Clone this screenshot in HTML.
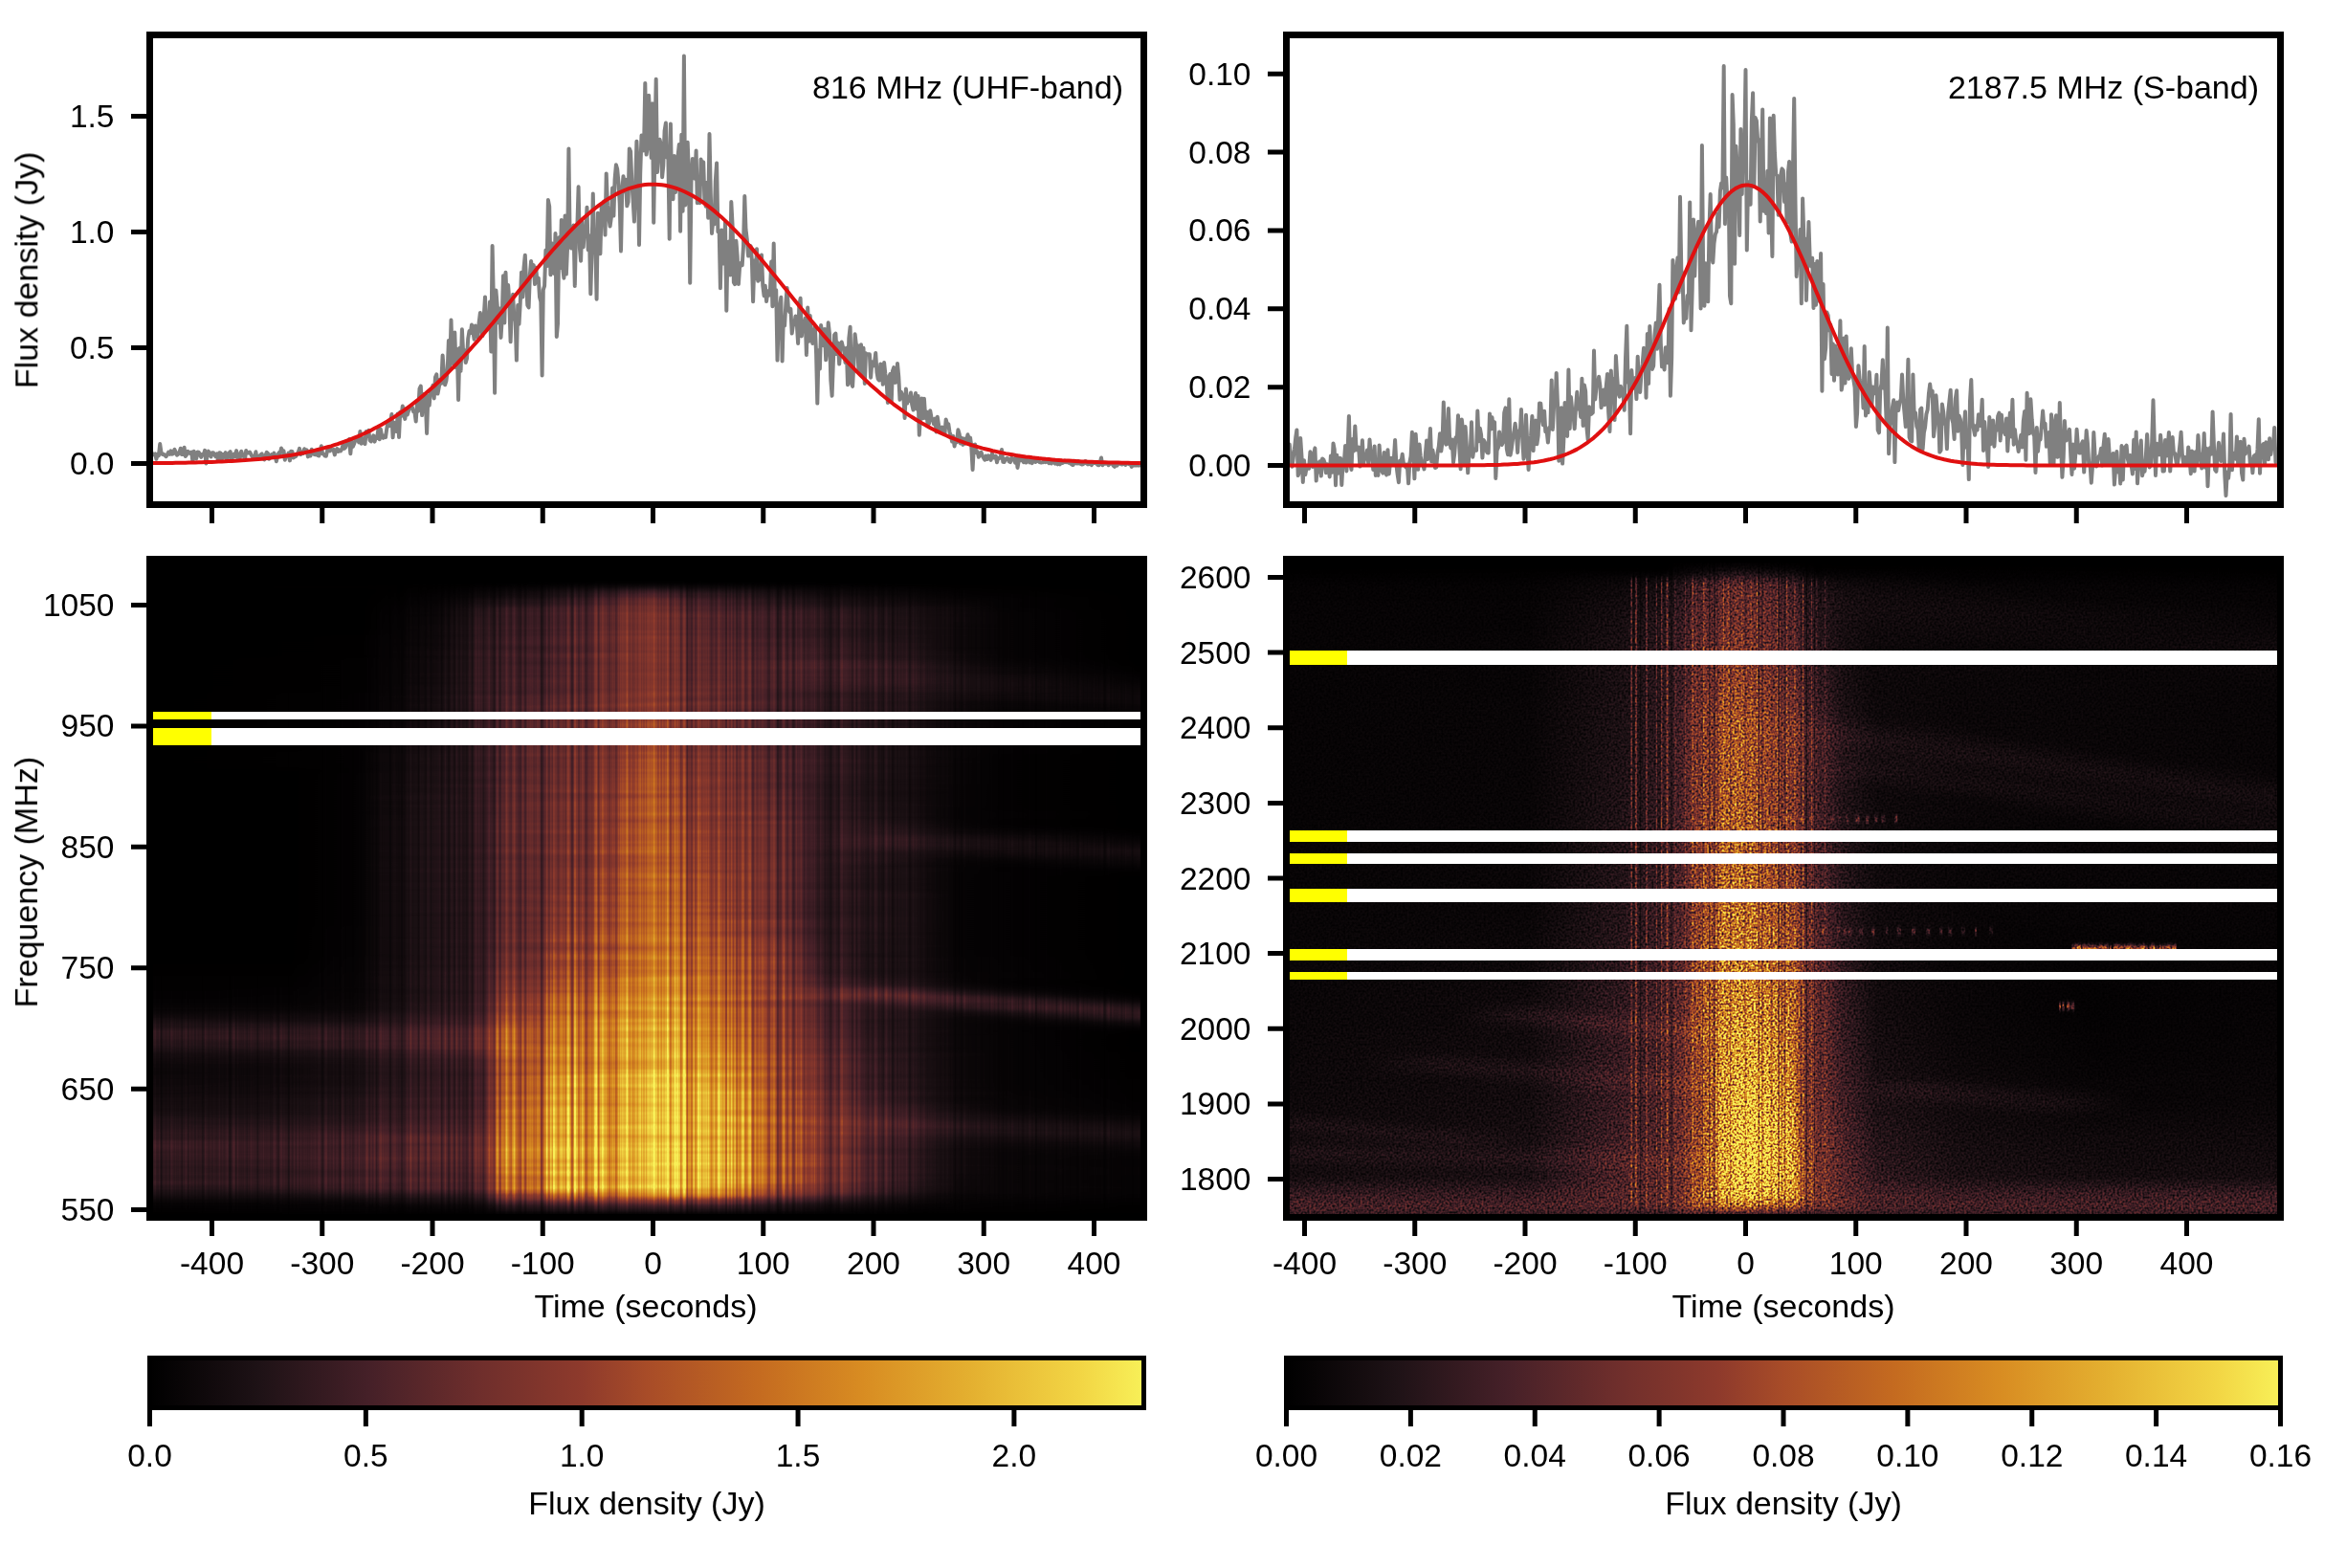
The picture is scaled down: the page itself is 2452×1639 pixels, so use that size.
<!DOCTYPE html><html><head><meta charset="utf-8"><style>html,body{margin:0;padding:0;background:#fff;overflow:hidden}svg{display:block}</style></head><body><svg width="2452" height="1639" viewBox="0 0 2452 1639"><defs><clipPath id="cTL"><rect x="156.5" y="36.5" width="1039" height="491"/></clipPath><clipPath id="cTR"><rect x="1344.5" y="36.5" width="1039" height="491"/></clipPath><clipPath id="cBL"><rect x="156.5" y="584.5" width="1039" height="688"/></clipPath><clipPath id="cBR"><rect x="1344.5" y="584.5" width="1039" height="688"/></clipPath><filter id="fl" x="0" y="0" width="1" height="1" color-interpolation-filters="sRGB"><feGaussianBlur in="SourceGraphic" stdDeviation="1.2 2.5" result="b"/><feTurbulence type="fractalNoise" baseFrequency="0.28 0" numOctaves="2" seed="4"/><feColorMatrix type="matrix" values="1 0 0 0 0 1 0 0 0 0 1 0 0 0 0 0 0 0 0 1" result="n1"/><feComposite in="b" in2="n1" operator="arithmetic" k1="1.25" k2="0.375" k3="0" k4="0" result="m1"/><feTurbulence type="fractalNoise" baseFrequency="0.004 0.15" numOctaves="2" seed="8"/><feColorMatrix type="matrix" values="1 0 0 0 0 1 0 0 0 0 1 0 0 0 0 0 0 0 0 1" result="n2"/><feComposite in="m1" in2="n2" operator="arithmetic" k1="0.3" k2="0.85" k3="0" k4="0"/><feComponentTransfer><feFuncR type="table" tableValues="0.000 0.027 0.053 0.080 0.107 0.139 0.173 0.208 0.243 0.278 0.314 0.351 0.388 0.424 0.455 0.485 0.515 0.545 0.580 0.620 0.659 0.684 0.709 0.734 0.759 0.780 0.798 0.816 0.835 0.851 0.861 0.872 0.883 0.894 0.906 0.919 0.931 0.944 0.954 0.963 0.973"/><feFuncG type="table" tableValues="0.000 0.016 0.032 0.048 0.064 0.078 0.091 0.103 0.116 0.128 0.140 0.153 0.165 0.178 0.189 0.201 0.212 0.223 0.244 0.271 0.298 0.325 0.352 0.378 0.405 0.434 0.466 0.497 0.528 0.559 0.592 0.624 0.657 0.689 0.722 0.755 0.789 0.822 0.860 0.900 0.941"/><feFuncB type="table" tableValues="0.000 0.020 0.039 0.059 0.078 0.096 0.112 0.128 0.144 0.158 0.161 0.165 0.168 0.172 0.173 0.173 0.173 0.173 0.169 0.163 0.157 0.150 0.143 0.135 0.128 0.127 0.128 0.130 0.132 0.137 0.150 0.163 0.175 0.188 0.206 0.223 0.241 0.259 0.285 0.315 0.345"/></feComponentTransfer></filter><filter id="fr" x="0" y="0" width="1" height="1" color-interpolation-filters="sRGB"><feGaussianBlur in="SourceGraphic" stdDeviation="0.6 2.5" result="b"/><feTurbulence type="fractalNoise" baseFrequency="0.45" numOctaves="1" seed="9"/><feColorMatrix type="matrix" values="1 0 0 0 0 1 0 0 0 0 1 0 0 0 0 0 0 0 0 1" result="n1"/><feComposite in="b" in2="n1" operator="arithmetic" k1="2.8" k2="-0.4" k3="0" k4="0"/><feComponentTransfer><feFuncR type="table" tableValues="0.000 0.027 0.053 0.080 0.107 0.139 0.173 0.208 0.243 0.278 0.314 0.351 0.388 0.424 0.455 0.485 0.515 0.545 0.580 0.620 0.659 0.684 0.709 0.734 0.759 0.780 0.798 0.816 0.835 0.851 0.861 0.872 0.883 0.894 0.906 0.919 0.931 0.944 0.954 0.963 0.973"/><feFuncG type="table" tableValues="0.000 0.016 0.032 0.048 0.064 0.078 0.091 0.103 0.116 0.128 0.140 0.153 0.165 0.178 0.189 0.201 0.212 0.223 0.244 0.271 0.298 0.325 0.352 0.378 0.405 0.434 0.466 0.497 0.528 0.559 0.592 0.624 0.657 0.689 0.722 0.755 0.789 0.822 0.860 0.900 0.941"/><feFuncB type="table" tableValues="0.000 0.020 0.039 0.059 0.078 0.096 0.112 0.128 0.144 0.158 0.161 0.165 0.168 0.172 0.173 0.173 0.173 0.173 0.169 0.163 0.157 0.150 0.143 0.135 0.128 0.127 0.128 0.130 0.132 0.137 0.150 0.163 0.175 0.188 0.206 0.223 0.241 0.259 0.285 0.315 0.345"/></feComponentTransfer></filter><linearGradient id="gl7"><stop offset=".002" stop-color="#000000"/><stop offset=".294" stop-color="#020202"/><stop offset=".390" stop-color="#070707"/><stop offset=".502" stop-color="#181818"/><stop offset=".537" stop-color="#111111"/><stop offset=".671" stop-color="#070707"/><stop offset=".813" stop-color="#010101"/><stop offset=".998" stop-color="#000000"/></linearGradient><linearGradient id="gl8"><stop offset=".002" stop-color="#000000"/><stop offset=".213" stop-color="#000000"/><stop offset=".294" stop-color="#030303"/><stop offset=".390" stop-color="#0f0f0f"/><stop offset=".437" stop-color="#1a1a1a"/><stop offset=".502" stop-color="#303030"/><stop offset=".537" stop-color="#212121"/><stop offset=".671" stop-color="#0d0d0d"/><stop offset=".813" stop-color="#030303"/><stop offset=".998" stop-color="#000000"/></linearGradient><linearGradient id="gl9"><stop offset=".002" stop-color="#000000"/><stop offset=".213" stop-color="#000000"/><stop offset=".294" stop-color="#050505"/><stop offset=".390" stop-color="#161616"/><stop offset=".437" stop-color="#272727"/><stop offset=".502" stop-color="#484848"/><stop offset=".537" stop-color="#323232"/><stop offset=".671" stop-color="#141414"/><stop offset=".813" stop-color="#040404"/><stop offset=".998" stop-color="#000000"/></linearGradient><linearGradient id="gl10"><stop offset=".002" stop-color="#000000"/><stop offset=".213" stop-color="#000000"/><stop offset=".290" stop-color="#060606"/><stop offset=".348" stop-color="#161616"/><stop offset=".390" stop-color="#1c1c1c"/><stop offset=".437" stop-color="#2d2d2d"/><stop offset=".502" stop-color="#4f4f4f"/><stop offset=".537" stop-color="#383838"/><stop offset=".671" stop-color="#191919"/><stop offset=".813" stop-color="#060606"/><stop offset=".998" stop-color="#000000"/></linearGradient><linearGradient id="gl11"><stop offset=".002" stop-color="#000000"/><stop offset=".213" stop-color="#000000"/><stop offset=".290" stop-color="#070707"/><stop offset=".337" stop-color="#191919"/><stop offset=".390" stop-color="#222222"/><stop offset=".437" stop-color="#333333"/><stop offset=".502" stop-color="#555555"/><stop offset=".537" stop-color="#3e3e3e"/><stop offset=".583" stop-color="#303030"/><stop offset=".671" stop-color="#1e1e1e"/><stop offset=".860" stop-color="#040404"/><stop offset=".998" stop-color="#000000"/></linearGradient><linearGradient id="gl12"><stop offset=".002" stop-color="#000000"/><stop offset=".213" stop-color="#000000"/><stop offset=".290" stop-color="#090909"/><stop offset=".348" stop-color="#222222"/><stop offset=".390" stop-color="#292929"/><stop offset=".437" stop-color="#393939"/><stop offset=".502" stop-color="#5c5c5c"/><stop offset=".537" stop-color="#444444"/><stop offset=".583" stop-color="#353535"/><stop offset=".667" stop-color="#232323"/><stop offset=".860" stop-color="#040404"/><stop offset=".998" stop-color="#000000"/></linearGradient><linearGradient id="gl13"><stop offset=".002" stop-color="#000000"/><stop offset=".213" stop-color="#000000"/><stop offset=".290" stop-color="#0a0a0a"/><stop offset=".348" stop-color="#292929"/><stop offset=".390" stop-color="#2f2f2f"/><stop offset=".437" stop-color="#3f3f3f"/><stop offset=".502" stop-color="#636363"/><stop offset=".537" stop-color="#4b4b4b"/><stop offset=".583" stop-color="#3a3a3a"/><stop offset=".633" stop-color="#2f2f2f"/><stop offset=".860" stop-color="#050505"/><stop offset=".998" stop-color="#000000"/></linearGradient><linearGradient id="gl14"><stop offset=".002" stop-color="#000000"/><stop offset=".213" stop-color="#000000"/><stop offset=".290" stop-color="#0b0b0b"/><stop offset=".337" stop-color="#272727"/><stop offset=".352" stop-color="#2d2d2d"/><stop offset=".390" stop-color="#323232"/><stop offset=".437" stop-color="#434343"/><stop offset=".502" stop-color="#666666"/><stop offset=".537" stop-color="#4e4e4e"/><stop offset=".583" stop-color="#3d3d3d"/><stop offset=".633" stop-color="#323232"/><stop offset=".860" stop-color="#060606"/><stop offset=".998" stop-color="#000000"/></linearGradient><linearGradient id="gl15"><stop offset=".002" stop-color="#000000"/><stop offset=".213" stop-color="#000000"/><stop offset=".290" stop-color="#0c0c0c"/><stop offset=".337" stop-color="#282828"/><stop offset=".390" stop-color="#333333"/><stop offset=".437" stop-color="#434343"/><stop offset=".502" stop-color="#666666"/><stop offset=".537" stop-color="#4e4e4e"/><stop offset=".579" stop-color="#3f3f3f"/><stop offset=".667" stop-color="#2b2b2b"/><stop offset=".860" stop-color="#060606"/><stop offset=".998" stop-color="#000000"/></linearGradient><linearGradient id="gl16"><stop offset=".002" stop-color="#000000"/><stop offset=".213" stop-color="#000000"/><stop offset=".290" stop-color="#0c0c0c"/><stop offset=".337" stop-color="#292929"/><stop offset=".390" stop-color="#333333"/><stop offset=".437" stop-color="#444444"/><stop offset=".502" stop-color="#676767"/><stop offset=".537" stop-color="#4f4f4f"/><stop offset=".579" stop-color="#3f3f3f"/><stop offset=".667" stop-color="#2b2b2b"/><stop offset=".860" stop-color="#060606"/><stop offset=".998" stop-color="#000000"/></linearGradient><linearGradient id="gl17"><stop offset=".002" stop-color="#000000"/><stop offset=".213" stop-color="#000000"/><stop offset=".290" stop-color="#0d0d0d"/><stop offset=".337" stop-color="#292929"/><stop offset=".390" stop-color="#333333"/><stop offset=".437" stop-color="#444444"/><stop offset=".502" stop-color="#676767"/><stop offset=".537" stop-color="#4f4f4f"/><stop offset=".583" stop-color="#3f3f3f"/><stop offset=".671" stop-color="#2b2b2b"/><stop offset=".767" stop-color="#1a1a1a"/><stop offset=".813" stop-color="#0d0d0d"/><stop offset=".860" stop-color="#060606"/><stop offset=".998" stop-color="#000000"/></linearGradient><linearGradient id="gl18"><stop offset=".002" stop-color="#000000"/><stop offset=".213" stop-color="#000000"/><stop offset=".290" stop-color="#0d0d0d"/><stop offset=".337" stop-color="#2a2a2a"/><stop offset=".390" stop-color="#343434"/><stop offset=".437" stop-color="#454545"/><stop offset=".502" stop-color="#676767"/><stop offset=".537" stop-color="#505050"/><stop offset=".583" stop-color="#3f3f3f"/><stop offset=".671" stop-color="#2b2b2b"/><stop offset=".767" stop-color="#1a1a1a"/><stop offset=".813" stop-color="#0d0d0d"/><stop offset=".860" stop-color="#060606"/><stop offset=".998" stop-color="#000000"/></linearGradient><linearGradient id="gl19"><stop offset=".002" stop-color="#000000"/><stop offset=".213" stop-color="#000000"/><stop offset=".290" stop-color="#0e0e0e"/><stop offset=".337" stop-color="#2b2b2b"/><stop offset=".390" stop-color="#343434"/><stop offset=".437" stop-color="#454545"/><stop offset=".502" stop-color="#676767"/><stop offset=".537" stop-color="#505050"/><stop offset=".583" stop-color="#404040"/><stop offset=".671" stop-color="#2b2b2b"/><stop offset=".767" stop-color="#1a1a1a"/><stop offset=".813" stop-color="#0d0d0d"/><stop offset=".860" stop-color="#060606"/><stop offset=".998" stop-color="#000000"/></linearGradient><linearGradient id="gl20"><stop offset=".002" stop-color="#000000"/><stop offset=".213" stop-color="#010101"/><stop offset=".290" stop-color="#0e0e0e"/><stop offset=".337" stop-color="#2b2b2b"/><stop offset=".390" stop-color="#353535"/><stop offset=".437" stop-color="#454545"/><stop offset=".502" stop-color="#686868"/><stop offset=".537" stop-color="#505050"/><stop offset=".583" stop-color="#414141"/><stop offset=".671" stop-color="#2b2b2b"/><stop offset=".767" stop-color="#1b1b1b"/><stop offset=".813" stop-color="#0d0d0d"/><stop offset=".860" stop-color="#060606"/><stop offset=".998" stop-color="#000000"/></linearGradient><linearGradient id="gl21"><stop offset=".002" stop-color="#000000"/><stop offset=".213" stop-color="#010101"/><stop offset=".290" stop-color="#0f0f0f"/><stop offset=".337" stop-color="#2c2c2c"/><stop offset=".390" stop-color="#353535"/><stop offset=".437" stop-color="#464646"/><stop offset=".502" stop-color="#686868"/><stop offset=".537" stop-color="#515151"/><stop offset=".579" stop-color="#424242"/><stop offset=".671" stop-color="#2c2c2c"/><stop offset=".767" stop-color="#1b1b1b"/><stop offset=".813" stop-color="#0d0d0d"/><stop offset=".860" stop-color="#060606"/><stop offset=".998" stop-color="#000000"/></linearGradient><linearGradient id="gl22"><stop offset=".002" stop-color="#000000"/><stop offset=".213" stop-color="#010101"/><stop offset=".290" stop-color="#0f0f0f"/><stop offset=".337" stop-color="#2c2c2c"/><stop offset=".390" stop-color="#363636"/><stop offset=".437" stop-color="#464646"/><stop offset=".502" stop-color="#686868"/><stop offset=".537" stop-color="#515151"/><stop offset=".579" stop-color="#434343"/><stop offset=".671" stop-color="#2d2d2d"/><stop offset=".767" stop-color="#1c1c1c"/><stop offset=".813" stop-color="#0d0d0d"/><stop offset=".860" stop-color="#060606"/><stop offset=".998" stop-color="#000000"/></linearGradient><linearGradient id="gl23"><stop offset=".002" stop-color="#000000"/><stop offset=".213" stop-color="#010101"/><stop offset=".290" stop-color="#101010"/><stop offset=".337" stop-color="#2d2d2d"/><stop offset=".390" stop-color="#363636"/><stop offset=".437" stop-color="#474747"/><stop offset=".502" stop-color="#696969"/><stop offset=".537" stop-color="#525252"/><stop offset=".579" stop-color="#444444"/><stop offset=".671" stop-color="#2e2e2e"/><stop offset=".767" stop-color="#1c1c1c"/><stop offset=".813" stop-color="#0d0d0d"/><stop offset=".860" stop-color="#060606"/><stop offset=".998" stop-color="#000000"/></linearGradient><linearGradient id="gl24"><stop offset=".002" stop-color="#000000"/><stop offset=".213" stop-color="#010101"/><stop offset=".290" stop-color="#101010"/><stop offset=".337" stop-color="#2e2e2e"/><stop offset=".390" stop-color="#373737"/><stop offset=".437" stop-color="#474747"/><stop offset=".502" stop-color="#696969"/><stop offset=".537" stop-color="#525252"/><stop offset=".579" stop-color="#454545"/><stop offset=".767" stop-color="#1e1e1e"/><stop offset=".813" stop-color="#0e0e0e"/><stop offset=".860" stop-color="#060606"/><stop offset=".998" stop-color="#000000"/></linearGradient><linearGradient id="gl25"><stop offset=".002" stop-color="#000000"/><stop offset=".217" stop-color="#010101"/><stop offset=".290" stop-color="#111111"/><stop offset=".337" stop-color="#2e2e2e"/><stop offset=".390" stop-color="#373737"/><stop offset=".437" stop-color="#484848"/><stop offset=".502" stop-color="#696969"/><stop offset=".537" stop-color="#535353"/><stop offset=".563" stop-color="#4a4a4a"/><stop offset=".767" stop-color="#1f1f1f"/><stop offset=".813" stop-color="#0f0f0f"/><stop offset=".860" stop-color="#060606"/><stop offset=".998" stop-color="#000000"/></linearGradient><linearGradient id="gl26"><stop offset=".002" stop-color="#000000"/><stop offset=".217" stop-color="#020202"/><stop offset=".290" stop-color="#111111"/><stop offset=".337" stop-color="#2f2f2f"/><stop offset=".390" stop-color="#373737"/><stop offset=".437" stop-color="#484848"/><stop offset=".502" stop-color="#696969"/><stop offset=".537" stop-color="#535353"/><stop offset=".563" stop-color="#4b4b4b"/><stop offset=".725" stop-color="#2c2c2c"/><stop offset=".767" stop-color="#222222"/><stop offset=".813" stop-color="#101010"/><stop offset=".860" stop-color="#070707"/><stop offset=".998" stop-color="#000000"/></linearGradient><linearGradient id="gl27"><stop offset=".002" stop-color="#000000"/><stop offset=".217" stop-color="#020202"/><stop offset=".290" stop-color="#121212"/><stop offset=".337" stop-color="#2f2f2f"/><stop offset=".390" stop-color="#383838"/><stop offset=".437" stop-color="#494949"/><stop offset=".502" stop-color="#6a6a6a"/><stop offset=".537" stop-color="#545454"/><stop offset=".563" stop-color="#4b4b4b"/><stop offset=".725" stop-color="#2e2e2e"/><stop offset=".767" stop-color="#242424"/><stop offset=".825" stop-color="#101010"/><stop offset=".860" stop-color="#090909"/><stop offset=".998" stop-color="#000000"/></linearGradient><linearGradient id="gl28"><stop offset=".002" stop-color="#000000"/><stop offset=".217" stop-color="#020202"/><stop offset=".290" stop-color="#121212"/><stop offset=".337" stop-color="#2f2f2f"/><stop offset=".390" stop-color="#393939"/><stop offset=".437" stop-color="#494949"/><stop offset=".502" stop-color="#6a6a6a"/><stop offset=".537" stop-color="#545454"/><stop offset=".563" stop-color="#4c4c4c"/><stop offset=".737" stop-color="#2e2e2e"/><stop offset=".771" stop-color="#252525"/><stop offset=".813" stop-color="#151515"/><stop offset=".860" stop-color="#0b0b0b"/><stop offset=".998" stop-color="#010101"/></linearGradient><linearGradient id="gl29"><stop offset=".002" stop-color="#000000"/><stop offset=".217" stop-color="#020202"/><stop offset=".290" stop-color="#121212"/><stop offset=".337" stop-color="#303030"/><stop offset=".390" stop-color="#3a3a3a"/><stop offset=".437" stop-color="#4a4a4a"/><stop offset=".502" stop-color="#6b6b6b"/><stop offset=".537" stop-color="#555555"/><stop offset=".563" stop-color="#4c4c4c"/><stop offset=".767" stop-color="#282828"/><stop offset=".813" stop-color="#171717"/><stop offset=".860" stop-color="#0d0d0d"/><stop offset=".998" stop-color="#010101"/></linearGradient><linearGradient id="gl30"><stop offset=".002" stop-color="#000000"/><stop offset=".217" stop-color="#020202"/><stop offset=".290" stop-color="#131313"/><stop offset=".337" stop-color="#303030"/><stop offset=".390" stop-color="#3b3b3b"/><stop offset=".437" stop-color="#4b4b4b"/><stop offset=".502" stop-color="#6b6b6b"/><stop offset=".537" stop-color="#565656"/><stop offset=".583" stop-color="#484848"/><stop offset=".671" stop-color="#373737"/><stop offset=".767" stop-color="#292929"/><stop offset=".813" stop-color="#191919"/><stop offset=".860" stop-color="#0f0f0f"/><stop offset=".998" stop-color="#030303"/></linearGradient><linearGradient id="gl31"><stop offset=".002" stop-color="#000000"/><stop offset=".217" stop-color="#020202"/><stop offset=".290" stop-color="#131313"/><stop offset=".337" stop-color="#303030"/><stop offset=".390" stop-color="#3c3c3c"/><stop offset=".402" stop-color="#424242"/><stop offset=".437" stop-color="#4b4b4b"/><stop offset=".502" stop-color="#6c6c6c"/><stop offset=".537" stop-color="#565656"/><stop offset=".560" stop-color="#4f4f4f"/><stop offset=".667" stop-color="#363636"/><stop offset=".767" stop-color="#292929"/><stop offset=".813" stop-color="#1a1a1a"/><stop offset=".860" stop-color="#121212"/><stop offset=".998" stop-color="#040404"/></linearGradient><linearGradient id="gl32"><stop offset=".002" stop-color="#000000"/><stop offset=".217" stop-color="#020202"/><stop offset=".290" stop-color="#131313"/><stop offset=".337" stop-color="#303030"/><stop offset=".390" stop-color="#3d3d3d"/><stop offset=".402" stop-color="#434343"/><stop offset=".437" stop-color="#4c4c4c"/><stop offset=".502" stop-color="#6c6c6c"/><stop offset=".537" stop-color="#575757"/><stop offset=".560" stop-color="#4f4f4f"/><stop offset=".671" stop-color="#333333"/><stop offset=".767" stop-color="#282828"/><stop offset=".813" stop-color="#1a1a1a"/><stop offset=".860" stop-color="#131313"/><stop offset=".998" stop-color="#060606"/></linearGradient><linearGradient id="gl33"><stop offset=".002" stop-color="#000000"/><stop offset=".217" stop-color="#020202"/><stop offset=".290" stop-color="#141414"/><stop offset=".337" stop-color="#313131"/><stop offset=".437" stop-color="#4c4c4c"/><stop offset=".502" stop-color="#6c6c6c"/><stop offset=".537" stop-color="#575757"/><stop offset=".671" stop-color="#323232"/><stop offset=".767" stop-color="#252525"/><stop offset=".813" stop-color="#191919"/><stop offset=".860" stop-color="#131313"/><stop offset=".998" stop-color="#090909"/></linearGradient><linearGradient id="gl34"><stop offset=".002" stop-color="#000000"/><stop offset=".217" stop-color="#020202"/><stop offset=".290" stop-color="#141414"/><stop offset=".337" stop-color="#313131"/><stop offset=".437" stop-color="#4d4d4d"/><stop offset=".502" stop-color="#6d6d6d"/><stop offset=".537" stop-color="#585858"/><stop offset=".671" stop-color="#303030"/><stop offset=".767" stop-color="#232323"/><stop offset=".813" stop-color="#171717"/><stop offset=".860" stop-color="#111111"/><stop offset=".998" stop-color="#0b0b0b"/></linearGradient><linearGradient id="gl35"><stop offset=".002" stop-color="#000000"/><stop offset=".217" stop-color="#030303"/><stop offset=".290" stop-color="#141414"/><stop offset=".337" stop-color="#313131"/><stop offset=".437" stop-color="#4e4e4e"/><stop offset=".502" stop-color="#6d6d6d"/><stop offset=".537" stop-color="#595959"/><stop offset=".671" stop-color="#2f2f2f"/><stop offset=".767" stop-color="#212121"/><stop offset=".813" stop-color="#141414"/><stop offset=".860" stop-color="#0f0f0f"/><stop offset=".998" stop-color="#0d0d0d"/></linearGradient><linearGradient id="gl36"><stop offset=".002" stop-color="#000000"/><stop offset=".217" stop-color="#030303"/><stop offset=".290" stop-color="#151515"/><stop offset=".337" stop-color="#323232"/><stop offset=".437" stop-color="#4e4e4e"/><stop offset=".502" stop-color="#6e6e6e"/><stop offset=".537" stop-color="#595959"/><stop offset=".671" stop-color="#2f2f2f"/><stop offset=".767" stop-color="#1f1f1f"/><stop offset=".813" stop-color="#121212"/><stop offset=".860" stop-color="#0d0d0d"/><stop offset=".998" stop-color="#0d0d0d"/></linearGradient><linearGradient id="gl37"><stop offset=".002" stop-color="#000000"/><stop offset=".217" stop-color="#030303"/><stop offset=".290" stop-color="#151515"/><stop offset=".337" stop-color="#323232"/><stop offset=".390" stop-color="#414141"/><stop offset=".402" stop-color="#474747"/><stop offset=".437" stop-color="#4f4f4f"/><stop offset=".502" stop-color="#6e6e6e"/><stop offset=".537" stop-color="#5a5a5a"/><stop offset=".671" stop-color="#2e2e2e"/><stop offset=".767" stop-color="#1e1e1e"/><stop offset=".813" stop-color="#101010"/><stop offset=".860" stop-color="#0b0b0b"/><stop offset=".998" stop-color="#0c0c0c"/></linearGradient><linearGradient id="gl38"><stop offset=".002" stop-color="#000000"/><stop offset=".217" stop-color="#030303"/><stop offset=".290" stop-color="#161616"/><stop offset=".337" stop-color="#323232"/><stop offset=".402" stop-color="#484848"/><stop offset=".437" stop-color="#505050"/><stop offset=".502" stop-color="#6f6f6f"/><stop offset=".537" stop-color="#5b5b5b"/><stop offset=".671" stop-color="#2e2e2e"/><stop offset=".767" stop-color="#1d1d1d"/><stop offset=".813" stop-color="#0f0f0f"/><stop offset=".860" stop-color="#090909"/><stop offset=".998" stop-color="#0b0b0b"/></linearGradient><linearGradient id="gl39"><stop offset=".002" stop-color="#000000"/><stop offset=".217" stop-color="#030303"/><stop offset=".290" stop-color="#161616"/><stop offset=".337" stop-color="#323232"/><stop offset=".402" stop-color="#494949"/><stop offset=".437" stop-color="#505050"/><stop offset=".502" stop-color="#707070"/><stop offset=".537" stop-color="#5b5b5b"/><stop offset=".671" stop-color="#2e2e2e"/><stop offset=".767" stop-color="#1c1c1c"/><stop offset=".813" stop-color="#0e0e0e"/><stop offset=".860" stop-color="#070707"/><stop offset=".998" stop-color="#080808"/></linearGradient><linearGradient id="gl40"><stop offset=".002" stop-color="#000000"/><stop offset=".217" stop-color="#030303"/><stop offset=".290" stop-color="#161616"/><stop offset=".348" stop-color="#373737"/><stop offset=".402" stop-color="#494949"/><stop offset=".437" stop-color="#515151"/><stop offset=".502" stop-color="#727272"/><stop offset=".537" stop-color="#5d5d5d"/><stop offset=".671" stop-color="#2e2e2e"/><stop offset=".767" stop-color="#1b1b1b"/><stop offset=".813" stop-color="#0d0d0d"/><stop offset=".860" stop-color="#060606"/><stop offset=".998" stop-color="#060606"/></linearGradient><linearGradient id="gl41"><stop offset=".002" stop-color="#000000"/><stop offset=".217" stop-color="#030303"/><stop offset=".290" stop-color="#171717"/><stop offset=".348" stop-color="#383838"/><stop offset=".402" stop-color="#4a4a4a"/><stop offset=".437" stop-color="#525252"/><stop offset=".467" stop-color="#5f5f5f"/><stop offset=".502" stop-color="#747474"/><stop offset=".537" stop-color="#5e5e5e"/><stop offset=".671" stop-color="#2e2e2e"/><stop offset=".767" stop-color="#1b1b1b"/><stop offset=".813" stop-color="#0c0c0c"/><stop offset=".860" stop-color="#060606"/><stop offset=".998" stop-color="#040404"/></linearGradient><linearGradient id="gl42"><stop offset=".002" stop-color="#000000"/><stop offset=".217" stop-color="#030303"/><stop offset=".290" stop-color="#171717"/><stop offset=".352" stop-color="#3a3a3a"/><stop offset=".402" stop-color="#4b4b4b"/><stop offset=".437" stop-color="#525252"/><stop offset=".467" stop-color="#606060"/><stop offset=".502" stop-color="#777777"/><stop offset=".537" stop-color="#5f5f5f"/><stop offset=".671" stop-color="#2e2e2e"/><stop offset=".767" stop-color="#1a1a1a"/><stop offset=".810" stop-color="#0d0d0d"/><stop offset=".860" stop-color="#050505"/><stop offset=".998" stop-color="#020202"/></linearGradient><linearGradient id="gl43"><stop offset=".002" stop-color="#000000"/><stop offset=".217" stop-color="#030303"/><stop offset=".290" stop-color="#181818"/><stop offset=".352" stop-color="#3a3a3a"/><stop offset=".402" stop-color="#4b4b4b"/><stop offset=".437" stop-color="#535353"/><stop offset=".467" stop-color="#606060"/><stop offset=".502" stop-color="#797979"/><stop offset=".537" stop-color="#606060"/><stop offset=".671" stop-color="#2e2e2e"/><stop offset=".767" stop-color="#191919"/><stop offset=".810" stop-color="#0c0c0c"/><stop offset=".860" stop-color="#050505"/><stop offset=".998" stop-color="#010101"/></linearGradient><linearGradient id="gl44"><stop offset=".002" stop-color="#000000"/><stop offset=".217" stop-color="#040404"/><stop offset=".237" stop-color="#0b0b0b"/><stop offset=".290" stop-color="#181818"/><stop offset=".352" stop-color="#3b3b3b"/><stop offset=".402" stop-color="#4c4c4c"/><stop offset=".437" stop-color="#545454"/><stop offset=".467" stop-color="#616161"/><stop offset=".502" stop-color="#7b7b7b"/><stop offset=".537" stop-color="#616161"/><stop offset=".671" stop-color="#2e2e2e"/><stop offset=".767" stop-color="#191919"/><stop offset=".810" stop-color="#0c0c0c"/><stop offset=".860" stop-color="#050505"/><stop offset=".998" stop-color="#010101"/></linearGradient><linearGradient id="gl45"><stop offset=".002" stop-color="#000000"/><stop offset=".137" stop-color="#000000"/><stop offset=".217" stop-color="#040404"/><stop offset=".237" stop-color="#0c0c0c"/><stop offset=".290" stop-color="#191919"/><stop offset=".333" stop-color="#2e2e2e"/><stop offset=".352" stop-color="#3b3b3b"/><stop offset=".402" stop-color="#4d4d4d"/><stop offset=".437" stop-color="#545454"/><stop offset=".467" stop-color="#616161"/><stop offset=".502" stop-color="#7d7d7d"/><stop offset=".537" stop-color="#626262"/><stop offset=".671" stop-color="#2e2e2e"/><stop offset=".813" stop-color="#0b0b0b"/><stop offset=".860" stop-color="#040404"/><stop offset=".998" stop-color="#000000"/></linearGradient><linearGradient id="gl46"><stop offset=".002" stop-color="#000000"/><stop offset=".137" stop-color="#000000"/><stop offset=".217" stop-color="#040404"/><stop offset=".237" stop-color="#0c0c0c"/><stop offset=".294" stop-color="#1a1a1a"/><stop offset=".333" stop-color="#2d2d2d"/><stop offset=".352" stop-color="#3b3b3b"/><stop offset=".398" stop-color="#4c4c4c"/><stop offset=".437" stop-color="#555555"/><stop offset=".467" stop-color="#626262"/><stop offset=".502" stop-color="#808080"/><stop offset=".537" stop-color="#646464"/><stop offset=".671" stop-color="#2e2e2e"/><stop offset=".813" stop-color="#0a0a0a"/><stop offset=".860" stop-color="#040404"/><stop offset=".998" stop-color="#000000"/></linearGradient><linearGradient id="gl47"><stop offset=".002" stop-color="#000000"/><stop offset=".137" stop-color="#000000"/><stop offset=".217" stop-color="#040404"/><stop offset=".237" stop-color="#0c0c0c"/><stop offset=".294" stop-color="#1b1b1b"/><stop offset=".333" stop-color="#2d2d2d"/><stop offset=".352" stop-color="#3c3c3c"/><stop offset=".467" stop-color="#626262"/><stop offset=".502" stop-color="#828282"/><stop offset=".537" stop-color="#656565"/><stop offset=".671" stop-color="#2e2e2e"/><stop offset=".813" stop-color="#0a0a0a"/><stop offset=".860" stop-color="#040404"/><stop offset=".998" stop-color="#000000"/></linearGradient><linearGradient id="gl48"><stop offset=".002" stop-color="#000000"/><stop offset=".137" stop-color="#000000"/><stop offset=".217" stop-color="#040404"/><stop offset=".237" stop-color="#0d0d0d"/><stop offset=".294" stop-color="#1b1b1b"/><stop offset=".333" stop-color="#2c2c2c"/><stop offset=".352" stop-color="#3c3c3c"/><stop offset=".467" stop-color="#626262"/><stop offset=".502" stop-color="#848484"/><stop offset=".537" stop-color="#666666"/><stop offset=".671" stop-color="#2e2e2e"/><stop offset=".813" stop-color="#0a0a0a"/><stop offset=".860" stop-color="#040404"/><stop offset=".998" stop-color="#000000"/></linearGradient><linearGradient id="gl49"><stop offset=".002" stop-color="#000000"/><stop offset=".137" stop-color="#000000"/><stop offset=".217" stop-color="#040404"/><stop offset=".237" stop-color="#0d0d0d"/><stop offset=".294" stop-color="#1c1c1c"/><stop offset=".333" stop-color="#2c2c2c"/><stop offset=".352" stop-color="#3d3d3d"/><stop offset=".390" stop-color="#4c4c4c"/><stop offset=".437" stop-color="#575757"/><stop offset=".467" stop-color="#636363"/><stop offset=".502" stop-color="#868686"/><stop offset=".537" stop-color="#676767"/><stop offset=".629" stop-color="#424242"/><stop offset=".671" stop-color="#2e2e2e"/><stop offset=".813" stop-color="#090909"/><stop offset=".860" stop-color="#040404"/><stop offset=".998" stop-color="#000000"/></linearGradient><linearGradient id="gl50"><stop offset=".002" stop-color="#000000"/><stop offset=".213" stop-color="#030303"/><stop offset=".237" stop-color="#0d0d0d"/><stop offset=".294" stop-color="#1c1c1c"/><stop offset=".333" stop-color="#2c2c2c"/><stop offset=".352" stop-color="#3d3d3d"/><stop offset=".390" stop-color="#4d4d4d"/><stop offset=".437" stop-color="#585858"/><stop offset=".467" stop-color="#636363"/><stop offset=".502" stop-color="#888888"/><stop offset=".537" stop-color="#686868"/><stop offset=".583" stop-color="#575757"/><stop offset=".671" stop-color="#2e2e2e"/><stop offset=".813" stop-color="#090909"/><stop offset=".860" stop-color="#040404"/><stop offset=".998" stop-color="#000000"/></linearGradient><linearGradient id="gl51"><stop offset=".002" stop-color="#000000"/><stop offset=".213" stop-color="#030303"/><stop offset=".237" stop-color="#0e0e0e"/><stop offset=".290" stop-color="#1b1b1b"/><stop offset=".333" stop-color="#2b2b2b"/><stop offset=".352" stop-color="#3e3e3e"/><stop offset=".390" stop-color="#4e4e4e"/><stop offset=".437" stop-color="#595959"/><stop offset=".467" stop-color="#646464"/><stop offset=".502" stop-color="#8b8b8b"/><stop offset=".537" stop-color="#696969"/><stop offset=".583" stop-color="#585858"/><stop offset=".671" stop-color="#2e2e2e"/><stop offset=".813" stop-color="#090909"/><stop offset=".860" stop-color="#030303"/><stop offset=".998" stop-color="#000000"/></linearGradient><linearGradient id="gl52"><stop offset=".002" stop-color="#000000"/><stop offset=".213" stop-color="#030303"/><stop offset=".237" stop-color="#0e0e0e"/><stop offset=".290" stop-color="#1b1b1b"/><stop offset=".333" stop-color="#2b2b2b"/><stop offset=".352" stop-color="#3e3e3e"/><stop offset=".390" stop-color="#4e4e4e"/><stop offset=".437" stop-color="#595959"/><stop offset=".467" stop-color="#656565"/><stop offset=".502" stop-color="#8b8b8b"/><stop offset=".537" stop-color="#6a6a6a"/><stop offset=".629" stop-color="#444444"/><stop offset=".671" stop-color="#2e2e2e"/><stop offset=".813" stop-color="#080808"/><stop offset=".860" stop-color="#030303"/><stop offset=".998" stop-color="#000000"/></linearGradient><linearGradient id="gl53"><stop offset=".002" stop-color="#000000"/><stop offset=".213" stop-color="#030303"/><stop offset=".237" stop-color="#0e0e0e"/><stop offset=".290" stop-color="#1c1c1c"/><stop offset=".333" stop-color="#2b2b2b"/><stop offset=".352" stop-color="#3f3f3f"/><stop offset=".467" stop-color="#656565"/><stop offset=".502" stop-color="#8c8c8c"/><stop offset=".537" stop-color="#6c6c6c"/><stop offset=".629" stop-color="#464646"/><stop offset=".671" stop-color="#2e2e2e"/><stop offset=".813" stop-color="#080808"/><stop offset=".860" stop-color="#030303"/><stop offset=".998" stop-color="#000000"/></linearGradient><linearGradient id="gl54"><stop offset=".002" stop-color="#000000"/><stop offset=".213" stop-color="#030303"/><stop offset=".237" stop-color="#0e0e0e"/><stop offset=".290" stop-color="#1c1c1c"/><stop offset=".333" stop-color="#2b2b2b"/><stop offset=".352" stop-color="#3f3f3f"/><stop offset=".398" stop-color="#515151"/><stop offset=".437" stop-color="#5a5a5a"/><stop offset=".467" stop-color="#666666"/><stop offset=".502" stop-color="#8c8c8c"/><stop offset=".537" stop-color="#6d6d6d"/><stop offset=".629" stop-color="#474747"/><stop offset=".671" stop-color="#2e2e2e"/><stop offset=".813" stop-color="#080808"/><stop offset=".860" stop-color="#030303"/><stop offset=".998" stop-color="#000000"/></linearGradient><linearGradient id="gl55"><stop offset=".002" stop-color="#000000"/><stop offset=".137" stop-color="#000000"/><stop offset=".213" stop-color="#030303"/><stop offset=".237" stop-color="#0e0e0e"/><stop offset=".290" stop-color="#1c1c1c"/><stop offset=".333" stop-color="#2b2b2b"/><stop offset=".352" stop-color="#404040"/><stop offset=".398" stop-color="#515151"/><stop offset=".437" stop-color="#5a5a5a"/><stop offset=".467" stop-color="#676767"/><stop offset=".502" stop-color="#8d8d8d"/><stop offset=".537" stop-color="#6e6e6e"/><stop offset=".629" stop-color="#484848"/><stop offset=".671" stop-color="#2e2e2e"/><stop offset=".813" stop-color="#080808"/><stop offset=".860" stop-color="#030303"/><stop offset=".998" stop-color="#000000"/></linearGradient><linearGradient id="gl56"><stop offset=".002" stop-color="#000000"/><stop offset=".137" stop-color="#000000"/><stop offset=".213" stop-color="#040404"/><stop offset=".237" stop-color="#0f0f0f"/><stop offset=".290" stop-color="#1c1c1c"/><stop offset=".333" stop-color="#2b2b2b"/><stop offset=".352" stop-color="#404040"/><stop offset=".402" stop-color="#525252"/><stop offset=".437" stop-color="#5a5a5a"/><stop offset=".467" stop-color="#686868"/><stop offset=".502" stop-color="#8d8d8d"/><stop offset=".537" stop-color="#6f6f6f"/><stop offset=".629" stop-color="#494949"/><stop offset=".671" stop-color="#2e2e2e"/><stop offset=".813" stop-color="#080808"/><stop offset=".860" stop-color="#030303"/><stop offset=".998" stop-color="#000000"/></linearGradient><linearGradient id="gl57"><stop offset=".002" stop-color="#000000"/><stop offset=".137" stop-color="#000000"/><stop offset=".213" stop-color="#040404"/><stop offset=".237" stop-color="#0f0f0f"/><stop offset=".290" stop-color="#1c1c1c"/><stop offset=".333" stop-color="#2b2b2b"/><stop offset=".352" stop-color="#414141"/><stop offset=".402" stop-color="#535353"/><stop offset=".437" stop-color="#5a5a5a"/><stop offset=".467" stop-color="#696969"/><stop offset=".502" stop-color="#8e8e8e"/><stop offset=".537" stop-color="#707070"/><stop offset=".629" stop-color="#4a4a4a"/><stop offset=".671" stop-color="#2e2e2e"/><stop offset=".813" stop-color="#080808"/><stop offset=".860" stop-color="#030303"/><stop offset=".998" stop-color="#000000"/></linearGradient><linearGradient id="gl58"><stop offset=".002" stop-color="#000000"/><stop offset=".137" stop-color="#000000"/><stop offset=".213" stop-color="#040404"/><stop offset=".237" stop-color="#0f0f0f"/><stop offset=".290" stop-color="#1c1c1c"/><stop offset=".333" stop-color="#2b2b2b"/><stop offset=".352" stop-color="#424242"/><stop offset=".402" stop-color="#535353"/><stop offset=".437" stop-color="#5b5b5b"/><stop offset=".467" stop-color="#6a6a6a"/><stop offset=".502" stop-color="#8e8e8e"/><stop offset=".537" stop-color="#717171"/><stop offset=".629" stop-color="#4b4b4b"/><stop offset=".671" stop-color="#2e2e2e"/><stop offset=".813" stop-color="#080808"/><stop offset=".860" stop-color="#030303"/><stop offset=".998" stop-color="#000000"/></linearGradient><linearGradient id="gl59"><stop offset=".002" stop-color="#000000"/><stop offset=".137" stop-color="#000000"/><stop offset=".213" stop-color="#040404"/><stop offset=".237" stop-color="#0f0f0f"/><stop offset=".290" stop-color="#1d1d1d"/><stop offset=".333" stop-color="#2b2b2b"/><stop offset=".352" stop-color="#424242"/><stop offset=".402" stop-color="#545454"/><stop offset=".437" stop-color="#5b5b5b"/><stop offset=".467" stop-color="#6a6a6a"/><stop offset=".502" stop-color="#8f8f8f"/><stop offset=".537" stop-color="#727272"/><stop offset=".583" stop-color="#5c5c5c"/><stop offset=".629" stop-color="#4c4c4c"/><stop offset=".671" stop-color="#2d2d2d"/><stop offset=".813" stop-color="#070707"/><stop offset=".860" stop-color="#030303"/><stop offset=".998" stop-color="#000000"/></linearGradient><linearGradient id="gl60"><stop offset=".002" stop-color="#000000"/><stop offset=".137" stop-color="#000000"/><stop offset=".213" stop-color="#040404"/><stop offset=".237" stop-color="#0f0f0f"/><stop offset=".290" stop-color="#1d1d1d"/><stop offset=".333" stop-color="#2b2b2b"/><stop offset=".352" stop-color="#434343"/><stop offset=".402" stop-color="#545454"/><stop offset=".437" stop-color="#5b5b5b"/><stop offset=".467" stop-color="#6b6b6b"/><stop offset=".502" stop-color="#909090"/><stop offset=".537" stop-color="#737373"/><stop offset=".583" stop-color="#5d5d5d"/><stop offset=".629" stop-color="#4d4d4d"/><stop offset=".671" stop-color="#2d2d2d"/><stop offset=".813" stop-color="#070707"/><stop offset=".860" stop-color="#030303"/><stop offset=".998" stop-color="#000000"/></linearGradient><linearGradient id="gl61"><stop offset=".002" stop-color="#000000"/><stop offset=".137" stop-color="#000000"/><stop offset=".213" stop-color="#040404"/><stop offset=".237" stop-color="#0f0f0f"/><stop offset=".333" stop-color="#2b2b2b"/><stop offset=".337" stop-color="#2e2e2e"/><stop offset=".352" stop-color="#434343"/><stop offset=".402" stop-color="#555555"/><stop offset=".437" stop-color="#5b5b5b"/><stop offset=".467" stop-color="#6c6c6c"/><stop offset=".502" stop-color="#909090"/><stop offset=".537" stop-color="#747474"/><stop offset=".579" stop-color="#5f5f5f"/><stop offset=".633" stop-color="#4c4c4c"/><stop offset=".671" stop-color="#2d2d2d"/><stop offset=".813" stop-color="#070707"/><stop offset=".860" stop-color="#030303"/><stop offset=".998" stop-color="#000000"/></linearGradient><linearGradient id="gl62"><stop offset=".002" stop-color="#000000"/><stop offset=".137" stop-color="#000000"/><stop offset=".213" stop-color="#040404"/><stop offset=".237" stop-color="#101010"/><stop offset=".333" stop-color="#2b2b2b"/><stop offset=".337" stop-color="#2e2e2e"/><stop offset=".352" stop-color="#444444"/><stop offset=".390" stop-color="#4f4f4f"/><stop offset=".402" stop-color="#555555"/><stop offset=".437" stop-color="#5c5c5c"/><stop offset=".467" stop-color="#6d6d6d"/><stop offset=".502" stop-color="#919191"/><stop offset=".537" stop-color="#767676"/><stop offset=".579" stop-color="#606060"/><stop offset=".633" stop-color="#4d4d4d"/><stop offset=".671" stop-color="#2d2d2d"/><stop offset=".813" stop-color="#070707"/><stop offset=".860" stop-color="#030303"/><stop offset=".998" stop-color="#000000"/></linearGradient><linearGradient id="gl63"><stop offset=".002" stop-color="#000000"/><stop offset=".137" stop-color="#000000"/><stop offset=".213" stop-color="#040404"/><stop offset=".237" stop-color="#101010"/><stop offset=".333" stop-color="#2b2b2b"/><stop offset=".337" stop-color="#2e2e2e"/><stop offset=".352" stop-color="#444444"/><stop offset=".390" stop-color="#4f4f4f"/><stop offset=".402" stop-color="#565656"/><stop offset=".437" stop-color="#5c5c5c"/><stop offset=".467" stop-color="#6e6e6e"/><stop offset=".502" stop-color="#919191"/><stop offset=".537" stop-color="#777777"/><stop offset=".579" stop-color="#606060"/><stop offset=".629" stop-color="#505050"/><stop offset=".671" stop-color="#2d2d2d"/><stop offset=".813" stop-color="#070707"/><stop offset=".860" stop-color="#030303"/><stop offset=".998" stop-color="#000000"/></linearGradient><linearGradient id="gl64"><stop offset=".002" stop-color="#000000"/><stop offset=".137" stop-color="#000000"/><stop offset=".213" stop-color="#040404"/><stop offset=".237" stop-color="#101010"/><stop offset=".333" stop-color="#2b2b2b"/><stop offset=".337" stop-color="#2e2e2e"/><stop offset=".352" stop-color="#454545"/><stop offset=".390" stop-color="#4f4f4f"/><stop offset=".402" stop-color="#565656"/><stop offset=".437" stop-color="#5c5c5c"/><stop offset=".467" stop-color="#6f6f6f"/><stop offset=".502" stop-color="#929292"/><stop offset=".537" stop-color="#787878"/><stop offset=".579" stop-color="#616161"/><stop offset=".629" stop-color="#525252"/><stop offset=".671" stop-color="#2d2d2d"/><stop offset=".725" stop-color="#212121"/><stop offset=".813" stop-color="#070707"/><stop offset=".860" stop-color="#030303"/><stop offset=".998" stop-color="#000000"/></linearGradient><linearGradient id="gl65"><stop offset=".002" stop-color="#000000"/><stop offset=".137" stop-color="#000000"/><stop offset=".213" stop-color="#040404"/><stop offset=".237" stop-color="#101010"/><stop offset=".333" stop-color="#2b2b2b"/><stop offset=".337" stop-color="#2e2e2e"/><stop offset=".352" stop-color="#454545"/><stop offset=".390" stop-color="#4f4f4f"/><stop offset=".402" stop-color="#565656"/><stop offset=".437" stop-color="#5d5d5d"/><stop offset=".467" stop-color="#6f6f6f"/><stop offset=".502" stop-color="#929292"/><stop offset=".537" stop-color="#797979"/><stop offset=".579" stop-color="#626262"/><stop offset=".629" stop-color="#535353"/><stop offset=".671" stop-color="#2d2d2d"/><stop offset=".725" stop-color="#212121"/><stop offset=".813" stop-color="#060606"/><stop offset=".860" stop-color="#030303"/><stop offset=".998" stop-color="#000000"/></linearGradient><linearGradient id="gl66"><stop offset=".002" stop-color="#000000"/><stop offset=".137" stop-color="#000000"/><stop offset=".213" stop-color="#040404"/><stop offset=".237" stop-color="#101010"/><stop offset=".333" stop-color="#2b2b2b"/><stop offset=".337" stop-color="#2e2e2e"/><stop offset=".352" stop-color="#464646"/><stop offset=".390" stop-color="#4f4f4f"/><stop offset=".402" stop-color="#575757"/><stop offset=".437" stop-color="#5d5d5d"/><stop offset=".467" stop-color="#707070"/><stop offset=".502" stop-color="#939393"/><stop offset=".537" stop-color="#7a7a7a"/><stop offset=".579" stop-color="#626262"/><stop offset=".629" stop-color="#545454"/><stop offset=".671" stop-color="#2d2d2d"/><stop offset=".725" stop-color="#212121"/><stop offset=".813" stop-color="#060606"/><stop offset=".998" stop-color="#000000"/></linearGradient><linearGradient id="gl67"><stop offset=".002" stop-color="#000000"/><stop offset=".137" stop-color="#000000"/><stop offset=".213" stop-color="#040404"/><stop offset=".237" stop-color="#101010"/><stop offset=".333" stop-color="#2b2b2b"/><stop offset=".337" stop-color="#2e2e2e"/><stop offset=".348" stop-color="#424242"/><stop offset=".352" stop-color="#464646"/><stop offset=".390" stop-color="#4f4f4f"/><stop offset=".402" stop-color="#575757"/><stop offset=".437" stop-color="#5d5d5d"/><stop offset=".467" stop-color="#717171"/><stop offset=".502" stop-color="#939393"/><stop offset=".537" stop-color="#7b7b7b"/><stop offset=".579" stop-color="#636363"/><stop offset=".629" stop-color="#555555"/><stop offset=".671" stop-color="#2d2d2d"/><stop offset=".725" stop-color="#212121"/><stop offset=".813" stop-color="#060606"/><stop offset=".998" stop-color="#000000"/></linearGradient><linearGradient id="gl68"><stop offset=".002" stop-color="#000000"/><stop offset=".137" stop-color="#000000"/><stop offset=".213" stop-color="#040404"/><stop offset=".237" stop-color="#111111"/><stop offset=".333" stop-color="#2b2b2b"/><stop offset=".337" stop-color="#2e2e2e"/><stop offset=".348" stop-color="#434343"/><stop offset=".352" stop-color="#474747"/><stop offset=".390" stop-color="#4f4f4f"/><stop offset=".402" stop-color="#585858"/><stop offset=".437" stop-color="#5d5d5d"/><stop offset=".467" stop-color="#727272"/><stop offset=".502" stop-color="#949494"/><stop offset=".579" stop-color="#636363"/><stop offset=".629" stop-color="#565656"/><stop offset=".671" stop-color="#2d2d2d"/><stop offset=".729" stop-color="#212121"/><stop offset=".813" stop-color="#070707"/><stop offset=".860" stop-color="#030303"/><stop offset=".998" stop-color="#000000"/></linearGradient><linearGradient id="gl69"><stop offset=".002" stop-color="#000000"/><stop offset=".137" stop-color="#000000"/><stop offset=".213" stop-color="#040404"/><stop offset=".237" stop-color="#111111"/><stop offset=".333" stop-color="#2b2b2b"/><stop offset=".337" stop-color="#2e2e2e"/><stop offset=".348" stop-color="#434343"/><stop offset=".352" stop-color="#474747"/><stop offset=".390" stop-color="#505050"/><stop offset=".402" stop-color="#585858"/><stop offset=".437" stop-color="#5e5e5e"/><stop offset=".467" stop-color="#737373"/><stop offset=".502" stop-color="#959595"/><stop offset=".579" stop-color="#646464"/><stop offset=".629" stop-color="#575757"/><stop offset=".671" stop-color="#2d2d2d"/><stop offset=".744" stop-color="#202020"/><stop offset=".813" stop-color="#080808"/><stop offset=".860" stop-color="#030303"/><stop offset=".998" stop-color="#000000"/></linearGradient><linearGradient id="gl70"><stop offset=".002" stop-color="#000000"/><stop offset=".137" stop-color="#000000"/><stop offset=".213" stop-color="#040404"/><stop offset=".237" stop-color="#111111"/><stop offset=".333" stop-color="#2b2b2b"/><stop offset=".337" stop-color="#2e2e2e"/><stop offset=".348" stop-color="#444444"/><stop offset=".352" stop-color="#484848"/><stop offset=".390" stop-color="#505050"/><stop offset=".402" stop-color="#595959"/><stop offset=".437" stop-color="#5e5e5e"/><stop offset=".467" stop-color="#747474"/><stop offset=".502" stop-color="#959595"/><stop offset=".579" stop-color="#646464"/><stop offset=".629" stop-color="#585858"/><stop offset=".671" stop-color="#2e2e2e"/><stop offset=".744" stop-color="#242424"/><stop offset=".813" stop-color="#0a0a0a"/><stop offset=".860" stop-color="#050505"/><stop offset=".998" stop-color="#000000"/></linearGradient><linearGradient id="gl71"><stop offset=".002" stop-color="#000000"/><stop offset=".137" stop-color="#000000"/><stop offset=".213" stop-color="#040404"/><stop offset=".237" stop-color="#111111"/><stop offset=".333" stop-color="#2b2b2b"/><stop offset=".337" stop-color="#2e2e2e"/><stop offset=".348" stop-color="#444444"/><stop offset=".352" stop-color="#484848"/><stop offset=".390" stop-color="#505050"/><stop offset=".402" stop-color="#595959"/><stop offset=".437" stop-color="#5e5e5e"/><stop offset=".467" stop-color="#747474"/><stop offset=".502" stop-color="#969696"/><stop offset=".579" stop-color="#656565"/><stop offset=".629" stop-color="#595959"/><stop offset=".671" stop-color="#2f2f2f"/><stop offset=".744" stop-color="#292929"/><stop offset=".813" stop-color="#0e0e0e"/><stop offset=".863" stop-color="#080808"/><stop offset=".998" stop-color="#010101"/></linearGradient><linearGradient id="gl72"><stop offset=".002" stop-color="#000000"/><stop offset=".137" stop-color="#000000"/><stop offset=".213" stop-color="#040404"/><stop offset=".237" stop-color="#111111"/><stop offset=".333" stop-color="#2b2b2b"/><stop offset=".337" stop-color="#2e2e2e"/><stop offset=".348" stop-color="#444444"/><stop offset=".352" stop-color="#484848"/><stop offset=".390" stop-color="#505050"/><stop offset=".402" stop-color="#595959"/><stop offset=".437" stop-color="#5f5f5f"/><stop offset=".467" stop-color="#757575"/><stop offset=".502" stop-color="#969696"/><stop offset=".579" stop-color="#666666"/><stop offset=".629" stop-color="#595959"/><stop offset=".671" stop-color="#303030"/><stop offset=".744" stop-color="#2e2e2e"/><stop offset=".810" stop-color="#141414"/><stop offset=".860" stop-color="#0d0d0d"/><stop offset=".998" stop-color="#030303"/></linearGradient><linearGradient id="gl73"><stop offset=".002" stop-color="#000000"/><stop offset=".137" stop-color="#000000"/><stop offset=".213" stop-color="#040404"/><stop offset=".237" stop-color="#111111"/><stop offset=".333" stop-color="#2b2b2b"/><stop offset=".337" stop-color="#2e2e2e"/><stop offset=".348" stop-color="#444444"/><stop offset=".352" stop-color="#484848"/><stop offset=".390" stop-color="#505050"/><stop offset=".402" stop-color="#5a5a5a"/><stop offset=".437" stop-color="#606060"/><stop offset=".467" stop-color="#767676"/><stop offset=".502" stop-color="#979797"/><stop offset=".579" stop-color="#666666"/><stop offset=".629" stop-color="#5a5a5a"/><stop offset=".671" stop-color="#313131"/><stop offset=".744" stop-color="#303030"/><stop offset=".813" stop-color="#181818"/><stop offset=".998" stop-color="#060606"/></linearGradient><linearGradient id="gl74"><stop offset=".002" stop-color="#000000"/><stop offset=".137" stop-color="#000000"/><stop offset=".213" stop-color="#040404"/><stop offset=".237" stop-color="#111111"/><stop offset=".333" stop-color="#2b2b2b"/><stop offset=".337" stop-color="#2e2e2e"/><stop offset=".348" stop-color="#444444"/><stop offset=".352" stop-color="#484848"/><stop offset=".390" stop-color="#505050"/><stop offset=".402" stop-color="#5b5b5b"/><stop offset=".437" stop-color="#606060"/><stop offset=".467" stop-color="#777777"/><stop offset=".502" stop-color="#979797"/><stop offset=".579" stop-color="#676767"/><stop offset=".629" stop-color="#5a5a5a"/><stop offset=".671" stop-color="#303030"/><stop offset=".744" stop-color="#2e2e2e"/><stop offset=".813" stop-color="#191919"/><stop offset=".998" stop-color="#0b0b0b"/></linearGradient><linearGradient id="gl75"><stop offset=".002" stop-color="#000000"/><stop offset=".137" stop-color="#000000"/><stop offset=".213" stop-color="#040404"/><stop offset=".237" stop-color="#111111"/><stop offset=".333" stop-color="#2b2b2b"/><stop offset=".337" stop-color="#2e2e2e"/><stop offset=".348" stop-color="#444444"/><stop offset=".352" stop-color="#484848"/><stop offset=".390" stop-color="#505050"/><stop offset=".402" stop-color="#5b5b5b"/><stop offset=".437" stop-color="#616161"/><stop offset=".467" stop-color="#777777"/><stop offset=".502" stop-color="#989898"/><stop offset=".579" stop-color="#686868"/><stop offset=".629" stop-color="#5a5a5a"/><stop offset=".671" stop-color="#2f2f2f"/><stop offset=".744" stop-color="#292929"/><stop offset=".813" stop-color="#171717"/><stop offset=".998" stop-color="#101010"/></linearGradient><linearGradient id="gl76"><stop offset=".002" stop-color="#000000"/><stop offset=".137" stop-color="#000000"/><stop offset=".213" stop-color="#040404"/><stop offset=".237" stop-color="#111111"/><stop offset=".333" stop-color="#2b2b2b"/><stop offset=".337" stop-color="#2e2e2e"/><stop offset=".348" stop-color="#444444"/><stop offset=".352" stop-color="#484848"/><stop offset=".390" stop-color="#505050"/><stop offset=".402" stop-color="#5c5c5c"/><stop offset=".437" stop-color="#626262"/><stop offset=".467" stop-color="#787878"/><stop offset=".502" stop-color="#989898"/><stop offset=".579" stop-color="#696969"/><stop offset=".629" stop-color="#5a5a5a"/><stop offset=".671" stop-color="#2e2e2e"/><stop offset=".729" stop-color="#272727"/><stop offset=".813" stop-color="#121212"/><stop offset=".998" stop-color="#141414"/></linearGradient><linearGradient id="gl77"><stop offset=".002" stop-color="#000000"/><stop offset=".137" stop-color="#000000"/><stop offset=".213" stop-color="#040404"/><stop offset=".237" stop-color="#111111"/><stop offset=".333" stop-color="#2b2b2b"/><stop offset=".337" stop-color="#2e2e2e"/><stop offset=".348" stop-color="#444444"/><stop offset=".352" stop-color="#484848"/><stop offset=".390" stop-color="#505050"/><stop offset=".402" stop-color="#5c5c5c"/><stop offset=".437" stop-color="#636363"/><stop offset=".467" stop-color="#797979"/><stop offset=".502" stop-color="#999999"/><stop offset=".579" stop-color="#696969"/><stop offset=".629" stop-color="#5b5b5b"/><stop offset=".671" stop-color="#2d2d2d"/><stop offset=".729" stop-color="#242424"/><stop offset=".813" stop-color="#0d0d0d"/><stop offset=".998" stop-color="#131313"/></linearGradient><linearGradient id="gl78"><stop offset=".002" stop-color="#000000"/><stop offset=".137" stop-color="#000000"/><stop offset=".213" stop-color="#040404"/><stop offset=".237" stop-color="#111111"/><stop offset=".333" stop-color="#2b2b2b"/><stop offset=".337" stop-color="#2e2e2e"/><stop offset=".348" stop-color="#444444"/><stop offset=".352" stop-color="#484848"/><stop offset=".390" stop-color="#505050"/><stop offset=".402" stop-color="#5d5d5d"/><stop offset=".437" stop-color="#636363"/><stop offset=".467" stop-color="#7a7a7a"/><stop offset=".502" stop-color="#999999"/><stop offset=".537" stop-color="#868686"/><stop offset=".579" stop-color="#6a6a6a"/><stop offset=".629" stop-color="#5b5b5b"/><stop offset=".671" stop-color="#2d2d2d"/><stop offset=".729" stop-color="#222222"/><stop offset=".813" stop-color="#090909"/><stop offset=".860" stop-color="#080808"/><stop offset=".998" stop-color="#101010"/></linearGradient><linearGradient id="gl79"><stop offset=".002" stop-color="#000000"/><stop offset=".137" stop-color="#000000"/><stop offset=".213" stop-color="#040404"/><stop offset=".237" stop-color="#111111"/><stop offset=".333" stop-color="#2b2b2b"/><stop offset=".337" stop-color="#2e2e2e"/><stop offset=".348" stop-color="#444444"/><stop offset=".352" stop-color="#484848"/><stop offset=".390" stop-color="#505050"/><stop offset=".402" stop-color="#5d5d5d"/><stop offset=".437" stop-color="#646464"/><stop offset=".467" stop-color="#7a7a7a"/><stop offset=".502" stop-color="#9a9a9a"/><stop offset=".537" stop-color="#878787"/><stop offset=".579" stop-color="#6b6b6b"/><stop offset=".629" stop-color="#5b5b5b"/><stop offset=".671" stop-color="#2c2c2c"/><stop offset=".729" stop-color="#212121"/><stop offset=".813" stop-color="#070707"/><stop offset=".863" stop-color="#050505"/><stop offset=".998" stop-color="#0a0a0a"/></linearGradient><linearGradient id="gl80"><stop offset=".002" stop-color="#000000"/><stop offset=".137" stop-color="#000000"/><stop offset=".213" stop-color="#040404"/><stop offset=".237" stop-color="#111111"/><stop offset=".333" stop-color="#2b2b2b"/><stop offset=".337" stop-color="#2e2e2e"/><stop offset=".348" stop-color="#444444"/><stop offset=".352" stop-color="#484848"/><stop offset=".390" stop-color="#505050"/><stop offset=".402" stop-color="#5e5e5e"/><stop offset=".437" stop-color="#656565"/><stop offset=".467" stop-color="#7b7b7b"/><stop offset=".502" stop-color="#9a9a9a"/><stop offset=".537" stop-color="#888888"/><stop offset=".583" stop-color="#6a6a6a"/><stop offset=".629" stop-color="#5c5c5c"/><stop offset=".671" stop-color="#2c2c2c"/><stop offset=".767" stop-color="#161616"/><stop offset=".813" stop-color="#060606"/><stop offset=".860" stop-color="#030303"/><stop offset=".998" stop-color="#060606"/></linearGradient><linearGradient id="gl81"><stop offset=".002" stop-color="#000000"/><stop offset=".137" stop-color="#000000"/><stop offset=".213" stop-color="#040404"/><stop offset=".237" stop-color="#111111"/><stop offset=".333" stop-color="#2b2b2b"/><stop offset=".337" stop-color="#2e2e2e"/><stop offset=".348" stop-color="#444444"/><stop offset=".352" stop-color="#484848"/><stop offset=".390" stop-color="#505050"/><stop offset=".402" stop-color="#5e5e5e"/><stop offset=".437" stop-color="#666666"/><stop offset=".467" stop-color="#7c7c7c"/><stop offset=".502" stop-color="#9b9b9b"/><stop offset=".537" stop-color="#898989"/><stop offset=".583" stop-color="#6b6b6b"/><stop offset=".629" stop-color="#5c5c5c"/><stop offset=".671" stop-color="#2c2c2c"/><stop offset=".767" stop-color="#161616"/><stop offset=".813" stop-color="#060606"/><stop offset=".860" stop-color="#030303"/><stop offset=".998" stop-color="#020202"/></linearGradient><linearGradient id="gl82"><stop offset=".002" stop-color="#000000"/><stop offset=".137" stop-color="#000000"/><stop offset=".213" stop-color="#040404"/><stop offset=".237" stop-color="#111111"/><stop offset=".333" stop-color="#2b2b2b"/><stop offset=".337" stop-color="#2e2e2e"/><stop offset=".348" stop-color="#444444"/><stop offset=".352" stop-color="#484848"/><stop offset=".390" stop-color="#505050"/><stop offset=".402" stop-color="#5f5f5f"/><stop offset=".437" stop-color="#666666"/><stop offset=".467" stop-color="#7d7d7d"/><stop offset=".502" stop-color="#9b9b9b"/><stop offset=".537" stop-color="#8a8a8a"/><stop offset=".583" stop-color="#6b6b6b"/><stop offset=".629" stop-color="#5c5c5c"/><stop offset=".671" stop-color="#2c2c2c"/><stop offset=".767" stop-color="#171717"/><stop offset=".813" stop-color="#050505"/><stop offset=".998" stop-color="#010101"/></linearGradient><linearGradient id="gl83"><stop offset=".002" stop-color="#000000"/><stop offset=".137" stop-color="#000000"/><stop offset=".213" stop-color="#040404"/><stop offset=".237" stop-color="#111111"/><stop offset=".333" stop-color="#2b2b2b"/><stop offset=".337" stop-color="#2e2e2e"/><stop offset=".348" stop-color="#444444"/><stop offset=".352" stop-color="#484848"/><stop offset=".390" stop-color="#505050"/><stop offset=".402" stop-color="#5f5f5f"/><stop offset=".437" stop-color="#676767"/><stop offset=".467" stop-color="#7d7d7d"/><stop offset=".502" stop-color="#9c9c9c"/><stop offset=".537" stop-color="#8b8b8b"/><stop offset=".583" stop-color="#6c6c6c"/><stop offset=".629" stop-color="#5c5c5c"/><stop offset=".671" stop-color="#2c2c2c"/><stop offset=".767" stop-color="#171717"/><stop offset=".813" stop-color="#050505"/><stop offset=".998" stop-color="#000000"/></linearGradient><linearGradient id="gl84"><stop offset=".002" stop-color="#000000"/><stop offset=".137" stop-color="#000000"/><stop offset=".213" stop-color="#040404"/><stop offset=".237" stop-color="#111111"/><stop offset=".333" stop-color="#2b2b2b"/><stop offset=".337" stop-color="#2e2e2e"/><stop offset=".348" stop-color="#444444"/><stop offset=".352" stop-color="#484848"/><stop offset=".390" stop-color="#505050"/><stop offset=".402" stop-color="#606060"/><stop offset=".437" stop-color="#686868"/><stop offset=".467" stop-color="#7e7e7e"/><stop offset=".502" stop-color="#9c9c9c"/><stop offset=".537" stop-color="#8c8c8c"/><stop offset=".583" stop-color="#6d6d6d"/><stop offset=".629" stop-color="#5d5d5d"/><stop offset=".671" stop-color="#2c2c2c"/><stop offset=".767" stop-color="#171717"/><stop offset=".813" stop-color="#050505"/><stop offset=".998" stop-color="#000000"/></linearGradient><linearGradient id="gl85"><stop offset=".002" stop-color="#000000"/><stop offset=".137" stop-color="#000000"/><stop offset=".213" stop-color="#040404"/><stop offset=".237" stop-color="#111111"/><stop offset=".333" stop-color="#2b2b2b"/><stop offset=".337" stop-color="#2e2e2e"/><stop offset=".348" stop-color="#444444"/><stop offset=".352" stop-color="#484848"/><stop offset=".390" stop-color="#505050"/><stop offset=".402" stop-color="#606060"/><stop offset=".437" stop-color="#696969"/><stop offset=".467" stop-color="#7f7f7f"/><stop offset=".502" stop-color="#9d9d9d"/><stop offset=".537" stop-color="#8d8d8d"/><stop offset=".583" stop-color="#6d6d6d"/><stop offset=".629" stop-color="#5d5d5d"/><stop offset=".671" stop-color="#2c2c2c"/><stop offset=".767" stop-color="#171717"/><stop offset=".813" stop-color="#050505"/><stop offset=".998" stop-color="#000000"/></linearGradient><linearGradient id="gl86"><stop offset=".002" stop-color="#000000"/><stop offset=".137" stop-color="#000000"/><stop offset=".213" stop-color="#040404"/><stop offset=".237" stop-color="#111111"/><stop offset=".333" stop-color="#2b2b2b"/><stop offset=".337" stop-color="#2e2e2e"/><stop offset=".348" stop-color="#444444"/><stop offset=".352" stop-color="#484848"/><stop offset=".390" stop-color="#505050"/><stop offset=".402" stop-color="#616161"/><stop offset=".437" stop-color="#696969"/><stop offset=".502" stop-color="#9d9d9d"/><stop offset=".537" stop-color="#8e8e8e"/><stop offset=".583" stop-color="#6e6e6e"/><stop offset=".629" stop-color="#5d5d5d"/><stop offset=".671" stop-color="#2c2c2c"/><stop offset=".767" stop-color="#171717"/><stop offset=".813" stop-color="#050505"/><stop offset=".998" stop-color="#000000"/></linearGradient><linearGradient id="gl87"><stop offset=".002" stop-color="#000000"/><stop offset=".137" stop-color="#000000"/><stop offset=".213" stop-color="#040404"/><stop offset=".237" stop-color="#111111"/><stop offset=".333" stop-color="#2b2b2b"/><stop offset=".337" stop-color="#2e2e2e"/><stop offset=".348" stop-color="#444444"/><stop offset=".352" stop-color="#484848"/><stop offset=".390" stop-color="#505050"/><stop offset=".402" stop-color="#616161"/><stop offset=".437" stop-color="#6a6a6a"/><stop offset=".502" stop-color="#9e9e9e"/><stop offset=".537" stop-color="#8f8f8f"/><stop offset=".583" stop-color="#6f6f6f"/><stop offset=".629" stop-color="#5d5d5d"/><stop offset=".671" stop-color="#2c2c2c"/><stop offset=".767" stop-color="#181818"/><stop offset=".813" stop-color="#050505"/><stop offset=".998" stop-color="#000000"/></linearGradient><linearGradient id="gl88"><stop offset=".002" stop-color="#000000"/><stop offset=".137" stop-color="#000000"/><stop offset=".213" stop-color="#040404"/><stop offset=".237" stop-color="#111111"/><stop offset=".333" stop-color="#2b2b2b"/><stop offset=".337" stop-color="#2e2e2e"/><stop offset=".348" stop-color="#444444"/><stop offset=".352" stop-color="#484848"/><stop offset=".390" stop-color="#505050"/><stop offset=".402" stop-color="#626262"/><stop offset=".437" stop-color="#6b6b6b"/><stop offset=".502" stop-color="#9e9e9e"/><stop offset=".537" stop-color="#909090"/><stop offset=".583" stop-color="#707070"/><stop offset=".629" stop-color="#5e5e5e"/><stop offset=".671" stop-color="#2c2c2c"/><stop offset=".767" stop-color="#181818"/><stop offset=".813" stop-color="#050505"/><stop offset=".998" stop-color="#000000"/></linearGradient><linearGradient id="gl89"><stop offset=".002" stop-color="#000000"/><stop offset=".137" stop-color="#000000"/><stop offset=".213" stop-color="#040404"/><stop offset=".237" stop-color="#111111"/><stop offset=".333" stop-color="#2b2b2b"/><stop offset=".337" stop-color="#2e2e2e"/><stop offset=".348" stop-color="#444444"/><stop offset=".352" stop-color="#484848"/><stop offset=".390" stop-color="#505050"/><stop offset=".402" stop-color="#626262"/><stop offset=".437" stop-color="#6c6c6c"/><stop offset=".502" stop-color="#9f9f9f"/><stop offset=".537" stop-color="#919191"/><stop offset=".583" stop-color="#707070"/><stop offset=".629" stop-color="#5e5e5e"/><stop offset=".671" stop-color="#2c2c2c"/><stop offset=".767" stop-color="#181818"/><stop offset=".813" stop-color="#050505"/><stop offset=".998" stop-color="#000000"/></linearGradient><linearGradient id="gl90"><stop offset=".002" stop-color="#000000"/><stop offset=".137" stop-color="#000000"/><stop offset=".213" stop-color="#040404"/><stop offset=".237" stop-color="#111111"/><stop offset=".333" stop-color="#2b2b2b"/><stop offset=".337" stop-color="#2e2e2e"/><stop offset=".348" stop-color="#444444"/><stop offset=".352" stop-color="#484848"/><stop offset=".390" stop-color="#505050"/><stop offset=".402" stop-color="#636363"/><stop offset=".437" stop-color="#6c6c6c"/><stop offset=".502" stop-color="#9f9f9f"/><stop offset=".537" stop-color="#929292"/><stop offset=".583" stop-color="#717171"/><stop offset=".629" stop-color="#5e5e5e"/><stop offset=".671" stop-color="#2c2c2c"/><stop offset=".767" stop-color="#181818"/><stop offset=".813" stop-color="#050505"/><stop offset=".998" stop-color="#000000"/></linearGradient><linearGradient id="gl91"><stop offset=".002" stop-color="#000000"/><stop offset=".137" stop-color="#000000"/><stop offset=".213" stop-color="#040404"/><stop offset=".237" stop-color="#111111"/><stop offset=".333" stop-color="#2b2b2b"/><stop offset=".337" stop-color="#2e2e2e"/><stop offset=".348" stop-color="#444444"/><stop offset=".352" stop-color="#484848"/><stop offset=".390" stop-color="#505050"/><stop offset=".402" stop-color="#636363"/><stop offset=".437" stop-color="#6d6d6d"/><stop offset=".502" stop-color="#a0a0a0"/><stop offset=".537" stop-color="#939393"/><stop offset=".583" stop-color="#727272"/><stop offset=".629" stop-color="#5e5e5e"/><stop offset=".671" stop-color="#2c2c2c"/><stop offset=".767" stop-color="#181818"/><stop offset=".813" stop-color="#050505"/><stop offset=".998" stop-color="#000000"/></linearGradient><linearGradient id="gl92"><stop offset=".002" stop-color="#000000"/><stop offset=".137" stop-color="#000000"/><stop offset=".213" stop-color="#040404"/><stop offset=".237" stop-color="#111111"/><stop offset=".333" stop-color="#2b2b2b"/><stop offset=".337" stop-color="#2e2e2e"/><stop offset=".348" stop-color="#444444"/><stop offset=".352" stop-color="#484848"/><stop offset=".390" stop-color="#505050"/><stop offset=".402" stop-color="#646464"/><stop offset=".437" stop-color="#6e6e6e"/><stop offset=".502" stop-color="#a0a0a0"/><stop offset=".537" stop-color="#949494"/><stop offset=".583" stop-color="#727272"/><stop offset=".629" stop-color="#5f5f5f"/><stop offset=".671" stop-color="#2c2c2c"/><stop offset=".767" stop-color="#191919"/><stop offset=".813" stop-color="#050505"/><stop offset=".998" stop-color="#000000"/></linearGradient><linearGradient id="gl93"><stop offset=".002" stop-color="#000000"/><stop offset=".137" stop-color="#000000"/><stop offset=".213" stop-color="#040404"/><stop offset=".237" stop-color="#111111"/><stop offset=".333" stop-color="#2b2b2b"/><stop offset=".337" stop-color="#2e2e2e"/><stop offset=".348" stop-color="#444444"/><stop offset=".352" stop-color="#484848"/><stop offset=".390" stop-color="#505050"/><stop offset=".398" stop-color="#606060"/><stop offset=".402" stop-color="#646464"/><stop offset=".437" stop-color="#6f6f6f"/><stop offset=".502" stop-color="#a1a1a1"/><stop offset=".537" stop-color="#959595"/><stop offset=".583" stop-color="#737373"/><stop offset=".629" stop-color="#5f5f5f"/><stop offset=".671" stop-color="#2c2c2c"/><stop offset=".767" stop-color="#191919"/><stop offset=".813" stop-color="#050505"/><stop offset=".998" stop-color="#000000"/></linearGradient><linearGradient id="gl94"><stop offset=".002" stop-color="#000000"/><stop offset=".137" stop-color="#000000"/><stop offset=".213" stop-color="#040404"/><stop offset=".237" stop-color="#111111"/><stop offset=".333" stop-color="#2b2b2b"/><stop offset=".337" stop-color="#2e2e2e"/><stop offset=".348" stop-color="#454545"/><stop offset=".352" stop-color="#494949"/><stop offset=".390" stop-color="#505050"/><stop offset=".398" stop-color="#606060"/><stop offset=".402" stop-color="#656565"/><stop offset=".437" stop-color="#707070"/><stop offset=".502" stop-color="#a1a1a1"/><stop offset=".537" stop-color="#979797"/><stop offset=".583" stop-color="#747474"/><stop offset=".629" stop-color="#606060"/><stop offset=".671" stop-color="#2c2c2c"/><stop offset=".767" stop-color="#191919"/><stop offset=".813" stop-color="#050505"/><stop offset=".998" stop-color="#000000"/></linearGradient><linearGradient id="gl95"><stop offset=".002" stop-color="#000000"/><stop offset=".137" stop-color="#000000"/><stop offset=".213" stop-color="#040404"/><stop offset=".237" stop-color="#111111"/><stop offset=".333" stop-color="#2b2b2b"/><stop offset=".337" stop-color="#2e2e2e"/><stop offset=".348" stop-color="#454545"/><stop offset=".352" stop-color="#494949"/><stop offset=".390" stop-color="#505050"/><stop offset=".398" stop-color="#626262"/><stop offset=".402" stop-color="#676767"/><stop offset=".437" stop-color="#717171"/><stop offset=".502" stop-color="#a2a2a2"/><stop offset=".537" stop-color="#989898"/><stop offset=".583" stop-color="#767676"/><stop offset=".629" stop-color="#626262"/><stop offset=".671" stop-color="#2d2d2d"/><stop offset=".767" stop-color="#181818"/><stop offset=".813" stop-color="#050505"/><stop offset=".998" stop-color="#000000"/></linearGradient><linearGradient id="gl96"><stop offset=".002" stop-color="#000000"/><stop offset=".137" stop-color="#000000"/><stop offset=".213" stop-color="#050505"/><stop offset=".237" stop-color="#111111"/><stop offset=".333" stop-color="#2b2b2b"/><stop offset=".337" stop-color="#2e2e2e"/><stop offset=".348" stop-color="#464646"/><stop offset=".352" stop-color="#4a4a4a"/><stop offset=".390" stop-color="#515151"/><stop offset=".398" stop-color="#636363"/><stop offset=".402" stop-color="#696969"/><stop offset=".437" stop-color="#737373"/><stop offset=".502" stop-color="#a4a4a4"/><stop offset=".537" stop-color="#9a9a9a"/><stop offset=".583" stop-color="#787878"/><stop offset=".629" stop-color="#636363"/><stop offset=".671" stop-color="#2d2d2d"/><stop offset=".767" stop-color="#181818"/><stop offset=".813" stop-color="#050505"/><stop offset=".998" stop-color="#000000"/></linearGradient><linearGradient id="gl97"><stop offset=".002" stop-color="#000000"/><stop offset=".137" stop-color="#000000"/><stop offset=".213" stop-color="#050505"/><stop offset=".237" stop-color="#111111"/><stop offset=".333" stop-color="#2b2b2b"/><stop offset=".337" stop-color="#2e2e2e"/><stop offset=".348" stop-color="#464646"/><stop offset=".352" stop-color="#4a4a4a"/><stop offset=".390" stop-color="#515151"/><stop offset=".398" stop-color="#656565"/><stop offset=".402" stop-color="#6a6a6a"/><stop offset=".437" stop-color="#757575"/><stop offset=".467" stop-color="#898989"/><stop offset=".502" stop-color="#a5a5a5"/><stop offset=".537" stop-color="#9b9b9b"/><stop offset=".583" stop-color="#797979"/><stop offset=".629" stop-color="#656565"/><stop offset=".671" stop-color="#2e2e2e"/><stop offset=".767" stop-color="#181818"/><stop offset=".813" stop-color="#050505"/><stop offset=".998" stop-color="#000000"/></linearGradient><linearGradient id="gl98"><stop offset=".002" stop-color="#000000"/><stop offset=".137" stop-color="#000000"/><stop offset=".213" stop-color="#050505"/><stop offset=".237" stop-color="#111111"/><stop offset=".333" stop-color="#2b2b2b"/><stop offset=".337" stop-color="#2e2e2e"/><stop offset=".348" stop-color="#474747"/><stop offset=".352" stop-color="#4b4b4b"/><stop offset=".390" stop-color="#515151"/><stop offset=".398" stop-color="#666666"/><stop offset=".402" stop-color="#6c6c6c"/><stop offset=".437" stop-color="#767676"/><stop offset=".467" stop-color="#8a8a8a"/><stop offset=".502" stop-color="#a6a6a6"/><stop offset=".537" stop-color="#9d9d9d"/><stop offset=".583" stop-color="#7b7b7b"/><stop offset=".629" stop-color="#676767"/><stop offset=".671" stop-color="#2f2f2f"/><stop offset=".725" stop-color="#1f1f1f"/><stop offset=".767" stop-color="#181818"/><stop offset=".813" stop-color="#050505"/><stop offset=".998" stop-color="#000000"/></linearGradient><linearGradient id="gl99"><stop offset=".002" stop-color="#000000"/><stop offset=".137" stop-color="#000000"/><stop offset=".213" stop-color="#050505"/><stop offset=".237" stop-color="#111111"/><stop offset=".333" stop-color="#2b2b2b"/><stop offset=".337" stop-color="#2e2e2e"/><stop offset=".348" stop-color="#474747"/><stop offset=".352" stop-color="#4b4b4b"/><stop offset=".390" stop-color="#525252"/><stop offset=".398" stop-color="#676767"/><stop offset=".402" stop-color="#6e6e6e"/><stop offset=".437" stop-color="#787878"/><stop offset=".467" stop-color="#8b8b8b"/><stop offset=".502" stop-color="#a7a7a7"/><stop offset=".537" stop-color="#9f9f9f"/><stop offset=".583" stop-color="#7d7d7d"/><stop offset=".629" stop-color="#686868"/><stop offset=".671" stop-color="#2f2f2f"/><stop offset=".725" stop-color="#1f1f1f"/><stop offset=".771" stop-color="#161616"/><stop offset=".813" stop-color="#050505"/><stop offset=".998" stop-color="#000000"/></linearGradient><linearGradient id="gl100"><stop offset=".002" stop-color="#000000"/><stop offset=".137" stop-color="#000000"/><stop offset=".213" stop-color="#050505"/><stop offset=".237" stop-color="#111111"/><stop offset=".333" stop-color="#2b2b2b"/><stop offset=".337" stop-color="#2e2e2e"/><stop offset=".348" stop-color="#474747"/><stop offset=".352" stop-color="#4c4c4c"/><stop offset=".390" stop-color="#525252"/><stop offset=".398" stop-color="#696969"/><stop offset=".402" stop-color="#6f6f6f"/><stop offset=".437" stop-color="#7a7a7a"/><stop offset=".467" stop-color="#8c8c8c"/><stop offset=".502" stop-color="#a8a8a8"/><stop offset=".537" stop-color="#a0a0a0"/><stop offset=".583" stop-color="#7e7e7e"/><stop offset=".629" stop-color="#6a6a6a"/><stop offset=".671" stop-color="#303030"/><stop offset=".725" stop-color="#1e1e1e"/><stop offset=".771" stop-color="#161616"/><stop offset=".813" stop-color="#050505"/><stop offset=".998" stop-color="#000000"/></linearGradient><linearGradient id="gl101"><stop offset=".002" stop-color="#000000"/><stop offset=".137" stop-color="#000000"/><stop offset=".213" stop-color="#050505"/><stop offset=".237" stop-color="#111111"/><stop offset=".333" stop-color="#2b2b2b"/><stop offset=".337" stop-color="#2e2e2e"/><stop offset=".348" stop-color="#484848"/><stop offset=".352" stop-color="#4d4d4d"/><stop offset=".390" stop-color="#525252"/><stop offset=".398" stop-color="#6a6a6a"/><stop offset=".402" stop-color="#717171"/><stop offset=".437" stop-color="#7b7b7b"/><stop offset=".467" stop-color="#8d8d8d"/><stop offset=".502" stop-color="#a9a9a9"/><stop offset=".537" stop-color="#a2a2a2"/><stop offset=".583" stop-color="#808080"/><stop offset=".629" stop-color="#6c6c6c"/><stop offset=".671" stop-color="#303030"/><stop offset=".725" stop-color="#1d1d1d"/><stop offset=".767" stop-color="#171717"/><stop offset=".813" stop-color="#050505"/><stop offset=".998" stop-color="#000000"/></linearGradient><linearGradient id="gl102"><stop offset=".002" stop-color="#000000"/><stop offset=".137" stop-color="#000000"/><stop offset=".213" stop-color="#050505"/><stop offset=".237" stop-color="#111111"/><stop offset=".333" stop-color="#2b2b2b"/><stop offset=".337" stop-color="#2f2f2f"/><stop offset=".348" stop-color="#484848"/><stop offset=".352" stop-color="#4d4d4d"/><stop offset=".390" stop-color="#535353"/><stop offset=".398" stop-color="#6c6c6c"/><stop offset=".402" stop-color="#737373"/><stop offset=".437" stop-color="#7d7d7d"/><stop offset=".467" stop-color="#8e8e8e"/><stop offset=".502" stop-color="#aaaaaa"/><stop offset=".537" stop-color="#a4a4a4"/><stop offset=".583" stop-color="#828282"/><stop offset=".629" stop-color="#6d6d6d"/><stop offset=".671" stop-color="#313131"/><stop offset=".725" stop-color="#1d1d1d"/><stop offset=".767" stop-color="#171717"/><stop offset=".813" stop-color="#050505"/><stop offset=".998" stop-color="#000000"/></linearGradient><linearGradient id="gl103"><stop offset=".002" stop-color="#000000"/><stop offset=".137" stop-color="#000000"/><stop offset=".213" stop-color="#050505"/><stop offset=".237" stop-color="#111111"/><stop offset=".333" stop-color="#2b2b2b"/><stop offset=".337" stop-color="#2f2f2f"/><stop offset=".348" stop-color="#494949"/><stop offset=".352" stop-color="#4e4e4e"/><stop offset=".390" stop-color="#535353"/><stop offset=".398" stop-color="#6d6d6d"/><stop offset=".402" stop-color="#747474"/><stop offset=".437" stop-color="#7f7f7f"/><stop offset=".467" stop-color="#909090"/><stop offset=".502" stop-color="#ababab"/><stop offset=".537" stop-color="#a5a5a5"/><stop offset=".583" stop-color="#838383"/><stop offset=".629" stop-color="#6f6f6f"/><stop offset=".671" stop-color="#313131"/><stop offset=".725" stop-color="#1c1c1c"/><stop offset=".767" stop-color="#171717"/><stop offset=".813" stop-color="#050505"/><stop offset=".998" stop-color="#000000"/></linearGradient><linearGradient id="gl104"><stop offset=".002" stop-color="#000000"/><stop offset=".137" stop-color="#000000"/><stop offset=".213" stop-color="#060606"/><stop offset=".237" stop-color="#111111"/><stop offset=".333" stop-color="#2c2c2c"/><stop offset=".337" stop-color="#2f2f2f"/><stop offset=".348" stop-color="#4a4a4a"/><stop offset=".352" stop-color="#4f4f4f"/><stop offset=".390" stop-color="#545454"/><stop offset=".398" stop-color="#6f6f6f"/><stop offset=".402" stop-color="#767676"/><stop offset=".437" stop-color="#818181"/><stop offset=".467" stop-color="#919191"/><stop offset=".502" stop-color="#adadad"/><stop offset=".537" stop-color="#a7a7a7"/><stop offset=".583" stop-color="#858585"/><stop offset=".629" stop-color="#707070"/><stop offset=".671" stop-color="#323232"/><stop offset=".725" stop-color="#1c1c1c"/><stop offset=".767" stop-color="#171717"/><stop offset=".813" stop-color="#060606"/><stop offset=".998" stop-color="#000000"/></linearGradient><linearGradient id="gl105"><stop offset=".002" stop-color="#000000"/><stop offset=".137" stop-color="#000000"/><stop offset=".213" stop-color="#060606"/><stop offset=".237" stop-color="#121212"/><stop offset=".333" stop-color="#2c2c2c"/><stop offset=".337" stop-color="#2f2f2f"/><stop offset=".348" stop-color="#4c4c4c"/><stop offset=".352" stop-color="#515151"/><stop offset=".390" stop-color="#565656"/><stop offset=".398" stop-color="#727272"/><stop offset=".402" stop-color="#797979"/><stop offset=".437" stop-color="#838383"/><stop offset=".467" stop-color="#949494"/><stop offset=".502" stop-color="#afafaf"/><stop offset=".537" stop-color="#a9a9a9"/><stop offset=".583" stop-color="#868686"/><stop offset=".629" stop-color="#717171"/><stop offset=".671" stop-color="#343434"/><stop offset=".725" stop-color="#1d1d1d"/><stop offset=".767" stop-color="#171717"/><stop offset=".813" stop-color="#060606"/><stop offset=".998" stop-color="#000000"/></linearGradient><linearGradient id="gl106"><stop offset=".002" stop-color="#010101"/><stop offset=".137" stop-color="#010101"/><stop offset=".213" stop-color="#060606"/><stop offset=".237" stop-color="#121212"/><stop offset=".333" stop-color="#2c2c2c"/><stop offset=".337" stop-color="#303030"/><stop offset=".348" stop-color="#4e4e4e"/><stop offset=".352" stop-color="#535353"/><stop offset=".390" stop-color="#595959"/><stop offset=".398" stop-color="#747474"/><stop offset=".402" stop-color="#7c7c7c"/><stop offset=".437" stop-color="#868686"/><stop offset=".467" stop-color="#969696"/><stop offset=".502" stop-color="#b1b1b1"/><stop offset=".537" stop-color="#ababab"/><stop offset=".583" stop-color="#888888"/><stop offset=".629" stop-color="#717171"/><stop offset=".671" stop-color="#353535"/><stop offset=".725" stop-color="#1e1e1e"/><stop offset=".767" stop-color="#171717"/><stop offset=".813" stop-color="#060606"/><stop offset=".998" stop-color="#000000"/></linearGradient><linearGradient id="gl107"><stop offset=".002" stop-color="#010101"/><stop offset=".137" stop-color="#010101"/><stop offset=".213" stop-color="#060606"/><stop offset=".237" stop-color="#121212"/><stop offset=".333" stop-color="#2c2c2c"/><stop offset=".337" stop-color="#303030"/><stop offset=".348" stop-color="#505050"/><stop offset=".352" stop-color="#565656"/><stop offset=".390" stop-color="#5b5b5b"/><stop offset=".398" stop-color="#777777"/><stop offset=".402" stop-color="#7f7f7f"/><stop offset=".437" stop-color="#888888"/><stop offset=".467" stop-color="#999999"/><stop offset=".502" stop-color="#b3b3b3"/><stop offset=".537" stop-color="#adadad"/><stop offset=".583" stop-color="#898989"/><stop offset=".629" stop-color="#727272"/><stop offset=".671" stop-color="#363636"/><stop offset=".725" stop-color="#1e1e1e"/><stop offset=".767" stop-color="#171717"/><stop offset=".813" stop-color="#060606"/><stop offset=".998" stop-color="#000000"/></linearGradient><linearGradient id="gl108"><stop offset=".002" stop-color="#010101"/><stop offset=".137" stop-color="#010101"/><stop offset=".213" stop-color="#070707"/><stop offset=".237" stop-color="#121212"/><stop offset=".333" stop-color="#2d2d2d"/><stop offset=".337" stop-color="#303030"/><stop offset=".348" stop-color="#525252"/><stop offset=".352" stop-color="#585858"/><stop offset=".390" stop-color="#5d5d5d"/><stop offset=".398" stop-color="#7a7a7a"/><stop offset=".402" stop-color="#818181"/><stop offset=".437" stop-color="#8b8b8b"/><stop offset=".467" stop-color="#9b9b9b"/><stop offset=".502" stop-color="#b5b5b5"/><stop offset=".537" stop-color="#afafaf"/><stop offset=".583" stop-color="#8a8a8a"/><stop offset=".629" stop-color="#727272"/><stop offset=".671" stop-color="#383838"/><stop offset=".725" stop-color="#1f1f1f"/><stop offset=".767" stop-color="#181818"/><stop offset=".813" stop-color="#070707"/><stop offset=".998" stop-color="#000000"/></linearGradient><linearGradient id="gl109"><stop offset=".002" stop-color="#020202"/><stop offset=".137" stop-color="#020202"/><stop offset=".213" stop-color="#070707"/><stop offset=".237" stop-color="#131313"/><stop offset=".333" stop-color="#2d2d2d"/><stop offset=".337" stop-color="#313131"/><stop offset=".348" stop-color="#545454"/><stop offset=".352" stop-color="#5a5a5a"/><stop offset=".390" stop-color="#5f5f5f"/><stop offset=".398" stop-color="#7c7c7c"/><stop offset=".402" stop-color="#848484"/><stop offset=".437" stop-color="#8d8d8d"/><stop offset=".467" stop-color="#9e9e9e"/><stop offset=".502" stop-color="#b7b7b7"/><stop offset=".537" stop-color="#b1b1b1"/><stop offset=".583" stop-color="#8c8c8c"/><stop offset=".629" stop-color="#737373"/><stop offset=".671" stop-color="#3a3a3a"/><stop offset=".725" stop-color="#212121"/><stop offset=".767" stop-color="#191919"/><stop offset=".813" stop-color="#070707"/><stop offset=".998" stop-color="#000000"/></linearGradient><linearGradient id="gl110"><stop offset=".002" stop-color="#020202"/><stop offset=".137" stop-color="#020202"/><stop offset=".213" stop-color="#070707"/><stop offset=".237" stop-color="#131313"/><stop offset=".333" stop-color="#2d2d2d"/><stop offset=".337" stop-color="#313131"/><stop offset=".348" stop-color="#565656"/><stop offset=".352" stop-color="#5c5c5c"/><stop offset=".390" stop-color="#626262"/><stop offset=".398" stop-color="#7f7f7f"/><stop offset=".402" stop-color="#878787"/><stop offset=".437" stop-color="#909090"/><stop offset=".467" stop-color="#a0a0a0"/><stop offset=".502" stop-color="#b8b8b8"/><stop offset=".537" stop-color="#b3b3b3"/><stop offset=".583" stop-color="#8d8d8d"/><stop offset=".629" stop-color="#747474"/><stop offset=".671" stop-color="#3d3d3d"/><stop offset=".725" stop-color="#252525"/><stop offset=".767" stop-color="#1b1b1b"/><stop offset=".813" stop-color="#080808"/><stop offset=".860" stop-color="#030303"/><stop offset=".998" stop-color="#000000"/></linearGradient><linearGradient id="gl111"><stop offset=".002" stop-color="#020202"/><stop offset=".137" stop-color="#020202"/><stop offset=".213" stop-color="#070707"/><stop offset=".237" stop-color="#131313"/><stop offset=".333" stop-color="#2e2e2e"/><stop offset=".337" stop-color="#323232"/><stop offset=".348" stop-color="#585858"/><stop offset=".352" stop-color="#5f5f5f"/><stop offset=".390" stop-color="#646464"/><stop offset=".398" stop-color="#828282"/><stop offset=".402" stop-color="#8a8a8a"/><stop offset=".437" stop-color="#929292"/><stop offset=".467" stop-color="#a3a3a3"/><stop offset=".502" stop-color="#bababa"/><stop offset=".537" stop-color="#b5b5b5"/><stop offset=".583" stop-color="#8e8e8e"/><stop offset=".629" stop-color="#757575"/><stop offset=".671" stop-color="#434343"/><stop offset=".767" stop-color="#222222"/><stop offset=".810" stop-color="#0c0c0c"/><stop offset=".860" stop-color="#040404"/><stop offset=".998" stop-color="#000000"/></linearGradient><linearGradient id="gl112"><stop offset=".002" stop-color="#020202"/><stop offset=".137" stop-color="#030303"/><stop offset=".213" stop-color="#080808"/><stop offset=".237" stop-color="#141414"/><stop offset=".333" stop-color="#2e2e2e"/><stop offset=".337" stop-color="#323232"/><stop offset=".348" stop-color="#5a5a5a"/><stop offset=".352" stop-color="#616161"/><stop offset=".390" stop-color="#666666"/><stop offset=".398" stop-color="#848484"/><stop offset=".402" stop-color="#8c8c8c"/><stop offset=".437" stop-color="#959595"/><stop offset=".502" stop-color="#bcbcbc"/><stop offset=".537" stop-color="#b7b7b7"/><stop offset=".583" stop-color="#909090"/><stop offset=".633" stop-color="#757575"/><stop offset=".671" stop-color="#4b4b4b"/><stop offset=".737" stop-color="#3d3d3d"/><stop offset=".767" stop-color="#2e2e2e"/><stop offset=".813" stop-color="#121212"/><stop offset=".875" stop-color="#060606"/><stop offset=".998" stop-color="#000000"/></linearGradient><linearGradient id="gl113"><stop offset=".002" stop-color="#030303"/><stop offset=".137" stop-color="#030303"/><stop offset=".213" stop-color="#080808"/><stop offset=".237" stop-color="#141414"/><stop offset=".333" stop-color="#2e2e2e"/><stop offset=".337" stop-color="#323232"/><stop offset=".348" stop-color="#5c5c5c"/><stop offset=".352" stop-color="#636363"/><stop offset=".390" stop-color="#686868"/><stop offset=".398" stop-color="#878787"/><stop offset=".402" stop-color="#8f8f8f"/><stop offset=".437" stop-color="#979797"/><stop offset=".502" stop-color="#bebebe"/><stop offset=".537" stop-color="#b9b9b9"/><stop offset=".583" stop-color="#919191"/><stop offset=".617" stop-color="#7c7c7c"/><stop offset=".633" stop-color="#777777"/><stop offset=".671" stop-color="#525252"/><stop offset=".740" stop-color="#484848"/><stop offset=".771" stop-color="#3b3b3b"/><stop offset=".813" stop-color="#202020"/><stop offset=".860" stop-color="#101010"/><stop offset=".921" stop-color="#050505"/><stop offset=".998" stop-color="#000000"/></linearGradient><linearGradient id="gl114"><stop offset=".002" stop-color="#030303"/><stop offset=".137" stop-color="#040404"/><stop offset=".213" stop-color="#080808"/><stop offset=".237" stop-color="#141414"/><stop offset=".333" stop-color="#2f2f2f"/><stop offset=".337" stop-color="#333333"/><stop offset=".348" stop-color="#5e5e5e"/><stop offset=".352" stop-color="#656565"/><stop offset=".390" stop-color="#6a6a6a"/><stop offset=".398" stop-color="#8a8a8a"/><stop offset=".402" stop-color="#929292"/><stop offset=".437" stop-color="#9a9a9a"/><stop offset=".502" stop-color="#c0c0c0"/><stop offset=".537" stop-color="#bbbbbb"/><stop offset=".583" stop-color="#929292"/><stop offset=".617" stop-color="#7d7d7d"/><stop offset=".633" stop-color="#777777"/><stop offset=".671" stop-color="#535353"/><stop offset=".725" stop-color="#494949"/><stop offset=".767" stop-color="#464646"/><stop offset=".813" stop-color="#2e2e2e"/><stop offset=".883" stop-color="#171717"/><stop offset=".937" stop-color="#0a0a0a"/><stop offset=".998" stop-color="#020202"/></linearGradient><linearGradient id="gl115"><stop offset=".002" stop-color="#040404"/><stop offset=".137" stop-color="#040404"/><stop offset=".213" stop-color="#090909"/><stop offset=".237" stop-color="#151515"/><stop offset=".333" stop-color="#2f2f2f"/><stop offset=".337" stop-color="#343434"/><stop offset=".348" stop-color="#606060"/><stop offset=".352" stop-color="#686868"/><stop offset=".390" stop-color="#6d6d6d"/><stop offset=".398" stop-color="#8c8c8c"/><stop offset=".402" stop-color="#959595"/><stop offset=".437" stop-color="#9c9c9c"/><stop offset=".502" stop-color="#c2c2c2"/><stop offset=".537" stop-color="#bdbdbd"/><stop offset=".583" stop-color="#949494"/><stop offset=".633" stop-color="#767676"/><stop offset=".671" stop-color="#4f4f4f"/><stop offset=".725" stop-color="#3f3f3f"/><stop offset=".779" stop-color="#3f3f3f"/><stop offset=".998" stop-color="#070707"/></linearGradient><linearGradient id="gl116"><stop offset=".002" stop-color="#050505"/><stop offset=".137" stop-color="#050505"/><stop offset=".213" stop-color="#0a0a0a"/><stop offset=".237" stop-color="#161616"/><stop offset=".333" stop-color="#303030"/><stop offset=".337" stop-color="#343434"/><stop offset=".348" stop-color="#626262"/><stop offset=".352" stop-color="#6a6a6a"/><stop offset=".390" stop-color="#6f6f6f"/><stop offset=".398" stop-color="#8f8f8f"/><stop offset=".402" stop-color="#989898"/><stop offset=".437" stop-color="#9f9f9f"/><stop offset=".502" stop-color="#c4c4c4"/><stop offset=".537" stop-color="#bfbfbf"/><stop offset=".583" stop-color="#959595"/><stop offset=".633" stop-color="#757575"/><stop offset=".671" stop-color="#4a4a4a"/><stop offset=".725" stop-color="#323232"/><stop offset=".771" stop-color="#333333"/><stop offset=".810" stop-color="#2e2e2e"/><stop offset=".887" stop-color="#2f2f2f"/><stop offset=".925" stop-color="#272727"/><stop offset=".998" stop-color="#111111"/></linearGradient><linearGradient id="gl117"><stop offset=".002" stop-color="#070707"/><stop offset=".137" stop-color="#070707"/><stop offset=".213" stop-color="#0b0b0b"/><stop offset=".237" stop-color="#171717"/><stop offset=".333" stop-color="#313131"/><stop offset=".337" stop-color="#363636"/><stop offset=".348" stop-color="#656565"/><stop offset=".352" stop-color="#6d6d6d"/><stop offset=".390" stop-color="#727272"/><stop offset=".398" stop-color="#929292"/><stop offset=".402" stop-color="#9a9a9a"/><stop offset=".437" stop-color="#a1a1a1"/><stop offset=".502" stop-color="#c6c6c6"/><stop offset=".537" stop-color="#c0c0c0"/><stop offset=".583" stop-color="#969696"/><stop offset=".629" stop-color="#787878"/><stop offset=".671" stop-color="#474747"/><stop offset=".725" stop-color="#292929"/><stop offset=".810" stop-color="#202020"/><stop offset=".887" stop-color="#2d2d2d"/><stop offset=".925" stop-color="#2f2f2f"/><stop offset=".960" stop-color="#2a2a2a"/><stop offset=".998" stop-color="#202020"/></linearGradient><linearGradient id="gl118"><stop offset=".002" stop-color="#0a0a0a"/><stop offset=".137" stop-color="#0a0a0a"/><stop offset=".213" stop-color="#0e0e0e"/><stop offset=".237" stop-color="#191919"/><stop offset=".333" stop-color="#333333"/><stop offset=".337" stop-color="#383838"/><stop offset=".348" stop-color="#696969"/><stop offset=".352" stop-color="#717171"/><stop offset=".390" stop-color="#747474"/><stop offset=".398" stop-color="#959595"/><stop offset=".402" stop-color="#9d9d9d"/><stop offset=".437" stop-color="#a4a4a4"/><stop offset=".502" stop-color="#c8c8c8"/><stop offset=".537" stop-color="#c2c2c2"/><stop offset=".583" stop-color="#989898"/><stop offset=".629" stop-color="#787878"/><stop offset=".671" stop-color="#464646"/><stop offset=".725" stop-color="#262626"/><stop offset=".813" stop-color="#131313"/><stop offset=".860" stop-color="#191919"/><stop offset=".940" stop-color="#2b2b2b"/><stop offset=".998" stop-color="#2b2b2b"/></linearGradient><linearGradient id="gl119"><stop offset=".002" stop-color="#0e0e0e"/><stop offset=".137" stop-color="#0e0e0e"/><stop offset=".213" stop-color="#111111"/><stop offset=".237" stop-color="#1d1d1d"/><stop offset=".333" stop-color="#363636"/><stop offset=".337" stop-color="#3b3b3b"/><stop offset=".348" stop-color="#6e6e6e"/><stop offset=".352" stop-color="#767676"/><stop offset=".390" stop-color="#777777"/><stop offset=".398" stop-color="#989898"/><stop offset=".402" stop-color="#a0a0a0"/><stop offset=".437" stop-color="#a6a6a6"/><stop offset=".502" stop-color="#cacaca"/><stop offset=".537" stop-color="#c4c4c4"/><stop offset=".583" stop-color="#999999"/><stop offset=".629" stop-color="#797979"/><stop offset=".671" stop-color="#474747"/><stop offset=".729" stop-color="#242424"/><stop offset=".767" stop-color="#1c1c1c"/><stop offset=".810" stop-color="#0d0d0d"/><stop offset=".840" stop-color="#0d0d0d"/><stop offset=".887" stop-color="#121212"/><stop offset=".998" stop-color="#2a2a2a"/></linearGradient><linearGradient id="gl120"><stop offset=".002" stop-color="#141414"/><stop offset=".137" stop-color="#131313"/><stop offset=".213" stop-color="#161616"/><stop offset=".237" stop-color="#222222"/><stop offset=".333" stop-color="#3b3b3b"/><stop offset=".337" stop-color="#404040"/><stop offset=".348" stop-color="#747474"/><stop offset=".352" stop-color="#7c7c7c"/><stop offset=".390" stop-color="#7b7b7b"/><stop offset=".398" stop-color="#9b9b9b"/><stop offset=".402" stop-color="#a4a4a4"/><stop offset=".437" stop-color="#a9a9a9"/><stop offset=".502" stop-color="#cccccc"/><stop offset=".537" stop-color="#c6c6c6"/><stop offset=".583" stop-color="#9b9b9b"/><stop offset=".629" stop-color="#797979"/><stop offset=".671" stop-color="#484848"/><stop offset=".725" stop-color="#262626"/><stop offset=".767" stop-color="#1b1b1b"/><stop offset=".813" stop-color="#0b0b0b"/><stop offset=".860" stop-color="#080808"/><stop offset=".925" stop-color="#0d0d0d"/><stop offset=".998" stop-color="#1d1d1d"/></linearGradient><linearGradient id="gl121"><stop offset=".002" stop-color="#1a1a1a"/><stop offset=".137" stop-color="#191919"/><stop offset=".213" stop-color="#1c1c1c"/><stop offset=".237" stop-color="#282828"/><stop offset=".333" stop-color="#404040"/><stop offset=".337" stop-color="#454545"/><stop offset=".348" stop-color="#7b7b7b"/><stop offset=".352" stop-color="#848484"/><stop offset=".390" stop-color="#7f7f7f"/><stop offset=".398" stop-color="#9f9f9f"/><stop offset=".402" stop-color="#a7a7a7"/><stop offset=".437" stop-color="#ababab"/><stop offset=".502" stop-color="#cecece"/><stop offset=".537" stop-color="#c8c8c8"/><stop offset=".583" stop-color="#9c9c9c"/><stop offset=".629" stop-color="#7a7a7a"/><stop offset=".671" stop-color="#4a4a4a"/><stop offset=".725" stop-color="#262626"/><stop offset=".767" stop-color="#1c1c1c"/><stop offset=".813" stop-color="#0a0a0a"/><stop offset=".860" stop-color="#060606"/><stop offset=".937" stop-color="#070707"/><stop offset=".998" stop-color="#0f0f0f"/></linearGradient><linearGradient id="gl122"><stop offset=".002" stop-color="#212121"/><stop offset=".137" stop-color="#1f1f1f"/><stop offset=".213" stop-color="#232323"/><stop offset=".237" stop-color="#2e2e2e"/><stop offset=".333" stop-color="#474747"/><stop offset=".337" stop-color="#4c4c4c"/><stop offset=".348" stop-color="#838383"/><stop offset=".352" stop-color="#8c8c8c"/><stop offset=".390" stop-color="#838383"/><stop offset=".398" stop-color="#a3a3a3"/><stop offset=".402" stop-color="#aaaaaa"/><stop offset=".437" stop-color="#aeaeae"/><stop offset=".502" stop-color="#d0d0d0"/><stop offset=".537" stop-color="#cacaca"/><stop offset=".583" stop-color="#9d9d9d"/><stop offset=".629" stop-color="#7b7b7b"/><stop offset=".671" stop-color="#4b4b4b"/><stop offset=".725" stop-color="#272727"/><stop offset=".767" stop-color="#1c1c1c"/><stop offset=".813" stop-color="#0a0a0a"/><stop offset=".894" stop-color="#040404"/><stop offset=".998" stop-color="#050505"/></linearGradient><linearGradient id="gl123"><stop offset=".002" stop-color="#252525"/><stop offset=".137" stop-color="#252525"/><stop offset=".213" stop-color="#282828"/><stop offset=".237" stop-color="#343434"/><stop offset=".333" stop-color="#4d4d4d"/><stop offset=".337" stop-color="#525252"/><stop offset=".348" stop-color="#8b8b8b"/><stop offset=".352" stop-color="#949494"/><stop offset=".390" stop-color="#878787"/><stop offset=".398" stop-color="#a6a6a6"/><stop offset=".402" stop-color="#aeaeae"/><stop offset=".437" stop-color="#b0b0b0"/><stop offset=".502" stop-color="#d2d2d2"/><stop offset=".537" stop-color="#cccccc"/><stop offset=".583" stop-color="#9f9f9f"/><stop offset=".629" stop-color="#7b7b7b"/><stop offset=".671" stop-color="#4c4c4c"/><stop offset=".725" stop-color="#272727"/><stop offset=".767" stop-color="#1c1c1c"/><stop offset=".813" stop-color="#0b0b0b"/><stop offset=".860" stop-color="#050505"/><stop offset=".998" stop-color="#010101"/></linearGradient><linearGradient id="gl124"><stop offset=".002" stop-color="#272727"/><stop offset=".137" stop-color="#282828"/><stop offset=".213" stop-color="#2c2c2c"/><stop offset=".237" stop-color="#383838"/><stop offset=".333" stop-color="#515151"/><stop offset=".337" stop-color="#575757"/><stop offset=".348" stop-color="#919191"/><stop offset=".352" stop-color="#9a9a9a"/><stop offset=".390" stop-color="#8a8a8a"/><stop offset=".398" stop-color="#a9a9a9"/><stop offset=".402" stop-color="#b0b0b0"/><stop offset=".410" stop-color="#aeaeae"/><stop offset=".437" stop-color="#b2b2b2"/><stop offset=".502" stop-color="#d3d3d3"/><stop offset=".537" stop-color="#cecece"/><stop offset=".583" stop-color="#a1a1a1"/><stop offset=".629" stop-color="#7c7c7c"/><stop offset=".671" stop-color="#4e4e4e"/><stop offset=".725" stop-color="#282828"/><stop offset=".767" stop-color="#1c1c1c"/><stop offset=".813" stop-color="#0b0b0b"/><stop offset=".860" stop-color="#060606"/><stop offset=".998" stop-color="#000000"/></linearGradient><linearGradient id="gl125"><stop offset=".002" stop-color="#262626"/><stop offset=".137" stop-color="#282828"/><stop offset=".213" stop-color="#2d2d2d"/><stop offset=".237" stop-color="#393939"/><stop offset=".333" stop-color="#535353"/><stop offset=".337" stop-color="#595959"/><stop offset=".348" stop-color="#939393"/><stop offset=".352" stop-color="#9c9c9c"/><stop offset=".390" stop-color="#8c8c8c"/><stop offset=".398" stop-color="#ababab"/><stop offset=".402" stop-color="#b2b2b2"/><stop offset=".410" stop-color="#b0b0b0"/><stop offset=".437" stop-color="#b3b3b3"/><stop offset=".502" stop-color="#d5d5d5"/><stop offset=".537" stop-color="#cfcfcf"/><stop offset=".583" stop-color="#a3a3a3"/><stop offset=".629" stop-color="#7d7d7d"/><stop offset=".671" stop-color="#4f4f4f"/><stop offset=".725" stop-color="#292929"/><stop offset=".813" stop-color="#0b0b0b"/><stop offset=".860" stop-color="#060606"/><stop offset=".998" stop-color="#000000"/></linearGradient><linearGradient id="gl126"><stop offset=".002" stop-color="#232323"/><stop offset=".137" stop-color="#262626"/><stop offset=".213" stop-color="#2c2c2c"/><stop offset=".237" stop-color="#383838"/><stop offset=".333" stop-color="#525252"/><stop offset=".337" stop-color="#575757"/><stop offset=".348" stop-color="#939393"/><stop offset=".352" stop-color="#9c9c9c"/><stop offset=".390" stop-color="#8d8d8d"/><stop offset=".398" stop-color="#adadad"/><stop offset=".402" stop-color="#b4b4b4"/><stop offset=".410" stop-color="#b2b2b2"/><stop offset=".437" stop-color="#b5b5b5"/><stop offset=".502" stop-color="#d6d6d6"/><stop offset=".537" stop-color="#d1d1d1"/><stop offset=".629" stop-color="#7f7f7f"/><stop offset=".671" stop-color="#515151"/><stop offset=".725" stop-color="#2a2a2a"/><stop offset=".813" stop-color="#0b0b0b"/><stop offset=".860" stop-color="#060606"/><stop offset=".998" stop-color="#000000"/></linearGradient><linearGradient id="gl127"><stop offset=".002" stop-color="#1e1e1e"/><stop offset=".137" stop-color="#212121"/><stop offset=".213" stop-color="#282828"/><stop offset=".237" stop-color="#343434"/><stop offset=".333" stop-color="#4e4e4e"/><stop offset=".337" stop-color="#535353"/><stop offset=".348" stop-color="#909090"/><stop offset=".352" stop-color="#999999"/><stop offset=".390" stop-color="#8d8d8d"/><stop offset=".398" stop-color="#aeaeae"/><stop offset=".402" stop-color="#b5b5b5"/><stop offset=".437" stop-color="#b6b6b6"/><stop offset=".467" stop-color="#c2c2c2"/><stop offset=".502" stop-color="#d7d7d7"/><stop offset=".537" stop-color="#d3d3d3"/><stop offset=".629" stop-color="#808080"/><stop offset=".671" stop-color="#525252"/><stop offset=".725" stop-color="#2b2b2b"/><stop offset=".813" stop-color="#0b0b0b"/><stop offset=".860" stop-color="#060606"/><stop offset=".998" stop-color="#000000"/></linearGradient><linearGradient id="gl128"><stop offset=".002" stop-color="#181818"/><stop offset=".137" stop-color="#1c1c1c"/><stop offset=".213" stop-color="#232323"/><stop offset=".237" stop-color="#2f2f2f"/><stop offset=".333" stop-color="#484848"/><stop offset=".337" stop-color="#4e4e4e"/><stop offset=".348" stop-color="#8b8b8b"/><stop offset=".352" stop-color="#959595"/><stop offset=".390" stop-color="#8d8d8d"/><stop offset=".398" stop-color="#afafaf"/><stop offset=".402" stop-color="#b7b7b7"/><stop offset=".437" stop-color="#b7b7b7"/><stop offset=".467" stop-color="#c2c2c2"/><stop offset=".502" stop-color="#d8d8d8"/><stop offset=".537" stop-color="#d4d4d4"/><stop offset=".629" stop-color="#818181"/><stop offset=".671" stop-color="#545454"/><stop offset=".725" stop-color="#2c2c2c"/><stop offset=".813" stop-color="#0b0b0b"/><stop offset=".860" stop-color="#060606"/><stop offset=".998" stop-color="#000000"/></linearGradient><linearGradient id="gl129"><stop offset=".002" stop-color="#131313"/><stop offset=".137" stop-color="#171717"/><stop offset=".213" stop-color="#1e1e1e"/><stop offset=".237" stop-color="#2a2a2a"/><stop offset=".333" stop-color="#424242"/><stop offset=".337" stop-color="#484848"/><stop offset=".348" stop-color="#868686"/><stop offset=".352" stop-color="#909090"/><stop offset=".390" stop-color="#8d8d8d"/><stop offset=".398" stop-color="#b0b0b0"/><stop offset=".402" stop-color="#b8b8b8"/><stop offset=".437" stop-color="#b8b8b8"/><stop offset=".467" stop-color="#c2c2c2"/><stop offset=".502" stop-color="#dadada"/><stop offset=".537" stop-color="#d6d6d6"/><stop offset=".583" stop-color="#afafaf"/><stop offset=".629" stop-color="#838383"/><stop offset=".671" stop-color="#565656"/><stop offset=".729" stop-color="#2b2b2b"/><stop offset=".813" stop-color="#0c0c0c"/><stop offset=".860" stop-color="#060606"/><stop offset=".998" stop-color="#010101"/></linearGradient><linearGradient id="gl130"><stop offset=".002" stop-color="#101010"/><stop offset=".137" stop-color="#131313"/><stop offset=".213" stop-color="#1a1a1a"/><stop offset=".237" stop-color="#262626"/><stop offset=".333" stop-color="#3d3d3d"/><stop offset=".337" stop-color="#434343"/><stop offset=".348" stop-color="#828282"/><stop offset=".352" stop-color="#8c8c8c"/><stop offset=".390" stop-color="#8d8d8d"/><stop offset=".398" stop-color="#b1b1b1"/><stop offset=".402" stop-color="#b9b9b9"/><stop offset=".437" stop-color="#bababa"/><stop offset=".467" stop-color="#c2c2c2"/><stop offset=".502" stop-color="#dbdbdb"/><stop offset=".537" stop-color="#d7d7d7"/><stop offset=".583" stop-color="#b1b1b1"/><stop offset=".671" stop-color="#575757"/><stop offset=".729" stop-color="#2c2c2c"/><stop offset=".813" stop-color="#0c0c0c"/><stop offset=".860" stop-color="#060606"/><stop offset=".998" stop-color="#010101"/></linearGradient><linearGradient id="gl131"><stop offset=".002" stop-color="#0e0e0e"/><stop offset=".137" stop-color="#101010"/><stop offset=".213" stop-color="#171717"/><stop offset=".237" stop-color="#232323"/><stop offset=".333" stop-color="#3a3a3a"/><stop offset=".337" stop-color="#3f3f3f"/><stop offset=".348" stop-color="#7f7f7f"/><stop offset=".352" stop-color="#8a8a8a"/><stop offset=".390" stop-color="#8d8d8d"/><stop offset=".398" stop-color="#b2b2b2"/><stop offset=".402" stop-color="#bbbbbb"/><stop offset=".437" stop-color="#bbbbbb"/><stop offset=".467" stop-color="#c2c2c2"/><stop offset=".502" stop-color="#dcdcdc"/><stop offset=".537" stop-color="#d9d9d9"/><stop offset=".583" stop-color="#b4b4b4"/><stop offset=".671" stop-color="#595959"/><stop offset=".729" stop-color="#2d2d2d"/><stop offset=".813" stop-color="#0c0c0c"/><stop offset=".860" stop-color="#060606"/><stop offset=".998" stop-color="#010101"/></linearGradient><linearGradient id="gl132"><stop offset=".002" stop-color="#0d0d0d"/><stop offset=".137" stop-color="#0f0f0f"/><stop offset=".213" stop-color="#161616"/><stop offset=".237" stop-color="#212121"/><stop offset=".333" stop-color="#373737"/><stop offset=".337" stop-color="#3d3d3d"/><stop offset=".348" stop-color="#7d7d7d"/><stop offset=".352" stop-color="#888888"/><stop offset=".390" stop-color="#8e8e8e"/><stop offset=".398" stop-color="#b3b3b3"/><stop offset=".402" stop-color="#bcbcbc"/><stop offset=".437" stop-color="#bcbcbc"/><stop offset=".467" stop-color="#c2c2c2"/><stop offset=".502" stop-color="#dddddd"/><stop offset=".537" stop-color="#dbdbdb"/><stop offset=".579" stop-color="#bababa"/><stop offset=".671" stop-color="#5a5a5a"/><stop offset=".729" stop-color="#2e2e2e"/><stop offset=".813" stop-color="#0c0c0c"/><stop offset=".860" stop-color="#060606"/><stop offset=".998" stop-color="#010101"/></linearGradient><linearGradient id="gl133"><stop offset=".002" stop-color="#0c0c0c"/><stop offset=".137" stop-color="#0e0e0e"/><stop offset=".213" stop-color="#151515"/><stop offset=".237" stop-color="#212121"/><stop offset=".333" stop-color="#363636"/><stop offset=".337" stop-color="#3c3c3c"/><stop offset=".348" stop-color="#7d7d7d"/><stop offset=".352" stop-color="#888888"/><stop offset=".390" stop-color="#8f8f8f"/><stop offset=".398" stop-color="#b5b5b5"/><stop offset=".402" stop-color="#bebebe"/><stop offset=".437" stop-color="#bdbdbd"/><stop offset=".467" stop-color="#c2c2c2"/><stop offset=".502" stop-color="#dfdfdf"/><stop offset=".537" stop-color="#dcdcdc"/><stop offset=".579" stop-color="#bdbdbd"/><stop offset=".671" stop-color="#5c5c5c"/><stop offset=".729" stop-color="#2f2f2f"/><stop offset=".813" stop-color="#0c0c0c"/><stop offset=".860" stop-color="#060606"/><stop offset=".998" stop-color="#010101"/></linearGradient><linearGradient id="gl134"><stop offset=".002" stop-color="#0c0c0c"/><stop offset=".137" stop-color="#0e0e0e"/><stop offset=".213" stop-color="#151515"/><stop offset=".237" stop-color="#212121"/><stop offset=".333" stop-color="#353535"/><stop offset=".337" stop-color="#3b3b3b"/><stop offset=".348" stop-color="#7d7d7d"/><stop offset=".352" stop-color="#888888"/><stop offset=".390" stop-color="#909090"/><stop offset=".398" stop-color="#b6b6b6"/><stop offset=".402" stop-color="#c0c0c0"/><stop offset=".437" stop-color="#bfbfbf"/><stop offset=".467" stop-color="#c2c2c2"/><stop offset=".502" stop-color="#e0e0e0"/><stop offset=".537" stop-color="#dedede"/><stop offset=".579" stop-color="#c0c0c0"/><stop offset=".671" stop-color="#5d5d5d"/><stop offset=".729" stop-color="#303030"/><stop offset=".813" stop-color="#0c0c0c"/><stop offset=".860" stop-color="#060606"/><stop offset=".998" stop-color="#010101"/></linearGradient><linearGradient id="gl135"><stop offset=".002" stop-color="#0d0d0d"/><stop offset=".137" stop-color="#0f0f0f"/><stop offset=".213" stop-color="#161616"/><stop offset=".237" stop-color="#222222"/><stop offset=".333" stop-color="#353535"/><stop offset=".337" stop-color="#3b3b3b"/><stop offset=".348" stop-color="#7e7e7e"/><stop offset=".352" stop-color="#898989"/><stop offset=".390" stop-color="#929292"/><stop offset=".398" stop-color="#b8b8b8"/><stop offset=".402" stop-color="#c2c2c2"/><stop offset=".467" stop-color="#c2c2c2"/><stop offset=".502" stop-color="#e1e1e1"/><stop offset=".537" stop-color="#dfdfdf"/><stop offset=".579" stop-color="#c3c3c3"/><stop offset=".671" stop-color="#5f5f5f"/><stop offset=".729" stop-color="#313131"/><stop offset=".813" stop-color="#0c0c0c"/><stop offset=".860" stop-color="#060606"/><stop offset=".998" stop-color="#010101"/></linearGradient><linearGradient id="gl136"><stop offset=".002" stop-color="#0e0e0e"/><stop offset=".137" stop-color="#0f0f0f"/><stop offset=".213" stop-color="#171717"/><stop offset=".237" stop-color="#232323"/><stop offset=".333" stop-color="#363636"/><stop offset=".337" stop-color="#3c3c3c"/><stop offset=".348" stop-color="#7f7f7f"/><stop offset=".352" stop-color="#8a8a8a"/><stop offset=".390" stop-color="#939393"/><stop offset=".398" stop-color="#bababa"/><stop offset=".402" stop-color="#c3c3c3"/><stop offset=".467" stop-color="#c2c2c2"/><stop offset=".502" stop-color="#e2e2e2"/><stop offset=".537" stop-color="#e1e1e1"/><stop offset=".579" stop-color="#c6c6c6"/><stop offset=".629" stop-color="#8c8c8c"/><stop offset=".667" stop-color="#646464"/><stop offset=".729" stop-color="#313131"/><stop offset=".813" stop-color="#0c0c0c"/><stop offset=".860" stop-color="#060606"/><stop offset=".998" stop-color="#020202"/></linearGradient><linearGradient id="gl137"><stop offset=".002" stop-color="#0e0e0e"/><stop offset=".137" stop-color="#101010"/><stop offset=".213" stop-color="#181818"/><stop offset=".237" stop-color="#242424"/><stop offset=".333" stop-color="#363636"/><stop offset=".337" stop-color="#3c3c3c"/><stop offset=".348" stop-color="#808080"/><stop offset=".352" stop-color="#8c8c8c"/><stop offset=".390" stop-color="#959595"/><stop offset=".398" stop-color="#bcbcbc"/><stop offset=".402" stop-color="#c5c5c5"/><stop offset=".467" stop-color="#c2c2c2"/><stop offset=".502" stop-color="#e4e4e4"/><stop offset=".537" stop-color="#e2e2e2"/><stop offset=".579" stop-color="#c8c8c8"/><stop offset=".629" stop-color="#8d8d8d"/><stop offset=".667" stop-color="#666666"/><stop offset=".729" stop-color="#323232"/><stop offset=".813" stop-color="#0d0d0d"/><stop offset=".860" stop-color="#060606"/><stop offset=".998" stop-color="#020202"/></linearGradient><linearGradient id="gl138"><stop offset=".002" stop-color="#0f0f0f"/><stop offset=".137" stop-color="#111111"/><stop offset=".213" stop-color="#191919"/><stop offset=".237" stop-color="#252525"/><stop offset=".333" stop-color="#363636"/><stop offset=".337" stop-color="#3c3c3c"/><stop offset=".348" stop-color="#818181"/><stop offset=".352" stop-color="#8d8d8d"/><stop offset=".390" stop-color="#979797"/><stop offset=".398" stop-color="#bebebe"/><stop offset=".402" stop-color="#c7c7c7"/><stop offset=".467" stop-color="#c2c2c2"/><stop offset=".502" stop-color="#e5e5e5"/><stop offset=".537" stop-color="#e4e4e4"/><stop offset=".579" stop-color="#cbcbcb"/><stop offset=".633" stop-color="#8a8a8a"/><stop offset=".671" stop-color="#646464"/><stop offset=".725" stop-color="#353535"/><stop offset=".810" stop-color="#0e0e0e"/><stop offset=".860" stop-color="#060606"/><stop offset=".998" stop-color="#020202"/></linearGradient><linearGradient id="gl139"><stop offset=".002" stop-color="#101010"/><stop offset=".137" stop-color="#121212"/><stop offset=".213" stop-color="#1a1a1a"/><stop offset=".237" stop-color="#262626"/><stop offset=".333" stop-color="#373737"/><stop offset=".337" stop-color="#3d3d3d"/><stop offset=".348" stop-color="#828282"/><stop offset=".352" stop-color="#8e8e8e"/><stop offset=".390" stop-color="#989898"/><stop offset=".398" stop-color="#c0c0c0"/><stop offset=".402" stop-color="#c9c9c9"/><stop offset=".467" stop-color="#c2c2c2"/><stop offset=".502" stop-color="#e6e6e6"/><stop offset=".537" stop-color="#e6e6e6"/><stop offset=".579" stop-color="#cecece"/><stop offset=".633" stop-color="#8c8c8c"/><stop offset=".671" stop-color="#656565"/><stop offset=".725" stop-color="#363636"/><stop offset=".810" stop-color="#0e0e0e"/><stop offset=".860" stop-color="#070707"/><stop offset=".998" stop-color="#020202"/></linearGradient><linearGradient id="gl140"><stop offset=".002" stop-color="#111111"/><stop offset=".137" stop-color="#131313"/><stop offset=".213" stop-color="#1b1b1b"/><stop offset=".237" stop-color="#272727"/><stop offset=".333" stop-color="#373737"/><stop offset=".337" stop-color="#3d3d3d"/><stop offset=".348" stop-color="#848484"/><stop offset=".352" stop-color="#909090"/><stop offset=".390" stop-color="#9a9a9a"/><stop offset=".398" stop-color="#c1c1c1"/><stop offset=".402" stop-color="#cbcbcb"/><stop offset=".467" stop-color="#c2c2c2"/><stop offset=".502" stop-color="#e8e8e8"/><stop offset=".537" stop-color="#e7e7e7"/><stop offset=".583" stop-color="#cdcdcd"/><stop offset=".633" stop-color="#8d8d8d"/><stop offset=".671" stop-color="#676767"/><stop offset=".725" stop-color="#383838"/><stop offset=".767" stop-color="#222222"/><stop offset=".813" stop-color="#0d0d0d"/><stop offset=".860" stop-color="#070707"/><stop offset=".998" stop-color="#020202"/></linearGradient><linearGradient id="gl141"><stop offset=".002" stop-color="#121212"/><stop offset=".137" stop-color="#141414"/><stop offset=".213" stop-color="#1d1d1d"/><stop offset=".237" stop-color="#282828"/><stop offset=".333" stop-color="#383838"/><stop offset=".337" stop-color="#3e3e3e"/><stop offset=".348" stop-color="#858585"/><stop offset=".352" stop-color="#919191"/><stop offset=".390" stop-color="#9b9b9b"/><stop offset=".398" stop-color="#c3c3c3"/><stop offset=".402" stop-color="#cdcdcd"/><stop offset=".467" stop-color="#c2c2c2"/><stop offset=".502" stop-color="#e9e9e9"/><stop offset=".537" stop-color="#e9e9e9"/><stop offset=".579" stop-color="#d4d4d4"/><stop offset=".629" stop-color="#939393"/><stop offset=".671" stop-color="#696969"/><stop offset=".725" stop-color="#393939"/><stop offset=".767" stop-color="#232323"/><stop offset=".810" stop-color="#0f0f0f"/><stop offset=".840" stop-color="#0a0a0a"/><stop offset=".998" stop-color="#020202"/></linearGradient><linearGradient id="gl142"><stop offset=".002" stop-color="#131313"/><stop offset=".137" stop-color="#151515"/><stop offset=".179" stop-color="#1a1a1a"/><stop offset=".213" stop-color="#1d1d1d"/><stop offset=".237" stop-color="#292929"/><stop offset=".333" stop-color="#383838"/><stop offset=".337" stop-color="#3f3f3f"/><stop offset=".348" stop-color="#868686"/><stop offset=".352" stop-color="#939393"/><stop offset=".390" stop-color="#9c9c9c"/><stop offset=".398" stop-color="#c4c4c4"/><stop offset=".402" stop-color="#cecece"/><stop offset=".467" stop-color="#c3c3c3"/><stop offset=".502" stop-color="#e9e9e9"/><stop offset=".537" stop-color="#e9e9e9"/><stop offset=".583" stop-color="#d0d0d0"/><stop offset=".633" stop-color="#8f8f8f"/><stop offset=".725" stop-color="#3b3b3b"/><stop offset=".771" stop-color="#222222"/><stop offset=".813" stop-color="#0e0e0e"/><stop offset=".860" stop-color="#080808"/><stop offset=".998" stop-color="#030303"/></linearGradient><linearGradient id="gl143"><stop offset=".002" stop-color="#151515"/><stop offset=".140" stop-color="#161616"/><stop offset=".213" stop-color="#1f1f1f"/><stop offset=".237" stop-color="#2a2a2a"/><stop offset=".333" stop-color="#393939"/><stop offset=".337" stop-color="#404040"/><stop offset=".348" stop-color="#888888"/><stop offset=".352" stop-color="#949494"/><stop offset=".390" stop-color="#9d9d9d"/><stop offset=".398" stop-color="#c6c6c6"/><stop offset=".402" stop-color="#d0d0d0"/><stop offset=".467" stop-color="#c4c4c4"/><stop offset=".502" stop-color="#e9e9e9"/><stop offset=".537" stop-color="#e9e9e9"/><stop offset=".583" stop-color="#d1d1d1"/><stop offset=".633" stop-color="#909090"/><stop offset=".671" stop-color="#6b6b6b"/><stop offset=".725" stop-color="#3d3d3d"/><stop offset=".810" stop-color="#121212"/><stop offset=".860" stop-color="#090909"/><stop offset=".998" stop-color="#030303"/></linearGradient><linearGradient id="gl144"><stop offset=".002" stop-color="#161616"/><stop offset=".140" stop-color="#181818"/><stop offset=".213" stop-color="#202020"/><stop offset=".237" stop-color="#2c2c2c"/><stop offset=".333" stop-color="#3a3a3a"/><stop offset=".337" stop-color="#414141"/><stop offset=".348" stop-color="#898989"/><stop offset=".352" stop-color="#969696"/><stop offset=".390" stop-color="#9e9e9e"/><stop offset=".398" stop-color="#c7c7c7"/><stop offset=".402" stop-color="#d1d1d1"/><stop offset=".467" stop-color="#c5c5c5"/><stop offset=".502" stop-color="#eaeaea"/><stop offset=".537" stop-color="#eaeaea"/><stop offset=".579" stop-color="#d5d5d5"/><stop offset=".633" stop-color="#909090"/><stop offset=".671" stop-color="#6c6c6c"/><stop offset=".725" stop-color="#414141"/><stop offset=".810" stop-color="#151515"/><stop offset=".860" stop-color="#0b0b0b"/><stop offset=".998" stop-color="#040404"/></linearGradient><linearGradient id="gl145"><stop offset=".002" stop-color="#191919"/><stop offset=".140" stop-color="#1a1a1a"/><stop offset=".213" stop-color="#222222"/><stop offset=".237" stop-color="#2e2e2e"/><stop offset=".333" stop-color="#3c3c3c"/><stop offset=".337" stop-color="#424242"/><stop offset=".348" stop-color="#8b8b8b"/><stop offset=".352" stop-color="#989898"/><stop offset=".390" stop-color="#9f9f9f"/><stop offset=".398" stop-color="#c8c8c8"/><stop offset=".402" stop-color="#d2d2d2"/><stop offset=".467" stop-color="#c6c6c6"/><stop offset=".502" stop-color="#eaeaea"/><stop offset=".537" stop-color="#eaeaea"/><stop offset=".583" stop-color="#d1d1d1"/><stop offset=".633" stop-color="#919191"/><stop offset=".671" stop-color="#6e6e6e"/><stop offset=".725" stop-color="#454545"/><stop offset=".810" stop-color="#191919"/><stop offset=".860" stop-color="#0f0f0f"/><stop offset=".998" stop-color="#060606"/></linearGradient><linearGradient id="gl146"><stop offset=".002" stop-color="#1b1b1b"/><stop offset=".140" stop-color="#1d1d1d"/><stop offset=".213" stop-color="#252525"/><stop offset=".237" stop-color="#303030"/><stop offset=".333" stop-color="#3e3e3e"/><stop offset=".337" stop-color="#444444"/><stop offset=".348" stop-color="#8e8e8e"/><stop offset=".352" stop-color="#9a9a9a"/><stop offset=".390" stop-color="#a0a0a0"/><stop offset=".398" stop-color="#cacaca"/><stop offset=".402" stop-color="#d4d4d4"/><stop offset=".467" stop-color="#c7c7c7"/><stop offset=".502" stop-color="#eaeaea"/><stop offset=".537" stop-color="#eaeaea"/><stop offset=".583" stop-color="#d2d2d2"/><stop offset=".633" stop-color="#919191"/><stop offset=".671" stop-color="#707070"/><stop offset=".725" stop-color="#4a4a4a"/><stop offset=".744" stop-color="#424242"/><stop offset=".810" stop-color="#1e1e1e"/><stop offset=".860" stop-color="#141414"/><stop offset=".998" stop-color="#0a0a0a"/></linearGradient><linearGradient id="gl147"><stop offset=".002" stop-color="#1e1e1e"/><stop offset=".140" stop-color="#202020"/><stop offset=".213" stop-color="#282828"/><stop offset=".237" stop-color="#333333"/><stop offset=".333" stop-color="#404040"/><stop offset=".337" stop-color="#474747"/><stop offset=".348" stop-color="#919191"/><stop offset=".352" stop-color="#9d9d9d"/><stop offset=".390" stop-color="#a2a2a2"/><stop offset=".398" stop-color="#cbcbcb"/><stop offset=".402" stop-color="#d5d5d5"/><stop offset=".467" stop-color="#c8c8c8"/><stop offset=".502" stop-color="#ebebeb"/><stop offset=".537" stop-color="#ebebeb"/><stop offset=".583" stop-color="#d2d2d2"/><stop offset=".633" stop-color="#929292"/><stop offset=".671" stop-color="#717171"/><stop offset=".725" stop-color="#4c4c4c"/><stop offset=".744" stop-color="#454545"/><stop offset=".810" stop-color="#222222"/><stop offset=".860" stop-color="#191919"/><stop offset=".998" stop-color="#0e0e0e"/></linearGradient><linearGradient id="gl148"><stop offset=".002" stop-color="#222222"/><stop offset=".140" stop-color="#232323"/><stop offset=".213" stop-color="#2b2b2b"/><stop offset=".237" stop-color="#363636"/><stop offset=".333" stop-color="#434343"/><stop offset=".337" stop-color="#4a4a4a"/><stop offset=".348" stop-color="#949494"/><stop offset=".352" stop-color="#a1a1a1"/><stop offset=".390" stop-color="#a3a3a3"/><stop offset=".398" stop-color="#cdcdcd"/><stop offset=".402" stop-color="#d7d7d7"/><stop offset=".467" stop-color="#c9c9c9"/><stop offset=".502" stop-color="#ebebeb"/><stop offset=".537" stop-color="#ebebeb"/><stop offset=".583" stop-color="#d2d2d2"/><stop offset=".633" stop-color="#939393"/><stop offset=".671" stop-color="#717171"/><stop offset=".725" stop-color="#4c4c4c"/><stop offset=".810" stop-color="#242424"/><stop offset=".860" stop-color="#1b1b1b"/><stop offset=".998" stop-color="#131313"/></linearGradient><linearGradient id="gl149"><stop offset=".002" stop-color="#252525"/><stop offset=".140" stop-color="#262626"/><stop offset=".213" stop-color="#2e2e2e"/><stop offset=".237" stop-color="#393939"/><stop offset=".333" stop-color="#464646"/><stop offset=".337" stop-color="#4d4d4d"/><stop offset=".348" stop-color="#989898"/><stop offset=".352" stop-color="#a4a4a4"/><stop offset=".390" stop-color="#a5a5a5"/><stop offset=".398" stop-color="#cfcfcf"/><stop offset=".402" stop-color="#d8d8d8"/><stop offset=".467" stop-color="#cacaca"/><stop offset=".502" stop-color="#ebebeb"/><stop offset=".537" stop-color="#ebebeb"/><stop offset=".583" stop-color="#d3d3d3"/><stop offset=".633" stop-color="#939393"/><stop offset=".671" stop-color="#717171"/><stop offset=".725" stop-color="#4a4a4a"/><stop offset=".810" stop-color="#222222"/><stop offset=".860" stop-color="#1b1b1b"/><stop offset=".998" stop-color="#171717"/></linearGradient><linearGradient id="gl150"><stop offset=".002" stop-color="#282828"/><stop offset=".140" stop-color="#292929"/><stop offset=".213" stop-color="#313131"/><stop offset=".237" stop-color="#3d3d3d"/><stop offset=".333" stop-color="#494949"/><stop offset=".337" stop-color="#505050"/><stop offset=".348" stop-color="#9b9b9b"/><stop offset=".352" stop-color="#a7a7a7"/><stop offset=".390" stop-color="#a6a6a6"/><stop offset=".398" stop-color="#d0d0d0"/><stop offset=".402" stop-color="#dadada"/><stop offset=".467" stop-color="#cbcbcb"/><stop offset=".502" stop-color="#ececec"/><stop offset=".537" stop-color="#ececec"/><stop offset=".583" stop-color="#d3d3d3"/><stop offset=".633" stop-color="#949494"/><stop offset=".671" stop-color="#717171"/><stop offset=".725" stop-color="#474747"/><stop offset=".771" stop-color="#2f2f2f"/><stop offset=".813" stop-color="#1d1d1d"/><stop offset=".860" stop-color="#181818"/><stop offset=".998" stop-color="#181818"/></linearGradient><linearGradient id="gl151"><stop offset=".002" stop-color="#2a2a2a"/><stop offset=".140" stop-color="#2c2c2c"/><stop offset=".213" stop-color="#343434"/><stop offset=".237" stop-color="#3f3f3f"/><stop offset=".333" stop-color="#4c4c4c"/><stop offset=".337" stop-color="#525252"/><stop offset=".348" stop-color="#9e9e9e"/><stop offset=".352" stop-color="#ababab"/><stop offset=".390" stop-color="#a8a8a8"/><stop offset=".398" stop-color="#d2d2d2"/><stop offset=".402" stop-color="#dcdcdc"/><stop offset=".467" stop-color="#cccccc"/><stop offset=".502" stop-color="#ececec"/><stop offset=".537" stop-color="#ececec"/><stop offset=".579" stop-color="#d7d7d7"/><stop offset=".633" stop-color="#959595"/><stop offset=".671" stop-color="#707070"/><stop offset=".725" stop-color="#444444"/><stop offset=".771" stop-color="#2b2b2b"/><stop offset=".813" stop-color="#181818"/><stop offset=".860" stop-color="#131313"/><stop offset=".998" stop-color="#151515"/></linearGradient><linearGradient id="gl152"><stop offset=".002" stop-color="#2c2c2c"/><stop offset=".140" stop-color="#2e2e2e"/><stop offset=".213" stop-color="#363636"/><stop offset=".237" stop-color="#424242"/><stop offset=".333" stop-color="#4e4e4e"/><stop offset=".337" stop-color="#545454"/><stop offset=".348" stop-color="#a1a1a1"/><stop offset=".352" stop-color="#adadad"/><stop offset=".390" stop-color="#a9a9a9"/><stop offset=".398" stop-color="#d3d3d3"/><stop offset=".402" stop-color="#dddddd"/><stop offset=".467" stop-color="#cccccc"/><stop offset=".502" stop-color="#ececec"/><stop offset=".537" stop-color="#ececec"/><stop offset=".583" stop-color="#d4d4d4"/><stop offset=".633" stop-color="#959595"/><stop offset=".671" stop-color="#707070"/><stop offset=".725" stop-color="#424242"/><stop offset=".790" stop-color="#1f1f1f"/><stop offset=".813" stop-color="#141414"/><stop offset=".860" stop-color="#0f0f0f"/><stop offset=".998" stop-color="#111111"/></linearGradient><linearGradient id="gl153"><stop offset=".002" stop-color="#2d2d2d"/><stop offset=".140" stop-color="#2f2f2f"/><stop offset=".213" stop-color="#383838"/><stop offset=".237" stop-color="#434343"/><stop offset=".333" stop-color="#4f4f4f"/><stop offset=".337" stop-color="#565656"/><stop offset=".348" stop-color="#a3a3a3"/><stop offset=".352" stop-color="#afafaf"/><stop offset=".390" stop-color="#aaaaaa"/><stop offset=".398" stop-color="#d5d5d5"/><stop offset=".402" stop-color="#dedede"/><stop offset=".467" stop-color="#cdcdcd"/><stop offset=".502" stop-color="#ededed"/><stop offset=".537" stop-color="#ededed"/><stop offset=".583" stop-color="#d4d4d4"/><stop offset=".633" stop-color="#969696"/><stop offset=".725" stop-color="#414141"/><stop offset=".810" stop-color="#131313"/><stop offset=".860" stop-color="#0c0c0c"/><stop offset=".998" stop-color="#0d0d0d"/></linearGradient><linearGradient id="gl154"><stop offset=".002" stop-color="#2d2d2d"/><stop offset=".140" stop-color="#2f2f2f"/><stop offset=".213" stop-color="#383838"/><stop offset=".237" stop-color="#434343"/><stop offset=".333" stop-color="#4f4f4f"/><stop offset=".337" stop-color="#565656"/><stop offset=".348" stop-color="#a4a4a4"/><stop offset=".352" stop-color="#b0b0b0"/><stop offset=".390" stop-color="#ababab"/><stop offset=".398" stop-color="#d6d6d6"/><stop offset=".402" stop-color="#e0e0e0"/><stop offset=".467" stop-color="#cecece"/><stop offset=".502" stop-color="#ededed"/><stop offset=".537" stop-color="#ededed"/><stop offset=".583" stop-color="#d4d4d4"/><stop offset=".633" stop-color="#969696"/><stop offset=".725" stop-color="#414141"/><stop offset=".810" stop-color="#121212"/><stop offset=".860" stop-color="#0a0a0a"/><stop offset=".998" stop-color="#090909"/></linearGradient><linearGradient id="gl155"><stop offset=".002" stop-color="#2c2c2c"/><stop offset=".140" stop-color="#2f2f2f"/><stop offset=".213" stop-color="#373737"/><stop offset=".237" stop-color="#434343"/><stop offset=".333" stop-color="#4f4f4f"/><stop offset=".337" stop-color="#565656"/><stop offset=".348" stop-color="#a4a4a4"/><stop offset=".352" stop-color="#b1b1b1"/><stop offset=".390" stop-color="#ababab"/><stop offset=".398" stop-color="#d7d7d7"/><stop offset=".402" stop-color="#e1e1e1"/><stop offset=".467" stop-color="#cfcfcf"/><stop offset=".502" stop-color="#ededed"/><stop offset=".537" stop-color="#ededed"/><stop offset=".583" stop-color="#d5d5d5"/><stop offset=".633" stop-color="#979797"/><stop offset=".725" stop-color="#414141"/><stop offset=".767" stop-color="#272727"/><stop offset=".810" stop-color="#111111"/><stop offset=".860" stop-color="#090909"/><stop offset=".998" stop-color="#070707"/></linearGradient><linearGradient id="gl156"><stop offset=".002" stop-color="#2a2a2a"/><stop offset=".140" stop-color="#2d2d2d"/><stop offset=".213" stop-color="#363636"/><stop offset=".237" stop-color="#424242"/><stop offset=".333" stop-color="#4e4e4e"/><stop offset=".337" stop-color="#545454"/><stop offset=".348" stop-color="#a3a3a3"/><stop offset=".352" stop-color="#b0b0b0"/><stop offset=".390" stop-color="#ababab"/><stop offset=".398" stop-color="#d8d8d8"/><stop offset=".402" stop-color="#e2e2e2"/><stop offset=".467" stop-color="#d0d0d0"/><stop offset=".502" stop-color="#eeeeee"/><stop offset=".537" stop-color="#eeeeee"/><stop offset=".583" stop-color="#d5d5d5"/><stop offset=".633" stop-color="#989898"/><stop offset=".725" stop-color="#424242"/><stop offset=".767" stop-color="#272727"/><stop offset=".810" stop-color="#111111"/><stop offset=".860" stop-color="#090909"/><stop offset=".998" stop-color="#060606"/></linearGradient><linearGradient id="gl157"><stop offset=".002" stop-color="#282828"/><stop offset=".140" stop-color="#2b2b2b"/><stop offset=".213" stop-color="#343434"/><stop offset=".237" stop-color="#404040"/><stop offset=".333" stop-color="#4b4b4b"/><stop offset=".337" stop-color="#525252"/><stop offset=".348" stop-color="#a1a1a1"/><stop offset=".352" stop-color="#afafaf"/><stop offset=".390" stop-color="#ababab"/><stop offset=".398" stop-color="#d9d9d9"/><stop offset=".402" stop-color="#e3e3e3"/><stop offset=".467" stop-color="#d1d1d1"/><stop offset=".502" stop-color="#eeeeee"/><stop offset=".537" stop-color="#eeeeee"/><stop offset=".583" stop-color="#d5d5d5"/><stop offset=".633" stop-color="#989898"/><stop offset=".725" stop-color="#424242"/><stop offset=".767" stop-color="#282828"/><stop offset=".810" stop-color="#111111"/><stop offset=".860" stop-color="#090909"/><stop offset=".998" stop-color="#050505"/></linearGradient><linearGradient id="gl158"><stop offset=".002" stop-color="#262626"/><stop offset=".140" stop-color="#2a2a2a"/><stop offset=".213" stop-color="#333333"/><stop offset=".237" stop-color="#3e3e3e"/><stop offset=".333" stop-color="#494949"/><stop offset=".337" stop-color="#505050"/><stop offset=".348" stop-color="#9f9f9f"/><stop offset=".352" stop-color="#adadad"/><stop offset=".390" stop-color="#ababab"/><stop offset=".398" stop-color="#d9d9d9"/><stop offset=".402" stop-color="#e4e4e4"/><stop offset=".437" stop-color="#dddddd"/><stop offset=".467" stop-color="#d2d2d2"/><stop offset=".502" stop-color="#eeeeee"/><stop offset=".537" stop-color="#eeeeee"/><stop offset=".583" stop-color="#d6d6d6"/><stop offset=".633" stop-color="#999999"/><stop offset=".725" stop-color="#434343"/><stop offset=".767" stop-color="#282828"/><stop offset=".810" stop-color="#121212"/><stop offset=".860" stop-color="#090909"/><stop offset=".998" stop-color="#050505"/></linearGradient><linearGradient id="gl159"><stop offset=".002" stop-color="#252525"/><stop offset=".140" stop-color="#282828"/><stop offset=".213" stop-color="#323232"/><stop offset=".237" stop-color="#3d3d3d"/><stop offset=".333" stop-color="#474747"/><stop offset=".337" stop-color="#4e4e4e"/><stop offset=".348" stop-color="#9d9d9d"/><stop offset=".352" stop-color="#aaaaaa"/><stop offset=".390" stop-color="#aaaaaa"/><stop offset=".398" stop-color="#d9d9d9"/><stop offset=".402" stop-color="#e4e4e4"/><stop offset=".437" stop-color="#dedede"/><stop offset=".467" stop-color="#d3d3d3"/><stop offset=".502" stop-color="#eeeeee"/><stop offset=".537" stop-color="#eeeeee"/><stop offset=".583" stop-color="#d5d5d5"/><stop offset=".633" stop-color="#989898"/><stop offset=".725" stop-color="#434343"/><stop offset=".767" stop-color="#282828"/><stop offset=".810" stop-color="#111111"/><stop offset=".860" stop-color="#090909"/><stop offset=".998" stop-color="#060606"/></linearGradient><linearGradient id="gl160"><stop offset=".002" stop-color="#252525"/><stop offset=".140" stop-color="#282828"/><stop offset=".213" stop-color="#323232"/><stop offset=".237" stop-color="#3c3c3c"/><stop offset=".333" stop-color="#454545"/><stop offset=".337" stop-color="#4c4c4c"/><stop offset=".348" stop-color="#999999"/><stop offset=".352" stop-color="#a6a6a6"/><stop offset=".390" stop-color="#a8a8a8"/><stop offset=".398" stop-color="#d8d8d8"/><stop offset=".402" stop-color="#e3e3e3"/><stop offset=".437" stop-color="#dedede"/><stop offset=".467" stop-color="#d3d3d3"/><stop offset=".502" stop-color="#eeeeee"/><stop offset=".537" stop-color="#eeeeee"/><stop offset=".583" stop-color="#d4d4d4"/><stop offset=".633" stop-color="#979797"/><stop offset=".671" stop-color="#717171"/><stop offset=".725" stop-color="#424242"/><stop offset=".767" stop-color="#272727"/><stop offset=".810" stop-color="#111111"/><stop offset=".860" stop-color="#090909"/><stop offset=".998" stop-color="#060606"/></linearGradient><linearGradient id="gl161"><stop offset=".002" stop-color="#272727"/><stop offset=".140" stop-color="#292929"/><stop offset=".213" stop-color="#333333"/><stop offset=".237" stop-color="#3d3d3d"/><stop offset=".283" stop-color="#434343"/><stop offset=".333" stop-color="#444444"/><stop offset=".337" stop-color="#4a4a4a"/><stop offset=".348" stop-color="#979797"/><stop offset=".352" stop-color="#a3a3a3"/><stop offset=".390" stop-color="#a7a7a7"/><stop offset=".398" stop-color="#d6d6d6"/><stop offset=".402" stop-color="#e2e2e2"/><stop offset=".437" stop-color="#dedede"/><stop offset=".467" stop-color="#d3d3d3"/><stop offset=".502" stop-color="#eeeeee"/><stop offset=".537" stop-color="#eeeeee"/><stop offset=".579" stop-color="#d7d7d7"/><stop offset=".629" stop-color="#999999"/><stop offset=".671" stop-color="#6f6f6f"/><stop offset=".725" stop-color="#414141"/><stop offset=".771" stop-color="#242424"/><stop offset=".813" stop-color="#0f0f0f"/><stop offset=".860" stop-color="#090909"/><stop offset=".998" stop-color="#050505"/></linearGradient><linearGradient id="gl162"><stop offset=".002" stop-color="#282828"/><stop offset=".140" stop-color="#2a2a2a"/><stop offset=".213" stop-color="#343434"/><stop offset=".237" stop-color="#3c3c3c"/><stop offset=".283" stop-color="#444444"/><stop offset=".333" stop-color="#424242"/><stop offset=".337" stop-color="#484848"/><stop offset=".348" stop-color="#949494"/><stop offset=".352" stop-color="#a0a0a0"/><stop offset=".390" stop-color="#a5a5a5"/><stop offset=".398" stop-color="#d5d5d5"/><stop offset=".402" stop-color="#e1e1e1"/><stop offset=".437" stop-color="#dedede"/><stop offset=".467" stop-color="#d3d3d3"/><stop offset=".502" stop-color="#eeeeee"/><stop offset=".537" stop-color="#eeeeee"/><stop offset=".579" stop-color="#d6d6d6"/><stop offset=".629" stop-color="#979797"/><stop offset=".671" stop-color="#6d6d6d"/><stop offset=".725" stop-color="#404040"/><stop offset=".771" stop-color="#232323"/><stop offset=".813" stop-color="#0e0e0e"/><stop offset=".860" stop-color="#090909"/><stop offset=".998" stop-color="#050505"/></linearGradient><linearGradient id="gl163"><stop offset=".002" stop-color="#262626"/><stop offset=".140" stop-color="#282828"/><stop offset=".213" stop-color="#323232"/><stop offset=".237" stop-color="#3a3a3a"/><stop offset=".283" stop-color="#424242"/><stop offset=".333" stop-color="#404040"/><stop offset=".337" stop-color="#464646"/><stop offset=".348" stop-color="#919191"/><stop offset=".352" stop-color="#9e9e9e"/><stop offset=".390" stop-color="#a4a4a4"/><stop offset=".398" stop-color="#d4d4d4"/><stop offset=".402" stop-color="#e0e0e0"/><stop offset=".437" stop-color="#dedede"/><stop offset=".467" stop-color="#d3d3d3"/><stop offset=".502" stop-color="#eeeeee"/><stop offset=".537" stop-color="#eeeeee"/><stop offset=".583" stop-color="#d2d2d2"/><stop offset=".629" stop-color="#959595"/><stop offset=".671" stop-color="#6b6b6b"/><stop offset=".725" stop-color="#3f3f3f"/><stop offset=".771" stop-color="#222222"/><stop offset=".813" stop-color="#0e0e0e"/><stop offset=".860" stop-color="#090909"/><stop offset=".998" stop-color="#050505"/></linearGradient><linearGradient id="gl164"><stop offset=".002" stop-color="#222222"/><stop offset=".140" stop-color="#232323"/><stop offset=".213" stop-color="#2e2e2e"/><stop offset=".283" stop-color="#3d3d3d"/><stop offset=".333" stop-color="#3e3e3e"/><stop offset=".337" stop-color="#444444"/><stop offset=".348" stop-color="#8e8e8e"/><stop offset=".352" stop-color="#9b9b9b"/><stop offset=".390" stop-color="#a2a2a2"/><stop offset=".398" stop-color="#d3d3d3"/><stop offset=".402" stop-color="#dfdfdf"/><stop offset=".437" stop-color="#dedede"/><stop offset=".467" stop-color="#d3d3d3"/><stop offset=".502" stop-color="#eeeeee"/><stop offset=".537" stop-color="#eeeeee"/><stop offset=".583" stop-color="#d1d1d1"/><stop offset=".629" stop-color="#949494"/><stop offset=".671" stop-color="#696969"/><stop offset=".725" stop-color="#3e3e3e"/><stop offset=".771" stop-color="#212121"/><stop offset=".813" stop-color="#0d0d0d"/><stop offset=".860" stop-color="#090909"/><stop offset=".998" stop-color="#050505"/></linearGradient><linearGradient id="gl165"><stop offset=".002" stop-color="#1b1b1b"/><stop offset=".140" stop-color="#1c1c1c"/><stop offset=".213" stop-color="#252525"/><stop offset=".283" stop-color="#333333"/><stop offset=".333" stop-color="#363636"/><stop offset=".337" stop-color="#3c3c3c"/><stop offset=".348" stop-color="#7e7e7e"/><stop offset=".352" stop-color="#8a8a8a"/><stop offset=".390" stop-color="#929292"/><stop offset=".398" stop-color="#bcbcbc"/><stop offset=".402" stop-color="#c7c7c7"/><stop offset=".437" stop-color="#c8c8c8"/><stop offset=".467" stop-color="#bebebe"/><stop offset=".502" stop-color="#d7d7d7"/><stop offset=".537" stop-color="#d6d6d6"/><stop offset=".579" stop-color="#bebebe"/><stop offset=".629" stop-color="#838383"/><stop offset=".671" stop-color="#5e5e5e"/><stop offset=".725" stop-color="#373737"/><stop offset=".771" stop-color="#1d1d1d"/><stop offset=".813" stop-color="#0c0c0c"/><stop offset=".998" stop-color="#050505"/></linearGradient><linearGradient id="gl166"><stop offset=".002" stop-color="#131313"/><stop offset=".140" stop-color="#131313"/><stop offset=".333" stop-color="#292929"/><stop offset=".337" stop-color="#2d2d2d"/><stop offset=".348" stop-color="#626262"/><stop offset=".352" stop-color="#6b6b6b"/><stop offset=".390" stop-color="#727272"/><stop offset=".398" stop-color="#919191"/><stop offset=".402" stop-color="#999999"/><stop offset=".437" stop-color="#9b9b9b"/><stop offset=".467" stop-color="#959595"/><stop offset=".502" stop-color="#a7a7a7"/><stop offset=".537" stop-color="#a5a5a5"/><stop offset=".579" stop-color="#939393"/><stop offset=".629" stop-color="#656565"/><stop offset=".667" stop-color="#4a4a4a"/><stop offset=".725" stop-color="#2a2a2a"/><stop offset=".771" stop-color="#161616"/><stop offset=".813" stop-color="#090909"/><stop offset=".998" stop-color="#040404"/></linearGradient><linearGradient id="gl167"><stop offset=".002" stop-color="#0c0c0c"/><stop offset=".140" stop-color="#0c0c0c"/><stop offset=".213" stop-color="#101010"/><stop offset=".237" stop-color="#151515"/><stop offset=".333" stop-color="#1d1d1d"/><stop offset=".337" stop-color="#202020"/><stop offset=".348" stop-color="#454545"/><stop offset=".352" stop-color="#4c4c4c"/><stop offset=".390" stop-color="#525252"/><stop offset=".398" stop-color="#666666"/><stop offset=".402" stop-color="#6b6b6b"/><stop offset=".437" stop-color="#6f6f6f"/><stop offset=".467" stop-color="#6c6c6c"/><stop offset=".502" stop-color="#787878"/><stop offset=".537" stop-color="#747474"/><stop offset=".579" stop-color="#686868"/><stop offset=".629" stop-color="#464646"/><stop offset=".667" stop-color="#333333"/><stop offset=".771" stop-color="#0f0f0f"/><stop offset=".813" stop-color="#070707"/><stop offset=".998" stop-color="#030303"/></linearGradient><linearGradient id="gl168"><stop offset=".002" stop-color="#060606"/><stop offset=".213" stop-color="#070707"/><stop offset=".237" stop-color="#0c0c0c"/><stop offset=".333" stop-color="#111111"/><stop offset=".337" stop-color="#131313"/><stop offset=".348" stop-color="#292929"/><stop offset=".352" stop-color="#2d2d2d"/><stop offset=".390" stop-color="#323232"/><stop offset=".402" stop-color="#3d3d3d"/><stop offset=".502" stop-color="#484848"/><stop offset=".579" stop-color="#3d3d3d"/><stop offset=".629" stop-color="#282828"/><stop offset=".667" stop-color="#1d1d1d"/><stop offset=".771" stop-color="#090909"/><stop offset=".813" stop-color="#040404"/><stop offset=".998" stop-color="#020202"/></linearGradient><linearGradient id="gl169"><stop offset=".002" stop-color="#040404"/><stop offset=".213" stop-color="#050505"/><stop offset=".333" stop-color="#0b0b0b"/><stop offset=".337" stop-color="#0d0d0d"/><stop offset=".352" stop-color="#1e1e1e"/><stop offset=".390" stop-color="#212121"/><stop offset=".402" stop-color="#292929"/><stop offset=".502" stop-color="#303030"/><stop offset=".579" stop-color="#292929"/><stop offset=".667" stop-color="#131313"/><stop offset=".771" stop-color="#060606"/><stop offset=".998" stop-color="#010101"/></linearGradient><linearGradient id="gl170"><stop offset=".002" stop-color="#020202"/><stop offset=".333" stop-color="#060606"/><stop offset=".352" stop-color="#0f0f0f"/><stop offset=".390" stop-color="#111111"/><stop offset=".402" stop-color="#141414"/><stop offset=".502" stop-color="#181818"/><stop offset=".579" stop-color="#141414"/><stop offset=".667" stop-color="#0a0a0a"/><stop offset=".771" stop-color="#030303"/><stop offset=".998" stop-color="#010101"/></linearGradient><linearGradient id="gr1"><stop offset=".002" stop-color="#000000"/><stop offset=".379" stop-color="#000000"/><stop offset=".452" stop-color="#040404"/><stop offset=".552" stop-color="#000000"/><stop offset=".998" stop-color="#000000"/></linearGradient><linearGradient id="gr2"><stop offset=".002" stop-color="#000000"/><stop offset=".379" stop-color="#000000"/><stop offset=".452" stop-color="#0c0c0c"/><stop offset=".537" stop-color="#010101"/><stop offset=".998" stop-color="#000000"/></linearGradient><linearGradient id="gr3"><stop offset=".002" stop-color="#010101"/><stop offset=".379" stop-color="#020202"/><stop offset=".452" stop-color="#171717"/><stop offset=".502" stop-color="#0f0f0f"/><stop offset=".533" stop-color="#040404"/><stop offset=".560" stop-color="#030303"/><stop offset=".998" stop-color="#010101"/></linearGradient><linearGradient id="gr4"><stop offset=".002" stop-color="#020202"/><stop offset=".244" stop-color="#020202"/><stop offset=".379" stop-color="#070707"/><stop offset=".402" stop-color="#0f0f0f"/><stop offset=".433" stop-color="#212121"/><stop offset=".452" stop-color="#262626"/><stop offset=".502" stop-color="#1a1a1a"/><stop offset=".533" stop-color="#0a0a0a"/><stop offset=".560" stop-color="#060606"/><stop offset=".679" stop-color="#030303"/><stop offset=".998" stop-color="#020202"/></linearGradient><linearGradient id="gr5"><stop offset=".002" stop-color="#030303"/><stop offset=".244" stop-color="#030303"/><stop offset=".379" stop-color="#0c0c0c"/><stop offset=".402" stop-color="#171717"/><stop offset=".433" stop-color="#2e2e2e"/><stop offset=".452" stop-color="#343434"/><stop offset=".502" stop-color="#252525"/><stop offset=".533" stop-color="#101010"/><stop offset=".560" stop-color="#0a0a0a"/><stop offset=".679" stop-color="#040404"/><stop offset=".998" stop-color="#030303"/></linearGradient><linearGradient id="gr6"><stop offset=".002" stop-color="#040404"/><stop offset=".244" stop-color="#040404"/><stop offset=".344" stop-color="#0b0b0b"/><stop offset=".383" stop-color="#121212"/><stop offset=".402" stop-color="#1e1e1e"/><stop offset=".433" stop-color="#3b3b3b"/><stop offset=".452" stop-color="#424242"/><stop offset=".475" stop-color="#3c3c3c"/><stop offset=".502" stop-color="#303030"/><stop offset=".533" stop-color="#161616"/><stop offset=".563" stop-color="#0e0e0e"/><stop offset=".679" stop-color="#060606"/><stop offset=".998" stop-color="#040404"/></linearGradient><linearGradient id="gr7"><stop offset=".002" stop-color="#050505"/><stop offset=".244" stop-color="#050505"/><stop offset=".344" stop-color="#0e0e0e"/><stop offset=".383" stop-color="#151515"/><stop offset=".402" stop-color="#232323"/><stop offset=".433" stop-color="#434343"/><stop offset=".452" stop-color="#4a4a4a"/><stop offset=".475" stop-color="#444444"/><stop offset=".502" stop-color="#363636"/><stop offset=".533" stop-color="#1a1a1a"/><stop offset=".560" stop-color="#111111"/><stop offset=".590" stop-color="#0d0d0d"/><stop offset=".733" stop-color="#070707"/><stop offset=".998" stop-color="#050505"/></linearGradient><linearGradient id="gr8"><stop offset=".002" stop-color="#050505"/><stop offset=".244" stop-color="#050505"/><stop offset=".344" stop-color="#0f0f0f"/><stop offset=".383" stop-color="#161616"/><stop offset=".402" stop-color="#242424"/><stop offset=".433" stop-color="#444444"/><stop offset=".452" stop-color="#4c4c4c"/><stop offset=".475" stop-color="#464646"/><stop offset=".502" stop-color="#383838"/><stop offset=".533" stop-color="#1c1c1c"/><stop offset=".560" stop-color="#131313"/><stop offset=".590" stop-color="#0f0f0f"/><stop offset=".748" stop-color="#070707"/><stop offset=".998" stop-color="#050505"/></linearGradient><linearGradient id="gr9"><stop offset=".002" stop-color="#050505"/><stop offset=".244" stop-color="#050505"/><stop offset=".344" stop-color="#101010"/><stop offset=".383" stop-color="#181818"/><stop offset=".402" stop-color="#262626"/><stop offset=".433" stop-color="#464646"/><stop offset=".452" stop-color="#4d4d4d"/><stop offset=".475" stop-color="#474747"/><stop offset=".502" stop-color="#3a3a3a"/><stop offset=".537" stop-color="#1c1c1c"/><stop offset=".560" stop-color="#141414"/><stop offset=".590" stop-color="#101010"/><stop offset=".767" stop-color="#070707"/><stop offset=".998" stop-color="#060606"/></linearGradient><linearGradient id="gr10"><stop offset=".002" stop-color="#050505"/><stop offset=".244" stop-color="#050505"/><stop offset=".344" stop-color="#111111"/><stop offset=".383" stop-color="#191919"/><stop offset=".402" stop-color="#272727"/><stop offset=".429" stop-color="#444444"/><stop offset=".452" stop-color="#4e4e4e"/><stop offset=".475" stop-color="#494949"/><stop offset=".502" stop-color="#3c3c3c"/><stop offset=".537" stop-color="#1d1d1d"/><stop offset=".560" stop-color="#151515"/><stop offset=".590" stop-color="#111111"/><stop offset=".790" stop-color="#070707"/><stop offset=".998" stop-color="#060606"/></linearGradient><linearGradient id="gr11"><stop offset=".002" stop-color="#060606"/><stop offset=".244" stop-color="#060606"/><stop offset=".344" stop-color="#121212"/><stop offset=".383" stop-color="#1a1a1a"/><stop offset=".402" stop-color="#282828"/><stop offset=".429" stop-color="#454545"/><stop offset=".452" stop-color="#4f4f4f"/><stop offset=".475" stop-color="#4a4a4a"/><stop offset=".502" stop-color="#3e3e3e"/><stop offset=".537" stop-color="#1e1e1e"/><stop offset=".560" stop-color="#161616"/><stop offset=".590" stop-color="#121212"/><stop offset=".817" stop-color="#080808"/><stop offset=".998" stop-color="#060606"/></linearGradient><linearGradient id="gr12"><stop offset=".002" stop-color="#060606"/><stop offset=".244" stop-color="#060606"/><stop offset=".340" stop-color="#121212"/><stop offset=".383" stop-color="#1c1c1c"/><stop offset=".402" stop-color="#2a2a2a"/><stop offset=".429" stop-color="#474747"/><stop offset=".452" stop-color="#505050"/><stop offset=".475" stop-color="#4b4b4b"/><stop offset=".502" stop-color="#3f3f3f"/><stop offset=".537" stop-color="#1f1f1f"/><stop offset=".560" stop-color="#161616"/><stop offset=".590" stop-color="#121212"/><stop offset=".821" stop-color="#090909"/><stop offset=".998" stop-color="#070707"/></linearGradient><linearGradient id="gr13"><stop offset=".002" stop-color="#060606"/><stop offset=".244" stop-color="#060606"/><stop offset=".340" stop-color="#131313"/><stop offset=".383" stop-color="#1d1d1d"/><stop offset=".402" stop-color="#2b2b2b"/><stop offset=".429" stop-color="#484848"/><stop offset=".452" stop-color="#515151"/><stop offset=".475" stop-color="#4c4c4c"/><stop offset=".502" stop-color="#404040"/><stop offset=".537" stop-color="#1f1f1f"/><stop offset=".560" stop-color="#161616"/><stop offset=".590" stop-color="#121212"/><stop offset=".825" stop-color="#0a0a0a"/><stop offset=".998" stop-color="#070707"/></linearGradient><linearGradient id="gr14"><stop offset=".002" stop-color="#060606"/><stop offset=".244" stop-color="#060606"/><stop offset=".340" stop-color="#141414"/><stop offset=".383" stop-color="#1e1e1e"/><stop offset=".402" stop-color="#2c2c2c"/><stop offset=".429" stop-color="#494949"/><stop offset=".452" stop-color="#525252"/><stop offset=".475" stop-color="#4c4c4c"/><stop offset=".502" stop-color="#414141"/><stop offset=".537" stop-color="#202020"/><stop offset=".560" stop-color="#161616"/><stop offset=".590" stop-color="#121212"/><stop offset=".998" stop-color="#080808"/></linearGradient><linearGradient id="gr15"><stop offset=".002" stop-color="#060606"/><stop offset=".244" stop-color="#060606"/><stop offset=".340" stop-color="#151515"/><stop offset=".383" stop-color="#202020"/><stop offset=".402" stop-color="#2e2e2e"/><stop offset=".429" stop-color="#4a4a4a"/><stop offset=".452" stop-color="#535353"/><stop offset=".475" stop-color="#4d4d4d"/><stop offset=".502" stop-color="#424242"/><stop offset=".537" stop-color="#202020"/><stop offset=".560" stop-color="#161616"/><stop offset=".590" stop-color="#111111"/><stop offset=".998" stop-color="#080808"/></linearGradient><linearGradient id="gr16"><stop offset=".002" stop-color="#060606"/><stop offset=".244" stop-color="#060606"/><stop offset=".340" stop-color="#161616"/><stop offset=".383" stop-color="#212121"/><stop offset=".402" stop-color="#2f2f2f"/><stop offset=".429" stop-color="#4b4b4b"/><stop offset=".452" stop-color="#535353"/><stop offset=".475" stop-color="#4e4e4e"/><stop offset=".502" stop-color="#434343"/><stop offset=".537" stop-color="#202020"/><stop offset=".560" stop-color="#161616"/><stop offset=".590" stop-color="#101010"/><stop offset=".998" stop-color="#090909"/></linearGradient><linearGradient id="gr17"><stop offset=".002" stop-color="#060606"/><stop offset=".244" stop-color="#060606"/><stop offset=".340" stop-color="#161616"/><stop offset=".383" stop-color="#212121"/><stop offset=".402" stop-color="#2f2f2f"/><stop offset=".429" stop-color="#4c4c4c"/><stop offset=".452" stop-color="#555555"/><stop offset=".475" stop-color="#4f4f4f"/><stop offset=".502" stop-color="#434343"/><stop offset=".537" stop-color="#202020"/><stop offset=".560" stop-color="#151515"/><stop offset=".590" stop-color="#101010"/><stop offset=".998" stop-color="#0a0a0a"/></linearGradient><linearGradient id="gr18"><stop offset=".002" stop-color="#060606"/><stop offset=".244" stop-color="#060606"/><stop offset=".340" stop-color="#161616"/><stop offset=".383" stop-color="#222222"/><stop offset=".402" stop-color="#303030"/><stop offset=".429" stop-color="#4d4d4d"/><stop offset=".452" stop-color="#565656"/><stop offset=".475" stop-color="#505050"/><stop offset=".502" stop-color="#444444"/><stop offset=".533" stop-color="#232323"/><stop offset=".548" stop-color="#1b1b1b"/><stop offset=".560" stop-color="#151515"/><stop offset=".590" stop-color="#0f0f0f"/><stop offset=".998" stop-color="#0a0a0a"/></linearGradient><linearGradient id="gr19"><stop offset=".002" stop-color="#060606"/><stop offset=".244" stop-color="#070707"/><stop offset=".340" stop-color="#161616"/><stop offset=".383" stop-color="#222222"/><stop offset=".402" stop-color="#303030"/><stop offset=".429" stop-color="#4f4f4f"/><stop offset=".452" stop-color="#585858"/><stop offset=".475" stop-color="#515151"/><stop offset=".502" stop-color="#454545"/><stop offset=".533" stop-color="#242424"/><stop offset=".560" stop-color="#151515"/><stop offset=".590" stop-color="#0e0e0e"/><stop offset=".998" stop-color="#0b0b0b"/></linearGradient><linearGradient id="gr20"><stop offset=".002" stop-color="#060606"/><stop offset=".244" stop-color="#070707"/><stop offset=".340" stop-color="#171717"/><stop offset=".383" stop-color="#222222"/><stop offset=".402" stop-color="#313131"/><stop offset=".429" stop-color="#505050"/><stop offset=".452" stop-color="#5a5a5a"/><stop offset=".475" stop-color="#535353"/><stop offset=".502" stop-color="#464646"/><stop offset=".533" stop-color="#242424"/><stop offset=".560" stop-color="#151515"/><stop offset=".590" stop-color="#0e0e0e"/><stop offset=".998" stop-color="#0c0c0c"/></linearGradient><linearGradient id="gr21"><stop offset=".002" stop-color="#060606"/><stop offset=".244" stop-color="#070707"/><stop offset=".340" stop-color="#171717"/><stop offset=".383" stop-color="#222222"/><stop offset=".402" stop-color="#313131"/><stop offset=".429" stop-color="#515151"/><stop offset=".452" stop-color="#5b5b5b"/><stop offset=".502" stop-color="#474747"/><stop offset=".533" stop-color="#252525"/><stop offset=".560" stop-color="#151515"/><stop offset=".590" stop-color="#0e0e0e"/><stop offset=".679" stop-color="#0b0b0b"/><stop offset=".998" stop-color="#0d0d0d"/></linearGradient><linearGradient id="gr22"><stop offset=".002" stop-color="#060606"/><stop offset=".244" stop-color="#070707"/><stop offset=".340" stop-color="#171717"/><stop offset=".383" stop-color="#232323"/><stop offset=".402" stop-color="#323232"/><stop offset=".429" stop-color="#525252"/><stop offset=".452" stop-color="#5d5d5d"/><stop offset=".502" stop-color="#484848"/><stop offset=".533" stop-color="#262626"/><stop offset=".560" stop-color="#151515"/><stop offset=".590" stop-color="#0d0d0d"/><stop offset=".679" stop-color="#0a0a0a"/><stop offset=".998" stop-color="#0e0e0e"/></linearGradient><linearGradient id="gr23"><stop offset=".002" stop-color="#060606"/><stop offset=".244" stop-color="#070707"/><stop offset=".340" stop-color="#171717"/><stop offset=".383" stop-color="#232323"/><stop offset=".402" stop-color="#323232"/><stop offset=".429" stop-color="#545454"/><stop offset=".452" stop-color="#5f5f5f"/><stop offset=".502" stop-color="#494949"/><stop offset=".533" stop-color="#262626"/><stop offset=".560" stop-color="#151515"/><stop offset=".590" stop-color="#0d0d0d"/><stop offset=".713" stop-color="#0a0a0a"/><stop offset=".998" stop-color="#0e0e0e"/></linearGradient><linearGradient id="gr24"><stop offset=".002" stop-color="#060606"/><stop offset=".244" stop-color="#070707"/><stop offset=".340" stop-color="#171717"/><stop offset=".383" stop-color="#232323"/><stop offset=".402" stop-color="#333333"/><stop offset=".429" stop-color="#555555"/><stop offset=".452" stop-color="#616161"/><stop offset=".502" stop-color="#4a4a4a"/><stop offset=".533" stop-color="#272727"/><stop offset=".560" stop-color="#151515"/><stop offset=".590" stop-color="#0d0d0d"/><stop offset=".748" stop-color="#0a0a0a"/><stop offset=".998" stop-color="#0e0e0e"/></linearGradient><linearGradient id="gr25"><stop offset=".002" stop-color="#060606"/><stop offset=".244" stop-color="#070707"/><stop offset=".340" stop-color="#171717"/><stop offset=".383" stop-color="#232323"/><stop offset=".402" stop-color="#333333"/><stop offset=".429" stop-color="#565656"/><stop offset=".452" stop-color="#636363"/><stop offset=".475" stop-color="#5a5a5a"/><stop offset=".506" stop-color="#494949"/><stop offset=".533" stop-color="#282828"/><stop offset=".560" stop-color="#151515"/><stop offset=".590" stop-color="#0d0d0d"/><stop offset=".775" stop-color="#090909"/><stop offset=".998" stop-color="#0e0e0e"/></linearGradient><linearGradient id="gr26"><stop offset=".002" stop-color="#060606"/><stop offset=".244" stop-color="#070707"/><stop offset=".340" stop-color="#171717"/><stop offset=".383" stop-color="#242424"/><stop offset=".402" stop-color="#333333"/><stop offset=".429" stop-color="#585858"/><stop offset=".452" stop-color="#646464"/><stop offset=".506" stop-color="#4a4a4a"/><stop offset=".533" stop-color="#292929"/><stop offset=".560" stop-color="#161616"/><stop offset=".590" stop-color="#0d0d0d"/><stop offset=".794" stop-color="#090909"/><stop offset=".998" stop-color="#0d0d0d"/></linearGradient><linearGradient id="gr27"><stop offset=".002" stop-color="#060606"/><stop offset=".244" stop-color="#070707"/><stop offset=".340" stop-color="#171717"/><stop offset=".383" stop-color="#242424"/><stop offset=".402" stop-color="#343434"/><stop offset=".429" stop-color="#595959"/><stop offset=".452" stop-color="#666666"/><stop offset=".506" stop-color="#4b4b4b"/><stop offset=".533" stop-color="#2a2a2a"/><stop offset=".560" stop-color="#161616"/><stop offset=".590" stop-color="#0d0d0d"/><stop offset=".810" stop-color="#090909"/><stop offset=".998" stop-color="#0c0c0c"/></linearGradient><linearGradient id="gr28"><stop offset=".002" stop-color="#060606"/><stop offset=".244" stop-color="#070707"/><stop offset=".340" stop-color="#181818"/><stop offset=".383" stop-color="#242424"/><stop offset=".402" stop-color="#343434"/><stop offset=".429" stop-color="#5a5a5a"/><stop offset=".452" stop-color="#686868"/><stop offset=".506" stop-color="#4c4c4c"/><stop offset=".533" stop-color="#2a2a2a"/><stop offset=".560" stop-color="#161616"/><stop offset=".590" stop-color="#0d0d0d"/><stop offset=".821" stop-color="#080808"/><stop offset=".998" stop-color="#0b0b0b"/></linearGradient><linearGradient id="gr29"><stop offset=".002" stop-color="#060606"/><stop offset=".244" stop-color="#070707"/><stop offset=".340" stop-color="#181818"/><stop offset=".383" stop-color="#252525"/><stop offset=".402" stop-color="#353535"/><stop offset=".433" stop-color="#5f5f5f"/><stop offset=".452" stop-color="#6a6a6a"/><stop offset=".506" stop-color="#4d4d4d"/><stop offset=".533" stop-color="#2b2b2b"/><stop offset=".560" stop-color="#161616"/><stop offset=".590" stop-color="#0d0d0d"/><stop offset=".821" stop-color="#080808"/><stop offset=".998" stop-color="#0a0a0a"/></linearGradient><linearGradient id="gr30"><stop offset=".002" stop-color="#060606"/><stop offset=".244" stop-color="#070707"/><stop offset=".340" stop-color="#181818"/><stop offset=".383" stop-color="#252525"/><stop offset=".402" stop-color="#353535"/><stop offset=".433" stop-color="#616161"/><stop offset=".452" stop-color="#6c6c6c"/><stop offset=".506" stop-color="#4e4e4e"/><stop offset=".533" stop-color="#2c2c2c"/><stop offset=".560" stop-color="#171717"/><stop offset=".590" stop-color="#0d0d0d"/><stop offset=".821" stop-color="#080808"/><stop offset=".998" stop-color="#0a0a0a"/></linearGradient><linearGradient id="gr31"><stop offset=".002" stop-color="#060606"/><stop offset=".244" stop-color="#070707"/><stop offset=".340" stop-color="#181818"/><stop offset=".383" stop-color="#252525"/><stop offset=".402" stop-color="#363636"/><stop offset=".433" stop-color="#626262"/><stop offset=".452" stop-color="#6e6e6e"/><stop offset=".506" stop-color="#505050"/><stop offset=".533" stop-color="#2d2d2d"/><stop offset=".560" stop-color="#171717"/><stop offset=".590" stop-color="#0d0d0d"/><stop offset=".783" stop-color="#080808"/><stop offset=".998" stop-color="#090909"/></linearGradient><linearGradient id="gr32"><stop offset=".002" stop-color="#060606"/><stop offset=".244" stop-color="#070707"/><stop offset=".340" stop-color="#181818"/><stop offset=".383" stop-color="#252525"/><stop offset=".402" stop-color="#363636"/><stop offset=".433" stop-color="#646464"/><stop offset=".452" stop-color="#707070"/><stop offset=".506" stop-color="#515151"/><stop offset=".533" stop-color="#2e2e2e"/><stop offset=".560" stop-color="#171717"/><stop offset=".590" stop-color="#0d0d0d"/><stop offset=".679" stop-color="#0a0a0a"/><stop offset=".998" stop-color="#090909"/></linearGradient><linearGradient id="gr33"><stop offset=".002" stop-color="#060606"/><stop offset=".244" stop-color="#070707"/><stop offset=".344" stop-color="#191919"/><stop offset=".383" stop-color="#262626"/><stop offset=".402" stop-color="#373737"/><stop offset=".433" stop-color="#656565"/><stop offset=".452" stop-color="#727272"/><stop offset=".506" stop-color="#525252"/><stop offset=".533" stop-color="#2e2e2e"/><stop offset=".560" stop-color="#171717"/><stop offset=".590" stop-color="#0d0d0d"/><stop offset=".679" stop-color="#0a0a0a"/><stop offset=".998" stop-color="#080808"/></linearGradient><linearGradient id="gr34"><stop offset=".002" stop-color="#060606"/><stop offset=".244" stop-color="#070707"/><stop offset=".344" stop-color="#191919"/><stop offset=".379" stop-color="#242424"/><stop offset=".387" stop-color="#292929"/><stop offset=".402" stop-color="#373737"/><stop offset=".433" stop-color="#676767"/><stop offset=".452" stop-color="#737373"/><stop offset=".506" stop-color="#535353"/><stop offset=".533" stop-color="#2f2f2f"/><stop offset=".560" stop-color="#181818"/><stop offset=".590" stop-color="#0d0d0d"/><stop offset=".679" stop-color="#0a0a0a"/><stop offset=".998" stop-color="#080808"/></linearGradient><linearGradient id="gr35"><stop offset=".002" stop-color="#060606"/><stop offset=".244" stop-color="#070707"/><stop offset=".344" stop-color="#191919"/><stop offset=".379" stop-color="#242424"/><stop offset=".390" stop-color="#2d2d2d"/><stop offset=".402" stop-color="#383838"/><stop offset=".433" stop-color="#686868"/><stop offset=".452" stop-color="#757575"/><stop offset=".506" stop-color="#545454"/><stop offset=".533" stop-color="#303030"/><stop offset=".560" stop-color="#181818"/><stop offset=".590" stop-color="#0d0d0d"/><stop offset=".679" stop-color="#0a0a0a"/><stop offset=".998" stop-color="#080808"/></linearGradient><linearGradient id="gr36"><stop offset=".002" stop-color="#060606"/><stop offset=".244" stop-color="#080808"/><stop offset=".344" stop-color="#1a1a1a"/><stop offset=".379" stop-color="#242424"/><stop offset=".394" stop-color="#303030"/><stop offset=".402" stop-color="#383838"/><stop offset=".433" stop-color="#6a6a6a"/><stop offset=".452" stop-color="#777777"/><stop offset=".506" stop-color="#565656"/><stop offset=".533" stop-color="#313131"/><stop offset=".560" stop-color="#181818"/><stop offset=".590" stop-color="#0d0d0d"/><stop offset=".679" stop-color="#0a0a0a"/><stop offset=".998" stop-color="#080808"/></linearGradient><linearGradient id="gr37"><stop offset=".002" stop-color="#060606"/><stop offset=".244" stop-color="#080808"/><stop offset=".344" stop-color="#1a1a1a"/><stop offset=".379" stop-color="#242424"/><stop offset=".398" stop-color="#343434"/><stop offset=".429" stop-color="#676767"/><stop offset=".452" stop-color="#797979"/><stop offset=".506" stop-color="#575757"/><stop offset=".533" stop-color="#323232"/><stop offset=".560" stop-color="#191919"/><stop offset=".590" stop-color="#0e0e0e"/><stop offset=".679" stop-color="#0a0a0a"/><stop offset=".998" stop-color="#080808"/></linearGradient><linearGradient id="gr38"><stop offset=".002" stop-color="#060606"/><stop offset=".244" stop-color="#080808"/><stop offset=".344" stop-color="#1a1a1a"/><stop offset=".379" stop-color="#252525"/><stop offset=".398" stop-color="#353535"/><stop offset=".429" stop-color="#686868"/><stop offset=".452" stop-color="#7b7b7b"/><stop offset=".506" stop-color="#585858"/><stop offset=".533" stop-color="#333333"/><stop offset=".560" stop-color="#191919"/><stop offset=".590" stop-color="#0e0e0e"/><stop offset=".679" stop-color="#0a0a0a"/><stop offset=".998" stop-color="#080808"/></linearGradient><linearGradient id="gr39"><stop offset=".002" stop-color="#060606"/><stop offset=".244" stop-color="#080808"/><stop offset=".344" stop-color="#1a1a1a"/><stop offset=".379" stop-color="#252525"/><stop offset=".398" stop-color="#353535"/><stop offset=".429" stop-color="#696969"/><stop offset=".452" stop-color="#7d7d7d"/><stop offset=".506" stop-color="#595959"/><stop offset=".533" stop-color="#343434"/><stop offset=".560" stop-color="#1a1a1a"/><stop offset=".590" stop-color="#0e0e0e"/><stop offset=".679" stop-color="#0a0a0a"/><stop offset=".998" stop-color="#080808"/></linearGradient><linearGradient id="gr40"><stop offset=".002" stop-color="#060606"/><stop offset=".244" stop-color="#080808"/><stop offset=".344" stop-color="#1a1a1a"/><stop offset=".379" stop-color="#252525"/><stop offset=".398" stop-color="#353535"/><stop offset=".433" stop-color="#707070"/><stop offset=".452" stop-color="#808080"/><stop offset=".506" stop-color="#5b5b5b"/><stop offset=".533" stop-color="#353535"/><stop offset=".560" stop-color="#1a1a1a"/><stop offset=".594" stop-color="#0d0d0d"/><stop offset=".679" stop-color="#0a0a0a"/><stop offset=".998" stop-color="#080808"/></linearGradient><linearGradient id="gr41"><stop offset=".002" stop-color="#060606"/><stop offset=".244" stop-color="#080808"/><stop offset=".344" stop-color="#1a1a1a"/><stop offset=".379" stop-color="#252525"/><stop offset=".398" stop-color="#363636"/><stop offset=".433" stop-color="#727272"/><stop offset=".452" stop-color="#828282"/><stop offset=".506" stop-color="#5d5d5d"/><stop offset=".533" stop-color="#373737"/><stop offset=".560" stop-color="#1c1c1c"/><stop offset=".594" stop-color="#0e0e0e"/><stop offset=".679" stop-color="#0a0a0a"/><stop offset=".998" stop-color="#080808"/></linearGradient><linearGradient id="gr42"><stop offset=".002" stop-color="#060606"/><stop offset=".244" stop-color="#080808"/><stop offset=".344" stop-color="#1a1a1a"/><stop offset=".379" stop-color="#262626"/><stop offset=".398" stop-color="#363636"/><stop offset=".433" stop-color="#737373"/><stop offset=".452" stop-color="#848484"/><stop offset=".506" stop-color="#5f5f5f"/><stop offset=".533" stop-color="#393939"/><stop offset=".560" stop-color="#1e1e1e"/><stop offset=".594" stop-color="#0f0f0f"/><stop offset=".679" stop-color="#0a0a0a"/><stop offset=".998" stop-color="#080808"/></linearGradient><linearGradient id="gr43"><stop offset=".002" stop-color="#060606"/><stop offset=".244" stop-color="#080808"/><stop offset=".344" stop-color="#1a1a1a"/><stop offset=".379" stop-color="#262626"/><stop offset=".398" stop-color="#363636"/><stop offset=".433" stop-color="#757575"/><stop offset=".452" stop-color="#868686"/><stop offset=".506" stop-color="#626262"/><stop offset=".533" stop-color="#3c3c3c"/><stop offset=".560" stop-color="#212121"/><stop offset=".594" stop-color="#111111"/><stop offset=".687" stop-color="#0a0a0a"/><stop offset=".998" stop-color="#080808"/></linearGradient><linearGradient id="gr44"><stop offset=".002" stop-color="#060606"/><stop offset=".244" stop-color="#080808"/><stop offset=".344" stop-color="#1b1b1b"/><stop offset=".379" stop-color="#262626"/><stop offset=".398" stop-color="#373737"/><stop offset=".417" stop-color="#575757"/><stop offset=".433" stop-color="#767676"/><stop offset=".452" stop-color="#878787"/><stop offset=".506" stop-color="#646464"/><stop offset=".533" stop-color="#3f3f3f"/><stop offset=".560" stop-color="#242424"/><stop offset=".594" stop-color="#131313"/><stop offset=".698" stop-color="#0a0a0a"/><stop offset=".998" stop-color="#080808"/></linearGradient><linearGradient id="gr45"><stop offset=".002" stop-color="#060606"/><stop offset=".244" stop-color="#080808"/><stop offset=".344" stop-color="#1b1b1b"/><stop offset=".379" stop-color="#262626"/><stop offset=".398" stop-color="#373737"/><stop offset=".417" stop-color="#585858"/><stop offset=".433" stop-color="#767676"/><stop offset=".452" stop-color="#888888"/><stop offset=".506" stop-color="#656565"/><stop offset=".533" stop-color="#414141"/><stop offset=".560" stop-color="#262626"/><stop offset=".594" stop-color="#161616"/><stop offset=".710" stop-color="#0a0a0a"/><stop offset=".998" stop-color="#080808"/></linearGradient><linearGradient id="gr46"><stop offset=".002" stop-color="#060606"/><stop offset=".244" stop-color="#080808"/><stop offset=".344" stop-color="#1b1b1b"/><stop offset=".379" stop-color="#262626"/><stop offset=".398" stop-color="#373737"/><stop offset=".417" stop-color="#585858"/><stop offset=".433" stop-color="#777777"/><stop offset=".452" stop-color="#898989"/><stop offset=".506" stop-color="#666666"/><stop offset=".533" stop-color="#414141"/><stop offset=".560" stop-color="#272727"/><stop offset=".594" stop-color="#191919"/><stop offset=".729" stop-color="#0a0a0a"/><stop offset=".998" stop-color="#080808"/></linearGradient><linearGradient id="gr47"><stop offset=".002" stop-color="#060606"/><stop offset=".244" stop-color="#080808"/><stop offset=".344" stop-color="#1b1b1b"/><stop offset=".379" stop-color="#262626"/><stop offset=".398" stop-color="#373737"/><stop offset=".417" stop-color="#585858"/><stop offset=".433" stop-color="#777777"/><stop offset=".452" stop-color="#898989"/><stop offset=".506" stop-color="#666666"/><stop offset=".533" stop-color="#414141"/><stop offset=".560" stop-color="#262626"/><stop offset=".590" stop-color="#1b1b1b"/><stop offset=".752" stop-color="#0a0a0a"/><stop offset=".998" stop-color="#080808"/></linearGradient><linearGradient id="gr48"><stop offset=".002" stop-color="#060606"/><stop offset=".244" stop-color="#080808"/><stop offset=".344" stop-color="#1b1b1b"/><stop offset=".379" stop-color="#262626"/><stop offset=".398" stop-color="#373737"/><stop offset=".417" stop-color="#595959"/><stop offset=".433" stop-color="#787878"/><stop offset=".452" stop-color="#898989"/><stop offset=".506" stop-color="#656565"/><stop offset=".533" stop-color="#3f3f3f"/><stop offset=".560" stop-color="#242424"/><stop offset=".590" stop-color="#1a1a1a"/><stop offset=".779" stop-color="#0a0a0a"/><stop offset=".998" stop-color="#080808"/></linearGradient><linearGradient id="gr49"><stop offset=".002" stop-color="#060606"/><stop offset=".244" stop-color="#080808"/><stop offset=".344" stop-color="#1b1b1b"/><stop offset=".379" stop-color="#272727"/><stop offset=".398" stop-color="#373737"/><stop offset=".433" stop-color="#787878"/><stop offset=".452" stop-color="#898989"/><stop offset=".506" stop-color="#636363"/><stop offset=".533" stop-color="#3e3e3e"/><stop offset=".560" stop-color="#222222"/><stop offset=".590" stop-color="#181818"/><stop offset=".656" stop-color="#171717"/><stop offset=".810" stop-color="#090909"/><stop offset=".998" stop-color="#080808"/></linearGradient><linearGradient id="gr50"><stop offset=".002" stop-color="#060606"/><stop offset=".244" stop-color="#080808"/><stop offset=".344" stop-color="#1b1b1b"/><stop offset=".379" stop-color="#272727"/><stop offset=".398" stop-color="#373737"/><stop offset=".433" stop-color="#787878"/><stop offset=".452" stop-color="#888888"/><stop offset=".506" stop-color="#626262"/><stop offset=".533" stop-color="#3c3c3c"/><stop offset=".560" stop-color="#202020"/><stop offset=".590" stop-color="#161616"/><stop offset=".687" stop-color="#161616"/><stop offset=".829" stop-color="#090909"/><stop offset=".998" stop-color="#080808"/></linearGradient><linearGradient id="gr51"><stop offset=".002" stop-color="#060606"/><stop offset=".244" stop-color="#080808"/><stop offset=".344" stop-color="#1b1b1b"/><stop offset=".379" stop-color="#272727"/><stop offset=".398" stop-color="#383838"/><stop offset=".433" stop-color="#787878"/><stop offset=".452" stop-color="#888888"/><stop offset=".506" stop-color="#626262"/><stop offset=".533" stop-color="#3b3b3b"/><stop offset=".560" stop-color="#1f1f1f"/><stop offset=".590" stop-color="#151515"/><stop offset=".706" stop-color="#161616"/><stop offset=".844" stop-color="#0a0a0a"/><stop offset=".998" stop-color="#080808"/></linearGradient><linearGradient id="gr52"><stop offset=".002" stop-color="#060606"/><stop offset=".244" stop-color="#080808"/><stop offset=".344" stop-color="#1c1c1c"/><stop offset=".379" stop-color="#272727"/><stop offset=".398" stop-color="#383838"/><stop offset=".433" stop-color="#797979"/><stop offset=".452" stop-color="#888888"/><stop offset=".506" stop-color="#626262"/><stop offset=".533" stop-color="#3c3c3c"/><stop offset=".560" stop-color="#202020"/><stop offset=".590" stop-color="#151515"/><stop offset=".733" stop-color="#161616"/><stop offset=".863" stop-color="#0a0a0a"/><stop offset=".998" stop-color="#080808"/></linearGradient><linearGradient id="gr53"><stop offset=".002" stop-color="#060606"/><stop offset=".244" stop-color="#080808"/><stop offset=".344" stop-color="#1c1c1c"/><stop offset=".379" stop-color="#272727"/><stop offset=".398" stop-color="#383838"/><stop offset=".417" stop-color="#5a5a5a"/><stop offset=".429" stop-color="#737373"/><stop offset=".452" stop-color="#898989"/><stop offset=".506" stop-color="#636363"/><stop offset=".533" stop-color="#3d3d3d"/><stop offset=".560" stop-color="#212121"/><stop offset=".590" stop-color="#161616"/><stop offset=".652" stop-color="#121212"/><stop offset=".760" stop-color="#151515"/><stop offset=".887" stop-color="#0a0a0a"/><stop offset=".998" stop-color="#080808"/></linearGradient><linearGradient id="gr54"><stop offset=".002" stop-color="#060606"/><stop offset=".244" stop-color="#080808"/><stop offset=".344" stop-color="#1c1c1c"/><stop offset=".379" stop-color="#272727"/><stop offset=".398" stop-color="#383838"/><stop offset=".417" stop-color="#5b5b5b"/><stop offset=".429" stop-color="#747474"/><stop offset=".433" stop-color="#7a7a7a"/><stop offset=".452" stop-color="#898989"/><stop offset=".506" stop-color="#646464"/><stop offset=".533" stop-color="#3e3e3e"/><stop offset=".560" stop-color="#232323"/><stop offset=".590" stop-color="#181818"/><stop offset=".675" stop-color="#111111"/><stop offset=".787" stop-color="#151515"/><stop offset=".910" stop-color="#0a0a0a"/><stop offset=".998" stop-color="#080808"/></linearGradient><linearGradient id="gr55"><stop offset=".002" stop-color="#060606"/><stop offset=".244" stop-color="#080808"/><stop offset=".344" stop-color="#1c1c1c"/><stop offset=".379" stop-color="#272727"/><stop offset=".398" stop-color="#383838"/><stop offset=".417" stop-color="#5b5b5b"/><stop offset=".429" stop-color="#747474"/><stop offset=".433" stop-color="#7a7a7a"/><stop offset=".452" stop-color="#898989"/><stop offset=".506" stop-color="#646464"/><stop offset=".533" stop-color="#3e3e3e"/><stop offset=".560" stop-color="#232323"/><stop offset=".590" stop-color="#181818"/><stop offset=".687" stop-color="#101010"/><stop offset=".813" stop-color="#151515"/><stop offset=".998" stop-color="#080808"/></linearGradient><linearGradient id="gr56"><stop offset=".002" stop-color="#060606"/><stop offset=".244" stop-color="#080808"/><stop offset=".344" stop-color="#1c1c1c"/><stop offset=".379" stop-color="#272727"/><stop offset=".398" stop-color="#383838"/><stop offset=".417" stop-color="#5c5c5c"/><stop offset=".429" stop-color="#757575"/><stop offset=".433" stop-color="#7a7a7a"/><stop offset=".452" stop-color="#8a8a8a"/><stop offset=".506" stop-color="#646464"/><stop offset=".533" stop-color="#3e3e3e"/><stop offset=".560" stop-color="#222222"/><stop offset=".590" stop-color="#171717"/><stop offset=".717" stop-color="#101010"/><stop offset=".844" stop-color="#141414"/><stop offset=".998" stop-color="#090909"/></linearGradient><linearGradient id="gr57"><stop offset=".002" stop-color="#060606"/><stop offset=".244" stop-color="#080808"/><stop offset=".344" stop-color="#1c1c1c"/><stop offset=".379" stop-color="#282828"/><stop offset=".398" stop-color="#383838"/><stop offset=".417" stop-color="#5c5c5c"/><stop offset=".429" stop-color="#757575"/><stop offset=".433" stop-color="#7b7b7b"/><stop offset=".452" stop-color="#8a8a8a"/><stop offset=".506" stop-color="#636363"/><stop offset=".533" stop-color="#3c3c3c"/><stop offset=".560" stop-color="#202020"/><stop offset=".590" stop-color="#141414"/><stop offset=".748" stop-color="#101010"/><stop offset=".867" stop-color="#141414"/><stop offset=".998" stop-color="#0a0a0a"/></linearGradient><linearGradient id="gr58"><stop offset=".002" stop-color="#060606"/><stop offset=".244" stop-color="#080808"/><stop offset=".344" stop-color="#1c1c1c"/><stop offset=".379" stop-color="#282828"/><stop offset=".398" stop-color="#393939"/><stop offset=".417" stop-color="#5c5c5c"/><stop offset=".429" stop-color="#767676"/><stop offset=".433" stop-color="#7b7b7b"/><stop offset=".452" stop-color="#8a8a8a"/><stop offset=".506" stop-color="#626262"/><stop offset=".533" stop-color="#3b3b3b"/><stop offset=".560" stop-color="#1f1f1f"/><stop offset=".590" stop-color="#121212"/><stop offset=".667" stop-color="#141414"/><stop offset=".779" stop-color="#0f0f0f"/><stop offset=".890" stop-color="#151515"/><stop offset=".998" stop-color="#0c0c0c"/></linearGradient><linearGradient id="gr59"><stop offset=".002" stop-color="#060606"/><stop offset=".244" stop-color="#080808"/><stop offset=".344" stop-color="#1d1d1d"/><stop offset=".379" stop-color="#282828"/><stop offset=".398" stop-color="#393939"/><stop offset=".417" stop-color="#5d5d5d"/><stop offset=".429" stop-color="#767676"/><stop offset=".433" stop-color="#7c7c7c"/><stop offset=".452" stop-color="#8b8b8b"/><stop offset=".506" stop-color="#626262"/><stop offset=".533" stop-color="#3a3a3a"/><stop offset=".560" stop-color="#1d1d1d"/><stop offset=".590" stop-color="#101010"/><stop offset=".710" stop-color="#131313"/><stop offset=".806" stop-color="#0f0f0f"/><stop offset=".910" stop-color="#151515"/><stop offset=".998" stop-color="#0e0e0e"/></linearGradient><linearGradient id="gr60"><stop offset=".002" stop-color="#060606"/><stop offset=".244" stop-color="#080808"/><stop offset=".344" stop-color="#1d1d1d"/><stop offset=".379" stop-color="#282828"/><stop offset=".398" stop-color="#393939"/><stop offset=".417" stop-color="#5d5d5d"/><stop offset=".429" stop-color="#777777"/><stop offset=".433" stop-color="#7c7c7c"/><stop offset=".452" stop-color="#8b8b8b"/><stop offset=".506" stop-color="#626262"/><stop offset=".533" stop-color="#3a3a3a"/><stop offset=".560" stop-color="#1d1d1d"/><stop offset=".594" stop-color="#0e0e0e"/><stop offset=".733" stop-color="#131313"/><stop offset=".829" stop-color="#0f0f0f"/><stop offset=".933" stop-color="#151515"/><stop offset=".998" stop-color="#111111"/></linearGradient><linearGradient id="gr61"><stop offset=".002" stop-color="#060606"/><stop offset=".244" stop-color="#080808"/><stop offset=".344" stop-color="#1d1d1d"/><stop offset=".379" stop-color="#282828"/><stop offset=".398" stop-color="#393939"/><stop offset=".417" stop-color="#5d5d5d"/><stop offset=".429" stop-color="#777777"/><stop offset=".433" stop-color="#7d7d7d"/><stop offset=".452" stop-color="#8b8b8b"/><stop offset=".506" stop-color="#626262"/><stop offset=".533" stop-color="#393939"/><stop offset=".560" stop-color="#1d1d1d"/><stop offset=".594" stop-color="#0e0e0e"/><stop offset=".671" stop-color="#0d0d0d"/><stop offset=".760" stop-color="#121212"/><stop offset=".856" stop-color="#0f0f0f"/><stop offset=".948" stop-color="#141414"/><stop offset=".998" stop-color="#131313"/></linearGradient><linearGradient id="gr62"><stop offset=".002" stop-color="#060606"/><stop offset=".244" stop-color="#080808"/><stop offset=".344" stop-color="#1d1d1d"/><stop offset=".379" stop-color="#282828"/><stop offset=".398" stop-color="#393939"/><stop offset=".417" stop-color="#5e5e5e"/><stop offset=".429" stop-color="#787878"/><stop offset=".433" stop-color="#7d7d7d"/><stop offset=".452" stop-color="#8c8c8c"/><stop offset=".506" stop-color="#626262"/><stop offset=".533" stop-color="#3a3a3a"/><stop offset=".560" stop-color="#1d1d1d"/><stop offset=".594" stop-color="#0e0e0e"/><stop offset=".679" stop-color="#0b0b0b"/><stop offset=".775" stop-color="#121212"/><stop offset=".879" stop-color="#0f0f0f"/><stop offset=".998" stop-color="#141414"/></linearGradient><linearGradient id="gr63"><stop offset=".002" stop-color="#060606"/><stop offset=".244" stop-color="#080808"/><stop offset=".344" stop-color="#1d1d1d"/><stop offset=".379" stop-color="#282828"/><stop offset=".398" stop-color="#393939"/><stop offset=".413" stop-color="#565656"/><stop offset=".429" stop-color="#787878"/><stop offset=".433" stop-color="#7e7e7e"/><stop offset=".452" stop-color="#8c8c8c"/><stop offset=".506" stop-color="#626262"/><stop offset=".533" stop-color="#3a3a3a"/><stop offset=".560" stop-color="#1d1d1d"/><stop offset=".594" stop-color="#0e0e0e"/><stop offset=".679" stop-color="#0a0a0a"/><stop offset=".802" stop-color="#111111"/><stop offset=".910" stop-color="#0f0f0f"/><stop offset=".998" stop-color="#141414"/></linearGradient><linearGradient id="gr64"><stop offset=".002" stop-color="#060606"/><stop offset=".244" stop-color="#080808"/><stop offset=".344" stop-color="#1d1d1d"/><stop offset=".379" stop-color="#292929"/><stop offset=".398" stop-color="#393939"/><stop offset=".413" stop-color="#565656"/><stop offset=".429" stop-color="#787878"/><stop offset=".433" stop-color="#7e7e7e"/><stop offset=".452" stop-color="#8c8c8c"/><stop offset=".506" stop-color="#626262"/><stop offset=".533" stop-color="#3a3a3a"/><stop offset=".560" stop-color="#1d1d1d"/><stop offset=".594" stop-color="#0e0e0e"/><stop offset=".698" stop-color="#0a0a0a"/><stop offset=".833" stop-color="#111111"/><stop offset=".933" stop-color="#0f0f0f"/><stop offset=".998" stop-color="#121212"/></linearGradient><linearGradient id="gr65"><stop offset=".002" stop-color="#060606"/><stop offset=".244" stop-color="#080808"/><stop offset=".344" stop-color="#1d1d1d"/><stop offset=".379" stop-color="#292929"/><stop offset=".398" stop-color="#3a3a3a"/><stop offset=".413" stop-color="#575757"/><stop offset=".429" stop-color="#797979"/><stop offset=".433" stop-color="#7f7f7f"/><stop offset=".452" stop-color="#8d8d8d"/><stop offset=".506" stop-color="#626262"/><stop offset=".533" stop-color="#3a3a3a"/><stop offset=".560" stop-color="#1d1d1d"/><stop offset=".594" stop-color="#0e0e0e"/><stop offset=".717" stop-color="#090909"/><stop offset=".863" stop-color="#111111"/><stop offset=".998" stop-color="#101010"/></linearGradient><linearGradient id="gr66"><stop offset=".002" stop-color="#060606"/><stop offset=".244" stop-color="#080808"/><stop offset=".344" stop-color="#1d1d1d"/><stop offset=".379" stop-color="#292929"/><stop offset=".398" stop-color="#3a3a3a"/><stop offset=".413" stop-color="#575757"/><stop offset=".429" stop-color="#797979"/><stop offset=".433" stop-color="#7f7f7f"/><stop offset=".452" stop-color="#8d8d8d"/><stop offset=".506" stop-color="#626262"/><stop offset=".533" stop-color="#3a3a3a"/><stop offset=".560" stop-color="#1d1d1d"/><stop offset=".594" stop-color="#0e0e0e"/><stop offset=".740" stop-color="#090909"/><stop offset=".890" stop-color="#111111"/><stop offset=".998" stop-color="#0f0f0f"/></linearGradient><linearGradient id="gr67"><stop offset=".002" stop-color="#060606"/><stop offset=".244" stop-color="#080808"/><stop offset=".344" stop-color="#1e1e1e"/><stop offset=".379" stop-color="#292929"/><stop offset=".398" stop-color="#3a3a3a"/><stop offset=".413" stop-color="#575757"/><stop offset=".429" stop-color="#7a7a7a"/><stop offset=".433" stop-color="#808080"/><stop offset=".452" stop-color="#8e8e8e"/><stop offset=".506" stop-color="#636363"/><stop offset=".533" stop-color="#3a3a3a"/><stop offset=".560" stop-color="#1d1d1d"/><stop offset=".594" stop-color="#0e0e0e"/><stop offset=".763" stop-color="#090909"/><stop offset=".917" stop-color="#111111"/><stop offset=".998" stop-color="#0f0f0f"/></linearGradient><linearGradient id="gr68"><stop offset=".002" stop-color="#060606"/><stop offset=".244" stop-color="#080808"/><stop offset=".344" stop-color="#1e1e1e"/><stop offset=".379" stop-color="#292929"/><stop offset=".398" stop-color="#3a3a3a"/><stop offset=".413" stop-color="#585858"/><stop offset=".429" stop-color="#7a7a7a"/><stop offset=".433" stop-color="#808080"/><stop offset=".452" stop-color="#8e8e8e"/><stop offset=".506" stop-color="#636363"/><stop offset=".533" stop-color="#3a3a3a"/><stop offset=".560" stop-color="#1d1d1d"/><stop offset=".594" stop-color="#0e0e0e"/><stop offset=".679" stop-color="#090909"/><stop offset=".794" stop-color="#080808"/><stop offset=".937" stop-color="#111111"/><stop offset=".998" stop-color="#101010"/></linearGradient><linearGradient id="gr69"><stop offset=".002" stop-color="#060606"/><stop offset=".244" stop-color="#080808"/><stop offset=".344" stop-color="#1e1e1e"/><stop offset=".379" stop-color="#292929"/><stop offset=".398" stop-color="#3a3a3a"/><stop offset=".413" stop-color="#585858"/><stop offset=".429" stop-color="#7b7b7b"/><stop offset=".433" stop-color="#818181"/><stop offset=".452" stop-color="#8e8e8e"/><stop offset=".475" stop-color="#7e7e7e"/><stop offset=".506" stop-color="#636363"/><stop offset=".533" stop-color="#3b3b3b"/><stop offset=".560" stop-color="#1d1d1d"/><stop offset=".594" stop-color="#0e0e0e"/><stop offset=".679" stop-color="#090909"/><stop offset=".821" stop-color="#080808"/><stop offset=".998" stop-color="#111111"/></linearGradient><linearGradient id="gr70"><stop offset=".002" stop-color="#060606"/><stop offset=".244" stop-color="#080808"/><stop offset=".344" stop-color="#1e1e1e"/><stop offset=".379" stop-color="#292929"/><stop offset=".398" stop-color="#3a3a3a"/><stop offset=".413" stop-color="#585858"/><stop offset=".429" stop-color="#7c7c7c"/><stop offset=".433" stop-color="#828282"/><stop offset=".452" stop-color="#8f8f8f"/><stop offset=".475" stop-color="#7f7f7f"/><stop offset=".506" stop-color="#646464"/><stop offset=".533" stop-color="#3b3b3b"/><stop offset=".560" stop-color="#1e1e1e"/><stop offset=".594" stop-color="#0e0e0e"/><stop offset=".679" stop-color="#090909"/><stop offset=".829" stop-color="#080808"/><stop offset=".998" stop-color="#111111"/></linearGradient><linearGradient id="gr71"><stop offset=".002" stop-color="#070707"/><stop offset=".244" stop-color="#080808"/><stop offset=".344" stop-color="#1e1e1e"/><stop offset=".379" stop-color="#2a2a2a"/><stop offset=".398" stop-color="#3a3a3a"/><stop offset=".417" stop-color="#616161"/><stop offset=".429" stop-color="#7d7d7d"/><stop offset=".433" stop-color="#838383"/><stop offset=".452" stop-color="#909090"/><stop offset=".475" stop-color="#808080"/><stop offset=".506" stop-color="#656565"/><stop offset=".533" stop-color="#3b3b3b"/><stop offset=".560" stop-color="#1e1e1e"/><stop offset=".594" stop-color="#0e0e0e"/><stop offset=".679" stop-color="#090909"/><stop offset=".840" stop-color="#070707"/><stop offset=".917" stop-color="#090909"/><stop offset=".998" stop-color="#101010"/></linearGradient><linearGradient id="gr72"><stop offset=".002" stop-color="#070707"/><stop offset=".244" stop-color="#080808"/><stop offset=".344" stop-color="#1e1e1e"/><stop offset=".379" stop-color="#2a2a2a"/><stop offset=".398" stop-color="#3b3b3b"/><stop offset=".417" stop-color="#626262"/><stop offset=".429" stop-color="#7e7e7e"/><stop offset=".433" stop-color="#848484"/><stop offset=".452" stop-color="#919191"/><stop offset=".475" stop-color="#818181"/><stop offset=".506" stop-color="#666666"/><stop offset=".533" stop-color="#3c3c3c"/><stop offset=".560" stop-color="#1e1e1e"/><stop offset=".594" stop-color="#0e0e0e"/><stop offset=".679" stop-color="#090909"/><stop offset=".825" stop-color="#070707"/><stop offset=".925" stop-color="#080808"/><stop offset=".998" stop-color="#0d0d0d"/></linearGradient><linearGradient id="gr73"><stop offset=".002" stop-color="#070707"/><stop offset=".244" stop-color="#080808"/><stop offset=".344" stop-color="#1e1e1e"/><stop offset=".379" stop-color="#2a2a2a"/><stop offset=".398" stop-color="#3b3b3b"/><stop offset=".417" stop-color="#626262"/><stop offset=".429" stop-color="#7e7e7e"/><stop offset=".433" stop-color="#858585"/><stop offset=".452" stop-color="#919191"/><stop offset=".475" stop-color="#828282"/><stop offset=".506" stop-color="#676767"/><stop offset=".533" stop-color="#3c3c3c"/><stop offset=".560" stop-color="#1e1e1e"/><stop offset=".594" stop-color="#0e0e0e"/><stop offset=".679" stop-color="#090909"/><stop offset=".821" stop-color="#070707"/><stop offset=".998" stop-color="#0b0b0b"/></linearGradient><linearGradient id="gr74"><stop offset=".002" stop-color="#070707"/><stop offset=".244" stop-color="#080808"/><stop offset=".344" stop-color="#1e1e1e"/><stop offset=".379" stop-color="#2a2a2a"/><stop offset=".398" stop-color="#3b3b3b"/><stop offset=".417" stop-color="#636363"/><stop offset=".429" stop-color="#7f7f7f"/><stop offset=".433" stop-color="#858585"/><stop offset=".452" stop-color="#929292"/><stop offset=".475" stop-color="#838383"/><stop offset=".506" stop-color="#676767"/><stop offset=".533" stop-color="#3d3d3d"/><stop offset=".560" stop-color="#1e1e1e"/><stop offset=".594" stop-color="#0e0e0e"/><stop offset=".752" stop-color="#080808"/><stop offset=".998" stop-color="#090909"/></linearGradient><linearGradient id="gr75"><stop offset=".002" stop-color="#070707"/><stop offset=".244" stop-color="#080808"/><stop offset=".344" stop-color="#1f1f1f"/><stop offset=".379" stop-color="#2a2a2a"/><stop offset=".398" stop-color="#3b3b3b"/><stop offset=".417" stop-color="#636363"/><stop offset=".429" stop-color="#808080"/><stop offset=".433" stop-color="#868686"/><stop offset=".452" stop-color="#939393"/><stop offset=".475" stop-color="#848484"/><stop offset=".502" stop-color="#6c6c6c"/><stop offset=".533" stop-color="#3d3d3d"/><stop offset=".560" stop-color="#1f1f1f"/><stop offset=".594" stop-color="#0e0e0e"/><stop offset=".679" stop-color="#090909"/><stop offset=".998" stop-color="#080808"/></linearGradient><linearGradient id="gr76"><stop offset=".002" stop-color="#070707"/><stop offset=".244" stop-color="#080808"/><stop offset=".344" stop-color="#1f1f1f"/><stop offset=".379" stop-color="#2b2b2b"/><stop offset=".398" stop-color="#3c3c3c"/><stop offset=".417" stop-color="#646464"/><stop offset=".429" stop-color="#818181"/><stop offset=".433" stop-color="#878787"/><stop offset=".452" stop-color="#939393"/><stop offset=".475" stop-color="#858585"/><stop offset=".502" stop-color="#6d6d6d"/><stop offset=".533" stop-color="#3d3d3d"/><stop offset=".560" stop-color="#1f1f1f"/><stop offset=".594" stop-color="#0f0f0f"/><stop offset=".679" stop-color="#090909"/><stop offset=".998" stop-color="#080808"/></linearGradient><linearGradient id="gr77"><stop offset=".002" stop-color="#070707"/><stop offset=".244" stop-color="#080808"/><stop offset=".344" stop-color="#1f1f1f"/><stop offset=".379" stop-color="#2b2b2b"/><stop offset=".398" stop-color="#3c3c3c"/><stop offset=".417" stop-color="#646464"/><stop offset=".429" stop-color="#828282"/><stop offset=".433" stop-color="#888888"/><stop offset=".452" stop-color="#949494"/><stop offset=".475" stop-color="#878787"/><stop offset=".502" stop-color="#6e6e6e"/><stop offset=".533" stop-color="#3e3e3e"/><stop offset=".560" stop-color="#1f1f1f"/><stop offset=".594" stop-color="#0f0f0f"/><stop offset=".679" stop-color="#090909"/><stop offset=".998" stop-color="#080808"/></linearGradient><linearGradient id="gr78"><stop offset=".002" stop-color="#070707"/><stop offset=".244" stop-color="#090909"/><stop offset=".344" stop-color="#1f1f1f"/><stop offset=".379" stop-color="#2b2b2b"/><stop offset=".398" stop-color="#3c3c3c"/><stop offset=".417" stop-color="#646464"/><stop offset=".429" stop-color="#838383"/><stop offset=".433" stop-color="#898989"/><stop offset=".452" stop-color="#959595"/><stop offset=".475" stop-color="#888888"/><stop offset=".502" stop-color="#6f6f6f"/><stop offset=".533" stop-color="#3e3e3e"/><stop offset=".560" stop-color="#1f1f1f"/><stop offset=".594" stop-color="#0f0f0f"/><stop offset=".679" stop-color="#090909"/><stop offset=".998" stop-color="#070707"/></linearGradient><linearGradient id="gr79"><stop offset=".002" stop-color="#070707"/><stop offset=".244" stop-color="#090909"/><stop offset=".344" stop-color="#1f1f1f"/><stop offset=".379" stop-color="#2b2b2b"/><stop offset=".398" stop-color="#3c3c3c"/><stop offset=".417" stop-color="#656565"/><stop offset=".429" stop-color="#848484"/><stop offset=".433" stop-color="#8a8a8a"/><stop offset=".452" stop-color="#969696"/><stop offset=".475" stop-color="#898989"/><stop offset=".502" stop-color="#707070"/><stop offset=".533" stop-color="#3f3f3f"/><stop offset=".560" stop-color="#1f1f1f"/><stop offset=".594" stop-color="#0f0f0f"/><stop offset=".679" stop-color="#090909"/><stop offset=".998" stop-color="#070707"/></linearGradient><linearGradient id="gr80"><stop offset=".002" stop-color="#070707"/><stop offset=".244" stop-color="#090909"/><stop offset=".344" stop-color="#1f1f1f"/><stop offset=".379" stop-color="#2b2b2b"/><stop offset=".398" stop-color="#3c3c3c"/><stop offset=".417" stop-color="#656565"/><stop offset=".429" stop-color="#848484"/><stop offset=".433" stop-color="#8b8b8b"/><stop offset=".452" stop-color="#969696"/><stop offset=".475" stop-color="#8a8a8a"/><stop offset=".502" stop-color="#717171"/><stop offset=".533" stop-color="#3f3f3f"/><stop offset=".560" stop-color="#1f1f1f"/><stop offset=".594" stop-color="#0f0f0f"/><stop offset=".679" stop-color="#090909"/><stop offset=".998" stop-color="#070707"/></linearGradient><linearGradient id="gr81"><stop offset=".002" stop-color="#070707"/><stop offset=".244" stop-color="#090909"/><stop offset=".344" stop-color="#1f1f1f"/><stop offset=".379" stop-color="#2c2c2c"/><stop offset=".398" stop-color="#3d3d3d"/><stop offset=".417" stop-color="#666666"/><stop offset=".429" stop-color="#858585"/><stop offset=".433" stop-color="#8c8c8c"/><stop offset=".452" stop-color="#979797"/><stop offset=".475" stop-color="#8b8b8b"/><stop offset=".502" stop-color="#717171"/><stop offset=".533" stop-color="#3f3f3f"/><stop offset=".560" stop-color="#202020"/><stop offset=".594" stop-color="#0f0f0f"/><stop offset=".679" stop-color="#090909"/><stop offset=".998" stop-color="#070707"/></linearGradient><linearGradient id="gr82"><stop offset=".002" stop-color="#070707"/><stop offset=".244" stop-color="#090909"/><stop offset=".344" stop-color="#202020"/><stop offset=".379" stop-color="#2c2c2c"/><stop offset=".398" stop-color="#3d3d3d"/><stop offset=".417" stop-color="#666666"/><stop offset=".429" stop-color="#868686"/><stop offset=".433" stop-color="#8d8d8d"/><stop offset=".452" stop-color="#989898"/><stop offset=".475" stop-color="#8c8c8c"/><stop offset=".502" stop-color="#727272"/><stop offset=".533" stop-color="#404040"/><stop offset=".560" stop-color="#202020"/><stop offset=".594" stop-color="#0f0f0f"/><stop offset=".679" stop-color="#090909"/><stop offset=".998" stop-color="#070707"/></linearGradient><linearGradient id="gr83"><stop offset=".002" stop-color="#070707"/><stop offset=".244" stop-color="#090909"/><stop offset=".344" stop-color="#202020"/><stop offset=".379" stop-color="#2c2c2c"/><stop offset=".398" stop-color="#3d3d3d"/><stop offset=".417" stop-color="#676767"/><stop offset=".429" stop-color="#878787"/><stop offset=".433" stop-color="#8e8e8e"/><stop offset=".452" stop-color="#999999"/><stop offset=".475" stop-color="#8d8d8d"/><stop offset=".502" stop-color="#737373"/><stop offset=".533" stop-color="#404040"/><stop offset=".560" stop-color="#202020"/><stop offset=".594" stop-color="#0f0f0f"/><stop offset=".679" stop-color="#090909"/><stop offset=".998" stop-color="#070707"/></linearGradient><linearGradient id="gr84"><stop offset=".002" stop-color="#070707"/><stop offset=".244" stop-color="#090909"/><stop offset=".344" stop-color="#202020"/><stop offset=".379" stop-color="#2c2c2c"/><stop offset=".398" stop-color="#3d3d3d"/><stop offset=".410" stop-color="#555555"/><stop offset=".429" stop-color="#888888"/><stop offset=".433" stop-color="#8e8e8e"/><stop offset=".452" stop-color="#999999"/><stop offset=".475" stop-color="#8e8e8e"/><stop offset=".502" stop-color="#747474"/><stop offset=".533" stop-color="#404040"/><stop offset=".560" stop-color="#202020"/><stop offset=".594" stop-color="#0f0f0f"/><stop offset=".679" stop-color="#090909"/><stop offset=".998" stop-color="#070707"/></linearGradient><linearGradient id="gr85"><stop offset=".002" stop-color="#070707"/><stop offset=".244" stop-color="#090909"/><stop offset=".344" stop-color="#202020"/><stop offset=".379" stop-color="#2c2c2c"/><stop offset=".398" stop-color="#3d3d3d"/><stop offset=".413" stop-color="#5f5f5f"/><stop offset=".429" stop-color="#898989"/><stop offset=".433" stop-color="#8f8f8f"/><stop offset=".452" stop-color="#9a9a9a"/><stop offset=".475" stop-color="#8f8f8f"/><stop offset=".502" stop-color="#757575"/><stop offset=".533" stop-color="#414141"/><stop offset=".560" stop-color="#202020"/><stop offset=".594" stop-color="#0f0f0f"/><stop offset=".679" stop-color="#080808"/><stop offset=".998" stop-color="#070707"/></linearGradient><linearGradient id="gr86"><stop offset=".002" stop-color="#070707"/><stop offset=".244" stop-color="#090909"/><stop offset=".344" stop-color="#202020"/><stop offset=".379" stop-color="#2d2d2d"/><stop offset=".398" stop-color="#3e3e3e"/><stop offset=".413" stop-color="#5f5f5f"/><stop offset=".429" stop-color="#8a8a8a"/><stop offset=".433" stop-color="#909090"/><stop offset=".452" stop-color="#9b9b9b"/><stop offset=".475" stop-color="#909090"/><stop offset=".502" stop-color="#767676"/><stop offset=".533" stop-color="#414141"/><stop offset=".560" stop-color="#202020"/><stop offset=".594" stop-color="#0f0f0f"/><stop offset=".679" stop-color="#080808"/><stop offset=".998" stop-color="#070707"/></linearGradient><linearGradient id="gr87"><stop offset=".002" stop-color="#080808"/><stop offset=".244" stop-color="#090909"/><stop offset=".344" stop-color="#202020"/><stop offset=".379" stop-color="#2d2d2d"/><stop offset=".398" stop-color="#3e3e3e"/><stop offset=".413" stop-color="#606060"/><stop offset=".429" stop-color="#8a8a8a"/><stop offset=".433" stop-color="#919191"/><stop offset=".452" stop-color="#9b9b9b"/><stop offset=".475" stop-color="#919191"/><stop offset=".502" stop-color="#767676"/><stop offset=".533" stop-color="#424242"/><stop offset=".560" stop-color="#212121"/><stop offset=".594" stop-color="#0f0f0f"/><stop offset=".679" stop-color="#080808"/><stop offset=".998" stop-color="#070707"/></linearGradient><linearGradient id="gr88"><stop offset=".002" stop-color="#080808"/><stop offset=".244" stop-color="#090909"/><stop offset=".344" stop-color="#202020"/><stop offset=".379" stop-color="#2d2d2d"/><stop offset=".398" stop-color="#3e3e3e"/><stop offset=".413" stop-color="#606060"/><stop offset=".429" stop-color="#8b8b8b"/><stop offset=".433" stop-color="#929292"/><stop offset=".452" stop-color="#9c9c9c"/><stop offset=".475" stop-color="#929292"/><stop offset=".502" stop-color="#777777"/><stop offset=".533" stop-color="#424242"/><stop offset=".560" stop-color="#212121"/><stop offset=".594" stop-color="#0f0f0f"/><stop offset=".679" stop-color="#080808"/><stop offset=".998" stop-color="#070707"/></linearGradient><linearGradient id="gr89"><stop offset=".002" stop-color="#080808"/><stop offset=".244" stop-color="#090909"/><stop offset=".344" stop-color="#202020"/><stop offset=".379" stop-color="#2d2d2d"/><stop offset=".398" stop-color="#3e3e3e"/><stop offset=".402" stop-color="#454545"/><stop offset=".417" stop-color="#6a6a6a"/><stop offset=".429" stop-color="#8c8c8c"/><stop offset=".433" stop-color="#939393"/><stop offset=".452" stop-color="#9d9d9d"/><stop offset=".475" stop-color="#939393"/><stop offset=".502" stop-color="#787878"/><stop offset=".533" stop-color="#424242"/><stop offset=".560" stop-color="#212121"/><stop offset=".594" stop-color="#0f0f0f"/><stop offset=".679" stop-color="#080808"/><stop offset=".998" stop-color="#070707"/></linearGradient><linearGradient id="gr90"><stop offset=".002" stop-color="#080808"/><stop offset=".244" stop-color="#090909"/><stop offset=".344" stop-color="#212121"/><stop offset=".379" stop-color="#2d2d2d"/><stop offset=".398" stop-color="#3e3e3e"/><stop offset=".402" stop-color="#454545"/><stop offset=".417" stop-color="#6a6a6a"/><stop offset=".429" stop-color="#8d8d8d"/><stop offset=".433" stop-color="#949494"/><stop offset=".452" stop-color="#9e9e9e"/><stop offset=".475" stop-color="#949494"/><stop offset=".502" stop-color="#797979"/><stop offset=".533" stop-color="#434343"/><stop offset=".560" stop-color="#212121"/><stop offset=".594" stop-color="#0f0f0f"/><stop offset=".679" stop-color="#080808"/><stop offset=".998" stop-color="#070707"/></linearGradient><linearGradient id="gr91"><stop offset=".002" stop-color="#080808"/><stop offset=".244" stop-color="#090909"/><stop offset=".344" stop-color="#212121"/><stop offset=".379" stop-color="#2e2e2e"/><stop offset=".398" stop-color="#3f3f3f"/><stop offset=".402" stop-color="#454545"/><stop offset=".417" stop-color="#6b6b6b"/><stop offset=".429" stop-color="#8e8e8e"/><stop offset=".433" stop-color="#959595"/><stop offset=".452" stop-color="#9e9e9e"/><stop offset=".475" stop-color="#959595"/><stop offset=".502" stop-color="#7a7a7a"/><stop offset=".533" stop-color="#434343"/><stop offset=".560" stop-color="#212121"/><stop offset=".594" stop-color="#0f0f0f"/><stop offset=".683" stop-color="#080808"/><stop offset=".998" stop-color="#070707"/></linearGradient><linearGradient id="gr92"><stop offset=".002" stop-color="#080808"/><stop offset=".244" stop-color="#090909"/><stop offset=".344" stop-color="#212121"/><stop offset=".379" stop-color="#2e2e2e"/><stop offset=".398" stop-color="#3f3f3f"/><stop offset=".402" stop-color="#454545"/><stop offset=".417" stop-color="#6b6b6b"/><stop offset=".429" stop-color="#8f8f8f"/><stop offset=".433" stop-color="#969696"/><stop offset=".452" stop-color="#9f9f9f"/><stop offset=".475" stop-color="#969696"/><stop offset=".502" stop-color="#7b7b7b"/><stop offset=".533" stop-color="#444444"/><stop offset=".560" stop-color="#212121"/><stop offset=".594" stop-color="#0f0f0f"/><stop offset=".698" stop-color="#080808"/><stop offset=".998" stop-color="#070707"/></linearGradient><linearGradient id="gr93"><stop offset=".002" stop-color="#080808"/><stop offset=".244" stop-color="#090909"/><stop offset=".344" stop-color="#212121"/><stop offset=".379" stop-color="#2e2e2e"/><stop offset=".398" stop-color="#3f3f3f"/><stop offset=".402" stop-color="#464646"/><stop offset=".417" stop-color="#6c6c6c"/><stop offset=".429" stop-color="#8f8f8f"/><stop offset=".433" stop-color="#969696"/><stop offset=".452" stop-color="#a0a0a0"/><stop offset=".475" stop-color="#979797"/><stop offset=".502" stop-color="#7c7c7c"/><stop offset=".533" stop-color="#444444"/><stop offset=".560" stop-color="#222222"/><stop offset=".594" stop-color="#0f0f0f"/><stop offset=".710" stop-color="#070707"/><stop offset=".998" stop-color="#070707"/></linearGradient><linearGradient id="gr94"><stop offset=".002" stop-color="#080808"/><stop offset=".244" stop-color="#0a0a0a"/><stop offset=".344" stop-color="#212121"/><stop offset=".379" stop-color="#2e2e2e"/><stop offset=".398" stop-color="#3f3f3f"/><stop offset=".402" stop-color="#464646"/><stop offset=".417" stop-color="#6c6c6c"/><stop offset=".429" stop-color="#909090"/><stop offset=".433" stop-color="#979797"/><stop offset=".452" stop-color="#a0a0a0"/><stop offset=".475" stop-color="#989898"/><stop offset=".502" stop-color="#7d7d7d"/><stop offset=".533" stop-color="#444444"/><stop offset=".560" stop-color="#222222"/><stop offset=".594" stop-color="#0f0f0f"/><stop offset=".721" stop-color="#070707"/><stop offset=".998" stop-color="#070707"/></linearGradient><linearGradient id="gr95"><stop offset=".002" stop-color="#080808"/><stop offset=".244" stop-color="#0a0a0a"/><stop offset=".344" stop-color="#222222"/><stop offset=".379" stop-color="#2f2f2f"/><stop offset=".398" stop-color="#404040"/><stop offset=".402" stop-color="#464646"/><stop offset=".417" stop-color="#6d6d6d"/><stop offset=".429" stop-color="#919191"/><stop offset=".433" stop-color="#989898"/><stop offset=".452" stop-color="#a1a1a1"/><stop offset=".479" stop-color="#969696"/><stop offset=".506" stop-color="#797979"/><stop offset=".533" stop-color="#454545"/><stop offset=".560" stop-color="#222222"/><stop offset=".594" stop-color="#0f0f0f"/><stop offset=".733" stop-color="#070707"/><stop offset=".998" stop-color="#070707"/></linearGradient><linearGradient id="gr96"><stop offset=".002" stop-color="#080808"/><stop offset=".244" stop-color="#0a0a0a"/><stop offset=".344" stop-color="#222222"/><stop offset=".379" stop-color="#2f2f2f"/><stop offset=".398" stop-color="#404040"/><stop offset=".402" stop-color="#474747"/><stop offset=".417" stop-color="#6e6e6e"/><stop offset=".429" stop-color="#929292"/><stop offset=".433" stop-color="#999999"/><stop offset=".452" stop-color="#a2a2a2"/><stop offset=".475" stop-color="#9a9a9a"/><stop offset=".483" stop-color="#949494"/><stop offset=".506" stop-color="#7b7b7b"/><stop offset=".533" stop-color="#464646"/><stop offset=".560" stop-color="#232323"/><stop offset=".594" stop-color="#0f0f0f"/><stop offset=".679" stop-color="#080808"/><stop offset=".740" stop-color="#060606"/><stop offset=".998" stop-color="#070707"/></linearGradient><linearGradient id="gr97"><stop offset=".002" stop-color="#080808"/><stop offset=".244" stop-color="#0a0a0a"/><stop offset=".344" stop-color="#222222"/><stop offset=".379" stop-color="#2f2f2f"/><stop offset=".398" stop-color="#404040"/><stop offset=".402" stop-color="#474747"/><stop offset=".417" stop-color="#6e6e6e"/><stop offset=".429" stop-color="#939393"/><stop offset=".433" stop-color="#9a9a9a"/><stop offset=".452" stop-color="#a3a3a3"/><stop offset=".475" stop-color="#9c9c9c"/><stop offset=".502" stop-color="#818181"/><stop offset=".506" stop-color="#7c7c7c"/><stop offset=".533" stop-color="#464646"/><stop offset=".560" stop-color="#232323"/><stop offset=".594" stop-color="#0f0f0f"/><stop offset=".679" stop-color="#080808"/><stop offset=".748" stop-color="#060606"/><stop offset=".998" stop-color="#070707"/></linearGradient><linearGradient id="gr98"><stop offset=".002" stop-color="#080808"/><stop offset=".244" stop-color="#0a0a0a"/><stop offset=".344" stop-color="#232323"/><stop offset=".379" stop-color="#303030"/><stop offset=".398" stop-color="#414141"/><stop offset=".402" stop-color="#474747"/><stop offset=".417" stop-color="#6f6f6f"/><stop offset=".429" stop-color="#939393"/><stop offset=".433" stop-color="#9a9a9a"/><stop offset=".452" stop-color="#a4a4a4"/><stop offset=".475" stop-color="#9d9d9d"/><stop offset=".502" stop-color="#838383"/><stop offset=".506" stop-color="#7d7d7d"/><stop offset=".533" stop-color="#474747"/><stop offset=".560" stop-color="#232323"/><stop offset=".594" stop-color="#0f0f0f"/><stop offset=".679" stop-color="#080808"/><stop offset=".756" stop-color="#060606"/><stop offset=".998" stop-color="#070707"/></linearGradient><linearGradient id="gr99"><stop offset=".002" stop-color="#080808"/><stop offset=".244" stop-color="#0b0b0b"/><stop offset=".344" stop-color="#232323"/><stop offset=".379" stop-color="#303030"/><stop offset=".398" stop-color="#414141"/><stop offset=".402" stop-color="#484848"/><stop offset=".417" stop-color="#6f6f6f"/><stop offset=".429" stop-color="#949494"/><stop offset=".433" stop-color="#9b9b9b"/><stop offset=".452" stop-color="#a4a4a4"/><stop offset=".475" stop-color="#9e9e9e"/><stop offset=".502" stop-color="#848484"/><stop offset=".506" stop-color="#7f7f7f"/><stop offset=".533" stop-color="#474747"/><stop offset=".560" stop-color="#232323"/><stop offset=".594" stop-color="#101010"/><stop offset=".679" stop-color="#080808"/><stop offset=".760" stop-color="#060606"/><stop offset=".998" stop-color="#060606"/></linearGradient><linearGradient id="gr100"><stop offset=".002" stop-color="#080808"/><stop offset=".244" stop-color="#0b0b0b"/><stop offset=".344" stop-color="#232323"/><stop offset=".379" stop-color="#303030"/><stop offset=".398" stop-color="#424242"/><stop offset=".402" stop-color="#484848"/><stop offset=".417" stop-color="#707070"/><stop offset=".429" stop-color="#959595"/><stop offset=".433" stop-color="#9c9c9c"/><stop offset=".452" stop-color="#a5a5a5"/><stop offset=".475" stop-color="#9f9f9f"/><stop offset=".502" stop-color="#868686"/><stop offset=".506" stop-color="#808080"/><stop offset=".533" stop-color="#484848"/><stop offset=".560" stop-color="#242424"/><stop offset=".594" stop-color="#101010"/><stop offset=".679" stop-color="#080808"/><stop offset=".767" stop-color="#060606"/><stop offset=".998" stop-color="#060606"/></linearGradient><linearGradient id="gr101"><stop offset=".002" stop-color="#080808"/><stop offset=".244" stop-color="#0b0b0b"/><stop offset=".344" stop-color="#242424"/><stop offset=".379" stop-color="#313131"/><stop offset=".398" stop-color="#424242"/><stop offset=".402" stop-color="#494949"/><stop offset=".413" stop-color="#676767"/><stop offset=".429" stop-color="#969696"/><stop offset=".433" stop-color="#9d9d9d"/><stop offset=".452" stop-color="#a6a6a6"/><stop offset=".475" stop-color="#a0a0a0"/><stop offset=".502" stop-color="#878787"/><stop offset=".506" stop-color="#828282"/><stop offset=".533" stop-color="#494949"/><stop offset=".560" stop-color="#242424"/><stop offset=".594" stop-color="#101010"/><stop offset=".679" stop-color="#080808"/><stop offset=".771" stop-color="#060606"/><stop offset=".998" stop-color="#060606"/></linearGradient><linearGradient id="gr102"><stop offset=".002" stop-color="#090909"/><stop offset=".244" stop-color="#0b0b0b"/><stop offset=".344" stop-color="#242424"/><stop offset=".379" stop-color="#313131"/><stop offset=".398" stop-color="#424242"/><stop offset=".402" stop-color="#494949"/><stop offset=".413" stop-color="#676767"/><stop offset=".429" stop-color="#969696"/><stop offset=".433" stop-color="#9e9e9e"/><stop offset=".452" stop-color="#a7a7a7"/><stop offset=".475" stop-color="#a1a1a1"/><stop offset=".502" stop-color="#898989"/><stop offset=".506" stop-color="#838383"/><stop offset=".533" stop-color="#494949"/><stop offset=".560" stop-color="#242424"/><stop offset=".594" stop-color="#101010"/><stop offset=".679" stop-color="#080808"/><stop offset=".775" stop-color="#050505"/><stop offset=".998" stop-color="#060606"/></linearGradient><linearGradient id="gr103"><stop offset=".002" stop-color="#090909"/><stop offset=".244" stop-color="#0c0c0c"/><stop offset=".344" stop-color="#242424"/><stop offset=".379" stop-color="#323232"/><stop offset=".398" stop-color="#434343"/><stop offset=".402" stop-color="#494949"/><stop offset=".413" stop-color="#686868"/><stop offset=".429" stop-color="#979797"/><stop offset=".433" stop-color="#9e9e9e"/><stop offset=".452" stop-color="#a7a7a7"/><stop offset=".475" stop-color="#a2a2a2"/><stop offset=".502" stop-color="#8a8a8a"/><stop offset=".506" stop-color="#858585"/><stop offset=".533" stop-color="#4a4a4a"/><stop offset=".556" stop-color="#2a2a2a"/><stop offset=".560" stop-color="#252525"/><stop offset=".594" stop-color="#101010"/><stop offset=".679" stop-color="#080808"/><stop offset=".779" stop-color="#050505"/><stop offset=".998" stop-color="#060606"/></linearGradient><linearGradient id="gr104"><stop offset=".002" stop-color="#090909"/><stop offset=".244" stop-color="#0c0c0c"/><stop offset=".344" stop-color="#252525"/><stop offset=".379" stop-color="#323232"/><stop offset=".398" stop-color="#434343"/><stop offset=".402" stop-color="#4a4a4a"/><stop offset=".413" stop-color="#686868"/><stop offset=".429" stop-color="#989898"/><stop offset=".433" stop-color="#9f9f9f"/><stop offset=".452" stop-color="#a8a8a8"/><stop offset=".475" stop-color="#a3a3a3"/><stop offset=".502" stop-color="#8c8c8c"/><stop offset=".506" stop-color="#868686"/><stop offset=".517" stop-color="#6a6a6a"/><stop offset=".533" stop-color="#4a4a4a"/><stop offset=".556" stop-color="#2a2a2a"/><stop offset=".560" stop-color="#252525"/><stop offset=".594" stop-color="#101010"/><stop offset=".679" stop-color="#080808"/><stop offset=".783" stop-color="#050505"/><stop offset=".998" stop-color="#060606"/></linearGradient><linearGradient id="gr105"><stop offset=".002" stop-color="#090909"/><stop offset=".244" stop-color="#0c0c0c"/><stop offset=".344" stop-color="#252525"/><stop offset=".379" stop-color="#323232"/><stop offset=".398" stop-color="#434343"/><stop offset=".402" stop-color="#4a4a4a"/><stop offset=".413" stop-color="#696969"/><stop offset=".429" stop-color="#999999"/><stop offset=".433" stop-color="#a0a0a0"/><stop offset=".452" stop-color="#a9a9a9"/><stop offset=".475" stop-color="#a5a5a5"/><stop offset=".502" stop-color="#8d8d8d"/><stop offset=".506" stop-color="#888888"/><stop offset=".517" stop-color="#6c6c6c"/><stop offset=".533" stop-color="#4b4b4b"/><stop offset=".552" stop-color="#303030"/><stop offset=".560" stop-color="#252525"/><stop offset=".594" stop-color="#101010"/><stop offset=".679" stop-color="#080808"/><stop offset=".783" stop-color="#050505"/><stop offset=".998" stop-color="#060606"/></linearGradient><linearGradient id="gr106"><stop offset=".002" stop-color="#090909"/><stop offset=".244" stop-color="#0c0c0c"/><stop offset=".344" stop-color="#262626"/><stop offset=".379" stop-color="#333333"/><stop offset=".398" stop-color="#444444"/><stop offset=".402" stop-color="#4b4b4b"/><stop offset=".413" stop-color="#696969"/><stop offset=".429" stop-color="#999999"/><stop offset=".433" stop-color="#a1a1a1"/><stop offset=".452" stop-color="#aaaaaa"/><stop offset=".475" stop-color="#a6a6a6"/><stop offset=".502" stop-color="#8f8f8f"/><stop offset=".506" stop-color="#898989"/><stop offset=".517" stop-color="#6d6d6d"/><stop offset=".533" stop-color="#4c4c4c"/><stop offset=".548" stop-color="#353535"/><stop offset=".560" stop-color="#262626"/><stop offset=".594" stop-color="#101010"/><stop offset=".679" stop-color="#080808"/><stop offset=".787" stop-color="#050505"/><stop offset=".998" stop-color="#060606"/></linearGradient><linearGradient id="gr107"><stop offset=".002" stop-color="#090909"/><stop offset=".244" stop-color="#0c0c0c"/><stop offset=".344" stop-color="#262626"/><stop offset=".379" stop-color="#333333"/><stop offset=".398" stop-color="#444444"/><stop offset=".402" stop-color="#4b4b4b"/><stop offset=".413" stop-color="#6a6a6a"/><stop offset=".429" stop-color="#9a9a9a"/><stop offset=".433" stop-color="#a1a1a1"/><stop offset=".456" stop-color="#ababab"/><stop offset=".479" stop-color="#a5a5a5"/><stop offset=".502" stop-color="#909090"/><stop offset=".506" stop-color="#8b8b8b"/><stop offset=".517" stop-color="#6e6e6e"/><stop offset=".533" stop-color="#4c4c4c"/><stop offset=".548" stop-color="#363636"/><stop offset=".560" stop-color="#262626"/><stop offset=".594" stop-color="#101010"/><stop offset=".679" stop-color="#080808"/><stop offset=".790" stop-color="#050505"/><stop offset=".998" stop-color="#060606"/></linearGradient><linearGradient id="gr108"><stop offset=".002" stop-color="#090909"/><stop offset=".244" stop-color="#0d0d0d"/><stop offset=".344" stop-color="#262626"/><stop offset=".379" stop-color="#333333"/><stop offset=".398" stop-color="#454545"/><stop offset=".402" stop-color="#4b4b4b"/><stop offset=".413" stop-color="#6a6a6a"/><stop offset=".429" stop-color="#9b9b9b"/><stop offset=".433" stop-color="#a2a2a2"/><stop offset=".456" stop-color="#ababab"/><stop offset=".479" stop-color="#a6a6a6"/><stop offset=".502" stop-color="#919191"/><stop offset=".506" stop-color="#8c8c8c"/><stop offset=".517" stop-color="#6f6f6f"/><stop offset=".533" stop-color="#4d4d4d"/><stop offset=".548" stop-color="#363636"/><stop offset=".560" stop-color="#262626"/><stop offset=".594" stop-color="#101010"/><stop offset=".679" stop-color="#080808"/><stop offset=".790" stop-color="#050505"/><stop offset=".998" stop-color="#060606"/></linearGradient><linearGradient id="gr109"><stop offset=".002" stop-color="#090909"/><stop offset=".244" stop-color="#0d0d0d"/><stop offset=".344" stop-color="#272727"/><stop offset=".379" stop-color="#343434"/><stop offset=".398" stop-color="#454545"/><stop offset=".402" stop-color="#4c4c4c"/><stop offset=".410" stop-color="#616161"/><stop offset=".417" stop-color="#767676"/><stop offset=".429" stop-color="#9c9c9c"/><stop offset=".433" stop-color="#a3a3a3"/><stop offset=".456" stop-color="#acacac"/><stop offset=".479" stop-color="#a7a7a7"/><stop offset=".502" stop-color="#939393"/><stop offset=".506" stop-color="#8e8e8e"/><stop offset=".517" stop-color="#707070"/><stop offset=".533" stop-color="#4d4d4d"/><stop offset=".544" stop-color="#3c3c3c"/><stop offset=".560" stop-color="#272727"/><stop offset=".594" stop-color="#101010"/><stop offset=".679" stop-color="#080808"/><stop offset=".794" stop-color="#050505"/><stop offset=".998" stop-color="#060606"/></linearGradient><linearGradient id="gr110"><stop offset=".002" stop-color="#090909"/><stop offset=".244" stop-color="#0d0d0d"/><stop offset=".348" stop-color="#282828"/><stop offset=".379" stop-color="#343434"/><stop offset=".398" stop-color="#454545"/><stop offset=".402" stop-color="#4c4c4c"/><stop offset=".410" stop-color="#616161"/><stop offset=".417" stop-color="#767676"/><stop offset=".429" stop-color="#9c9c9c"/><stop offset=".433" stop-color="#a4a4a4"/><stop offset=".456" stop-color="#adadad"/><stop offset=".479" stop-color="#a8a8a8"/><stop offset=".502" stop-color="#949494"/><stop offset=".506" stop-color="#8f8f8f"/><stop offset=".517" stop-color="#717171"/><stop offset=".533" stop-color="#4e4e4e"/><stop offset=".544" stop-color="#3d3d3d"/><stop offset=".560" stop-color="#272727"/><stop offset=".594" stop-color="#111111"/><stop offset=".679" stop-color="#090909"/><stop offset=".794" stop-color="#050505"/><stop offset=".998" stop-color="#060606"/></linearGradient><linearGradient id="gr111"><stop offset=".002" stop-color="#090909"/><stop offset=".244" stop-color="#0d0d0d"/><stop offset=".348" stop-color="#292929"/><stop offset=".379" stop-color="#343434"/><stop offset=".398" stop-color="#464646"/><stop offset=".402" stop-color="#4d4d4d"/><stop offset=".410" stop-color="#626262"/><stop offset=".417" stop-color="#777777"/><stop offset=".429" stop-color="#9d9d9d"/><stop offset=".433" stop-color="#a5a5a5"/><stop offset=".456" stop-color="#aeaeae"/><stop offset=".479" stop-color="#aaaaaa"/><stop offset=".502" stop-color="#969696"/><stop offset=".506" stop-color="#919191"/><stop offset=".517" stop-color="#727272"/><stop offset=".533" stop-color="#4f4f4f"/><stop offset=".540" stop-color="#434343"/><stop offset=".560" stop-color="#272727"/><stop offset=".594" stop-color="#111111"/><stop offset=".679" stop-color="#090909"/><stop offset=".798" stop-color="#040404"/><stop offset=".998" stop-color="#060606"/></linearGradient><linearGradient id="gr112"><stop offset=".002" stop-color="#090909"/><stop offset=".244" stop-color="#0d0d0d"/><stop offset=".348" stop-color="#292929"/><stop offset=".379" stop-color="#353535"/><stop offset=".398" stop-color="#464646"/><stop offset=".402" stop-color="#4d4d4d"/><stop offset=".410" stop-color="#626262"/><stop offset=".417" stop-color="#777777"/><stop offset=".429" stop-color="#9e9e9e"/><stop offset=".433" stop-color="#a5a5a5"/><stop offset=".456" stop-color="#afafaf"/><stop offset=".479" stop-color="#ababab"/><stop offset=".502" stop-color="#979797"/><stop offset=".506" stop-color="#929292"/><stop offset=".517" stop-color="#737373"/><stop offset=".533" stop-color="#4f4f4f"/><stop offset=".540" stop-color="#434343"/><stop offset=".560" stop-color="#282828"/><stop offset=".594" stop-color="#111111"/><stop offset=".679" stop-color="#090909"/><stop offset=".798" stop-color="#040404"/><stop offset=".998" stop-color="#060606"/></linearGradient><linearGradient id="gr113"><stop offset=".002" stop-color="#090909"/><stop offset=".244" stop-color="#0e0e0e"/><stop offset=".352" stop-color="#2b2b2b"/><stop offset=".379" stop-color="#353535"/><stop offset=".398" stop-color="#464646"/><stop offset=".402" stop-color="#4d4d4d"/><stop offset=".410" stop-color="#636363"/><stop offset=".417" stop-color="#787878"/><stop offset=".429" stop-color="#9f9f9f"/><stop offset=".433" stop-color="#a6a6a6"/><stop offset=".456" stop-color="#b0b0b0"/><stop offset=".479" stop-color="#acacac"/><stop offset=".502" stop-color="#999999"/><stop offset=".506" stop-color="#949494"/><stop offset=".517" stop-color="#747474"/><stop offset=".537" stop-color="#494949"/><stop offset=".560" stop-color="#282828"/><stop offset=".594" stop-color="#111111"/><stop offset=".679" stop-color="#090909"/><stop offset=".802" stop-color="#040404"/><stop offset=".998" stop-color="#060606"/></linearGradient><linearGradient id="gr114"><stop offset=".002" stop-color="#090909"/><stop offset=".244" stop-color="#0e0e0e"/><stop offset=".352" stop-color="#2b2b2b"/><stop offset=".379" stop-color="#363636"/><stop offset=".398" stop-color="#474747"/><stop offset=".402" stop-color="#4e4e4e"/><stop offset=".410" stop-color="#636363"/><stop offset=".417" stop-color="#797979"/><stop offset=".429" stop-color="#9f9f9f"/><stop offset=".433" stop-color="#a7a7a7"/><stop offset=".456" stop-color="#b0b0b0"/><stop offset=".479" stop-color="#adadad"/><stop offset=".502" stop-color="#9a9a9a"/><stop offset=".506" stop-color="#959595"/><stop offset=".517" stop-color="#757575"/><stop offset=".537" stop-color="#4a4a4a"/><stop offset=".560" stop-color="#282828"/><stop offset=".594" stop-color="#111111"/><stop offset=".679" stop-color="#090909"/><stop offset=".802" stop-color="#040404"/><stop offset=".998" stop-color="#060606"/></linearGradient><linearGradient id="gr115"><stop offset=".002" stop-color="#090909"/><stop offset=".244" stop-color="#0f0f0f"/><stop offset=".352" stop-color="#2c2c2c"/><stop offset=".379" stop-color="#363636"/><stop offset=".398" stop-color="#474747"/><stop offset=".402" stop-color="#4e4e4e"/><stop offset=".410" stop-color="#646464"/><stop offset=".417" stop-color="#797979"/><stop offset=".429" stop-color="#a0a0a0"/><stop offset=".433" stop-color="#a8a8a8"/><stop offset=".456" stop-color="#b1b1b1"/><stop offset=".479" stop-color="#aeaeae"/><stop offset=".502" stop-color="#9c9c9c"/><stop offset=".506" stop-color="#979797"/><stop offset=".517" stop-color="#767676"/><stop offset=".537" stop-color="#4a4a4a"/><stop offset=".560" stop-color="#292929"/><stop offset=".594" stop-color="#111111"/><stop offset=".679" stop-color="#090909"/><stop offset=".806" stop-color="#040404"/><stop offset=".998" stop-color="#060606"/></linearGradient><linearGradient id="gr116"><stop offset=".002" stop-color="#0a0a0a"/><stop offset=".167" stop-color="#0c0c0c"/><stop offset=".244" stop-color="#121212"/><stop offset=".302" stop-color="#1e1e1e"/><stop offset=".356" stop-color="#2d2d2d"/><stop offset=".379" stop-color="#363636"/><stop offset=".398" stop-color="#484848"/><stop offset=".402" stop-color="#4f4f4f"/><stop offset=".410" stop-color="#646464"/><stop offset=".417" stop-color="#7a7a7a"/><stop offset=".429" stop-color="#a1a1a1"/><stop offset=".433" stop-color="#a8a8a8"/><stop offset=".456" stop-color="#b2b2b2"/><stop offset=".479" stop-color="#b0b0b0"/><stop offset=".502" stop-color="#9d9d9d"/><stop offset=".506" stop-color="#989898"/><stop offset=".517" stop-color="#777777"/><stop offset=".537" stop-color="#4b4b4b"/><stop offset=".560" stop-color="#292929"/><stop offset=".594" stop-color="#111111"/><stop offset=".679" stop-color="#090909"/><stop offset=".806" stop-color="#040404"/><stop offset=".998" stop-color="#060606"/></linearGradient><linearGradient id="gr117"><stop offset=".002" stop-color="#0a0a0a"/><stop offset=".171" stop-color="#0c0c0c"/><stop offset=".294" stop-color="#1e1e1e"/><stop offset=".363" stop-color="#313131"/><stop offset=".383" stop-color="#393939"/><stop offset=".398" stop-color="#484848"/><stop offset=".402" stop-color="#4f4f4f"/><stop offset=".417" stop-color="#797979"/><stop offset=".429" stop-color="#a1a1a1"/><stop offset=".433" stop-color="#a9a9a9"/><stop offset=".452" stop-color="#b3b3b3"/><stop offset=".460" stop-color="#b4b4b4"/><stop offset=".479" stop-color="#b1b1b1"/><stop offset=".502" stop-color="#9f9f9f"/><stop offset=".506" stop-color="#9a9a9a"/><stop offset=".517" stop-color="#777777"/><stop offset=".533" stop-color="#525252"/><stop offset=".537" stop-color="#4b4b4b"/><stop offset=".560" stop-color="#292929"/><stop offset=".594" stop-color="#111111"/><stop offset=".679" stop-color="#090909"/><stop offset=".806" stop-color="#040404"/><stop offset=".998" stop-color="#070707"/></linearGradient><linearGradient id="gr118"><stop offset=".002" stop-color="#0a0a0a"/><stop offset=".167" stop-color="#0c0c0c"/><stop offset=".248" stop-color="#1c1c1c"/><stop offset=".329" stop-color="#282828"/><stop offset=".379" stop-color="#373737"/><stop offset=".398" stop-color="#484848"/><stop offset=".402" stop-color="#4f4f4f"/><stop offset=".417" stop-color="#797979"/><stop offset=".429" stop-color="#a1a1a1"/><stop offset=".433" stop-color="#a9a9a9"/><stop offset=".452" stop-color="#b5b5b5"/><stop offset=".463" stop-color="#b5b5b5"/><stop offset=".479" stop-color="#b3b3b3"/><stop offset=".502" stop-color="#a1a1a1"/><stop offset=".506" stop-color="#9b9b9b"/><stop offset=".517" stop-color="#777777"/><stop offset=".533" stop-color="#525252"/><stop offset=".537" stop-color="#4b4b4b"/><stop offset=".560" stop-color="#2a2a2a"/><stop offset=".594" stop-color="#121212"/><stop offset=".679" stop-color="#090909"/><stop offset=".806" stop-color="#040404"/><stop offset=".998" stop-color="#070707"/></linearGradient><linearGradient id="gr119"><stop offset=".002" stop-color="#0a0a0a"/><stop offset=".167" stop-color="#0c0c0c"/><stop offset=".267" stop-color="#242424"/><stop offset=".344" stop-color="#303030"/><stop offset=".379" stop-color="#393939"/><stop offset=".398" stop-color="#4a4a4a"/><stop offset=".402" stop-color="#505050"/><stop offset=".417" stop-color="#787878"/><stop offset=".429" stop-color="#a2a2a2"/><stop offset=".433" stop-color="#aaaaaa"/><stop offset=".452" stop-color="#b6b6b6"/><stop offset=".463" stop-color="#b7b7b7"/><stop offset=".479" stop-color="#b5b5b5"/><stop offset=".502" stop-color="#a3a3a3"/><stop offset=".506" stop-color="#9d9d9d"/><stop offset=".517" stop-color="#787878"/><stop offset=".533" stop-color="#525252"/><stop offset=".537" stop-color="#4b4b4b"/><stop offset=".560" stop-color="#2a2a2a"/><stop offset=".594" stop-color="#121212"/><stop offset=".679" stop-color="#090909"/><stop offset=".806" stop-color="#040404"/><stop offset=".998" stop-color="#070707"/></linearGradient><linearGradient id="gr120"><stop offset=".002" stop-color="#0a0a0a"/><stop offset=".171" stop-color="#0d0d0d"/><stop offset=".244" stop-color="#1c1c1c"/><stop offset=".298" stop-color="#2d2d2d"/><stop offset=".379" stop-color="#3d3d3d"/><stop offset=".398" stop-color="#4d4d4d"/><stop offset=".402" stop-color="#535353"/><stop offset=".417" stop-color="#797979"/><stop offset=".429" stop-color="#a4a4a4"/><stop offset=".433" stop-color="#acacac"/><stop offset=".452" stop-color="#b8b8b8"/><stop offset=".463" stop-color="#b9b9b9"/><stop offset=".479" stop-color="#b7b7b7"/><stop offset=".502" stop-color="#a4a4a4"/><stop offset=".506" stop-color="#9f9f9f"/><stop offset=".517" stop-color="#787878"/><stop offset=".533" stop-color="#525252"/><stop offset=".537" stop-color="#4c4c4c"/><stop offset=".560" stop-color="#2b2b2b"/><stop offset=".594" stop-color="#121212"/><stop offset=".679" stop-color="#0a0a0a"/><stop offset=".806" stop-color="#040404"/><stop offset=".998" stop-color="#070707"/></linearGradient><linearGradient id="gr121"><stop offset=".002" stop-color="#0a0a0a"/><stop offset=".167" stop-color="#0c0c0c"/><stop offset=".244" stop-color="#171717"/><stop offset=".310" stop-color="#303030"/><stop offset=".379" stop-color="#434343"/><stop offset=".398" stop-color="#525252"/><stop offset=".402" stop-color="#585858"/><stop offset=".417" stop-color="#7c7c7c"/><stop offset=".429" stop-color="#a7a7a7"/><stop offset=".433" stop-color="#afafaf"/><stop offset=".456" stop-color="#bcbcbc"/><stop offset=".479" stop-color="#bababa"/><stop offset=".502" stop-color="#a6a6a6"/><stop offset=".506" stop-color="#a0a0a0"/><stop offset=".517" stop-color="#787878"/><stop offset=".533" stop-color="#525252"/><stop offset=".537" stop-color="#4c4c4c"/><stop offset=".560" stop-color="#2b2b2b"/><stop offset=".594" stop-color="#121212"/><stop offset=".679" stop-color="#0a0a0a"/><stop offset=".810" stop-color="#040404"/><stop offset=".998" stop-color="#070707"/></linearGradient><linearGradient id="gr122"><stop offset=".002" stop-color="#0a0a0a"/><stop offset=".167" stop-color="#0c0c0c"/><stop offset=".244" stop-color="#131313"/><stop offset=".379" stop-color="#474747"/><stop offset=".398" stop-color="#575757"/><stop offset=".402" stop-color="#5d5d5d"/><stop offset=".417" stop-color="#818181"/><stop offset=".429" stop-color="#acacac"/><stop offset=".433" stop-color="#b4b4b4"/><stop offset=".456" stop-color="#c1c1c1"/><stop offset=".479" stop-color="#bdbdbd"/><stop offset=".502" stop-color="#a8a8a8"/><stop offset=".506" stop-color="#a2a2a2"/><stop offset=".517" stop-color="#787878"/><stop offset=".533" stop-color="#525252"/><stop offset=".537" stop-color="#4c4c4c"/><stop offset=".560" stop-color="#2b2b2b"/><stop offset=".594" stop-color="#131313"/><stop offset=".679" stop-color="#0a0a0a"/><stop offset=".810" stop-color="#040404"/><stop offset=".998" stop-color="#070707"/></linearGradient><linearGradient id="gr123"><stop offset=".002" stop-color="#0a0a0a"/><stop offset=".244" stop-color="#101010"/><stop offset=".306" stop-color="#262626"/><stop offset=".379" stop-color="#474747"/><stop offset=".398" stop-color="#5a5a5a"/><stop offset=".417" stop-color="#848484"/><stop offset=".429" stop-color="#b0b0b0"/><stop offset=".433" stop-color="#b8b8b8"/><stop offset=".456" stop-color="#c4c4c4"/><stop offset=".475" stop-color="#c2c2c2"/><stop offset=".502" stop-color="#aaaaaa"/><stop offset=".506" stop-color="#a3a3a3"/><stop offset=".517" stop-color="#787878"/><stop offset=".533" stop-color="#535353"/><stop offset=".537" stop-color="#4c4c4c"/><stop offset=".560" stop-color="#2c2c2c"/><stop offset=".594" stop-color="#131313"/><stop offset=".679" stop-color="#0a0a0a"/><stop offset=".810" stop-color="#040404"/><stop offset=".998" stop-color="#070707"/></linearGradient><linearGradient id="gr124"><stop offset=".002" stop-color="#0b0b0b"/><stop offset=".244" stop-color="#101010"/><stop offset=".333" stop-color="#2d2d2d"/><stop offset=".379" stop-color="#434343"/><stop offset=".398" stop-color="#575757"/><stop offset=".417" stop-color="#838383"/><stop offset=".429" stop-color="#b0b0b0"/><stop offset=".433" stop-color="#b9b9b9"/><stop offset=".456" stop-color="#c6c6c6"/><stop offset=".479" stop-color="#c1c1c1"/><stop offset=".502" stop-color="#ababab"/><stop offset=".506" stop-color="#a5a5a5"/><stop offset=".517" stop-color="#787878"/><stop offset=".533" stop-color="#535353"/><stop offset=".537" stop-color="#4c4c4c"/><stop offset=".560" stop-color="#2c2c2c"/><stop offset=".594" stop-color="#131313"/><stop offset=".679" stop-color="#0a0a0a"/><stop offset=".810" stop-color="#050505"/><stop offset=".998" stop-color="#070707"/></linearGradient><linearGradient id="gr125"><stop offset=".002" stop-color="#0b0b0b"/><stop offset=".244" stop-color="#0f0f0f"/><stop offset=".348" stop-color="#303030"/><stop offset=".379" stop-color="#3e3e3e"/><stop offset=".398" stop-color="#525252"/><stop offset=".417" stop-color="#7e7e7e"/><stop offset=".429" stop-color="#acacac"/><stop offset=".433" stop-color="#b6b6b6"/><stop offset=".456" stop-color="#c5c5c5"/><stop offset=".479" stop-color="#c2c2c2"/><stop offset=".502" stop-color="#adadad"/><stop offset=".506" stop-color="#a6a6a6"/><stop offset=".513" stop-color="#858585"/><stop offset=".517" stop-color="#787878"/><stop offset=".533" stop-color="#535353"/><stop offset=".537" stop-color="#4c4c4c"/><stop offset=".560" stop-color="#2d2d2d"/><stop offset=".594" stop-color="#131313"/><stop offset=".679" stop-color="#0a0a0a"/><stop offset=".810" stop-color="#050505"/><stop offset=".998" stop-color="#070707"/></linearGradient><linearGradient id="gr126"><stop offset=".002" stop-color="#0b0b0b"/><stop offset=".244" stop-color="#101010"/><stop offset=".367" stop-color="#363636"/><stop offset=".383" stop-color="#3d3d3d"/><stop offset=".402" stop-color="#555555"/><stop offset=".417" stop-color="#787878"/><stop offset=".429" stop-color="#a8a8a8"/><stop offset=".433" stop-color="#b2b2b2"/><stop offset=".452" stop-color="#c3c3c3"/><stop offset=".467" stop-color="#c4c4c4"/><stop offset=".479" stop-color="#c3c3c3"/><stop offset=".502" stop-color="#afafaf"/><stop offset=".506" stop-color="#a8a8a8"/><stop offset=".513" stop-color="#868686"/><stop offset=".517" stop-color="#797979"/><stop offset=".533" stop-color="#535353"/><stop offset=".560" stop-color="#2d2d2d"/><stop offset=".594" stop-color="#141414"/><stop offset=".679" stop-color="#0b0b0b"/><stop offset=".810" stop-color="#050505"/><stop offset=".998" stop-color="#070707"/></linearGradient><linearGradient id="gr127"><stop offset=".002" stop-color="#0b0b0b"/><stop offset=".244" stop-color="#101010"/><stop offset=".379" stop-color="#393939"/><stop offset=".398" stop-color="#4c4c4c"/><stop offset=".410" stop-color="#636363"/><stop offset=".417" stop-color="#747474"/><stop offset=".429" stop-color="#a5a5a5"/><stop offset=".433" stop-color="#afafaf"/><stop offset=".452" stop-color="#c2c2c2"/><stop offset=".475" stop-color="#c5c5c5"/><stop offset=".502" stop-color="#b0b0b0"/><stop offset=".506" stop-color="#aaaaaa"/><stop offset=".513" stop-color="#868686"/><stop offset=".517" stop-color="#797979"/><stop offset=".533" stop-color="#535353"/><stop offset=".537" stop-color="#4d4d4d"/><stop offset=".560" stop-color="#2d2d2d"/><stop offset=".594" stop-color="#141414"/><stop offset=".679" stop-color="#0b0b0b"/><stop offset=".810" stop-color="#050505"/><stop offset=".998" stop-color="#080808"/></linearGradient><linearGradient id="gr128"><stop offset=".002" stop-color="#0b0b0b"/><stop offset=".244" stop-color="#101010"/><stop offset=".379" stop-color="#393939"/><stop offset=".398" stop-color="#4c4c4c"/><stop offset=".417" stop-color="#727272"/><stop offset=".429" stop-color="#a4a4a4"/><stop offset=".433" stop-color="#aeaeae"/><stop offset=".452" stop-color="#c3c3c3"/><stop offset=".475" stop-color="#c6c6c6"/><stop offset=".502" stop-color="#b2b2b2"/><stop offset=".506" stop-color="#ababab"/><stop offset=".513" stop-color="#878787"/><stop offset=".517" stop-color="#797979"/><stop offset=".533" stop-color="#535353"/><stop offset=".537" stop-color="#4d4d4d"/><stop offset=".560" stop-color="#2e2e2e"/><stop offset=".594" stop-color="#141414"/><stop offset=".679" stop-color="#0b0b0b"/><stop offset=".810" stop-color="#050505"/><stop offset=".998" stop-color="#080808"/></linearGradient><linearGradient id="gr129"><stop offset=".002" stop-color="#0b0b0b"/><stop offset=".148" stop-color="#111111"/><stop offset=".244" stop-color="#101010"/><stop offset=".379" stop-color="#393939"/><stop offset=".398" stop-color="#4c4c4c"/><stop offset=".417" stop-color="#717171"/><stop offset=".429" stop-color="#a4a4a4"/><stop offset=".433" stop-color="#aeaeae"/><stop offset=".452" stop-color="#c4c4c4"/><stop offset=".475" stop-color="#c8c8c8"/><stop offset=".502" stop-color="#b4b4b4"/><stop offset=".506" stop-color="#adadad"/><stop offset=".513" stop-color="#878787"/><stop offset=".517" stop-color="#797979"/><stop offset=".533" stop-color="#535353"/><stop offset=".537" stop-color="#4d4d4d"/><stop offset=".560" stop-color="#2e2e2e"/><stop offset=".594" stop-color="#141414"/><stop offset=".679" stop-color="#0b0b0b"/><stop offset=".813" stop-color="#050505"/><stop offset=".998" stop-color="#080808"/></linearGradient><linearGradient id="gr130"><stop offset=".002" stop-color="#0b0b0b"/><stop offset=".075" stop-color="#0c0c0c"/><stop offset=".152" stop-color="#161616"/><stop offset=".244" stop-color="#121212"/><stop offset=".379" stop-color="#393939"/><stop offset=".398" stop-color="#4c4c4c"/><stop offset=".417" stop-color="#707070"/><stop offset=".429" stop-color="#a4a4a4"/><stop offset=".433" stop-color="#afafaf"/><stop offset=".452" stop-color="#c5c5c5"/><stop offset=".475" stop-color="#cacaca"/><stop offset=".502" stop-color="#b6b6b6"/><stop offset=".506" stop-color="#aeaeae"/><stop offset=".513" stop-color="#878787"/><stop offset=".517" stop-color="#797979"/><stop offset=".533" stop-color="#535353"/><stop offset=".537" stop-color="#4d4d4d"/><stop offset=".560" stop-color="#2f2f2f"/><stop offset=".594" stop-color="#151515"/><stop offset=".679" stop-color="#0b0b0b"/><stop offset=".813" stop-color="#050505"/><stop offset=".998" stop-color="#080808"/></linearGradient><linearGradient id="gr131"><stop offset=".002" stop-color="#0b0b0b"/><stop offset=".075" stop-color="#0d0d0d"/><stop offset=".152" stop-color="#191919"/><stop offset=".248" stop-color="#151515"/><stop offset=".379" stop-color="#3a3a3a"/><stop offset=".398" stop-color="#4c4c4c"/><stop offset=".417" stop-color="#6f6f6f"/><stop offset=".429" stop-color="#a4a4a4"/><stop offset=".433" stop-color="#afafaf"/><stop offset=".452" stop-color="#c6c6c6"/><stop offset=".475" stop-color="#cbcbcb"/><stop offset=".502" stop-color="#b7b7b7"/><stop offset=".506" stop-color="#b0b0b0"/><stop offset=".513" stop-color="#888888"/><stop offset=".517" stop-color="#797979"/><stop offset=".533" stop-color="#545454"/><stop offset=".537" stop-color="#4d4d4d"/><stop offset=".560" stop-color="#2f2f2f"/><stop offset=".594" stop-color="#151515"/><stop offset=".679" stop-color="#0c0c0c"/><stop offset=".813" stop-color="#060606"/><stop offset=".998" stop-color="#080808"/></linearGradient><linearGradient id="gr132"><stop offset=".002" stop-color="#0c0c0c"/><stop offset=".075" stop-color="#0d0d0d"/><stop offset=".160" stop-color="#1a1a1a"/><stop offset=".248" stop-color="#191919"/><stop offset=".317" stop-color="#282828"/><stop offset=".379" stop-color="#3a3a3a"/><stop offset=".398" stop-color="#4d4d4d"/><stop offset=".417" stop-color="#6f6f6f"/><stop offset=".429" stop-color="#a4a4a4"/><stop offset=".433" stop-color="#b0b0b0"/><stop offset=".452" stop-color="#c8c8c8"/><stop offset=".475" stop-color="#cdcdcd"/><stop offset=".502" stop-color="#b9b9b9"/><stop offset=".506" stop-color="#b2b2b2"/><stop offset=".513" stop-color="#888888"/><stop offset=".517" stop-color="#797979"/><stop offset=".533" stop-color="#545454"/><stop offset=".537" stop-color="#4e4e4e"/><stop offset=".560" stop-color="#2f2f2f"/><stop offset=".594" stop-color="#151515"/><stop offset=".679" stop-color="#0c0c0c"/><stop offset=".813" stop-color="#060606"/><stop offset=".998" stop-color="#080808"/></linearGradient><linearGradient id="gr133"><stop offset=".002" stop-color="#0c0c0c"/><stop offset=".075" stop-color="#0d0d0d"/><stop offset=".183" stop-color="#1a1a1a"/><stop offset=".248" stop-color="#1d1d1d"/><stop offset=".379" stop-color="#3c3c3c"/><stop offset=".398" stop-color="#4e4e4e"/><stop offset=".417" stop-color="#6f6f6f"/><stop offset=".429" stop-color="#a5a5a5"/><stop offset=".433" stop-color="#b1b1b1"/><stop offset=".452" stop-color="#cacaca"/><stop offset=".475" stop-color="#cfcfcf"/><stop offset=".502" stop-color="#bbbbbb"/><stop offset=".506" stop-color="#b3b3b3"/><stop offset=".513" stop-color="#898989"/><stop offset=".517" stop-color="#7a7a7a"/><stop offset=".533" stop-color="#545454"/><stop offset=".537" stop-color="#4e4e4e"/><stop offset=".560" stop-color="#303030"/><stop offset=".594" stop-color="#161616"/><stop offset=".679" stop-color="#0c0c0c"/><stop offset=".813" stop-color="#060606"/><stop offset=".998" stop-color="#090909"/></linearGradient><linearGradient id="gr134"><stop offset=".002" stop-color="#0c0c0c"/><stop offset=".075" stop-color="#0d0d0d"/><stop offset=".244" stop-color="#1d1d1d"/><stop offset=".379" stop-color="#3f3f3f"/><stop offset=".398" stop-color="#515151"/><stop offset=".417" stop-color="#707070"/><stop offset=".429" stop-color="#a7a7a7"/><stop offset=".433" stop-color="#b2b2b2"/><stop offset=".452" stop-color="#cccccc"/><stop offset=".475" stop-color="#d1d1d1"/><stop offset=".502" stop-color="#bdbdbd"/><stop offset=".506" stop-color="#b5b5b5"/><stop offset=".513" stop-color="#898989"/><stop offset=".517" stop-color="#7a7a7a"/><stop offset=".533" stop-color="#545454"/><stop offset=".537" stop-color="#4e4e4e"/><stop offset=".560" stop-color="#303030"/><stop offset=".594" stop-color="#161616"/><stop offset=".679" stop-color="#0d0d0d"/><stop offset=".810" stop-color="#060606"/><stop offset=".998" stop-color="#090909"/></linearGradient><linearGradient id="gr135"><stop offset=".002" stop-color="#0c0c0c"/><stop offset=".152" stop-color="#0f0f0f"/><stop offset=".244" stop-color="#1a1a1a"/><stop offset=".313" stop-color="#323232"/><stop offset=".379" stop-color="#444444"/><stop offset=".398" stop-color="#555555"/><stop offset=".417" stop-color="#727272"/><stop offset=".429" stop-color="#aaaaaa"/><stop offset=".433" stop-color="#b6b6b6"/><stop offset=".452" stop-color="#cfcfcf"/><stop offset=".475" stop-color="#d4d4d4"/><stop offset=".502" stop-color="#bebebe"/><stop offset=".506" stop-color="#b6b6b6"/><stop offset=".513" stop-color="#8a8a8a"/><stop offset=".517" stop-color="#7a7a7a"/><stop offset=".533" stop-color="#545454"/><stop offset=".537" stop-color="#4e4e4e"/><stop offset=".560" stop-color="#313131"/><stop offset=".594" stop-color="#171717"/><stop offset=".679" stop-color="#0e0e0e"/><stop offset=".806" stop-color="#070707"/><stop offset=".998" stop-color="#090909"/></linearGradient><linearGradient id="gr136"><stop offset=".002" stop-color="#0c0c0c"/><stop offset=".152" stop-color="#0e0e0e"/><stop offset=".244" stop-color="#151515"/><stop offset=".379" stop-color="#474747"/><stop offset=".398" stop-color="#5a5a5a"/><stop offset=".417" stop-color="#767676"/><stop offset=".429" stop-color="#aeaeae"/><stop offset=".433" stop-color="#bababa"/><stop offset=".452" stop-color="#d3d3d3"/><stop offset=".475" stop-color="#d7d7d7"/><stop offset=".502" stop-color="#c0c0c0"/><stop offset=".506" stop-color="#b8b8b8"/><stop offset=".513" stop-color="#8a8a8a"/><stop offset=".517" stop-color="#7a7a7a"/><stop offset=".533" stop-color="#545454"/><stop offset=".560" stop-color="#313131"/><stop offset=".590" stop-color="#1b1b1b"/><stop offset=".690" stop-color="#0e0e0e"/><stop offset=".787" stop-color="#080808"/><stop offset=".998" stop-color="#090909"/></linearGradient><linearGradient id="gr137"><stop offset=".002" stop-color="#0c0c0c"/><stop offset=".152" stop-color="#0e0e0e"/><stop offset=".244" stop-color="#131313"/><stop offset=".379" stop-color="#474747"/><stop offset=".398" stop-color="#5b5b5b"/><stop offset=".417" stop-color="#787878"/><stop offset=".429" stop-color="#b0b0b0"/><stop offset=".433" stop-color="#bcbcbc"/><stop offset=".452" stop-color="#d6d6d6"/><stop offset=".475" stop-color="#d9d9d9"/><stop offset=".502" stop-color="#c2c2c2"/><stop offset=".506" stop-color="#bababa"/><stop offset=".513" stop-color="#8b8b8b"/><stop offset=".517" stop-color="#7a7a7a"/><stop offset=".533" stop-color="#545454"/><stop offset=".560" stop-color="#323232"/><stop offset=".590" stop-color="#1d1d1d"/><stop offset=".633" stop-color="#1c1c1c"/><stop offset=".710" stop-color="#0f0f0f"/><stop offset=".810" stop-color="#070707"/><stop offset=".998" stop-color="#090909"/></linearGradient><linearGradient id="gr138"><stop offset=".002" stop-color="#0c0c0c"/><stop offset=".244" stop-color="#121212"/><stop offset=".379" stop-color="#434343"/><stop offset=".398" stop-color="#595959"/><stop offset=".417" stop-color="#767676"/><stop offset=".429" stop-color="#b0b0b0"/><stop offset=".433" stop-color="#bcbcbc"/><stop offset=".452" stop-color="#d7d7d7"/><stop offset=".475" stop-color="#dbdbdb"/><stop offset=".502" stop-color="#c4c4c4"/><stop offset=".506" stop-color="#bbbbbb"/><stop offset=".513" stop-color="#8b8b8b"/><stop offset=".517" stop-color="#7a7a7a"/><stop offset=".533" stop-color="#555555"/><stop offset=".560" stop-color="#333333"/><stop offset=".590" stop-color="#1e1e1e"/><stop offset=".633" stop-color="#1f1f1f"/><stop offset=".737" stop-color="#0f0f0f"/><stop offset=".821" stop-color="#080808"/><stop offset=".998" stop-color="#090909"/></linearGradient><linearGradient id="gr139"><stop offset=".002" stop-color="#0c0c0c"/><stop offset=".244" stop-color="#111111"/><stop offset=".379" stop-color="#3f3f3f"/><stop offset=".398" stop-color="#555555"/><stop offset=".417" stop-color="#717171"/><stop offset=".429" stop-color="#acacac"/><stop offset=".433" stop-color="#b9b9b9"/><stop offset=".452" stop-color="#d6d6d6"/><stop offset=".475" stop-color="#dcdcdc"/><stop offset=".502" stop-color="#c5c5c5"/><stop offset=".506" stop-color="#bdbdbd"/><stop offset=".513" stop-color="#8b8b8b"/><stop offset=".517" stop-color="#7a7a7a"/><stop offset=".533" stop-color="#555555"/><stop offset=".560" stop-color="#333333"/><stop offset=".590" stop-color="#1f1f1f"/><stop offset=".640" stop-color="#1f1f1f"/><stop offset=".852" stop-color="#070707"/><stop offset=".998" stop-color="#0a0a0a"/></linearGradient><linearGradient id="gr140"><stop offset=".002" stop-color="#0d0d0d"/><stop offset=".244" stop-color="#111111"/><stop offset=".379" stop-color="#3d3d3d"/><stop offset=".398" stop-color="#525252"/><stop offset=".417" stop-color="#6d6d6d"/><stop offset=".429" stop-color="#a9a9a9"/><stop offset=".433" stop-color="#b6b6b6"/><stop offset=".452" stop-color="#d5d5d5"/><stop offset=".475" stop-color="#dcdcdc"/><stop offset=".502" stop-color="#c7c7c7"/><stop offset=".506" stop-color="#bebebe"/><stop offset=".513" stop-color="#8c8c8c"/><stop offset=".517" stop-color="#7b7b7b"/><stop offset=".533" stop-color="#555555"/><stop offset=".560" stop-color="#333333"/><stop offset=".590" stop-color="#1e1e1e"/><stop offset=".729" stop-color="#171717"/><stop offset=".852" stop-color="#070707"/><stop offset=".998" stop-color="#0a0a0a"/></linearGradient><linearGradient id="gr141"><stop offset=".002" stop-color="#0d0d0d"/><stop offset=".244" stop-color="#111111"/><stop offset=".379" stop-color="#3c3c3c"/><stop offset=".398" stop-color="#505050"/><stop offset=".417" stop-color="#6a6a6a"/><stop offset=".429" stop-color="#a7a7a7"/><stop offset=".433" stop-color="#b5b5b5"/><stop offset=".444" stop-color="#c8c8c8"/><stop offset=".452" stop-color="#d5d5d5"/><stop offset=".456" stop-color="#d8d8d8"/><stop offset=".475" stop-color="#dddddd"/><stop offset=".502" stop-color="#c9c9c9"/><stop offset=".506" stop-color="#c0c0c0"/><stop offset=".513" stop-color="#8c8c8c"/><stop offset=".517" stop-color="#7b7b7b"/><stop offset=".533" stop-color="#555555"/><stop offset=".560" stop-color="#333333"/><stop offset=".590" stop-color="#1c1c1c"/><stop offset=".775" stop-color="#161616"/><stop offset=".852" stop-color="#080808"/><stop offset=".998" stop-color="#0a0a0a"/></linearGradient><linearGradient id="gr142"><stop offset=".002" stop-color="#0d0d0d"/><stop offset=".244" stop-color="#121212"/><stop offset=".379" stop-color="#3c3c3c"/><stop offset=".398" stop-color="#505050"/><stop offset=".417" stop-color="#6a6a6a"/><stop offset=".429" stop-color="#a8a8a8"/><stop offset=".433" stop-color="#b5b5b5"/><stop offset=".448" stop-color="#d0d0d0"/><stop offset=".456" stop-color="#d9d9d9"/><stop offset=".475" stop-color="#dfdfdf"/><stop offset=".502" stop-color="#cbcbcb"/><stop offset=".506" stop-color="#c2c2c2"/><stop offset=".513" stop-color="#8e8e8e"/><stop offset=".517" stop-color="#7d7d7d"/><stop offset=".533" stop-color="#565656"/><stop offset=".560" stop-color="#343434"/><stop offset=".594" stop-color="#1a1a1a"/><stop offset=".679" stop-color="#141414"/><stop offset=".775" stop-color="#161616"/><stop offset=".852" stop-color="#080808"/><stop offset=".998" stop-color="#0a0a0a"/></linearGradient><linearGradient id="gr143"><stop offset=".002" stop-color="#0d0d0d"/><stop offset=".244" stop-color="#121212"/><stop offset=".379" stop-color="#3d3d3d"/><stop offset=".398" stop-color="#505050"/><stop offset=".417" stop-color="#6b6b6b"/><stop offset=".429" stop-color="#a9a9a9"/><stop offset=".433" stop-color="#b6b6b6"/><stop offset=".448" stop-color="#d1d1d1"/><stop offset=".456" stop-color="#dbdbdb"/><stop offset=".475" stop-color="#e1e1e1"/><stop offset=".502" stop-color="#cdcdcd"/><stop offset=".506" stop-color="#c4c4c4"/><stop offset=".513" stop-color="#919191"/><stop offset=".517" stop-color="#7f7f7f"/><stop offset=".533" stop-color="#575757"/><stop offset=".560" stop-color="#353535"/><stop offset=".594" stop-color="#1a1a1a"/><stop offset=".679" stop-color="#121212"/><stop offset=".775" stop-color="#141414"/><stop offset=".852" stop-color="#090909"/><stop offset=".998" stop-color="#0b0b0b"/></linearGradient><linearGradient id="gr144"><stop offset=".002" stop-color="#0e0e0e"/><stop offset=".244" stop-color="#121212"/><stop offset=".379" stop-color="#3d3d3d"/><stop offset=".398" stop-color="#505050"/><stop offset=".417" stop-color="#6c6c6c"/><stop offset=".429" stop-color="#aaaaaa"/><stop offset=".433" stop-color="#b8b8b8"/><stop offset=".448" stop-color="#d3d3d3"/><stop offset=".456" stop-color="#dcdcdc"/><stop offset=".475" stop-color="#e4e4e4"/><stop offset=".502" stop-color="#cfcfcf"/><stop offset=".506" stop-color="#c6c6c6"/><stop offset=".513" stop-color="#939393"/><stop offset=".517" stop-color="#818181"/><stop offset=".533" stop-color="#585858"/><stop offset=".560" stop-color="#363636"/><stop offset=".594" stop-color="#1a1a1a"/><stop offset=".679" stop-color="#111111"/><stop offset=".775" stop-color="#111111"/><stop offset=".852" stop-color="#090909"/><stop offset=".998" stop-color="#0b0b0b"/></linearGradient><linearGradient id="gr145"><stop offset=".002" stop-color="#111111"/><stop offset=".102" stop-color="#0f0f0f"/><stop offset=".244" stop-color="#121212"/><stop offset=".379" stop-color="#3e3e3e"/><stop offset=".398" stop-color="#515151"/><stop offset=".417" stop-color="#6e6e6e"/><stop offset=".429" stop-color="#ababab"/><stop offset=".433" stop-color="#b9b9b9"/><stop offset=".448" stop-color="#d5d5d5"/><stop offset=".456" stop-color="#dedede"/><stop offset=".475" stop-color="#e6e6e6"/><stop offset=".502" stop-color="#d2d2d2"/><stop offset=".506" stop-color="#c9c9c9"/><stop offset=".513" stop-color="#959595"/><stop offset=".517" stop-color="#838383"/><stop offset=".533" stop-color="#595959"/><stop offset=".560" stop-color="#363636"/><stop offset=".594" stop-color="#1b1b1b"/><stop offset=".679" stop-color="#101010"/><stop offset=".825" stop-color="#0b0b0b"/><stop offset=".998" stop-color="#0c0c0c"/></linearGradient><linearGradient id="gr146"><stop offset=".002" stop-color="#161616"/><stop offset=".106" stop-color="#101010"/><stop offset=".244" stop-color="#131313"/><stop offset=".379" stop-color="#3e3e3e"/><stop offset=".398" stop-color="#515151"/><stop offset=".417" stop-color="#6f6f6f"/><stop offset=".429" stop-color="#adadad"/><stop offset=".433" stop-color="#bababa"/><stop offset=".448" stop-color="#d6d6d6"/><stop offset=".456" stop-color="#e0e0e0"/><stop offset=".475" stop-color="#e8e8e8"/><stop offset=".502" stop-color="#d4d4d4"/><stop offset=".506" stop-color="#cbcbcb"/><stop offset=".513" stop-color="#979797"/><stop offset=".517" stop-color="#858585"/><stop offset=".533" stop-color="#5a5a5a"/><stop offset=".560" stop-color="#373737"/><stop offset=".594" stop-color="#1c1c1c"/><stop offset=".679" stop-color="#111111"/><stop offset=".821" stop-color="#0b0b0b"/><stop offset=".998" stop-color="#0c0c0c"/></linearGradient><linearGradient id="gr147"><stop offset=".002" stop-color="#191919"/><stop offset=".137" stop-color="#111111"/><stop offset=".244" stop-color="#131313"/><stop offset=".379" stop-color="#3f3f3f"/><stop offset=".398" stop-color="#515151"/><stop offset=".417" stop-color="#707070"/><stop offset=".429" stop-color="#aeaeae"/><stop offset=".433" stop-color="#bcbcbc"/><stop offset=".448" stop-color="#d8d8d8"/><stop offset=".456" stop-color="#e2e2e2"/><stop offset=".475" stop-color="#eaeaea"/><stop offset=".502" stop-color="#d6d6d6"/><stop offset=".506" stop-color="#cdcdcd"/><stop offset=".513" stop-color="#999999"/><stop offset=".517" stop-color="#878787"/><stop offset=".533" stop-color="#5b5b5b"/><stop offset=".560" stop-color="#383838"/><stop offset=".594" stop-color="#1c1c1c"/><stop offset=".679" stop-color="#111111"/><stop offset=".813" stop-color="#0b0b0b"/><stop offset=".998" stop-color="#0d0d0d"/></linearGradient><linearGradient id="gr148"><stop offset=".002" stop-color="#181818"/><stop offset=".048" stop-color="#1a1a1a"/><stop offset=".152" stop-color="#131313"/><stop offset=".244" stop-color="#131313"/><stop offset=".379" stop-color="#3f3f3f"/><stop offset=".398" stop-color="#515151"/><stop offset=".417" stop-color="#727272"/><stop offset=".429" stop-color="#afafaf"/><stop offset=".433" stop-color="#bdbdbd"/><stop offset=".452" stop-color="#e1e1e1"/><stop offset=".475" stop-color="#ececec"/><stop offset=".502" stop-color="#d8d8d8"/><stop offset=".506" stop-color="#cfcfcf"/><stop offset=".513" stop-color="#9b9b9b"/><stop offset=".517" stop-color="#898989"/><stop offset=".533" stop-color="#5c5c5c"/><stop offset=".560" stop-color="#393939"/><stop offset=".594" stop-color="#1d1d1d"/><stop offset=".679" stop-color="#121212"/><stop offset=".794" stop-color="#0c0c0c"/><stop offset=".998" stop-color="#0d0d0d"/></linearGradient><linearGradient id="gr149"><stop offset=".002" stop-color="#141414"/><stop offset=".087" stop-color="#1b1b1b"/><stop offset=".244" stop-color="#131313"/><stop offset=".379" stop-color="#3f3f3f"/><stop offset=".398" stop-color="#515151"/><stop offset=".417" stop-color="#737373"/><stop offset=".429" stop-color="#b0b0b0"/><stop offset=".433" stop-color="#bebebe"/><stop offset=".452" stop-color="#e2e2e2"/><stop offset=".475" stop-color="#eeeeee"/><stop offset=".502" stop-color="#dadada"/><stop offset=".506" stop-color="#d1d1d1"/><stop offset=".513" stop-color="#9d9d9d"/><stop offset=".517" stop-color="#8b8b8b"/><stop offset=".533" stop-color="#5c5c5c"/><stop offset=".560" stop-color="#3a3a3a"/><stop offset=".594" stop-color="#1e1e1e"/><stop offset=".679" stop-color="#121212"/><stop offset=".787" stop-color="#0d0d0d"/><stop offset=".998" stop-color="#0e0e0e"/></linearGradient><linearGradient id="gr150"><stop offset=".002" stop-color="#111111"/><stop offset=".125" stop-color="#1b1b1b"/><stop offset=".244" stop-color="#141414"/><stop offset=".340" stop-color="#363636"/><stop offset=".379" stop-color="#404040"/><stop offset=".398" stop-color="#515151"/><stop offset=".417" stop-color="#737373"/><stop offset=".429" stop-color="#b0b0b0"/><stop offset=".433" stop-color="#bebebe"/><stop offset=".452" stop-color="#e2e2e2"/><stop offset=".475" stop-color="#eeeeee"/><stop offset=".502" stop-color="#dbdbdb"/><stop offset=".506" stop-color="#d2d2d2"/><stop offset=".513" stop-color="#9f9f9f"/><stop offset=".517" stop-color="#8c8c8c"/><stop offset=".533" stop-color="#5d5d5d"/><stop offset=".560" stop-color="#3b3b3b"/><stop offset=".594" stop-color="#1f1f1f"/><stop offset=".679" stop-color="#131313"/><stop offset=".779" stop-color="#0e0e0e"/><stop offset=".998" stop-color="#0e0e0e"/></linearGradient><linearGradient id="gr151"><stop offset=".002" stop-color="#111111"/><stop offset=".167" stop-color="#1d1d1d"/><stop offset=".248" stop-color="#151515"/><stop offset=".340" stop-color="#363636"/><stop offset=".379" stop-color="#404040"/><stop offset=".398" stop-color="#515151"/><stop offset=".417" stop-color="#747474"/><stop offset=".429" stop-color="#b0b0b0"/><stop offset=".433" stop-color="#bebebe"/><stop offset=".452" stop-color="#e2e2e2"/><stop offset=".475" stop-color="#efefef"/><stop offset=".502" stop-color="#dcdcdc"/><stop offset=".506" stop-color="#d3d3d3"/><stop offset=".513" stop-color="#a0a0a0"/><stop offset=".517" stop-color="#8d8d8d"/><stop offset=".533" stop-color="#5e5e5e"/><stop offset=".560" stop-color="#3b3b3b"/><stop offset=".594" stop-color="#1f1f1f"/><stop offset=".679" stop-color="#131313"/><stop offset=".771" stop-color="#0f0f0f"/><stop offset=".998" stop-color="#0f0f0f"/></linearGradient><linearGradient id="gr152"><stop offset=".002" stop-color="#131313"/><stop offset=".090" stop-color="#141414"/><stop offset=".171" stop-color="#1b1b1b"/><stop offset=".244" stop-color="#151515"/><stop offset=".340" stop-color="#373737"/><stop offset=".379" stop-color="#414141"/><stop offset=".398" stop-color="#515151"/><stop offset=".417" stop-color="#757575"/><stop offset=".429" stop-color="#b1b1b1"/><stop offset=".433" stop-color="#bebebe"/><stop offset=".452" stop-color="#e2e2e2"/><stop offset=".475" stop-color="#efefef"/><stop offset=".502" stop-color="#dddddd"/><stop offset=".506" stop-color="#d4d4d4"/><stop offset=".513" stop-color="#a1a1a1"/><stop offset=".517" stop-color="#8f8f8f"/><stop offset=".533" stop-color="#5e5e5e"/><stop offset=".560" stop-color="#3c3c3c"/><stop offset=".594" stop-color="#202020"/><stop offset=".679" stop-color="#141414"/><stop offset=".763" stop-color="#101010"/><stop offset=".998" stop-color="#0f0f0f"/></linearGradient><linearGradient id="gr153"><stop offset=".002" stop-color="#161616"/><stop offset=".110" stop-color="#161616"/><stop offset=".171" stop-color="#1a1a1a"/><stop offset=".244" stop-color="#171717"/><stop offset=".340" stop-color="#383838"/><stop offset=".379" stop-color="#424242"/><stop offset=".398" stop-color="#515151"/><stop offset=".417" stop-color="#767676"/><stop offset=".429" stop-color="#b1b1b1"/><stop offset=".433" stop-color="#bfbfbf"/><stop offset=".452" stop-color="#e2e2e2"/><stop offset=".475" stop-color="#f0f0f0"/><stop offset=".502" stop-color="#dedede"/><stop offset=".506" stop-color="#d5d5d5"/><stop offset=".513" stop-color="#a3a3a3"/><stop offset=".517" stop-color="#909090"/><stop offset=".533" stop-color="#5f5f5f"/><stop offset=".560" stop-color="#3d3d3d"/><stop offset=".594" stop-color="#212121"/><stop offset=".679" stop-color="#141414"/><stop offset=".756" stop-color="#111111"/><stop offset=".825" stop-color="#0e0e0e"/><stop offset=".998" stop-color="#101010"/></linearGradient><linearGradient id="gr154"><stop offset=".002" stop-color="#1a1a1a"/><stop offset=".244" stop-color="#1a1a1a"/><stop offset=".340" stop-color="#3b3b3b"/><stop offset=".379" stop-color="#444444"/><stop offset=".398" stop-color="#535353"/><stop offset=".417" stop-color="#787878"/><stop offset=".429" stop-color="#b3b3b3"/><stop offset=".433" stop-color="#c0c0c0"/><stop offset=".452" stop-color="#e3e3e3"/><stop offset=".475" stop-color="#f1f1f1"/><stop offset=".502" stop-color="#dedede"/><stop offset=".506" stop-color="#d6d6d6"/><stop offset=".513" stop-color="#a4a4a4"/><stop offset=".517" stop-color="#919191"/><stop offset=".533" stop-color="#5f5f5f"/><stop offset=".560" stop-color="#3e3e3e"/><stop offset=".594" stop-color="#222222"/><stop offset=".679" stop-color="#151515"/><stop offset=".744" stop-color="#121212"/><stop offset=".825" stop-color="#0f0f0f"/><stop offset=".998" stop-color="#101010"/></linearGradient><linearGradient id="gr155"><stop offset=".002" stop-color="#1b1b1b"/><stop offset=".244" stop-color="#1e1e1e"/><stop offset=".340" stop-color="#3f3f3f"/><stop offset=".379" stop-color="#474747"/><stop offset=".398" stop-color="#565656"/><stop offset=".417" stop-color="#7b7b7b"/><stop offset=".429" stop-color="#b5b5b5"/><stop offset=".433" stop-color="#c2c2c2"/><stop offset=".448" stop-color="#dedede"/><stop offset=".456" stop-color="#e8e8e8"/><stop offset=".475" stop-color="#f2f2f2"/><stop offset=".502" stop-color="#dfdfdf"/><stop offset=".506" stop-color="#d7d7d7"/><stop offset=".513" stop-color="#a5a5a5"/><stop offset=".517" stop-color="#939393"/><stop offset=".533" stop-color="#606060"/><stop offset=".560" stop-color="#3e3e3e"/><stop offset=".594" stop-color="#222222"/><stop offset=".679" stop-color="#151515"/><stop offset=".729" stop-color="#131313"/><stop offset=".825" stop-color="#0f0f0f"/><stop offset=".998" stop-color="#111111"/></linearGradient><linearGradient id="gr156"><stop offset=".002" stop-color="#191919"/><stop offset=".244" stop-color="#202020"/><stop offset=".340" stop-color="#434343"/><stop offset=".379" stop-color="#4b4b4b"/><stop offset=".398" stop-color="#595959"/><stop offset=".417" stop-color="#7f7f7f"/><stop offset=".429" stop-color="#b9b9b9"/><stop offset=".433" stop-color="#c5c5c5"/><stop offset=".444" stop-color="#dadada"/><stop offset=".452" stop-color="#e7e7e7"/><stop offset=".475" stop-color="#f3f3f3"/><stop offset=".502" stop-color="#e0e0e0"/><stop offset=".506" stop-color="#d8d8d8"/><stop offset=".513" stop-color="#a7a7a7"/><stop offset=".517" stop-color="#949494"/><stop offset=".533" stop-color="#616161"/><stop offset=".560" stop-color="#3f3f3f"/><stop offset=".594" stop-color="#232323"/><stop offset=".679" stop-color="#161616"/><stop offset=".710" stop-color="#141414"/><stop offset=".825" stop-color="#101010"/><stop offset=".998" stop-color="#111111"/></linearGradient><linearGradient id="gr157"><stop offset=".002" stop-color="#151515"/><stop offset=".244" stop-color="#1f1f1f"/><stop offset=".340" stop-color="#454545"/><stop offset=".379" stop-color="#4d4d4d"/><stop offset=".398" stop-color="#5b5b5b"/><stop offset=".417" stop-color="#828282"/><stop offset=".429" stop-color="#bbbbbb"/><stop offset=".433" stop-color="#c7c7c7"/><stop offset=".452" stop-color="#e8e8e8"/><stop offset=".475" stop-color="#f4f4f4"/><stop offset=".502" stop-color="#e1e1e1"/><stop offset=".506" stop-color="#d9d9d9"/><stop offset=".513" stop-color="#a8a8a8"/><stop offset=".517" stop-color="#959595"/><stop offset=".533" stop-color="#616161"/><stop offset=".560" stop-color="#404040"/><stop offset=".594" stop-color="#242424"/><stop offset=".679" stop-color="#161616"/><stop offset=".825" stop-color="#101010"/><stop offset=".998" stop-color="#121212"/></linearGradient><linearGradient id="gr158"><stop offset=".002" stop-color="#131313"/><stop offset=".244" stop-color="#1c1c1c"/><stop offset=".340" stop-color="#434343"/><stop offset=".379" stop-color="#4c4c4c"/><stop offset=".398" stop-color="#5a5a5a"/><stop offset=".402" stop-color="#5f5f5f"/><stop offset=".417" stop-color="#828282"/><stop offset=".429" stop-color="#bababa"/><stop offset=".433" stop-color="#c7c7c7"/><stop offset=".452" stop-color="#e8e8e8"/><stop offset=".475" stop-color="#f4f4f4"/><stop offset=".502" stop-color="#e2e2e2"/><stop offset=".506" stop-color="#dadada"/><stop offset=".513" stop-color="#a9a9a9"/><stop offset=".517" stop-color="#969696"/><stop offset=".533" stop-color="#626262"/><stop offset=".560" stop-color="#404040"/><stop offset=".594" stop-color="#252525"/><stop offset=".679" stop-color="#161616"/><stop offset=".825" stop-color="#111111"/><stop offset=".998" stop-color="#121212"/></linearGradient><linearGradient id="gr159"><stop offset=".002" stop-color="#121212"/><stop offset=".244" stop-color="#191919"/><stop offset=".340" stop-color="#404040"/><stop offset=".379" stop-color="#484848"/><stop offset=".398" stop-color="#565656"/><stop offset=".406" stop-color="#656565"/><stop offset=".417" stop-color="#7f7f7f"/><stop offset=".429" stop-color="#b7b7b7"/><stop offset=".433" stop-color="#c4c4c4"/><stop offset=".452" stop-color="#e6e6e6"/><stop offset=".475" stop-color="#f4f4f4"/><stop offset=".502" stop-color="#e2e2e2"/><stop offset=".506" stop-color="#dadada"/><stop offset=".513" stop-color="#aaaaaa"/><stop offset=".517" stop-color="#989898"/><stop offset=".533" stop-color="#626262"/><stop offset=".537" stop-color="#5c5c5c"/><stop offset=".560" stop-color="#414141"/><stop offset=".594" stop-color="#252525"/><stop offset=".679" stop-color="#171717"/><stop offset=".825" stop-color="#111111"/><stop offset=".998" stop-color="#131313"/></linearGradient><linearGradient id="gr160"><stop offset=".002" stop-color="#111111"/><stop offset=".244" stop-color="#171717"/><stop offset=".340" stop-color="#3d3d3d"/><stop offset=".383" stop-color="#474747"/><stop offset=".398" stop-color="#525252"/><stop offset=".402" stop-color="#585858"/><stop offset=".417" stop-color="#7c7c7c"/><stop offset=".429" stop-color="#b4b4b4"/><stop offset=".433" stop-color="#c1c1c1"/><stop offset=".452" stop-color="#e4e4e4"/><stop offset=".475" stop-color="#f3f3f3"/><stop offset=".502" stop-color="#e3e3e3"/><stop offset=".506" stop-color="#dbdbdb"/><stop offset=".513" stop-color="#acacac"/><stop offset=".517" stop-color="#999999"/><stop offset=".533" stop-color="#636363"/><stop offset=".537" stop-color="#5c5c5c"/><stop offset=".560" stop-color="#424242"/><stop offset=".594" stop-color="#262626"/><stop offset=".679" stop-color="#171717"/><stop offset=".825" stop-color="#121212"/><stop offset=".998" stop-color="#131313"/></linearGradient><linearGradient id="gr161"><stop offset=".002" stop-color="#121212"/><stop offset=".244" stop-color="#171717"/><stop offset=".340" stop-color="#3d3d3d"/><stop offset=".383" stop-color="#464646"/><stop offset=".398" stop-color="#505050"/><stop offset=".402" stop-color="#565656"/><stop offset=".417" stop-color="#7a7a7a"/><stop offset=".429" stop-color="#b2b2b2"/><stop offset=".433" stop-color="#bfbfbf"/><stop offset=".452" stop-color="#e2e2e2"/><stop offset=".475" stop-color="#f2f2f2"/><stop offset=".479" stop-color="#f2f2f2"/><stop offset=".502" stop-color="#e4e4e4"/><stop offset=".506" stop-color="#dcdcdc"/><stop offset=".513" stop-color="#adadad"/><stop offset=".517" stop-color="#9a9a9a"/><stop offset=".533" stop-color="#636363"/><stop offset=".560" stop-color="#434343"/><stop offset=".594" stop-color="#272727"/><stop offset=".679" stop-color="#181818"/><stop offset=".825" stop-color="#121212"/><stop offset=".998" stop-color="#131313"/></linearGradient><linearGradient id="gr162"><stop offset=".002" stop-color="#171717"/><stop offset=".244" stop-color="#1b1b1b"/><stop offset=".340" stop-color="#3d3d3d"/><stop offset=".383" stop-color="#464646"/><stop offset=".398" stop-color="#515151"/><stop offset=".402" stop-color="#575757"/><stop offset=".417" stop-color="#7c7c7c"/><stop offset=".429" stop-color="#b2b2b2"/><stop offset=".433" stop-color="#bebebe"/><stop offset=".452" stop-color="#e0e0e0"/><stop offset=".475" stop-color="#ededed"/><stop offset=".502" stop-color="#dfdfdf"/><stop offset=".506" stop-color="#d8d8d8"/><stop offset=".513" stop-color="#ababab"/><stop offset=".517" stop-color="#999999"/><stop offset=".533" stop-color="#646464"/><stop offset=".537" stop-color="#5d5d5d"/><stop offset=".560" stop-color="#434343"/><stop offset=".594" stop-color="#2a2a2a"/><stop offset=".679" stop-color="#1d1d1d"/><stop offset=".825" stop-color="#181818"/><stop offset=".998" stop-color="#191919"/></linearGradient><linearGradient id="gr163"><stop offset=".002" stop-color="#1c1c1c"/><stop offset=".244" stop-color="#1f1f1f"/><stop offset=".340" stop-color="#3f3f3f"/><stop offset=".379" stop-color="#454545"/><stop offset=".398" stop-color="#525252"/><stop offset=".402" stop-color="#585858"/><stop offset=".417" stop-color="#7e7e7e"/><stop offset=".429" stop-color="#b2b2b2"/><stop offset=".433" stop-color="#bebebe"/><stop offset=".452" stop-color="#dedede"/><stop offset=".475" stop-color="#e9e9e9"/><stop offset=".502" stop-color="#dbdbdb"/><stop offset=".506" stop-color="#d4d4d4"/><stop offset=".513" stop-color="#aaaaaa"/><stop offset=".517" stop-color="#999999"/><stop offset=".533" stop-color="#646464"/><stop offset=".537" stop-color="#5d5d5d"/><stop offset=".560" stop-color="#444444"/><stop offset=".594" stop-color="#2d2d2d"/><stop offset=".679" stop-color="#212121"/><stop offset=".825" stop-color="#1d1d1d"/><stop offset=".998" stop-color="#1e1e1e"/></linearGradient><linearGradient id="gr164"><stop offset=".002" stop-color="#222222"/><stop offset=".244" stop-color="#242424"/><stop offset=".340" stop-color="#404040"/><stop offset=".379" stop-color="#464646"/><stop offset=".398" stop-color="#535353"/><stop offset=".402" stop-color="#595959"/><stop offset=".417" stop-color="#818181"/><stop offset=".429" stop-color="#b4b4b4"/><stop offset=".433" stop-color="#bfbfbf"/><stop offset=".452" stop-color="#dddddd"/><stop offset=".475" stop-color="#e5e5e5"/><stop offset=".502" stop-color="#d7d7d7"/><stop offset=".506" stop-color="#d0d0d0"/><stop offset=".513" stop-color="#a9a9a9"/><stop offset=".517" stop-color="#999999"/><stop offset=".533" stop-color="#646464"/><stop offset=".537" stop-color="#5e5e5e"/><stop offset=".560" stop-color="#444444"/><stop offset=".590" stop-color="#323232"/><stop offset=".679" stop-color="#262626"/><stop offset=".998" stop-color="#242424"/></linearGradient><linearGradient id="gr165"><stop offset=".002" stop-color="#272727"/><stop offset=".244" stop-color="#282828"/><stop offset=".340" stop-color="#414141"/><stop offset=".379" stop-color="#484848"/><stop offset=".398" stop-color="#555555"/><stop offset=".402" stop-color="#5b5b5b"/><stop offset=".417" stop-color="#848484"/><stop offset=".429" stop-color="#b5b5b5"/><stop offset=".433" stop-color="#c0c0c0"/><stop offset=".452" stop-color="#dedede"/><stop offset=".475" stop-color="#e2e2e2"/><stop offset=".502" stop-color="#d4d4d4"/><stop offset=".506" stop-color="#cecece"/><stop offset=".517" stop-color="#999999"/><stop offset=".533" stop-color="#656565"/><stop offset=".537" stop-color="#5f5f5f"/><stop offset=".560" stop-color="#454545"/><stop offset=".590" stop-color="#353535"/><stop offset=".679" stop-color="#2a2a2a"/><stop offset=".998" stop-color="#292929"/></linearGradient><linearGradient id="gr166"><stop offset=".002" stop-color="#2d2d2d"/><stop offset=".244" stop-color="#2d2d2d"/><stop offset=".379" stop-color="#494949"/><stop offset=".398" stop-color="#565656"/><stop offset=".402" stop-color="#5d5d5d"/><stop offset=".417" stop-color="#878787"/><stop offset=".429" stop-color="#b7b7b7"/><stop offset=".433" stop-color="#c2c2c2"/><stop offset=".452" stop-color="#dedede"/><stop offset=".456" stop-color="#dfdfdf"/><stop offset=".479" stop-color="#dedede"/><stop offset=".502" stop-color="#d1d1d1"/><stop offset=".506" stop-color="#cbcbcb"/><stop offset=".517" stop-color="#999999"/><stop offset=".533" stop-color="#666666"/><stop offset=".560" stop-color="#464646"/><stop offset=".590" stop-color="#383838"/><stop offset=".679" stop-color="#2f2f2f"/><stop offset=".998" stop-color="#2f2f2f"/></linearGradient><linearGradient id="gr167"><stop offset=".002" stop-color="#303030"/><stop offset=".244" stop-color="#303030"/><stop offset=".379" stop-color="#484848"/><stop offset=".398" stop-color="#565656"/><stop offset=".402" stop-color="#5d5d5d"/><stop offset=".417" stop-color="#858585"/><stop offset=".429" stop-color="#a9a9a9"/><stop offset=".433" stop-color="#b1b1b1"/><stop offset=".452" stop-color="#c4c4c4"/><stop offset=".456" stop-color="#c4c4c4"/><stop offset=".479" stop-color="#c3c3c3"/><stop offset=".502" stop-color="#b6b6b6"/><stop offset=".506" stop-color="#b1b1b1"/><stop offset=".517" stop-color="#8a8a8a"/><stop offset=".533" stop-color="#616161"/><stop offset=".560" stop-color="#464646"/><stop offset=".590" stop-color="#383838"/><stop offset=".679" stop-color="#313131"/><stop offset=".998" stop-color="#323232"/></linearGradient><linearGradient id="gr168"><stop offset=".002" stop-color="#343434"/><stop offset=".244" stop-color="#343434"/><stop offset=".379" stop-color="#484848"/><stop offset=".398" stop-color="#565656"/><stop offset=".402" stop-color="#5c5c5c"/><stop offset=".417" stop-color="#828282"/><stop offset=".429" stop-color="#9b9b9b"/><stop offset=".433" stop-color="#a0a0a0"/><stop offset=".456" stop-color="#aaaaaa"/><stop offset=".479" stop-color="#a9a9a9"/><stop offset=".502" stop-color="#9c9c9c"/><stop offset=".506" stop-color="#979797"/><stop offset=".517" stop-color="#7b7b7b"/><stop offset=".533" stop-color="#5d5d5d"/><stop offset=".560" stop-color="#474747"/><stop offset=".594" stop-color="#373737"/><stop offset=".679" stop-color="#343434"/><stop offset=".998" stop-color="#343434"/></linearGradient><linearGradient id="gr169"><stop offset=".002" stop-color="#383838"/><stop offset=".244" stop-color="#383838"/><stop offset=".344" stop-color="#404040"/><stop offset=".379" stop-color="#474747"/><stop offset=".398" stop-color="#565656"/><stop offset=".402" stop-color="#5c5c5c"/><stop offset=".417" stop-color="#7f7f7f"/><stop offset=".433" stop-color="#8f8f8f"/><stop offset=".479" stop-color="#8e8e8e"/><stop offset=".506" stop-color="#7e7e7e"/><stop offset=".537" stop-color="#565656"/><stop offset=".594" stop-color="#373737"/><stop offset=".998" stop-color="#373737"/></linearGradient><linearGradient id="gr170"><stop offset=".002" stop-color="#303030"/><stop offset=".244" stop-color="#303030"/><stop offset=".344" stop-color="#343434"/><stop offset=".379" stop-color="#383838"/><stop offset=".398" stop-color="#3f3f3f"/><stop offset=".417" stop-color="#545454"/><stop offset=".433" stop-color="#5c5c5c"/><stop offset=".479" stop-color="#5b5b5b"/><stop offset=".506" stop-color="#535353"/><stop offset=".537" stop-color="#3f3f3f"/><stop offset=".594" stop-color="#2f2f2f"/><stop offset=".998" stop-color="#2f2f2f"/></linearGradient><linearGradient id="gr172"><stop offset=".002" stop-color="#202020"/><stop offset=".244" stop-color="#202020"/><stop offset=".344" stop-color="#1c1c1c"/><stop offset=".383" stop-color="#171717"/><stop offset=".398" stop-color="#111111"/><stop offset=".413" stop-color="#000000"/><stop offset=".417" stop-color="#000000"/><stop offset=".510" stop-color="#000000"/><stop offset=".537" stop-color="#111111"/><stop offset=".594" stop-color="#1f1f1f"/><stop offset=".998" stop-color="#1f1f1f"/></linearGradient><linearGradient id="cbl"><stop offset="0.000" stop-color="#000000"/><stop offset="0.110" stop-color="#1e1216"/><stop offset="0.220" stop-color="#452028"/><stop offset="0.330" stop-color="#6e2e2c"/><stop offset="0.435" stop-color="#8e3a2c"/><stop offset="0.500" stop-color="#a84c28"/><stop offset="0.610" stop-color="#c46a20"/><stop offset="0.717" stop-color="#d88c22"/><stop offset="0.826" stop-color="#e4b030"/><stop offset="0.935" stop-color="#f2d544"/><stop offset="1.000" stop-color="#f8f058"/></linearGradient><linearGradient id="cbr"><stop offset="0.000" stop-color="#000000"/><stop offset="0.110" stop-color="#1e1216"/><stop offset="0.220" stop-color="#452028"/><stop offset="0.330" stop-color="#6e2e2c"/><stop offset="0.435" stop-color="#8e3a2c"/><stop offset="0.500" stop-color="#a84c28"/><stop offset="0.610" stop-color="#c46a20"/><stop offset="0.717" stop-color="#d88c22"/><stop offset="0.826" stop-color="#e4b030"/><stop offset="0.935" stop-color="#f2d544"/><stop offset="1.000" stop-color="#f8f058"/></linearGradient></defs><rect width="100%" height="100%" fill="#fff"/><g clip-path="url(#cBL)"><rect x="156.5" y="584.5" width="1039" height="688" fill="#000"/><g filter="url(#fl)"><rect x="156" y="612" width="1040" height="4" fill="url(#gl7)"/><rect x="156" y="616" width="1040" height="4" fill="url(#gl8)"/><rect x="156" y="620" width="1040" height="4" fill="url(#gl9)"/><rect x="156" y="624" width="1040" height="4" fill="url(#gl10)"/><rect x="156" y="628" width="1040" height="4" fill="url(#gl11)"/><rect x="156" y="632" width="1040" height="4" fill="url(#gl12)"/><rect x="156" y="636" width="1040" height="4" fill="url(#gl13)"/><rect x="156" y="640" width="1040" height="4" fill="url(#gl14)"/><rect x="156" y="644" width="1040" height="4" fill="url(#gl15)"/><rect x="156" y="648" width="1040" height="4" fill="url(#gl16)"/><rect x="156" y="652" width="1040" height="4" fill="url(#gl17)"/><rect x="156" y="656" width="1040" height="4" fill="url(#gl18)"/><rect x="156" y="660" width="1040" height="4" fill="url(#gl19)"/><rect x="156" y="664" width="1040" height="4" fill="url(#gl20)"/><rect x="156" y="668" width="1040" height="4" fill="url(#gl21)"/><rect x="156" y="672" width="1040" height="4" fill="url(#gl22)"/><rect x="156" y="676" width="1040" height="4" fill="url(#gl23)"/><rect x="156" y="680" width="1040" height="4" fill="url(#gl24)"/><rect x="156" y="684" width="1040" height="4" fill="url(#gl25)"/><rect x="156" y="688" width="1040" height="4" fill="url(#gl26)"/><rect x="156" y="692" width="1040" height="4" fill="url(#gl27)"/><rect x="156" y="696" width="1040" height="4" fill="url(#gl28)"/><rect x="156" y="700" width="1040" height="4" fill="url(#gl29)"/><rect x="156" y="704" width="1040" height="4" fill="url(#gl30)"/><rect x="156" y="708" width="1040" height="4" fill="url(#gl31)"/><rect x="156" y="712" width="1040" height="4" fill="url(#gl32)"/><rect x="156" y="716" width="1040" height="4" fill="url(#gl33)"/><rect x="156" y="720" width="1040" height="4" fill="url(#gl34)"/><rect x="156" y="724" width="1040" height="4" fill="url(#gl35)"/><rect x="156" y="728" width="1040" height="4" fill="url(#gl36)"/><rect x="156" y="732" width="1040" height="4" fill="url(#gl37)"/><rect x="156" y="736" width="1040" height="4" fill="url(#gl38)"/><rect x="156" y="740" width="1040" height="4" fill="url(#gl39)"/><rect x="156" y="744" width="1040" height="4" fill="url(#gl40)"/><rect x="156" y="748" width="1040" height="4" fill="url(#gl41)"/><rect x="156" y="752" width="1040" height="4" fill="url(#gl42)"/><rect x="156" y="756" width="1040" height="4" fill="url(#gl43)"/><rect x="156" y="760" width="1040" height="4" fill="url(#gl44)"/><rect x="156" y="764" width="1040" height="4" fill="url(#gl45)"/><rect x="156" y="768" width="1040" height="4" fill="url(#gl46)"/><rect x="156" y="772" width="1040" height="4" fill="url(#gl47)"/><rect x="156" y="776" width="1040" height="4" fill="url(#gl48)"/><rect x="156" y="780" width="1040" height="4" fill="url(#gl49)"/><rect x="156" y="784" width="1040" height="4" fill="url(#gl50)"/><rect x="156" y="788" width="1040" height="4" fill="url(#gl51)"/><rect x="156" y="792" width="1040" height="4" fill="url(#gl52)"/><rect x="156" y="796" width="1040" height="4" fill="url(#gl53)"/><rect x="156" y="800" width="1040" height="4" fill="url(#gl54)"/><rect x="156" y="804" width="1040" height="4" fill="url(#gl55)"/><rect x="156" y="808" width="1040" height="4" fill="url(#gl56)"/><rect x="156" y="812" width="1040" height="4" fill="url(#gl57)"/><rect x="156" y="816" width="1040" height="4" fill="url(#gl58)"/><rect x="156" y="820" width="1040" height="4" fill="url(#gl59)"/><rect x="156" y="824" width="1040" height="4" fill="url(#gl60)"/><rect x="156" y="828" width="1040" height="4" fill="url(#gl61)"/><rect x="156" y="832" width="1040" height="4" fill="url(#gl62)"/><rect x="156" y="836" width="1040" height="4" fill="url(#gl63)"/><rect x="156" y="840" width="1040" height="4" fill="url(#gl64)"/><rect x="156" y="844" width="1040" height="4" fill="url(#gl65)"/><rect x="156" y="848" width="1040" height="4" fill="url(#gl66)"/><rect x="156" y="852" width="1040" height="4" fill="url(#gl67)"/><rect x="156" y="856" width="1040" height="4" fill="url(#gl68)"/><rect x="156" y="860" width="1040" height="4" fill="url(#gl69)"/><rect x="156" y="864" width="1040" height="4" fill="url(#gl70)"/><rect x="156" y="868" width="1040" height="4" fill="url(#gl71)"/><rect x="156" y="872" width="1040" height="4" fill="url(#gl72)"/><rect x="156" y="876" width="1040" height="4" fill="url(#gl73)"/><rect x="156" y="880" width="1040" height="4" fill="url(#gl74)"/><rect x="156" y="884" width="1040" height="4" fill="url(#gl75)"/><rect x="156" y="888" width="1040" height="4" fill="url(#gl76)"/><rect x="156" y="892" width="1040" height="4" fill="url(#gl77)"/><rect x="156" y="896" width="1040" height="4" fill="url(#gl78)"/><rect x="156" y="900" width="1040" height="4" fill="url(#gl79)"/><rect x="156" y="904" width="1040" height="4" fill="url(#gl80)"/><rect x="156" y="908" width="1040" height="4" fill="url(#gl81)"/><rect x="156" y="912" width="1040" height="4" fill="url(#gl82)"/><rect x="156" y="916" width="1040" height="4" fill="url(#gl83)"/><rect x="156" y="920" width="1040" height="4" fill="url(#gl84)"/><rect x="156" y="924" width="1040" height="4" fill="url(#gl85)"/><rect x="156" y="928" width="1040" height="4" fill="url(#gl86)"/><rect x="156" y="932" width="1040" height="4" fill="url(#gl87)"/><rect x="156" y="936" width="1040" height="4" fill="url(#gl88)"/><rect x="156" y="940" width="1040" height="4" fill="url(#gl89)"/><rect x="156" y="944" width="1040" height="4" fill="url(#gl90)"/><rect x="156" y="948" width="1040" height="4" fill="url(#gl91)"/><rect x="156" y="952" width="1040" height="4" fill="url(#gl92)"/><rect x="156" y="956" width="1040" height="4" fill="url(#gl93)"/><rect x="156" y="960" width="1040" height="4" fill="url(#gl94)"/><rect x="156" y="964" width="1040" height="4" fill="url(#gl95)"/><rect x="156" y="968" width="1040" height="4" fill="url(#gl96)"/><rect x="156" y="972" width="1040" height="4" fill="url(#gl97)"/><rect x="156" y="976" width="1040" height="4" fill="url(#gl98)"/><rect x="156" y="980" width="1040" height="4" fill="url(#gl99)"/><rect x="156" y="984" width="1040" height="4" fill="url(#gl100)"/><rect x="156" y="988" width="1040" height="4" fill="url(#gl101)"/><rect x="156" y="992" width="1040" height="4" fill="url(#gl102)"/><rect x="156" y="996" width="1040" height="4" fill="url(#gl103)"/><rect x="156" y="1000" width="1040" height="4" fill="url(#gl104)"/><rect x="156" y="1004" width="1040" height="4" fill="url(#gl105)"/><rect x="156" y="1008" width="1040" height="4" fill="url(#gl106)"/><rect x="156" y="1012" width="1040" height="4" fill="url(#gl107)"/><rect x="156" y="1016" width="1040" height="4" fill="url(#gl108)"/><rect x="156" y="1020" width="1040" height="4" fill="url(#gl109)"/><rect x="156" y="1024" width="1040" height="4" fill="url(#gl110)"/><rect x="156" y="1028" width="1040" height="4" fill="url(#gl111)"/><rect x="156" y="1032" width="1040" height="4" fill="url(#gl112)"/><rect x="156" y="1036" width="1040" height="4" fill="url(#gl113)"/><rect x="156" y="1040" width="1040" height="4" fill="url(#gl114)"/><rect x="156" y="1044" width="1040" height="4" fill="url(#gl115)"/><rect x="156" y="1048" width="1040" height="4" fill="url(#gl116)"/><rect x="156" y="1052" width="1040" height="4" fill="url(#gl117)"/><rect x="156" y="1056" width="1040" height="4" fill="url(#gl118)"/><rect x="156" y="1060" width="1040" height="4" fill="url(#gl119)"/><rect x="156" y="1064" width="1040" height="4" fill="url(#gl120)"/><rect x="156" y="1068" width="1040" height="4" fill="url(#gl121)"/><rect x="156" y="1072" width="1040" height="4" fill="url(#gl122)"/><rect x="156" y="1076" width="1040" height="4" fill="url(#gl123)"/><rect x="156" y="1080" width="1040" height="4" fill="url(#gl124)"/><rect x="156" y="1084" width="1040" height="4" fill="url(#gl125)"/><rect x="156" y="1088" width="1040" height="4" fill="url(#gl126)"/><rect x="156" y="1092" width="1040" height="4" fill="url(#gl127)"/><rect x="156" y="1096" width="1040" height="4" fill="url(#gl128)"/><rect x="156" y="1100" width="1040" height="4" fill="url(#gl129)"/><rect x="156" y="1104" width="1040" height="4" fill="url(#gl130)"/><rect x="156" y="1108" width="1040" height="4" fill="url(#gl131)"/><rect x="156" y="1112" width="1040" height="4" fill="url(#gl132)"/><rect x="156" y="1116" width="1040" height="4" fill="url(#gl133)"/><rect x="156" y="1120" width="1040" height="4" fill="url(#gl134)"/><rect x="156" y="1124" width="1040" height="4" fill="url(#gl135)"/><rect x="156" y="1128" width="1040" height="4" fill="url(#gl136)"/><rect x="156" y="1132" width="1040" height="4" fill="url(#gl137)"/><rect x="156" y="1136" width="1040" height="4" fill="url(#gl138)"/><rect x="156" y="1140" width="1040" height="4" fill="url(#gl139)"/><rect x="156" y="1144" width="1040" height="4" fill="url(#gl140)"/><rect x="156" y="1148" width="1040" height="4" fill="url(#gl141)"/><rect x="156" y="1152" width="1040" height="4" fill="url(#gl142)"/><rect x="156" y="1156" width="1040" height="4" fill="url(#gl143)"/><rect x="156" y="1160" width="1040" height="4" fill="url(#gl144)"/><rect x="156" y="1164" width="1040" height="4" fill="url(#gl145)"/><rect x="156" y="1168" width="1040" height="4" fill="url(#gl146)"/><rect x="156" y="1172" width="1040" height="4" fill="url(#gl147)"/><rect x="156" y="1176" width="1040" height="4" fill="url(#gl148)"/><rect x="156" y="1180" width="1040" height="4" fill="url(#gl149)"/><rect x="156" y="1184" width="1040" height="4" fill="url(#gl150)"/><rect x="156" y="1188" width="1040" height="4" fill="url(#gl151)"/><rect x="156" y="1192" width="1040" height="4" fill="url(#gl152)"/><rect x="156" y="1196" width="1040" height="4" fill="url(#gl153)"/><rect x="156" y="1200" width="1040" height="4" fill="url(#gl154)"/><rect x="156" y="1204" width="1040" height="4" fill="url(#gl155)"/><rect x="156" y="1208" width="1040" height="4" fill="url(#gl156)"/><rect x="156" y="1212" width="1040" height="4" fill="url(#gl157)"/><rect x="156" y="1216" width="1040" height="4" fill="url(#gl158)"/><rect x="156" y="1220" width="1040" height="4" fill="url(#gl159)"/><rect x="156" y="1224" width="1040" height="4" fill="url(#gl160)"/><rect x="156" y="1228" width="1040" height="4" fill="url(#gl161)"/><rect x="156" y="1232" width="1040" height="4" fill="url(#gl162)"/><rect x="156" y="1236" width="1040" height="4" fill="url(#gl163)"/><rect x="156" y="1240" width="1040" height="4" fill="url(#gl164)"/><rect x="156" y="1244" width="1040" height="4" fill="url(#gl165)"/><rect x="156" y="1248" width="1040" height="4" fill="url(#gl166)"/><rect x="156" y="1252" width="1040" height="4" fill="url(#gl167)"/><rect x="156" y="1256" width="1040" height="4" fill="url(#gl168)"/><rect x="156" y="1260" width="1040" height="4" fill="url(#gl169)"/><rect x="156" y="1264" width="1040" height="4" fill="url(#gl170)"/><rect x="474.6" y="584.5" width="2" height="688" fill="#000" opacity="0.31"/><rect x="416.6" y="584.5" width="1" height="688" fill="#000" opacity="0.15"/><rect x="938.4" y="584.5" width="1.5" height="688" fill="#000" opacity="0.15"/><rect x="950.0" y="584.5" width="1" height="688" fill="#000" opacity="0.32"/><rect x="614.0" y="584.5" width="1" height="688" fill="#000" opacity="0.33"/><rect x="559.7" y="584.5" width="1.5" height="688" fill="#000" opacity="0.15"/><rect x="857.1" y="584.5" width="1" height="688" fill="#000" opacity="0.28"/><rect x="873.7" y="584.5" width="1.5" height="688" fill="#000" opacity="0.29"/><rect x="968.9" y="584.5" width="1" height="688" fill="#000" opacity="0.29"/><rect x="680.5" y="584.5" width="1" height="688" fill="#000" opacity="0.22"/><rect x="743.1" y="584.5" width="1.5" height="688" fill="#000" opacity="0.38"/><rect x="903.1" y="584.5" width="1" height="688" fill="#000" opacity="0.15"/><rect x="670.9" y="584.5" width="1.5" height="688" fill="#000" opacity="0.13"/><rect x="919.6" y="584.5" width="1" height="688" fill="#000" opacity="0.25"/><rect x="485.7" y="584.5" width="2" height="688" fill="#000" opacity="0.17"/><rect x="922.8" y="584.5" width="1.5" height="688" fill="#000" opacity="0.18"/><rect x="419.2" y="584.5" width="1" height="688" fill="#000" opacity="0.22"/><rect x="672.0" y="584.5" width="1" height="688" fill="#000" opacity="0.42"/><rect x="804.5" y="584.5" width="1.5" height="688" fill="#000" opacity="0.11"/><rect x="492.7" y="584.5" width="1" height="688" fill="#000" opacity="0.45"/><rect x="666.6" y="584.5" width="2" height="688" fill="#000" opacity="0.12"/><rect x="419.7" y="584.5" width="1.5" height="688" fill="#000" opacity="0.40"/><rect x="741.0" y="584.5" width="1" height="688" fill="#000" opacity="0.21"/><rect x="451.8" y="584.5" width="1" height="688" fill="#000" opacity="0.16"/><rect x="414.3" y="584.5" width="1" height="688" fill="#000" opacity="0.26"/><rect x="473.8" y="584.5" width="2" height="688" fill="#000" opacity="0.36"/><rect x="513.5" y="584.5" width="2" height="688" fill="#000" opacity="0.31"/><rect x="919.5" y="584.5" width="1" height="688" fill="#000" opacity="0.11"/><rect x="867.0" y="584.5" width="1.5" height="688" fill="#000" opacity="0.13"/><rect x="410.4" y="584.5" width="1" height="688" fill="#000" opacity="0.20"/><rect x="821.7" y="584.5" width="1.5" height="688" fill="#000" opacity="0.40"/><rect x="526.0" y="584.5" width="1" height="688" fill="#000" opacity="0.21"/><rect x="549.7" y="584.5" width="1" height="688" fill="#000" opacity="0.43"/><rect x="597.6" y="584.5" width="2" height="688" fill="#000" opacity="0.25"/><rect x="582.3" y="584.5" width="2" height="688" fill="#000" opacity="0.11"/><rect x="439.1" y="584.5" width="1.5" height="688" fill="#000" opacity="0.24"/><rect x="542.2" y="584.5" width="1" height="688" fill="#000" opacity="0.36"/><rect x="716.6" y="584.5" width="2" height="688" fill="#000" opacity="0.33"/><rect x="801.5" y="584.5" width="2" height="688" fill="#000" opacity="0.42"/><rect x="486.8" y="584.5" width="2" height="688" fill="#000" opacity="0.32"/><rect x="483.3" y="584.5" width="1.5" height="688" fill="#000" opacity="0.38"/><rect x="918.9" y="584.5" width="1" height="688" fill="#000" opacity="0.37"/><rect x="420.5" y="584.5" width="1" height="688" fill="#000" opacity="0.16"/><rect x="979.3" y="584.5" width="1" height="688" fill="#000" opacity="0.15"/><rect x="541.7" y="584.5" width="2" height="688" fill="#000" opacity="0.12"/><rect x="904.8" y="584.5" width="1" height="688" fill="#000" opacity="0.32"/><rect x="492.7" y="584.5" width="1" height="688" fill="#000" opacity="0.13"/><rect x="754.4" y="584.5" width="1" height="688" fill="#000" opacity="0.18"/><rect x="422.4" y="584.5" width="1.5" height="688" fill="#000" opacity="0.29"/><rect x="769.4" y="584.5" width="1" height="688" fill="#000" opacity="0.21"/><rect x="773.2" y="584.5" width="1" height="688" fill="#000" opacity="0.15"/><rect x="582.8" y="584.5" width="1" height="688" fill="#000" opacity="0.24"/><rect x="929.3" y="584.5" width="1.5" height="688" fill="#000" opacity="0.13"/><rect x="725.7" y="584.5" width="1" height="688" fill="#000" opacity="0.44"/><rect x="926.2" y="584.5" width="1" height="688" fill="#000" opacity="0.12"/><rect x="867.7" y="584.5" width="1.5" height="688" fill="#000" opacity="0.34"/><rect x="483.5" y="584.5" width="2" height="688" fill="#000" opacity="0.12"/><rect x="865.1" y="584.5" width="1" height="688" fill="#000" opacity="0.35"/><rect x="866.7" y="584.5" width="2" height="688" fill="#000" opacity="0.19"/><rect x="858.0" y="584.5" width="2" height="688" fill="#000" opacity="0.19"/><rect x="480.0" y="584.5" width="1" height="688" fill="#000" opacity="0.27"/><rect x="565.8" y="584.5" width="1" height="688" fill="#000" opacity="0.31"/><rect x="749.5" y="584.5" width="1" height="688" fill="#000" opacity="0.32"/><rect x="607.2" y="584.5" width="1" height="688" fill="#000" opacity="0.36"/><rect x="568.4" y="584.5" width="1" height="688" fill="#000" opacity="0.25"/><rect x="720.9" y="584.5" width="2" height="688" fill="#000" opacity="0.34"/><rect x="700.7" y="584.5" width="1" height="688" fill="#000" opacity="0.44"/><rect x="455.7" y="584.5" width="1" height="688" fill="#000" opacity="0.21"/><rect x="718.5" y="584.5" width="1.5" height="688" fill="#000" opacity="0.15"/><rect x="863.6" y="584.5" width="1" height="688" fill="#000" opacity="0.37"/><rect x="769.4" y="584.5" width="1.5" height="688" fill="#000" opacity="0.36"/><rect x="573.3" y="584.5" width="2" height="688" fill="#000" opacity="0.33"/><rect x="597.2" y="584.5" width="1" height="688" fill="#000" opacity="0.23"/><rect x="488.9" y="584.5" width="1.5" height="688" fill="#000" opacity="0.41"/><rect x="800.4" y="584.5" width="1.5" height="688" fill="#000" opacity="0.30"/><rect x="854.1" y="584.5" width="1.5" height="688" fill="#000" opacity="0.26"/><rect x="728.2" y="584.5" width="1" height="688" fill="#000" opacity="0.29"/><rect x="872.5" y="584.5" width="1" height="688" fill="#000" opacity="0.35"/><rect x="865.8" y="584.5" width="1" height="688" fill="#000" opacity="0.41"/><rect x="462.8" y="584.5" width="1" height="688" fill="#000" opacity="0.41"/><rect x="615.3" y="584.5" width="2" height="688" fill="#000" opacity="0.32"/><rect x="663.8" y="584.5" width="1" height="688" fill="#000" opacity="0.25"/><rect x="894.2" y="584.5" width="2" height="688" fill="#000" opacity="0.32"/><rect x="640.0" y="584.5" width="1" height="688" fill="#000" opacity="0.28"/><rect x="689.7" y="584.5" width="1" height="688" fill="#000" opacity="0.28"/><rect x="900.0" y="584.5" width="1" height="688" fill="#000" opacity="0.16"/><rect x="406.7" y="584.5" width="2" height="688" fill="#000" opacity="0.26"/><rect x="965.2" y="584.5" width="1" height="688" fill="#000" opacity="0.12"/><rect x="974.7" y="584.5" width="1" height="688" fill="#000" opacity="0.14"/><rect x="642.8" y="584.5" width="1.5" height="688" fill="#000" opacity="0.17"/><rect x="814.2" y="584.5" width="2" height="688" fill="#000" opacity="0.20"/><rect x="548.1" y="584.5" width="1.5" height="688" fill="#000" opacity="0.40"/><rect x="844.4" y="584.5" width="1.5" height="688" fill="#000" opacity="0.24"/><rect x="827.7" y="584.5" width="1" height="688" fill="#000" opacity="0.44"/><rect x="446.2" y="584.5" width="2" height="688" fill="#000" opacity="0.23"/><rect x="694.5" y="584.5" width="1" height="688" fill="#000" opacity="0.12"/><rect x="431.0" y="584.5" width="1" height="688" fill="#000" opacity="0.24"/><rect x="828.8" y="584.5" width="1" height="688" fill="#000" opacity="0.31"/><rect x="416.9" y="584.5" width="1.5" height="688" fill="#000" opacity="0.26"/><rect x="907.4" y="584.5" width="1" height="688" fill="#000" opacity="0.42"/><rect x="611.8" y="584.5" width="1.5" height="688" fill="#000" opacity="0.43"/><rect x="635.8" y="584.5" width="2" height="688" fill="#000" opacity="0.36"/><rect x="611.9" y="584.5" width="1" height="688" fill="#000" opacity="0.30"/><rect x="450.1" y="584.5" width="1" height="688" fill="#000" opacity="0.33"/><rect x="869.3" y="584.5" width="1.5" height="688" fill="#000" opacity="0.26"/><rect x="468.1" y="584.5" width="2" height="688" fill="#000" opacity="0.42"/><rect x="904.8" y="584.5" width="1.5" height="688" fill="#000" opacity="0.31"/><rect x="790.6" y="584.5" width="2" height="688" fill="#000" opacity="0.23"/><rect x="506.2" y="584.5" width="1.5" height="688" fill="#000" opacity="0.35"/><rect x="588.5" y="584.5" width="1" height="688" fill="#000" opacity="0.34"/><rect x="516.0" y="584.5" width="1.5" height="688" fill="#000" opacity="0.75"/><rect x="566.0" y="584.5" width="1.5" height="688" fill="#000" opacity="0.70"/><rect x="812.5" y="584.5" width="1.5" height="688" fill="#000" opacity="0.70"/><rect x="933.0" y="584.5" width="1" height="688" fill="#000" opacity="0.50"/><rect x="1001.0" y="584.5" width="1" height="688" fill="#000" opacity="0.40"/></g><rect x="160" y="744" width="61" height="8" fill="#ffff00"/><rect x="221" y="744" width="971" height="8" fill="#fff"/><rect x="160" y="761" width="61" height="18" fill="#ffff00"/><rect x="221" y="761" width="971" height="18" fill="#fff"/></g><g clip-path="url(#cBR)"><rect x="1344.5" y="584.5" width="1039" height="688" fill="#000"/><g filter="url(#fr)"><rect x="1344" y="588" width="1040" height="4" fill="url(#gr1)"/><rect x="1344" y="592" width="1040" height="4" fill="url(#gr2)"/><rect x="1344" y="596" width="1040" height="4" fill="url(#gr3)"/><rect x="1344" y="600" width="1040" height="4" fill="url(#gr4)"/><rect x="1344" y="604" width="1040" height="4" fill="url(#gr5)"/><rect x="1344" y="608" width="1040" height="4" fill="url(#gr6)"/><rect x="1344" y="612" width="1040" height="4" fill="url(#gr7)"/><rect x="1344" y="616" width="1040" height="4" fill="url(#gr8)"/><rect x="1344" y="620" width="1040" height="4" fill="url(#gr9)"/><rect x="1344" y="624" width="1040" height="4" fill="url(#gr10)"/><rect x="1344" y="628" width="1040" height="4" fill="url(#gr11)"/><rect x="1344" y="632" width="1040" height="4" fill="url(#gr12)"/><rect x="1344" y="636" width="1040" height="4" fill="url(#gr13)"/><rect x="1344" y="640" width="1040" height="4" fill="url(#gr14)"/><rect x="1344" y="644" width="1040" height="4" fill="url(#gr15)"/><rect x="1344" y="648" width="1040" height="4" fill="url(#gr16)"/><rect x="1344" y="652" width="1040" height="4" fill="url(#gr17)"/><rect x="1344" y="656" width="1040" height="4" fill="url(#gr18)"/><rect x="1344" y="660" width="1040" height="4" fill="url(#gr19)"/><rect x="1344" y="664" width="1040" height="4" fill="url(#gr20)"/><rect x="1344" y="668" width="1040" height="4" fill="url(#gr21)"/><rect x="1344" y="672" width="1040" height="4" fill="url(#gr22)"/><rect x="1344" y="676" width="1040" height="4" fill="url(#gr23)"/><rect x="1344" y="680" width="1040" height="4" fill="url(#gr24)"/><rect x="1344" y="684" width="1040" height="4" fill="url(#gr25)"/><rect x="1344" y="688" width="1040" height="4" fill="url(#gr26)"/><rect x="1344" y="692" width="1040" height="4" fill="url(#gr27)"/><rect x="1344" y="696" width="1040" height="4" fill="url(#gr28)"/><rect x="1344" y="700" width="1040" height="4" fill="url(#gr29)"/><rect x="1344" y="704" width="1040" height="4" fill="url(#gr30)"/><rect x="1344" y="708" width="1040" height="4" fill="url(#gr31)"/><rect x="1344" y="712" width="1040" height="4" fill="url(#gr32)"/><rect x="1344" y="716" width="1040" height="4" fill="url(#gr33)"/><rect x="1344" y="720" width="1040" height="4" fill="url(#gr34)"/><rect x="1344" y="724" width="1040" height="4" fill="url(#gr35)"/><rect x="1344" y="728" width="1040" height="4" fill="url(#gr36)"/><rect x="1344" y="732" width="1040" height="4" fill="url(#gr37)"/><rect x="1344" y="736" width="1040" height="4" fill="url(#gr38)"/><rect x="1344" y="740" width="1040" height="4" fill="url(#gr39)"/><rect x="1344" y="744" width="1040" height="4" fill="url(#gr40)"/><rect x="1344" y="748" width="1040" height="4" fill="url(#gr41)"/><rect x="1344" y="752" width="1040" height="4" fill="url(#gr42)"/><rect x="1344" y="756" width="1040" height="4" fill="url(#gr43)"/><rect x="1344" y="760" width="1040" height="4" fill="url(#gr44)"/><rect x="1344" y="764" width="1040" height="4" fill="url(#gr45)"/><rect x="1344" y="768" width="1040" height="4" fill="url(#gr46)"/><rect x="1344" y="772" width="1040" height="4" fill="url(#gr47)"/><rect x="1344" y="776" width="1040" height="4" fill="url(#gr48)"/><rect x="1344" y="780" width="1040" height="4" fill="url(#gr49)"/><rect x="1344" y="784" width="1040" height="4" fill="url(#gr50)"/><rect x="1344" y="788" width="1040" height="4" fill="url(#gr51)"/><rect x="1344" y="792" width="1040" height="4" fill="url(#gr52)"/><rect x="1344" y="796" width="1040" height="4" fill="url(#gr53)"/><rect x="1344" y="800" width="1040" height="4" fill="url(#gr54)"/><rect x="1344" y="804" width="1040" height="4" fill="url(#gr55)"/><rect x="1344" y="808" width="1040" height="4" fill="url(#gr56)"/><rect x="1344" y="812" width="1040" height="4" fill="url(#gr57)"/><rect x="1344" y="816" width="1040" height="4" fill="url(#gr58)"/><rect x="1344" y="820" width="1040" height="4" fill="url(#gr59)"/><rect x="1344" y="824" width="1040" height="4" fill="url(#gr60)"/><rect x="1344" y="828" width="1040" height="4" fill="url(#gr61)"/><rect x="1344" y="832" width="1040" height="4" fill="url(#gr62)"/><rect x="1344" y="836" width="1040" height="4" fill="url(#gr63)"/><rect x="1344" y="840" width="1040" height="4" fill="url(#gr64)"/><rect x="1344" y="844" width="1040" height="4" fill="url(#gr65)"/><rect x="1344" y="848" width="1040" height="4" fill="url(#gr66)"/><rect x="1344" y="852" width="1040" height="4" fill="url(#gr67)"/><rect x="1344" y="856" width="1040" height="4" fill="url(#gr68)"/><rect x="1344" y="860" width="1040" height="4" fill="url(#gr69)"/><rect x="1344" y="864" width="1040" height="4" fill="url(#gr70)"/><rect x="1344" y="868" width="1040" height="4" fill="url(#gr71)"/><rect x="1344" y="872" width="1040" height="4" fill="url(#gr72)"/><rect x="1344" y="876" width="1040" height="4" fill="url(#gr73)"/><rect x="1344" y="880" width="1040" height="4" fill="url(#gr74)"/><rect x="1344" y="884" width="1040" height="4" fill="url(#gr75)"/><rect x="1344" y="888" width="1040" height="4" fill="url(#gr76)"/><rect x="1344" y="892" width="1040" height="4" fill="url(#gr77)"/><rect x="1344" y="896" width="1040" height="4" fill="url(#gr78)"/><rect x="1344" y="900" width="1040" height="4" fill="url(#gr79)"/><rect x="1344" y="904" width="1040" height="4" fill="url(#gr80)"/><rect x="1344" y="908" width="1040" height="4" fill="url(#gr81)"/><rect x="1344" y="912" width="1040" height="4" fill="url(#gr82)"/><rect x="1344" y="916" width="1040" height="4" fill="url(#gr83)"/><rect x="1344" y="920" width="1040" height="4" fill="url(#gr84)"/><rect x="1344" y="924" width="1040" height="4" fill="url(#gr85)"/><rect x="1344" y="928" width="1040" height="4" fill="url(#gr86)"/><rect x="1344" y="932" width="1040" height="4" fill="url(#gr87)"/><rect x="1344" y="936" width="1040" height="4" fill="url(#gr88)"/><rect x="1344" y="940" width="1040" height="4" fill="url(#gr89)"/><rect x="1344" y="944" width="1040" height="4" fill="url(#gr90)"/><rect x="1344" y="948" width="1040" height="4" fill="url(#gr91)"/><rect x="1344" y="952" width="1040" height="4" fill="url(#gr92)"/><rect x="1344" y="956" width="1040" height="4" fill="url(#gr93)"/><rect x="1344" y="960" width="1040" height="4" fill="url(#gr94)"/><rect x="1344" y="964" width="1040" height="4" fill="url(#gr95)"/><rect x="1344" y="968" width="1040" height="4" fill="url(#gr96)"/><rect x="1344" y="972" width="1040" height="4" fill="url(#gr97)"/><rect x="1344" y="976" width="1040" height="4" fill="url(#gr98)"/><rect x="1344" y="980" width="1040" height="4" fill="url(#gr99)"/><rect x="1344" y="984" width="1040" height="4" fill="url(#gr100)"/><rect x="1344" y="988" width="1040" height="4" fill="url(#gr101)"/><rect x="1344" y="992" width="1040" height="4" fill="url(#gr102)"/><rect x="1344" y="996" width="1040" height="4" fill="url(#gr103)"/><rect x="1344" y="1000" width="1040" height="4" fill="url(#gr104)"/><rect x="1344" y="1004" width="1040" height="4" fill="url(#gr105)"/><rect x="1344" y="1008" width="1040" height="4" fill="url(#gr106)"/><rect x="1344" y="1012" width="1040" height="4" fill="url(#gr107)"/><rect x="1344" y="1016" width="1040" height="4" fill="url(#gr108)"/><rect x="1344" y="1020" width="1040" height="4" fill="url(#gr109)"/><rect x="1344" y="1024" width="1040" height="4" fill="url(#gr110)"/><rect x="1344" y="1028" width="1040" height="4" fill="url(#gr111)"/><rect x="1344" y="1032" width="1040" height="4" fill="url(#gr112)"/><rect x="1344" y="1036" width="1040" height="4" fill="url(#gr113)"/><rect x="1344" y="1040" width="1040" height="4" fill="url(#gr114)"/><rect x="1344" y="1044" width="1040" height="4" fill="url(#gr115)"/><rect x="1344" y="1048" width="1040" height="4" fill="url(#gr116)"/><rect x="1344" y="1052" width="1040" height="4" fill="url(#gr117)"/><rect x="1344" y="1056" width="1040" height="4" fill="url(#gr118)"/><rect x="1344" y="1060" width="1040" height="4" fill="url(#gr119)"/><rect x="1344" y="1064" width="1040" height="4" fill="url(#gr120)"/><rect x="1344" y="1068" width="1040" height="4" fill="url(#gr121)"/><rect x="1344" y="1072" width="1040" height="4" fill="url(#gr122)"/><rect x="1344" y="1076" width="1040" height="4" fill="url(#gr123)"/><rect x="1344" y="1080" width="1040" height="4" fill="url(#gr124)"/><rect x="1344" y="1084" width="1040" height="4" fill="url(#gr125)"/><rect x="1344" y="1088" width="1040" height="4" fill="url(#gr126)"/><rect x="1344" y="1092" width="1040" height="4" fill="url(#gr127)"/><rect x="1344" y="1096" width="1040" height="4" fill="url(#gr128)"/><rect x="1344" y="1100" width="1040" height="4" fill="url(#gr129)"/><rect x="1344" y="1104" width="1040" height="4" fill="url(#gr130)"/><rect x="1344" y="1108" width="1040" height="4" fill="url(#gr131)"/><rect x="1344" y="1112" width="1040" height="4" fill="url(#gr132)"/><rect x="1344" y="1116" width="1040" height="4" fill="url(#gr133)"/><rect x="1344" y="1120" width="1040" height="4" fill="url(#gr134)"/><rect x="1344" y="1124" width="1040" height="4" fill="url(#gr135)"/><rect x="1344" y="1128" width="1040" height="4" fill="url(#gr136)"/><rect x="1344" y="1132" width="1040" height="4" fill="url(#gr137)"/><rect x="1344" y="1136" width="1040" height="4" fill="url(#gr138)"/><rect x="1344" y="1140" width="1040" height="4" fill="url(#gr139)"/><rect x="1344" y="1144" width="1040" height="4" fill="url(#gr140)"/><rect x="1344" y="1148" width="1040" height="4" fill="url(#gr141)"/><rect x="1344" y="1152" width="1040" height="4" fill="url(#gr142)"/><rect x="1344" y="1156" width="1040" height="4" fill="url(#gr143)"/><rect x="1344" y="1160" width="1040" height="4" fill="url(#gr144)"/><rect x="1344" y="1164" width="1040" height="4" fill="url(#gr145)"/><rect x="1344" y="1168" width="1040" height="4" fill="url(#gr146)"/><rect x="1344" y="1172" width="1040" height="4" fill="url(#gr147)"/><rect x="1344" y="1176" width="1040" height="4" fill="url(#gr148)"/><rect x="1344" y="1180" width="1040" height="4" fill="url(#gr149)"/><rect x="1344" y="1184" width="1040" height="4" fill="url(#gr150)"/><rect x="1344" y="1188" width="1040" height="4" fill="url(#gr151)"/><rect x="1344" y="1192" width="1040" height="4" fill="url(#gr152)"/><rect x="1344" y="1196" width="1040" height="4" fill="url(#gr153)"/><rect x="1344" y="1200" width="1040" height="4" fill="url(#gr154)"/><rect x="1344" y="1204" width="1040" height="4" fill="url(#gr155)"/><rect x="1344" y="1208" width="1040" height="4" fill="url(#gr156)"/><rect x="1344" y="1212" width="1040" height="4" fill="url(#gr157)"/><rect x="1344" y="1216" width="1040" height="4" fill="url(#gr158)"/><rect x="1344" y="1220" width="1040" height="4" fill="url(#gr159)"/><rect x="1344" y="1224" width="1040" height="4" fill="url(#gr160)"/><rect x="1344" y="1228" width="1040" height="4" fill="url(#gr161)"/><rect x="1344" y="1232" width="1040" height="4" fill="url(#gr162)"/><rect x="1344" y="1236" width="1040" height="4" fill="url(#gr163)"/><rect x="1344" y="1240" width="1040" height="4" fill="url(#gr164)"/><rect x="1344" y="1244" width="1040" height="4" fill="url(#gr165)"/><rect x="1344" y="1248" width="1040" height="4" fill="url(#gr166)"/><rect x="1344" y="1252" width="1040" height="4" fill="url(#gr167)"/><rect x="1344" y="1256" width="1040" height="4" fill="url(#gr168)"/><rect x="1344" y="1260" width="1040" height="4" fill="url(#gr169)"/><rect x="1344" y="1264" width="1040" height="4" fill="url(#gr170)"/><rect x="1344" y="1268" width="1040" height="4" fill="#272727"/><rect x="1344" y="1272" width="1040" height="4" fill="url(#gr172)"/><rect x="1745.2" y="584.5" width="2" height="688" fill="#000" opacity="0.17"/><rect x="1729.4" y="584.5" width="2" height="688" fill="#000" opacity="0.22"/><rect x="1740.7" y="584.5" width="2" height="688" fill="#000" opacity="0.14"/><rect x="1887.2" y="584.5" width="1.5" height="688" fill="#000" opacity="0.40"/><rect x="1690.6" y="584.5" width="1" height="688" fill="#000" opacity="0.14"/><rect x="1746.8" y="584.5" width="1.5" height="688" fill="#000" opacity="0.25"/><rect x="1789.8" y="584.5" width="2" height="688" fill="#000" opacity="0.42"/><rect x="1746.9" y="584.5" width="1" height="688" fill="#000" opacity="0.17"/><rect x="1837.5" y="584.5" width="1.5" height="688" fill="#000" opacity="0.42"/><rect x="1883.7" y="584.5" width="2" height="688" fill="#000" opacity="0.12"/><rect x="1896.1" y="584.5" width="1" height="688" fill="#000" opacity="0.41"/><rect x="1779.8" y="584.5" width="1.5" height="688" fill="#000" opacity="0.18"/><rect x="1864.5" y="584.5" width="2" height="688" fill="#000" opacity="0.37"/><rect x="1734.3" y="584.5" width="1.5" height="688" fill="#000" opacity="0.15"/><rect x="1858.0" y="584.5" width="2" height="688" fill="#000" opacity="0.43"/><rect x="1719.7" y="584.5" width="1" height="688" fill="#000" opacity="0.31"/><rect x="1782.2" y="584.5" width="1" height="688" fill="#000" opacity="0.16"/><rect x="1861.7" y="584.5" width="1" height="688" fill="#000" opacity="0.42"/><rect x="1850.4" y="584.5" width="2" height="688" fill="#000" opacity="0.35"/><rect x="1807.9" y="584.5" width="1.5" height="688" fill="#000" opacity="0.30"/><rect x="1889.3" y="584.5" width="2" height="688" fill="#000" opacity="0.18"/><rect x="1898.3" y="584.5" width="1" height="688" fill="#000" opacity="0.43"/><rect x="1794.7" y="584.5" width="1" height="688" fill="#000" opacity="0.36"/><rect x="1898.8" y="584.5" width="2" height="688" fill="#000" opacity="0.13"/><rect x="1887.6" y="584.5" width="1.5" height="688" fill="#000" opacity="0.26"/><rect x="1841.1" y="584.5" width="1.5" height="688" fill="#000" opacity="0.32"/><rect x="1786.0" y="584.5" width="1.5" height="688" fill="#000" opacity="0.42"/><rect x="1870.1" y="584.5" width="1" height="688" fill="#000" opacity="0.14"/><rect x="1779.0" y="584.5" width="1" height="688" fill="#000" opacity="0.41"/><rect x="1901.7" y="584.5" width="2" height="688" fill="#000" opacity="0.18"/><rect x="1886.2" y="584.5" width="2" height="688" fill="#000" opacity="0.12"/><rect x="1736.3" y="584.5" width="1.5" height="688" fill="#000" opacity="0.17"/><rect x="1707.0" y="584.5" width="1" height="688" fill="#000" opacity="0.21"/><rect x="1842.2" y="584.5" width="1.5" height="688" fill="#000" opacity="0.13"/><rect x="1881.7" y="584.5" width="1" height="688" fill="#000" opacity="0.37"/><rect x="1823.4" y="584.5" width="1.5" height="688" fill="#000" opacity="0.26"/><rect x="1732.5" y="584.5" width="1" height="688" fill="#000" opacity="0.15"/><rect x="1804.7" y="584.5" width="2" height="688" fill="#000" opacity="0.14"/><rect x="1713.8" y="584.5" width="1.5" height="688" fill="#000" opacity="0.41"/><rect x="1791.5" y="584.5" width="1.5" height="688" fill="#000" opacity="0.38"/><rect x="1704.5" y="605" width="1.5" height="657" fill="#fff" opacity="0.22"/><rect x="1709.1" y="605" width="2" height="657" fill="#fff" opacity="0.23"/><rect x="1720.0" y="605" width="2" height="657" fill="#fff" opacity="0.18"/><rect x="1730.7" y="605" width="1" height="657" fill="#fff" opacity="0.24"/><rect x="1736.0" y="605" width="1.5" height="657" fill="#fff" opacity="0.23"/><rect x="1741.5" y="605" width="2" height="657" fill="#fff" opacity="0.27"/><rect x="1750.4" y="605" width="1" height="657" fill="#fff" opacity="0.14"/><rect x="1761.1" y="605" width="1" height="657" fill="#fff" opacity="0.17"/><rect x="1768.2" y="605" width="2" height="657" fill="#fff" opacity="0.23"/><rect x="1772.2" y="605" width="1.5" height="657" fill="#fff" opacity="0.15"/><rect x="1779.5" y="605" width="2" height="657" fill="#fff" opacity="0.25"/><rect x="1781.6" y="605" width="2" height="657" fill="#fff" opacity="0.12"/><rect x="1790.1" y="605" width="1" height="657" fill="#fff" opacity="0.18"/><rect x="1801.1" y="605" width="1" height="657" fill="#fff" opacity="0.27"/><rect x="1805.4" y="605" width="2" height="657" fill="#fff" opacity="0.20"/><rect x="1813.7" y="605" width="1.5" height="657" fill="#fff" opacity="0.09"/><rect x="1820.0" y="605" width="1.5" height="657" fill="#fff" opacity="0.13"/><rect x="1829.5" y="605" width="1.5" height="657" fill="#fff" opacity="0.17"/><rect x="1836.1" y="605" width="1" height="657" fill="#fff" opacity="0.28"/><rect x="1842.9" y="605" width="1.5" height="657" fill="#fff" opacity="0.12"/><rect x="1850.4" y="605" width="1" height="657" fill="#fff" opacity="0.23"/><rect x="1857.3" y="605" width="1" height="657" fill="#fff" opacity="0.27"/><rect x="1866.9" y="605" width="1.5" height="657" fill="#fff" opacity="0.20"/><rect x="1875.1" y="605" width="1.5" height="657" fill="#fff" opacity="0.17"/><rect x="1884.0" y="605" width="1" height="657" fill="#fff" opacity="0.27"/><rect x="1893.1" y="605" width="1" height="657" fill="#fff" opacity="0.17"/><rect x="1898.4" y="605" width="1" height="657" fill="#fff" opacity="0.20"/><rect x="1907.0" y="605" width="1.5" height="657" fill="#fff" opacity="0.09"/><rect x="1787.0" y="854.4" width="3" height="2" fill="#fff" opacity="0.58"/><rect x="1797.8" y="854.4" width="4" height="2" fill="#fff" opacity="0.33"/><rect x="1803.6" y="855.7" width="3" height="2" fill="#fff" opacity="0.65"/><rect x="1817.4" y="855.3" width="2" height="2" fill="#fff" opacity="0.43"/><rect x="1825.7" y="854.4" width="3" height="2" fill="#fff" opacity="0.48"/><rect x="1829.8" y="855.5" width="2" height="2" fill="#fff" opacity="0.84"/><rect x="1839.0" y="855.2" width="2" height="2" fill="#fff" opacity="0.70"/><rect x="1853.0" y="855.1" width="3" height="2" fill="#fff" opacity="0.39"/><rect x="1863.9" y="855.3" width="4" height="2" fill="#fff" opacity="0.71"/><rect x="1871.1" y="854.4" width="4" height="2" fill="#fff" opacity="0.57"/><rect x="1881.4" y="855.3" width="4" height="2" fill="#fff" opacity="0.66"/><rect x="1891.5" y="854.6" width="4" height="2" fill="#fff" opacity="0.54"/><rect x="1899.6" y="854.4" width="2" height="2" fill="#fff" opacity="0.35"/><rect x="1913.3" y="855.4" width="4" height="2" fill="#fff" opacity="0.43"/><rect x="1921.0" y="854.6" width="3" height="2" fill="#fff" opacity="0.32"/><rect x="1929.2" y="855.4" width="3" height="2" fill="#fff" opacity="0.57"/><rect x="1939.5" y="854.9" width="4" height="2" fill="#fff" opacity="0.82"/><rect x="1950.2" y="855.6" width="3" height="2" fill="#fff" opacity="0.80"/><rect x="1959.3" y="854.9" width="3" height="2" fill="#fff" opacity="0.71"/><rect x="1966.4" y="855.2" width="4" height="2" fill="#fff" opacity="0.53"/><rect x="1980.2" y="854.6" width="3" height="2" fill="#fff" opacity="0.81"/><rect x="1838.8" y="972.6" width="3" height="2" fill="#fff" opacity="0.49"/><rect x="1851.3" y="973.2" width="3" height="2" fill="#fff" opacity="0.88"/><rect x="1863.7" y="973.0" width="4" height="2" fill="#fff" opacity="0.49"/><rect x="1874.7" y="972.6" width="3" height="2" fill="#fff" opacity="0.85"/><rect x="1884.2" y="972.6" width="3" height="2" fill="#fff" opacity="0.39"/><rect x="1889.6" y="972.1" width="3" height="2" fill="#fff" opacity="0.66"/><rect x="1904.6" y="971.8" width="2" height="2" fill="#fff" opacity="0.79"/><rect x="1920.1" y="972.0" width="3" height="2" fill="#fff" opacity="0.34"/><rect x="1926.8" y="972.3" width="3" height="2" fill="#fff" opacity="0.65"/><rect x="1932.3" y="973.1" width="3" height="2" fill="#fff" opacity="0.70"/><rect x="1943.2" y="973.2" width="4" height="2" fill="#fff" opacity="0.48"/><rect x="1956.4" y="972.9" width="3" height="2" fill="#fff" opacity="0.73"/><rect x="1970.9" y="972.0" width="3" height="2" fill="#fff" opacity="0.46"/><rect x="1982.8" y="972.2" width="4" height="2" fill="#fff" opacity="0.61"/><rect x="1998.1" y="972.3" width="4" height="2" fill="#fff" opacity="0.60"/><rect x="2013.4" y="972.5" width="4" height="2" fill="#fff" opacity="0.53"/><rect x="2027.3" y="972.2" width="3" height="2" fill="#fff" opacity="0.47"/><rect x="2036.4" y="972.9" width="4" height="2" fill="#fff" opacity="0.53"/><rect x="2049.7" y="972.0" width="4" height="2" fill="#fff" opacity="0.37"/><rect x="2064.1" y="972.9" width="2" height="2" fill="#fff" opacity="0.78"/><rect x="2079.1" y="971.8" width="4" height="2" fill="#fff" opacity="0.31"/><rect x="2165.3" y="990.1" width="4" height="4" fill="#fff" opacity="0.70"/><rect x="2168.1" y="989.8" width="4" height="4" fill="#fff" opacity="0.90"/><rect x="2170.7" y="989.6" width="4" height="4" fill="#fff" opacity="0.70"/><rect x="2171.9" y="989.5" width="3" height="4" fill="#fff" opacity="0.74"/><rect x="2172.9" y="990.4" width="2" height="4" fill="#fff" opacity="0.61"/><rect x="2175.5" y="989.9" width="4" height="4" fill="#fff" opacity="0.76"/><rect x="2176.7" y="990.6" width="3" height="4" fill="#fff" opacity="0.97"/><rect x="2178.9" y="989.6" width="2" height="4" fill="#fff" opacity="0.70"/><rect x="2180.7" y="990.4" width="3" height="4" fill="#fff" opacity="0.92"/><rect x="2182.5" y="989.7" width="4" height="4" fill="#fff" opacity="0.82"/><rect x="2185.6" y="990.3" width="3" height="4" fill="#fff" opacity="0.91"/><rect x="2188.1" y="990.3" width="4" height="4" fill="#fff" opacity="0.91"/><rect x="2189.7" y="990.7" width="3" height="4" fill="#fff" opacity="0.85"/><rect x="2192.7" y="990.3" width="3" height="4" fill="#fff" opacity="0.63"/><rect x="2194.0" y="989.7" width="4" height="4" fill="#fff" opacity="0.90"/><rect x="2196.4" y="989.6" width="2" height="4" fill="#fff" opacity="0.76"/><rect x="2198.0" y="990.3" width="4" height="4" fill="#fff" opacity="0.94"/><rect x="2201.1" y="990.0" width="3" height="4" fill="#fff" opacity="0.83"/><rect x="2205.1" y="990.3" width="2" height="4" fill="#fff" opacity="0.76"/><rect x="2208.7" y="990.2" width="3" height="4" fill="#fff" opacity="0.88"/><rect x="2210.1" y="989.9" width="4" height="4" fill="#fff" opacity="0.81"/><rect x="2211.2" y="990.2" width="2" height="4" fill="#fff" opacity="0.66"/><rect x="2212.4" y="989.5" width="2" height="4" fill="#fff" opacity="0.80"/><rect x="2214.2" y="990.2" width="3" height="4" fill="#fff" opacity="0.84"/><rect x="2215.8" y="989.8" width="3" height="4" fill="#fff" opacity="0.80"/><rect x="2219.3" y="990.3" width="4" height="4" fill="#fff" opacity="0.86"/><rect x="2222.9" y="989.4" width="3" height="4" fill="#fff" opacity="0.96"/><rect x="2225.6" y="989.3" width="3" height="4" fill="#fff" opacity="0.98"/><rect x="2228.8" y="989.8" width="4" height="4" fill="#fff" opacity="0.61"/><rect x="2232.6" y="990.5" width="2" height="4" fill="#fff" opacity="0.65"/><rect x="2234.1" y="990.3" width="3" height="4" fill="#fff" opacity="0.83"/><rect x="2236.1" y="990.1" width="2" height="4" fill="#fff" opacity="0.86"/><rect x="2238.1" y="989.7" width="3" height="4" fill="#fff" opacity="0.98"/><rect x="2240.4" y="989.4" width="2" height="4" fill="#fff" opacity="0.80"/><rect x="2243.3" y="990.5" width="2" height="4" fill="#fff" opacity="0.91"/><rect x="2246.3" y="990.6" width="2" height="4" fill="#fff" opacity="0.73"/><rect x="2247.9" y="989.3" width="4" height="4" fill="#fff" opacity="0.84"/><rect x="2250.1" y="990.5" width="3" height="4" fill="#fff" opacity="0.70"/><rect x="2253.6" y="990.6" width="2" height="4" fill="#fff" opacity="0.62"/><rect x="2256.3" y="990.2" width="3" height="4" fill="#fff" opacity="0.98"/><rect x="2259.9" y="989.9" width="3" height="4" fill="#fff" opacity="0.68"/><rect x="2262.9" y="990.4" width="4" height="4" fill="#fff" opacity="0.81"/><rect x="2264.9" y="989.4" width="4" height="4" fill="#fff" opacity="0.73"/><rect x="2268.6" y="989.6" width="3" height="4" fill="#fff" opacity="0.61"/><rect x="2270.5" y="989.9" width="4" height="4" fill="#fff" opacity="0.89"/><rect x="2272.5" y="989.6" width="2" height="4" fill="#fff" opacity="0.68"/><rect x="2152.0" y="1050.5" width="2" height="3" fill="#fff" opacity="0.86"/><rect x="2155.5" y="1050.4" width="2" height="3" fill="#fff" opacity="0.95"/><rect x="2160.2" y="1050.0" width="3" height="3" fill="#fff" opacity="0.96"/><rect x="2164.2" y="1050.4" width="4" height="3" fill="#fff" opacity="0.67"/></g><rect x="1348" y="680" width="60" height="15" fill="#ffff00"/><rect x="1408" y="680" width="972" height="15" fill="#fff"/><rect x="1348" y="868" width="60" height="12" fill="#ffff00"/><rect x="1408" y="868" width="972" height="12" fill="#fff"/><rect x="1348" y="892" width="60" height="11" fill="#ffff00"/><rect x="1408" y="892" width="972" height="11" fill="#fff"/><rect x="1348" y="929" width="60" height="14" fill="#ffff00"/><rect x="1408" y="929" width="972" height="14" fill="#fff"/><rect x="1348" y="992" width="60" height="12" fill="#ffff00"/><rect x="1408" y="992" width="972" height="12" fill="#fff"/><rect x="1348" y="1016" width="60" height="8" fill="#ffff00"/><rect x="1408" y="1016" width="972" height="8" fill="#fff"/></g><g clip-path="url(#cTL)"><polyline fill="none" stroke="#808080" stroke-width="4" stroke-linejoin="round" points="155.8,466.9 157.1,481.3 158.3,472.5 159.6,475.4 160.9,475.1 162.1,474.4 163.4,479.8 164.7,474.5 165.9,476.4 167.2,464.1 168.5,473.3 169.8,475.0 171.0,474.8 172.3,476.0 173.6,477.1 174.8,475.2 176.1,472.7 177.4,474.8 178.6,471.3 179.9,474.7 181.2,474.1 182.4,469.7 183.7,472.6 185.0,475.7 186.2,474.8 187.5,472.7 188.8,468.7 190.0,475.1 191.3,475.1 192.6,467.8 193.8,476.9 195.1,475.3 196.4,471.9 197.6,472.8 198.9,474.2 200.2,472.6 201.4,482.6 202.7,471.7 204.0,477.3 205.2,479.4 206.5,472.5 207.8,472.7 209.1,476.0 210.3,477.8 211.6,474.7 212.9,474.9 214.1,470.8 215.4,484.5 216.7,474.3 217.9,471.7 219.2,475.5 220.5,477.5 221.7,473.3 223.0,473.3 224.3,475.6 225.5,477.2 226.8,474.4 228.1,482.0 229.3,473.2 230.6,473.7 231.9,479.7 233.1,475.0 234.4,477.8 235.7,473.1 236.9,480.8 238.2,477.8 239.5,473.3 240.7,472.1 242.0,481.2 243.3,476.7 244.6,474.5 245.8,477.1 247.1,471.1 248.4,478.7 249.6,474.5 250.9,478.3 252.2,471.7 253.4,475.6 254.7,476.6 256.0,480.2 257.2,471.1 258.5,473.6 259.8,473.6 261.0,472.6 262.3,474.8 263.6,477.4 264.8,477.9 266.1,477.9 267.4,472.2 268.6,479.7 269.9,477.4 271.2,476.7 272.4,475.3 273.7,474.4 275.0,479.2 276.2,480.5 277.5,476.0 278.8,472.8 280.0,474.0 281.3,479.7 282.6,476.7 283.9,475.1 285.1,476.4 286.4,473.5 287.7,477.8 288.9,482.2 290.2,475.9 291.5,473.3 292.7,474.8 294.0,468.5 295.3,471.3 296.5,471.2 297.8,480.8 299.1,476.1 300.3,476.8 301.6,473.6 302.9,481.4 304.1,471.7 305.4,471.9 306.7,478.5 307.9,477.6 309.2,477.0 310.5,474.6 311.7,472.8 313.0,468.8 314.3,475.1 315.5,472.3 316.8,474.0 318.1,469.3 319.3,472.2 320.6,470.3 321.9,477.4 323.2,474.7 324.4,476.5 325.7,469.7 327.0,472.1 328.2,474.9 329.5,475.2 330.8,472.4 332.0,475.9 333.3,476.5 334.6,472.3 335.8,466.3 337.1,474.3 338.4,474.9 339.6,476.5 340.9,476.7 342.2,470.4 343.4,469.0 344.7,471.4 346.0,470.0 347.2,470.4 348.5,469.9 349.8,475.4 351.0,471.3 352.3,469.0 353.6,471.9 354.8,470.4 356.1,471.4 357.4,469.2 358.6,464.4 359.9,468.9 361.2,467.5 362.5,463.4 363.7,463.7 365.0,459.0 366.3,474.2 367.5,461.6 368.8,466.9 370.1,463.9 371.3,460.6 372.6,459.1 373.9,458.9 375.1,462.4 376.4,451.1 377.7,463.7 378.9,462.7 380.2,458.1 381.5,464.0 382.7,450.9 384.0,455.9 385.3,449.9 386.5,460.1 387.8,461.5 389.1,458.5 390.3,455.3 391.6,461.6 392.9,456.4 394.1,458.0 395.4,448.5 396.7,459.3 397.9,448.8 399.2,457.0 400.5,457.8 401.8,455.3 403.0,457.1 404.3,447.8 405.6,441.0 406.8,445.3 408.1,441.1 409.4,433.0 410.6,457.3 411.9,441.7 413.2,442.5 414.4,451.1 415.7,432.5 417.0,457.0 418.2,430.8 419.5,434.8 420.8,424.6 422.0,432.9 423.3,437.9 424.6,427.0 425.8,433.5 427.1,429.2 428.4,426.1 429.6,426.5 430.9,425.8 432.2,430.5 433.4,430.5 434.7,440.5 436.0,420.9 437.2,429.7 438.5,406.3 439.8,403.5 441.1,434.1 442.3,412.1 443.6,413.7 444.9,422.0 446.1,453.0 447.4,413.8 448.7,423.8 449.9,409.4 451.2,407.0 452.5,402.9 453.7,416.4 455.0,394.3 456.3,391.4 457.5,411.6 458.8,404.6 460.1,396.4 461.3,400.8 462.6,371.5 463.9,388.6 465.1,402.3 466.4,398.2 467.7,387.6 468.9,356.0 470.2,386.3 471.5,334.5 472.7,374.3 474.0,380.2 475.3,347.5 476.5,384.1 477.8,365.1 479.1,418.0 480.4,363.8 481.6,387.7 482.9,344.3 484.2,369.9 485.4,366.2 486.7,379.1 488.0,374.7 489.2,354.0 490.5,346.1 491.8,348.1 493.0,339.5 494.3,345.6 495.6,354.8 496.8,340.6 498.1,342.9 499.4,352.5 500.6,337.8 501.9,327.1 503.2,342.8 504.4,351.1 505.7,331.8 507.0,310.4 508.2,344.4 509.5,341.0 510.8,340.4 512.0,315.6 513.3,367.4 514.6,257.0 515.8,311.8 517.1,410.7 518.4,303.5 519.7,319.2 520.9,337.4 522.2,322.4 523.5,352.9 524.7,333.9 526.0,288.2 527.3,337.5 528.5,284.8 529.8,319.7 531.1,297.9 532.3,314.6 533.6,357.3 534.9,323.9 536.1,307.8 537.4,332.7 538.7,335.4 539.9,376.6 541.2,319.1 542.5,338.8 543.7,317.3 545.0,284.7 546.3,310.5 547.5,280.3 548.8,266.7 550.1,296.2 551.3,319.0 552.6,321.4 553.9,287.0 555.1,272.9 556.4,284.5 557.7,277.1 559.0,297.0 560.2,279.7 561.5,295.1 562.8,290.6 564.0,310.5 565.3,315.5 566.6,392.5 567.8,303.0 569.1,298.9 570.4,261.5 571.6,278.1 572.9,209.1 574.2,215.9 575.4,287.3 576.7,254.3 578.0,263.0 579.2,286.0 580.5,244.0 581.8,352.1 583.0,338.3 584.3,248.2 585.6,280.1 586.8,230.1 588.1,279.1 589.4,290.8 590.6,225.6 591.9,286.6 593.2,255.5 594.4,155.4 595.7,255.7 597.0,259.5 598.3,254.2 599.5,235.5 600.8,298.9 602.1,239.1 603.3,239.0 604.6,195.2 605.9,259.5 607.1,272.8 608.4,231.3 609.7,258.3 610.9,240.5 612.2,243.4 613.5,216.7 614.7,261.3 616.0,246.3 617.3,307.2 618.5,264.6 619.8,202.5 621.1,257.6 622.3,257.3 623.6,312.7 624.9,222.8 626.1,231.6 627.4,265.3 628.7,215.9 629.9,224.9 631.2,210.5 632.5,245.6 633.7,181.4 635.0,214.9 636.3,227.4 637.6,236.6 638.8,227.8 640.1,196.6 641.4,225.6 642.6,187.5 643.9,172.3 645.2,176.9 646.4,189.9 647.7,212.6 649.0,262.4 650.2,199.5 651.5,184.2 652.8,200.3 654.0,187.7 655.3,215.3 656.6,211.2 657.8,155.4 659.1,158.3 660.4,191.4 661.6,208.7 662.9,231.6 664.2,195.9 665.4,147.7 666.7,174.9 668.0,255.9 669.2,181.5 670.5,141.5 671.8,153.2 673.0,157.4 674.3,86.9 675.6,161.6 676.9,153.0 678.1,99.7 679.4,127.8 680.7,165.0 681.9,108.3 683.2,232.8 684.5,147.9 685.7,82.8 687.0,179.9 688.3,155.1 689.5,145.8 690.8,150.9 692.1,185.2 693.3,172.8 694.6,136.7 695.9,128.5 697.1,164.8 698.4,165.3 699.7,249.8 700.9,129.6 702.2,199.8 703.5,208.2 704.7,162.9 706.0,201.0 707.3,184.7 708.5,163.6 709.8,151.1 711.1,241.8 712.3,140.8 713.6,220.8 714.9,58.6 716.2,214.4 717.4,205.5 718.7,148.8 720.0,184.0 721.2,295.7 722.5,190.7 723.8,166.1 725.0,184.5 726.3,186.6 727.6,157.5 728.8,212.3 730.1,207.9 731.4,212.1 732.6,166.6 733.9,174.7 735.2,169.4 736.4,209.4 737.7,215.6 739.0,190.7 740.2,227.7 741.5,140.0 742.8,203.3 744.0,244.0 745.3,230.5 746.6,234.3 747.8,189.2 749.1,170.5 750.4,242.2 751.7,242.1 752.9,301.3 754.2,240.6 755.5,247.7 756.7,275.6 758.0,231.6 759.3,324.8 760.5,259.4 761.8,252.5 763.1,287.4 764.3,211.0 765.6,235.8 766.9,295.1 768.1,297.1 769.4,251.8 770.7,268.2 771.9,297.0 773.2,277.5 774.5,274.9 775.7,277.3 777.0,257.2 778.3,205.0 779.5,239.8 780.8,250.5 782.1,267.6 783.3,260.6 784.6,257.1 785.9,272.2 787.1,315.3 788.4,272.5 789.7,290.9 791.0,260.2 792.2,293.8 793.5,286.5 794.8,292.3 796.0,266.5 797.3,298.8 798.6,309.2 799.8,298.8 801.1,315.0 802.4,304.2 803.6,308.8 804.9,304.6 806.2,273.6 807.4,320.2 808.7,254.6 810.0,318.6 811.2,303.2 812.5,376.6 813.8,331.5 815.0,320.4 816.3,310.7 817.6,377.5 818.8,332.6 820.1,340.5 821.4,316.5 822.6,300.9 823.9,322.5 825.2,326.1 826.4,322.8 827.7,348.6 829.0,338.7 830.3,339.1 831.5,330.5 832.8,337.4 834.1,358.9 835.3,320.1 836.6,311.8 837.9,351.4 839.1,336.3 840.4,339.7 841.7,332.5 842.9,370.9 844.2,321.6 845.5,356.7 846.7,330.0 848.0,350.2 849.3,358.9 850.5,356.2 851.8,341.2 853.1,369.8 854.3,421.6 855.6,366.1 856.9,385.5 858.1,340.0 859.4,351.6 860.7,361.2 861.9,343.9 863.2,376.3 864.5,363.6 865.7,337.3 867.0,349.0 868.3,397.0 869.6,413.8 870.8,380.4 872.1,350.1 873.4,348.6 874.6,369.9 875.9,358.4 877.2,380.6 878.4,365.3 879.7,357.5 881.0,362.7 882.2,364.3 883.5,379.0 884.8,363.7 886.0,402.2 887.3,353.7 888.6,341.7 889.8,400.5 891.1,403.9 892.4,380.1 893.6,349.3 894.9,360.8 896.2,361.0 897.4,387.0 898.7,387.7 900.0,360.2 901.2,392.7 902.5,363.8 903.8,401.0 905.0,369.3 906.3,370.6 907.6,370.3 908.9,370.3 910.1,394.7 911.4,378.3 912.7,382.5 913.9,379.7 915.2,369.0 916.5,389.5 917.7,396.2 919.0,397.5 920.3,380.4 921.5,381.5 922.8,401.8 924.1,379.1 925.3,390.8 926.6,398.1 927.9,420.9 929.1,394.9 930.4,391.0 931.7,420.2 932.9,387.8 934.2,384.1 935.5,399.9 936.7,399.4 938.0,379.9 939.3,394.0 940.5,417.8 941.8,409.7 943.1,412.3 944.3,413.4 945.6,436.9 946.9,406.6 948.2,421.6 949.4,414.9 950.7,419.0 952.0,410.6 953.2,422.8 954.5,428.5 955.8,417.5 957.0,410.9 958.3,427.5 959.6,413.9 960.8,454.7 962.1,432.7 963.4,416.6 964.6,437.3 965.9,416.7 967.2,436.9 968.4,430.5 969.7,444.8 971.0,442.7 972.2,429.2 973.5,436.7 974.8,438.7 976.0,443.1 977.3,437.6 978.6,451.5 979.8,435.7 981.1,444.5 982.4,449.9 983.6,449.9 984.9,446.6 986.2,447.9 987.5,452.8 988.7,438.4 990.0,443.5 991.3,443.2 992.5,451.6 993.8,455.2 995.1,461.5 996.3,456.0 997.6,466.4 998.9,459.0 1000.1,462.3 1001.4,449.3 1002.7,453.7 1003.9,463.6 1005.2,457.9 1006.5,464.9 1007.7,458.4 1009.0,463.6 1010.3,460.3 1011.5,454.2 1012.8,462.1 1014.1,457.6 1015.3,467.1 1016.6,491.0 1017.9,464.9 1019.1,464.6 1020.4,473.3 1021.7,472.2 1022.9,477.7 1024.2,474.9 1025.5,472.8 1026.8,476.4 1028.0,478.5 1029.3,480.7 1030.6,476.6 1031.8,480.0 1033.1,476.3 1034.4,477.2 1035.6,480.9 1036.9,474.0 1038.2,478.3 1039.4,478.6 1040.7,476.7 1042.0,483.3 1043.2,478.8 1044.5,479.0 1045.8,478.1 1047.0,470.0 1048.3,482.8 1049.6,483.1 1050.8,480.0 1052.1,479.0 1053.4,479.3 1054.6,482.3 1055.9,483.1 1057.2,478.8 1058.4,479.4 1059.7,480.2 1061.0,483.6 1062.2,476.2 1063.5,488.9 1064.8,481.3 1066.1,476.9 1067.3,481.1 1068.6,480.6 1069.9,483.2 1071.1,478.8 1072.4,483.5 1073.7,481.0 1074.9,481.3 1076.2,483.4 1077.5,480.3 1078.7,484.2 1080.0,479.6 1081.3,482.2 1082.5,482.9 1083.8,481.7 1085.1,481.1 1086.3,483.0 1087.6,483.4 1088.9,483.4 1090.1,483.2 1091.4,481.6 1092.7,483.1 1093.9,482.3 1095.2,483.0 1096.5,484.1 1097.7,481.8 1099.0,484.4 1100.3,483.0 1101.5,481.1 1102.8,484.6 1104.1,483.2 1105.4,485.3 1106.6,483.9 1107.9,485.3 1109.2,483.8 1110.4,484.1 1111.7,483.3 1113.0,481.5 1114.2,483.2 1115.5,482.7 1116.8,483.7 1118.0,483.9 1119.3,484.7 1120.6,485.9 1121.8,486.0 1123.1,481.9 1124.4,483.3 1125.6,484.5 1126.9,482.0 1128.2,484.5 1129.4,484.7 1130.7,485.4 1132.0,485.2 1133.2,484.4 1134.5,482.0 1135.8,484.5 1137.0,485.4 1138.3,485.0 1139.6,484.6 1140.8,486.1 1142.1,484.3 1143.4,483.8 1144.7,484.2 1145.9,484.0 1147.2,485.8 1148.5,486.3 1149.7,483.4 1151.0,478.5 1152.3,486.2 1153.5,484.6 1154.8,484.8 1156.1,484.3 1157.3,484.6 1158.6,486.2 1159.9,484.7 1161.1,484.8 1162.4,484.1 1163.7,486.8 1164.9,487.9 1166.2,485.8 1167.5,486.7 1168.7,484.9 1170.0,484.5 1171.3,484.9 1172.5,485.6 1173.8,485.2 1175.1,484.2 1176.3,486.0 1177.6,484.5 1178.9,484.7 1180.1,485.2 1181.4,484.0 1182.7,487.9 1184.0,484.6 1185.2,486.5 1186.5,486.3 1187.8,486.6 1189.0,485.2 1190.3,486.6 1191.6,485.7 1192.8,486.8 1194.1,484.7 1195.4,481.4"/><polyline fill="none" stroke="#e01010" stroke-width="4" stroke-linejoin="round" points="152.3,484.2 155.8,484.2 159.3,484.1 162.7,484.1 166.2,484.1 169.6,484.0 173.1,484.0 176.6,483.9 180.0,483.9 183.5,483.8 186.9,483.8 190.4,483.7 193.8,483.7 197.3,483.6 200.8,483.5 204.2,483.4 207.7,483.3 211.1,483.2 214.6,483.1 218.0,483.0 221.5,482.9 225.0,482.8 228.4,482.6 231.9,482.5 235.3,482.3 238.8,482.1 242.2,482.0 245.7,481.8 249.2,481.6 252.6,481.3 256.1,481.1 259.5,480.8 263.0,480.6 266.4,480.3 269.9,480.0 273.4,479.7 276.8,479.3 280.3,478.9 283.7,478.6 287.2,478.1 290.6,477.7 294.1,477.2 297.6,476.7 301.0,476.2 304.5,475.7 307.9,475.1 311.4,474.5 314.9,473.8 318.3,473.2 321.8,472.4 325.2,471.7 328.7,470.9 332.1,470.0 335.6,469.2 339.1,468.2 342.5,467.3 346.0,466.3 349.4,465.2 352.9,464.1 356.3,462.9 359.8,461.7 363.3,460.4 366.7,459.1 370.2,457.7 373.6,456.3 377.1,454.8 380.5,453.2 384.0,451.6 387.5,449.9 390.9,448.1 394.4,446.3 397.8,444.4 401.3,442.4 404.7,440.4 408.2,438.2 411.7,436.1 415.1,433.8 418.6,431.5 422.0,429.1 425.5,426.6 428.9,424.0 432.4,421.4 435.9,418.7 439.3,415.9 442.8,413.0 446.2,410.1 449.7,407.1 453.2,404.0 456.6,400.8 460.1,397.6 463.5,394.3 467.0,390.9 470.4,387.4 473.9,383.9 477.4,380.3 480.8,376.7 484.3,373.0 487.7,369.2 491.2,365.4 494.6,361.5 498.1,357.6 501.6,353.6 505.0,349.5 508.5,345.5 511.9,341.3 515.4,337.2 518.8,333.0 522.3,328.8 525.8,324.6 529.2,320.3 532.7,316.0 536.1,311.8 539.6,307.5 543.0,303.2 546.5,298.9 550.0,294.7 553.4,290.4 556.9,286.2 560.3,282.0 563.8,277.8 567.2,273.7 570.7,269.6 574.2,265.5 577.6,261.5 581.1,257.6 584.5,253.8 588.0,250.0 591.5,246.3 594.9,242.6 598.4,239.1 601.8,235.6 605.3,232.3 608.7,229.0 612.2,225.9 615.7,222.9 619.1,220.0 622.6,217.2 626.0,214.6 629.5,212.1 632.9,209.7 636.4,207.4 639.9,205.4 643.3,203.4 646.8,201.6 650.2,200.0 653.7,198.5 657.1,197.2 660.6,196.1 664.1,195.1 667.5,194.2 671.0,193.6 674.4,193.1 677.9,192.8 681.3,192.7 684.8,192.7 688.3,192.9 691.7,193.3 695.2,193.8 698.6,194.5 702.1,195.4 705.5,196.4 709.0,197.6 712.5,199.0 715.9,200.5 719.4,202.2 722.8,204.0 726.3,206.0 729.8,208.2 733.2,210.5 736.7,212.9 740.1,215.4 743.6,218.1 747.0,220.9 750.5,223.9 754.0,226.9 757.4,230.1 760.9,233.4 764.3,236.8 767.8,240.3 771.2,243.8 774.7,247.5 778.2,251.2 781.6,255.0 785.1,258.9 788.5,262.9 792.0,266.9 795.4,270.9 798.9,275.0 802.4,279.2 805.8,283.4 809.3,287.6 812.7,291.8 816.2,296.1 819.6,300.3 823.1,304.6 826.6,308.9 830.0,313.2 833.5,317.5 836.9,321.7 840.4,326.0 843.9,330.2 847.3,334.4 850.8,338.6 854.2,342.7 857.7,346.8 861.1,350.9 864.6,354.9 868.1,358.9 871.5,362.8 875.0,366.7 878.4,370.5 881.9,374.2 885.3,377.9 888.8,381.5 892.3,385.1 895.7,388.6 899.2,392.0 902.6,395.4 906.1,398.7 909.5,401.9 913.0,405.0 916.5,408.1 919.9,411.1 923.4,414.0 926.8,416.8 930.3,419.6 933.7,422.3 937.2,424.9 940.7,427.4 944.1,429.9 947.6,432.3 951.0,434.6 954.5,436.8 957.9,439.0 961.4,441.0 964.9,443.1 968.3,445.0 971.8,446.9 975.2,448.7 978.7,450.4 982.2,452.1 985.6,453.7 989.1,455.3 992.5,456.8 996.0,458.2 999.4,459.5 1002.9,460.9 1006.4,462.1 1009.8,463.3 1013.3,464.5 1016.7,465.6 1020.2,466.6 1023.6,467.6 1027.1,468.6 1030.6,469.5 1034.0,470.3 1037.5,471.2 1040.9,471.9 1044.4,472.7 1047.8,473.4 1051.3,474.1 1054.8,474.7 1058.2,475.3 1061.7,475.9 1065.1,476.4 1068.6,476.9 1072.0,477.4 1075.5,477.8 1079.0,478.3 1082.4,478.7 1085.9,479.1 1089.3,479.4 1092.8,479.8 1096.2,480.1 1099.7,480.4 1103.2,480.7 1106.6,480.9 1110.1,481.2 1113.5,481.4 1117.0,481.6 1120.5,481.8 1123.9,482.0 1127.4,482.2 1130.8,482.4 1134.3,482.5 1137.7,482.7 1141.2,482.8 1144.7,482.9 1148.1,483.1 1151.6,483.2 1155.0,483.3 1158.5,483.4 1161.9,483.5 1165.4,483.5 1168.9,483.6 1172.3,483.7 1175.8,483.7 1179.2,483.8 1182.7,483.9 1186.1,483.9 1189.6,484.0 1193.1,484.0 1196.5,484.0 1200.0,484.1"/></g><g clip-path="url(#cTR)"><polyline fill="none" stroke="#808080" stroke-width="4" stroke-linejoin="round" points="1342.8,491.4 1344.0,498.6 1345.3,483.7 1346.6,474.5 1347.8,464.6 1349.1,478.7 1350.4,487.8 1351.6,479.6 1352.9,469.8 1354.2,457.6 1355.4,449.4 1356.7,497.1 1358.0,493.3 1359.2,458.0 1360.5,477.3 1361.8,504.0 1363.0,481.2 1364.3,496.1 1365.6,488.7 1366.8,486.7 1368.1,489.8 1369.4,472.3 1370.6,480.8 1371.9,488.0 1373.2,474.2 1374.4,468.4 1375.7,502.6 1377.0,483.4 1378.3,493.4 1379.5,482.2 1380.8,497.6 1382.1,479.5 1383.3,480.3 1384.6,483.9 1385.9,494.2 1387.1,485.2 1388.4,486.3 1389.7,498.4 1390.9,476.5 1392.2,493.8 1393.5,463.4 1394.7,469.6 1396.0,507.2 1397.3,475.7 1398.5,494.8 1399.8,479.0 1401.1,478.9 1402.3,507.0 1403.6,482.7 1404.9,483.0 1406.1,466.0 1407.4,492.5 1408.7,469.1 1409.9,434.9 1411.2,483.9 1412.5,491.0 1413.7,459.1 1415.0,471.4 1416.3,445.4 1417.6,470.3 1418.8,467.5 1420.1,467.5 1421.4,487.6 1422.6,480.1 1423.9,460.3 1425.2,484.6 1426.4,476.5 1427.7,479.4 1429.0,470.6 1430.2,484.1 1431.5,459.5 1432.8,475.6 1434.0,477.5 1435.3,491.0 1436.6,466.5 1437.8,497.0 1439.1,495.6 1440.4,496.8 1441.6,465.4 1442.9,483.9 1444.2,492.4 1445.4,494.6 1446.7,472.9 1448.0,493.5 1449.2,496.5 1450.5,470.2 1451.8,495.4 1453.0,483.2 1454.3,478.8 1455.6,484.9 1456.9,479.4 1458.1,459.9 1459.4,485.8 1460.7,496.2 1461.9,504.2 1463.2,481.4 1464.5,483.4 1465.7,474.8 1467.0,485.0 1468.3,485.2 1469.5,488.5 1470.8,485.7 1472.1,505.3 1473.3,483.7 1474.6,477.0 1475.9,451.8 1477.1,471.6 1478.4,500.3 1479.7,453.8 1480.9,473.0 1482.2,490.8 1483.5,464.5 1484.7,476.8 1486.0,485.5 1487.3,485.5 1488.5,490.4 1489.8,475.3 1491.1,460.4 1492.3,480.1 1493.6,469.1 1494.9,447.9 1496.2,482.5 1497.4,470.6 1498.7,478.5 1500.0,489.1 1501.2,488.4 1502.5,473.5 1503.8,466.7 1505.0,453.2 1506.3,471.6 1507.6,461.6 1508.8,420.5 1510.1,458.8 1511.4,464.6 1512.6,463.9 1513.9,427.0 1515.2,461.3 1516.4,468.4 1517.7,459.4 1519.0,483.5 1520.2,474.5 1521.5,457.3 1522.8,459.5 1524.0,434.3 1525.3,468.2 1526.6,490.2 1527.8,438.4 1529.1,451.0 1530.4,483.4 1531.6,446.1 1532.9,466.3 1534.2,494.3 1535.5,472.7 1536.7,473.8 1538.0,441.3 1539.3,477.8 1540.5,469.4 1541.8,469.5 1543.1,470.9 1544.3,429.5 1545.6,461.3 1546.9,447.8 1548.1,454.7 1549.4,478.6 1550.7,460.0 1551.9,462.0 1553.2,470.4 1554.5,473.3 1555.7,473.4 1557.0,432.5 1558.3,448.5 1559.5,436.3 1560.8,448.3 1562.1,441.2 1563.3,499.9 1564.6,470.7 1565.9,468.0 1567.1,451.4 1568.4,463.4 1569.7,465.0 1571.0,462.1 1572.2,431.5 1573.5,426.4 1574.8,469.0 1576.0,475.2 1577.3,417.2 1578.6,475.7 1579.8,469.1 1581.1,459.1 1582.4,451.7 1583.6,442.8 1584.9,452.8 1586.2,473.0 1587.4,450.6 1588.7,454.6 1590.0,428.0 1591.2,458.5 1592.5,479.8 1593.8,474.9 1595.0,433.8 1596.3,465.7 1597.6,490.9 1598.8,465.4 1600.1,455.2 1601.4,435.0 1602.6,471.1 1603.9,442.5 1605.2,439.7 1606.4,464.3 1607.7,455.2 1609.0,421.5 1610.3,421.7 1611.5,435.8 1612.8,444.2 1614.1,429.7 1615.3,451.2 1616.6,449.9 1617.9,462.6 1619.1,447.0 1620.4,448.0 1621.7,397.4 1622.9,448.9 1624.2,422.5 1625.5,421.0 1626.7,389.9 1628.0,422.5 1629.3,481.8 1630.5,440.6 1631.8,426.3 1633.1,484.6 1634.3,461.2 1635.6,420.9 1636.9,444.3 1638.1,455.9 1639.4,386.6 1640.7,448.0 1641.9,415.0 1643.2,428.5 1644.5,433.2 1645.7,448.2 1647.0,426.4 1648.3,409.8 1649.6,427.6 1650.8,421.6 1652.1,435.9 1653.4,395.8 1654.6,445.0 1655.9,402.5 1657.2,409.2 1658.4,446.5 1659.7,459.7 1661.0,425.2 1662.2,433.2 1663.5,432.6 1664.8,431.4 1666.0,366.5 1667.3,417.4 1668.6,403.1 1669.8,402.9 1671.1,393.8 1672.4,403.6 1673.6,426.1 1674.9,419.5 1676.2,407.4 1677.4,423.2 1678.7,404.5 1680.0,391.0 1681.2,431.2 1682.5,450.9 1683.8,387.4 1685.0,411.5 1686.3,396.0 1687.6,438.9 1688.9,372.1 1690.1,392.7 1691.4,410.6 1692.7,414.7 1693.9,403.8 1695.2,409.1 1696.5,410.8 1697.7,428.7 1699.0,374.9 1700.3,340.8 1701.5,399.7 1702.8,398.5 1704.1,453.2 1705.3,387.0 1706.6,405.7 1707.9,404.0 1709.1,394.9 1710.4,417.1 1711.7,372.7 1712.9,401.3 1714.2,409.9 1715.5,389.5 1716.7,380.4 1718.0,363.8 1719.3,364.8 1720.5,415.8 1721.8,349.1 1723.1,401.0 1724.3,341.1 1725.6,371.1 1726.9,385.9 1728.2,382.5 1729.4,351.2 1730.7,337.6 1732.0,364.7 1733.2,331.4 1734.5,297.7 1735.8,358.9 1737.0,383.3 1738.3,378.8 1739.6,386.5 1740.8,363.2 1742.1,363.7 1743.4,379.3 1744.6,323.1 1745.9,413.8 1747.2,373.9 1748.4,271.9 1749.7,299.0 1751.0,312.4 1752.2,282.8 1753.5,269.3 1754.8,305.4 1756.0,205.7 1757.3,282.5 1758.6,286.7 1759.8,337.4 1761.1,325.2 1762.4,332.9 1763.6,309.1 1764.9,316.4 1766.2,211.6 1767.5,345.2 1768.7,302.8 1770.0,229.6 1771.3,288.5 1772.5,244.2 1773.8,242.3 1775.1,231.8 1776.3,248.7 1777.6,322.5 1778.9,152.1 1780.1,278.9 1781.4,319.8 1782.7,275.2 1783.9,302.2 1785.2,315.3 1786.5,238.3 1787.7,203.1 1789.0,267.1 1790.3,274.5 1791.5,254.5 1792.8,245.0 1794.1,242.1 1795.3,223.7 1796.6,237.3 1797.9,199.8 1799.1,191.6 1800.4,196.2 1801.7,69.0 1802.9,234.1 1804.2,185.5 1805.5,211.1 1806.8,201.9 1808.0,309.5 1809.3,317.2 1810.6,99.1 1811.8,130.2 1813.1,275.7 1814.4,152.7 1815.6,173.3 1816.9,180.5 1818.2,245.9 1819.4,134.9 1820.7,202.9 1822.0,148.0 1823.2,160.0 1824.5,73.1 1825.8,261.4 1827.0,193.6 1828.3,190.1 1829.6,213.7 1830.8,127.5 1832.1,97.2 1833.4,194.4 1834.6,123.1 1835.9,126.3 1837.2,147.6 1838.4,145.8 1839.7,231.5 1841.0,168.7 1842.2,114.4 1843.5,220.8 1844.8,192.4 1846.1,223.1 1847.3,178.8 1848.6,243.4 1849.9,123.6 1851.1,214.4 1852.4,267.9 1853.7,120.8 1854.9,159.7 1856.2,182.0 1857.5,183.7 1858.7,224.8 1860.0,221.1 1861.3,182.3 1862.5,176.4 1863.8,178.1 1865.1,211.0 1866.3,192.6 1867.6,232.4 1868.9,180.2 1870.1,169.0 1871.4,244.9 1872.7,252.6 1873.9,184.3 1875.2,102.9 1876.5,211.4 1877.7,288.9 1879.0,258.7 1880.3,266.3 1881.5,239.9 1882.8,317.3 1884.1,207.5 1885.4,249.6 1886.6,249.5 1887.9,314.0 1889.2,276.0 1890.4,231.9 1891.7,271.0 1893.0,278.5 1894.2,269.8 1895.5,321.9 1896.8,276.1 1898.0,318.7 1899.3,272.9 1900.6,300.5 1901.8,314.9 1903.1,264.9 1904.4,408.7 1905.6,297.1 1906.9,375.3 1908.2,363.8 1909.4,326.5 1910.7,329.7 1912.0,345.3 1913.2,339.1 1914.5,390.9 1915.8,359.5 1917.0,397.7 1918.3,361.4 1919.6,385.2 1920.8,391.5 1922.1,376.3 1923.4,335.2 1924.7,407.6 1925.9,399.9 1927.2,353.6 1928.5,400.4 1929.7,351.5 1931.0,390.3 1932.3,395.9 1933.5,392.4 1934.8,364.2 1936.1,391.1 1937.3,396.8 1938.6,405.1 1939.9,446.0 1941.1,431.9 1942.4,382.3 1943.7,396.6 1944.9,403.7 1946.2,401.3 1947.5,426.4 1948.7,362.1 1950.0,434.5 1951.3,407.9 1952.5,431.3 1953.8,388.9 1955.1,407.8 1956.3,424.3 1957.6,404.5 1958.9,408.9 1960.1,411.2 1961.4,391.8 1962.7,449.5 1964.0,452.3 1965.2,407.5 1966.5,401.3 1967.8,376.2 1969.0,405.8 1970.3,404.7 1971.6,439.7 1972.8,342.5 1974.1,474.2 1975.4,444.2 1976.6,441.3 1977.9,425.9 1979.2,418.3 1980.4,483.1 1981.7,423.3 1983.0,420.5 1984.2,429.0 1985.5,420.5 1986.8,417.2 1988.0,391.5 1989.3,418.7 1990.6,432.2 1991.8,446.1 1993.1,423.9 1994.4,375.8 1995.6,457.1 1996.9,460.5 1998.2,461.4 1999.4,391.4 2000.7,434.8 2002.0,431.3 2003.3,445.6 2004.5,448.8 2005.8,469.9 2007.1,428.0 2008.3,426.6 2009.6,469.6 2010.9,452.0 2012.1,446.5 2013.4,433.1 2014.7,428.2 2015.9,411.8 2017.2,401.6 2018.5,413.5 2019.7,408.6 2021.0,456.2 2022.3,444.9 2023.5,413.3 2024.8,429.6 2026.1,435.0 2027.3,472.6 2028.6,470.6 2029.9,422.5 2031.1,430.0 2032.4,442.2 2033.7,444.6 2034.9,469.2 2036.2,430.6 2037.5,418.6 2038.7,407.7 2040.0,437.4 2041.3,442.3 2042.6,458.9 2043.8,416.7 2045.1,408.2 2046.4,450.8 2047.6,434.6 2048.9,438.5 2050.2,450.9 2051.4,486.0 2052.7,447.6 2054.0,430.3 2055.2,467.6 2056.5,456.9 2057.8,501.1 2059.0,419.3 2060.3,397.0 2061.6,442.1 2062.8,448.0 2064.1,454.8 2065.4,445.1 2066.6,449.5 2067.9,433.2 2069.2,445.1 2070.4,440.7 2071.7,417.7 2073.0,470.9 2074.2,441.0 2075.5,456.8 2076.8,466.1 2078.1,487.9 2079.3,436.1 2080.6,464.2 2081.9,460.4 2083.1,439.5 2084.4,466.7 2085.7,447.7 2086.9,449.7 2088.2,434.9 2089.5,431.6 2090.7,460.4 2092.0,433.8 2093.3,451.5 2094.5,448.0 2095.8,454.0 2097.1,437.4 2098.3,471.5 2099.6,446.7 2100.9,431.5 2102.1,456.5 2103.4,417.7 2104.7,464.7 2105.9,448.9 2107.2,460.9 2108.5,463.4 2109.7,472.0 2111.0,462.6 2112.3,454.7 2113.5,467.6 2114.8,440.0 2116.1,430.0 2117.4,480.8 2118.6,410.8 2119.9,453.4 2121.2,453.0 2122.4,417.3 2123.7,438.3 2125.0,452.9 2126.2,455.8 2127.5,493.9 2128.8,447.1 2130.0,471.9 2131.3,457.6 2132.6,459.3 2133.8,446.0 2135.1,429.6 2136.4,446.7 2137.6,442.6 2138.9,466.8 2140.2,456.4 2141.4,452.0 2142.7,483.8 2144.0,433.3 2145.2,476.4 2146.5,485.4 2147.8,441.2 2149.0,434.3 2150.3,477.8 2151.6,476.9 2152.8,421.0 2154.1,466.8 2155.4,498.8 2156.7,478.6 2157.9,439.9 2159.2,460.5 2160.5,459.6 2161.7,453.1 2163.0,448.9 2164.3,477.0 2165.5,495.9 2166.8,464.4 2168.1,489.7 2169.3,474.7 2170.6,448.8 2171.9,466.5 2173.1,473.5 2174.4,473.5 2175.7,464.0 2176.9,461.3 2178.2,493.6 2179.5,472.0 2180.7,450.1 2182.0,464.0 2183.3,485.9 2184.5,484.7 2185.8,504.7 2187.1,486.5 2188.3,452.1 2189.6,476.2 2190.9,487.6 2192.1,483.6 2193.4,477.0 2194.7,477.0 2196.0,468.7 2197.2,486.6 2198.5,466.6 2199.8,453.8 2201.0,484.0 2202.3,483.6 2203.6,459.0 2204.8,476.1 2206.1,484.6 2207.4,481.6 2208.6,473.9 2209.9,506.6 2211.2,489.0 2212.4,472.1 2213.7,493.4 2215.0,483.5 2216.2,505.4 2217.5,466.1 2218.8,501.4 2220.0,470.5 2221.3,467.5 2222.6,465.6 2223.8,479.5 2225.1,484.9 2226.4,476.0 2227.6,485.7 2228.9,495.5 2230.2,459.7 2231.4,490.1 2232.7,451.4 2234.0,505.3 2235.3,484.1 2236.5,471.6 2237.8,460.5 2239.1,497.2 2240.3,491.0 2241.6,492.7 2242.9,475.8 2244.1,454.0 2245.4,477.8 2246.7,488.5 2247.9,485.8 2249.2,461.8 2250.5,418.3 2251.7,461.4 2253.0,496.9 2254.3,463.8 2255.5,474.8 2256.8,475.3 2258.1,454.8 2259.3,467.5 2260.6,492.6 2261.9,492.5 2263.1,460.0 2264.4,476.4 2265.7,467.0 2266.9,452.0 2268.2,492.6 2269.5,475.0 2270.7,457.1 2272.0,474.1 2273.3,474.0 2274.6,483.2 2275.8,485.8 2277.1,476.5 2278.4,464.8 2279.6,451.7 2280.9,475.8 2282.2,484.8 2283.4,477.9 2284.7,478.8 2286.0,484.9 2287.2,467.4 2288.5,479.0 2289.8,495.2 2291.0,471.5 2292.3,484.0 2293.6,492.6 2294.8,472.3 2296.1,485.8 2297.4,455.0 2298.6,472.5 2299.9,478.0 2301.2,489.5 2302.4,484.7 2303.7,453.1 2305.0,488.7 2306.2,468.7 2307.5,508.2 2308.8,476.5 2310.0,468.0 2311.3,474.6 2312.6,430.4 2313.9,465.4 2315.1,491.1 2316.4,492.9 2317.7,477.9 2318.9,462.8 2320.2,473.4 2321.5,482.0 2322.7,475.2 2324.0,453.5 2325.3,496.5 2326.5,518.1 2327.8,493.5 2329.1,499.9 2330.3,487.3 2331.6,432.9 2332.9,491.3 2334.1,473.4 2335.4,478.0 2336.7,479.6 2337.9,456.4 2339.2,485.6 2340.5,484.4 2341.7,461.8 2343.0,494.5 2344.3,501.6 2345.5,458.8 2346.8,474.5 2348.1,470.8 2349.3,470.3 2350.6,466.6 2351.9,485.5 2353.2,480.0 2354.4,494.3 2355.7,477.0 2357.0,475.7 2358.2,485.1 2359.5,469.7 2360.8,438.2 2362.0,494.7 2363.3,467.3 2364.6,465.7 2365.8,464.0 2367.1,486.0 2368.4,462.2 2369.6,469.6 2370.9,480.3 2372.2,458.2 2373.4,475.1 2374.7,465.6 2376.0,466.3 2377.2,446.9 2378.5,483.2 2379.8,469.8 2381.0,484.2 2382.3,467.5 2383.6,476.4 2384.8,486.5"/><polyline fill="none" stroke="#e01010" stroke-width="4" stroke-linejoin="round" points="1340.5,486.5 1343.9,486.5 1347.4,486.5 1350.8,486.5 1354.3,486.5 1357.7,486.5 1361.2,486.5 1364.7,486.5 1368.1,486.5 1371.6,486.5 1375.0,486.5 1378.5,486.5 1381.9,486.5 1385.4,486.5 1388.9,486.5 1392.3,486.5 1395.8,486.5 1399.2,486.5 1402.7,486.5 1406.1,486.5 1409.6,486.5 1413.1,486.5 1416.5,486.5 1420.0,486.5 1423.4,486.5 1426.9,486.5 1430.3,486.5 1433.8,486.5 1437.3,486.5 1440.7,486.5 1444.2,486.5 1447.6,486.5 1451.1,486.5 1454.5,486.5 1458.0,486.5 1461.5,486.5 1464.9,486.5 1468.4,486.5 1471.8,486.5 1475.3,486.5 1478.8,486.5 1482.2,486.5 1485.7,486.5 1489.1,486.5 1492.6,486.5 1496.0,486.5 1499.5,486.5 1503.0,486.5 1506.4,486.5 1509.9,486.5 1513.3,486.5 1516.8,486.4 1520.2,486.4 1523.7,486.4 1527.2,486.4 1530.6,486.4 1534.1,486.4 1537.5,486.3 1541.0,486.3 1544.4,486.3 1547.9,486.2 1551.4,486.2 1554.8,486.1 1558.3,486.0 1561.7,486.0 1565.2,485.9 1568.6,485.8 1572.1,485.6 1575.6,485.5 1579.0,485.3 1582.5,485.1 1585.9,484.9 1589.4,484.6 1592.8,484.3 1596.3,484.0 1599.8,483.6 1603.2,483.2 1606.7,482.7 1610.1,482.1 1613.6,481.5 1617.0,480.8 1620.5,480.0 1624.0,479.1 1627.4,478.1 1630.9,477.0 1634.3,475.8 1637.8,474.5 1641.3,473.0 1644.7,471.4 1648.2,469.6 1651.6,467.6 1655.1,465.4 1658.5,463.1 1662.0,460.5 1665.5,457.8 1668.9,454.8 1672.4,451.5 1675.8,448.1 1679.3,444.3 1682.7,440.3 1686.2,436.1 1689.7,431.5 1693.1,426.7 1696.6,421.6 1700.0,416.2 1703.5,410.6 1706.9,404.6 1710.4,398.4 1713.9,391.9 1717.3,385.2 1720.8,378.2 1724.2,371.0 1727.7,363.5 1731.1,355.9 1734.6,348.1 1738.1,340.1 1741.5,332.0 1745.0,323.9 1748.4,315.6 1751.9,307.4 1755.3,299.1 1758.8,290.9 1762.3,282.8 1765.7,274.8 1769.2,266.9 1772.6,259.2 1776.1,251.8 1779.6,244.7 1783.0,237.9 1786.5,231.5 1789.9,225.4 1793.4,219.8 1796.8,214.6 1800.3,210.0 1803.8,205.9 1807.2,202.3 1810.7,199.3 1814.1,196.9 1817.6,195.2 1821.0,194.0 1824.5,193.5 1828.0,193.6 1831.4,194.3 1834.9,195.7 1838.3,197.7 1841.8,200.3 1845.2,203.4 1848.7,207.2 1852.2,211.5 1855.6,216.3 1859.1,221.6 1862.5,227.4 1866.0,233.6 1869.4,240.1 1872.9,247.1 1876.4,254.3 1879.8,261.8 1883.3,269.5 1886.7,277.4 1890.2,285.5 1893.7,293.6 1897.1,301.9 1900.6,310.1 1904.0,318.4 1907.5,326.6 1910.9,334.7 1914.4,342.8 1917.9,350.7 1921.3,358.5 1924.8,366.0 1928.2,373.4 1931.7,380.5 1935.1,387.4 1938.6,394.1 1942.1,400.5 1945.5,406.6 1949.0,412.5 1952.4,418.0 1955.9,423.3 1959.3,428.3 1962.8,433.1 1966.3,437.5 1969.7,441.7 1973.2,445.6 1976.6,449.2 1980.1,452.6 1983.5,455.8 1987.0,458.7 1990.5,461.4 1993.9,463.9 1997.4,466.2 2000.8,468.3 2004.3,470.2 2007.7,471.9 2011.2,473.5 2014.7,474.9 2018.1,476.2 2021.6,477.4 2025.0,478.5 2028.5,479.4 2032.0,480.3 2035.4,481.0 2038.9,481.7 2042.3,482.3 2045.8,482.8 2049.2,483.3 2052.7,483.7 2056.2,484.1 2059.6,484.4 2063.1,484.7 2066.5,485.0 2070.0,485.2 2073.4,485.4 2076.9,485.5 2080.4,485.7 2083.8,485.8 2087.3,485.9 2090.7,486.0 2094.2,486.1 2097.6,486.1 2101.1,486.2 2104.6,486.2 2108.0,486.3 2111.5,486.3 2114.9,486.3 2118.4,486.4 2121.8,486.4 2125.3,486.4 2128.8,486.4 2132.2,486.4 2135.7,486.5 2139.1,486.5 2142.6,486.5 2146.0,486.5 2149.5,486.5 2153.0,486.5 2156.4,486.5 2159.9,486.5 2163.3,486.5 2166.8,486.5 2170.2,486.5 2173.7,486.5 2177.2,486.5 2180.6,486.5 2184.1,486.5 2187.5,486.5 2191.0,486.5 2194.5,486.5 2197.9,486.5 2201.4,486.5 2204.8,486.5 2208.3,486.5 2211.7,486.5 2215.2,486.5 2218.7,486.5 2222.1,486.5 2225.6,486.5 2229.0,486.5 2232.5,486.5 2235.9,486.5 2239.4,486.5 2242.9,486.5 2246.3,486.5 2249.8,486.5 2253.2,486.5 2256.7,486.5 2260.1,486.5 2263.6,486.5 2267.1,486.5 2270.5,486.5 2274.0,486.5 2277.4,486.5 2280.9,486.5 2284.3,486.5 2287.8,486.5 2291.3,486.5 2294.7,486.5 2298.2,486.5 2301.6,486.5 2305.1,486.5 2308.6,486.5 2312.0,486.5 2315.5,486.5 2318.9,486.5 2322.4,486.5 2325.8,486.5 2329.3,486.5 2332.8,486.5 2336.2,486.5 2339.7,486.5 2343.1,486.5 2346.6,486.5 2350.0,486.5 2353.5,486.5 2357.0,486.5 2360.4,486.5 2363.9,486.5 2367.3,486.5 2370.8,486.5 2374.2,486.5 2377.7,486.5 2381.2,486.5 2384.6,486.5 2388.1,486.5"/></g><rect x="156.5" y="1419.5" width="1039" height="52" fill="url(#cbl)" stroke="#000" stroke-width="5"/><rect x="1344.5" y="1419.5" width="1039" height="52" fill="url(#cbr)" stroke="#000" stroke-width="5"/><rect x="156.5" y="36.5" width="1039" height="491" fill="none" stroke="#000" stroke-width="7"/><rect x="1344.5" y="36.5" width="1039" height="491" fill="none" stroke="#000" stroke-width="7"/><rect x="156.5" y="584.5" width="1039" height="688" fill="none" stroke="#000" stroke-width="7"/><rect x="1344.5" y="584.5" width="1039" height="688" fill="none" stroke="#000" stroke-width="7"/><path d="M221.50 527.50v19.5M221.50 1272.50v19.5M1363.50 527.50v19.5M1363.50 1272.50v19.5M336.75 527.50v19.5M336.75 1272.50v19.5M1478.75 527.50v19.5M1478.75 1272.50v19.5M452.00 527.50v19.5M452.00 1272.50v19.5M1594.00 527.50v19.5M1594.00 1272.50v19.5M567.25 527.50v19.5M567.25 1272.50v19.5M1709.25 527.50v19.5M1709.25 1272.50v19.5M682.50 527.50v19.5M682.50 1272.50v19.5M1824.50 527.50v19.5M1824.50 1272.50v19.5M797.75 527.50v19.5M797.75 1272.50v19.5M1939.75 527.50v19.5M1939.75 1272.50v19.5M913.00 527.50v19.5M913.00 1272.50v19.5M2055.00 527.50v19.5M2055.00 1272.50v19.5M1028.25 527.50v19.5M1028.25 1272.50v19.5M2170.25 527.50v19.5M2170.25 1272.50v19.5M1143.50 527.50v19.5M1143.50 1272.50v19.5M2285.50 527.50v19.5M2285.50 1272.50v19.5M156.50 484.50h-19.5M156.50 363.50h-19.5M156.50 242.50h-19.5M156.50 121.50h-19.5M1344.50 486.50h-19.5M1344.50 404.64h-19.5M1344.50 322.78h-19.5M1344.50 240.92h-19.5M1344.50 159.06h-19.5M1344.50 77.20h-19.5M156.50 1264.60h-19.5M156.50 1138.18h-19.5M156.50 1011.76h-19.5M156.50 885.34h-19.5M156.50 758.92h-19.5M156.50 632.50h-19.5M1344.50 1232.50h-19.5M1344.50 1153.88h-19.5M1344.50 1075.25h-19.5M1344.50 996.62h-19.5M1344.50 918.00h-19.5M1344.50 839.38h-19.5M1344.50 760.75h-19.5M1344.50 682.12h-19.5M1344.50 603.50h-19.5M156.50 1471.50v19.5M382.35 1471.50v19.5M608.20 1471.50v19.5M834.05 1471.50v19.5M1059.90 1471.50v19.5M1344.50 1471.50v19.5M1474.38 1471.50v19.5M1604.25 1471.50v19.5M1734.12 1471.50v19.5M1864.00 1471.50v19.5M1993.88 1471.50v19.5M2123.75 1471.50v19.5M2253.62 1471.50v19.5M2383.50 1471.50v19.5" stroke="#000" stroke-width="5" fill="none"/><g font-family="Liberation Sans, sans-serif" fill="#000"><text x="221.5" y="1332.0" text-anchor="middle" font-size="33.5">-400</text><text x="1363.5" y="1332.0" text-anchor="middle" font-size="33.5">-400</text><text x="336.8" y="1332.0" text-anchor="middle" font-size="33.5">-300</text><text x="1478.8" y="1332.0" text-anchor="middle" font-size="33.5">-300</text><text x="452.0" y="1332.0" text-anchor="middle" font-size="33.5">-200</text><text x="1594.0" y="1332.0" text-anchor="middle" font-size="33.5">-200</text><text x="567.2" y="1332.0" text-anchor="middle" font-size="33.5">-100</text><text x="1709.2" y="1332.0" text-anchor="middle" font-size="33.5">-100</text><text x="682.5" y="1332.0" text-anchor="middle" font-size="33.5">0</text><text x="1824.5" y="1332.0" text-anchor="middle" font-size="33.5">0</text><text x="797.8" y="1332.0" text-anchor="middle" font-size="33.5">100</text><text x="1939.8" y="1332.0" text-anchor="middle" font-size="33.5">100</text><text x="913.0" y="1332.0" text-anchor="middle" font-size="33.5">200</text><text x="2055.0" y="1332.0" text-anchor="middle" font-size="33.5">200</text><text x="1028.2" y="1332.0" text-anchor="middle" font-size="33.5">300</text><text x="2170.2" y="1332.0" text-anchor="middle" font-size="33.5">300</text><text x="1143.5" y="1332.0" text-anchor="middle" font-size="33.5">400</text><text x="2285.5" y="1332.0" text-anchor="middle" font-size="33.5">400</text><text x="119.5" y="496.0" text-anchor="end" font-size="33.5">0.0</text><text x="119.5" y="375.0" text-anchor="end" font-size="33.5">0.5</text><text x="119.5" y="254.0" text-anchor="end" font-size="33.5">1.0</text><text x="119.5" y="133.0" text-anchor="end" font-size="33.5">1.5</text><text x="1307.5" y="498.0" text-anchor="end" font-size="33.5">0.00</text><text x="1307.5" y="416.1" text-anchor="end" font-size="33.5">0.02</text><text x="1307.5" y="334.3" text-anchor="end" font-size="33.5">0.04</text><text x="1307.5" y="252.4" text-anchor="end" font-size="33.5">0.06</text><text x="1307.5" y="170.6" text-anchor="end" font-size="33.5">0.08</text><text x="1307.5" y="88.7" text-anchor="end" font-size="33.5">0.10</text><text x="119.5" y="1276.1" text-anchor="end" font-size="33.5">550</text><text x="119.5" y="1149.7" text-anchor="end" font-size="33.5">650</text><text x="119.5" y="1023.3" text-anchor="end" font-size="33.5">750</text><text x="119.5" y="896.8" text-anchor="end" font-size="33.5">850</text><text x="119.5" y="770.4" text-anchor="end" font-size="33.5">950</text><text x="119.5" y="644.0" text-anchor="end" font-size="33.5">1050</text><text x="1307.5" y="1244.0" text-anchor="end" font-size="33.5">1800</text><text x="1307.5" y="1165.4" text-anchor="end" font-size="33.5">1900</text><text x="1307.5" y="1086.8" text-anchor="end" font-size="33.5">2000</text><text x="1307.5" y="1008.1" text-anchor="end" font-size="33.5">2100</text><text x="1307.5" y="929.5" text-anchor="end" font-size="33.5">2200</text><text x="1307.5" y="850.9" text-anchor="end" font-size="33.5">2300</text><text x="1307.5" y="772.2" text-anchor="end" font-size="33.5">2400</text><text x="1307.5" y="693.6" text-anchor="end" font-size="33.5">2500</text><text x="1307.5" y="615.0" text-anchor="end" font-size="33.5">2600</text><text x="156.5" y="1532.5" text-anchor="middle" font-size="33.5">0.0</text><text x="382.4" y="1532.5" text-anchor="middle" font-size="33.5">0.5</text><text x="608.2" y="1532.5" text-anchor="middle" font-size="33.5">1.0</text><text x="834.0" y="1532.5" text-anchor="middle" font-size="33.5">1.5</text><text x="1059.9" y="1532.5" text-anchor="middle" font-size="33.5">2.0</text><text x="1344.5" y="1532.5" text-anchor="middle" font-size="33.5">0.00</text><text x="1474.4" y="1532.5" text-anchor="middle" font-size="33.5">0.02</text><text x="1604.2" y="1532.5" text-anchor="middle" font-size="33.5">0.04</text><text x="1734.1" y="1532.5" text-anchor="middle" font-size="33.5">0.06</text><text x="1864.0" y="1532.5" text-anchor="middle" font-size="33.5">0.08</text><text x="1993.9" y="1532.5" text-anchor="middle" font-size="33.5">0.10</text><text x="2123.8" y="1532.5" text-anchor="middle" font-size="33.5">0.12</text><text x="2253.6" y="1532.5" text-anchor="middle" font-size="33.5">0.14</text><text x="2383.5" y="1532.5" text-anchor="middle" font-size="33.5">0.16</text><text x="675.0" y="1377.2" text-anchor="middle" font-size="34">Time (seconds)</text><text x="1864.0" y="1377.2" text-anchor="middle" font-size="34">Time (seconds)</text><text x="676.0" y="1583.0" text-anchor="middle" font-size="34">Flux density (Jy)</text><text x="1864.0" y="1583.0" text-anchor="middle" font-size="34">Flux density (Jy)</text><text x="1174.0" y="102.9" text-anchor="end" font-size="34">816 MHz (UHF-band)</text><text x="2361.0" y="102.9" text-anchor="end" font-size="34">2187.5 MHz (S-band)</text><text transform="translate(39.3 282.4) rotate(-90)" text-anchor="middle" font-size="34">Flux density (Jy)</text><text transform="translate(38.9 922.2) rotate(-90)" text-anchor="middle" font-size="34">Frequency (MHz)</text></g></svg></body></html>
